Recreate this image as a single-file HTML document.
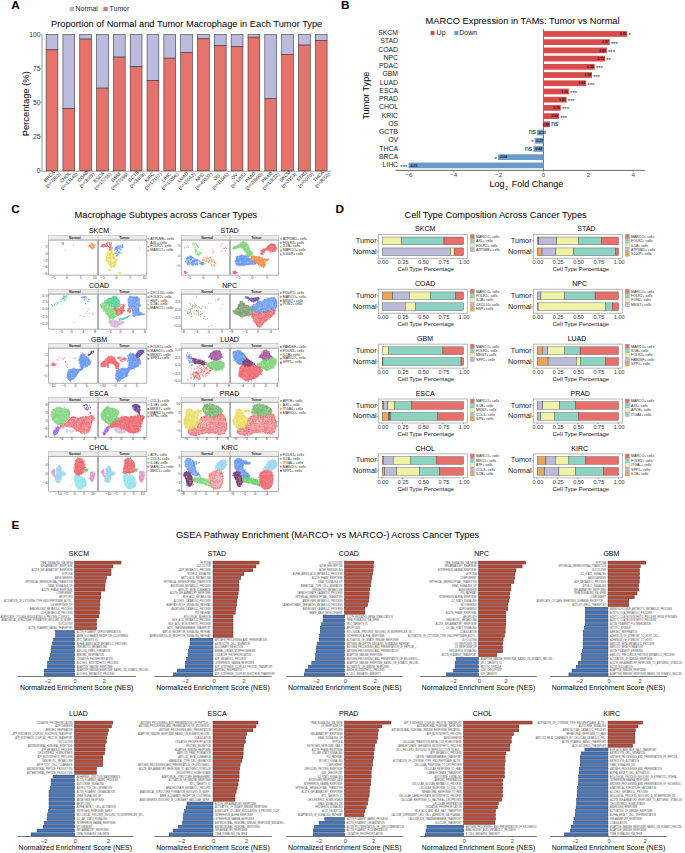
<!DOCTYPE html>
<html><head><meta charset="utf-8"><title>Figure</title>
<style>html,body{margin:0;padding:0;background:#fff;}svg{display:block;}text{font-family:"Liberation Sans",sans-serif;}</style>
</head><body>
<svg width="685" height="853" viewBox="0 0 685 853" font-family="Liberation Sans, sans-serif">
<rect width="685" height="853" fill="#fff"/>
<text x="11.30" y="9.30" font-size="11.8" font-weight="bold">A</text>
<rect x="69.90" y="7.00" width="4.00" height="4.00" fill="#BBBBDD" stroke="#999" stroke-width="0.3"/>
<text x="75.60" y="11.00" font-size="6.9" fill="#222">Normal</text>
<rect x="103.60" y="7.00" width="4.00" height="4.00" fill="#E5736C" stroke="#999" stroke-width="0.3"/>
<text x="109.60" y="11.00" font-size="6.9" fill="#222">Tumor</text>
<text x="51.00" y="27.30" font-size="9.27">Proportion of Normal and Tumor Macrophage in Each Tumor Type</text>
<line x1="42.00" y1="34.60" x2="42.00" y2="171.30" stroke="#8a8a8a" stroke-width="0.9"/>
<line x1="41.60" y1="171.20" x2="330.90" y2="171.20" stroke="#a8a8a8" stroke-width="1.0"/>
<line x1="40.60" y1="170.80" x2="42.00" y2="170.80" stroke="#8a8a8a" stroke-width="0.6"/>
<text x="40.60" y="173.20" font-size="6.8" text-anchor="end" fill="#333">0</text>
<line x1="40.60" y1="136.75" x2="42.00" y2="136.75" stroke="#8a8a8a" stroke-width="0.6"/>
<text x="40.60" y="139.15" font-size="6.8" text-anchor="end" fill="#333">25</text>
<line x1="40.60" y1="102.70" x2="42.00" y2="102.70" stroke="#8a8a8a" stroke-width="0.6"/>
<text x="40.60" y="105.10" font-size="6.8" text-anchor="end" fill="#333">50</text>
<line x1="40.60" y1="68.65" x2="42.00" y2="68.65" stroke="#8a8a8a" stroke-width="0.6"/>
<text x="40.60" y="71.05" font-size="6.8" text-anchor="end" fill="#333">75</text>
<line x1="40.60" y1="34.60" x2="42.00" y2="34.60" stroke="#8a8a8a" stroke-width="0.6"/>
<text x="40.60" y="37.00" font-size="6.8" text-anchor="end" fill="#333">100</text>
<text x="0.00" y="0.00" font-size="9.4" text-anchor="middle" transform="translate(29.4 103.8) rotate(-90)">Percentage (%)</text>
<rect x="46.10" y="34.60" width="11.78" height="15.25" fill="#BBBBDD" stroke="#3a3a3a" stroke-width="0.6"/>
<rect x="46.10" y="49.85" width="11.78" height="120.95" fill="#E5736C" stroke="#3a3a3a" stroke-width="0.6"/>
<line x1="51.99" y1="170.80" x2="51.99" y2="171.80" stroke="#8a8a8a" stroke-width="0.5"/>
<text x="50.51" y="177.43" font-size="4.8" text-anchor="middle" fill="#222" transform="rotate(-45 50.51 177.43)">BRCA</text>
<text x="54.32" y="181.25" font-size="4.8" text-anchor="middle" fill="#222" transform="rotate(-45 54.32 181.25)">(n=7862)</text>
<rect x="62.92" y="34.60" width="11.78" height="73.96" fill="#BBBBDD" stroke="#3a3a3a" stroke-width="0.6"/>
<rect x="62.92" y="108.56" width="11.78" height="62.24" fill="#E5736C" stroke="#3a3a3a" stroke-width="0.6"/>
<line x1="68.81" y1="170.80" x2="68.81" y2="171.80" stroke="#8a8a8a" stroke-width="0.5"/>
<text x="66.38" y="178.38" font-size="4.8" text-anchor="middle" fill="#222" transform="rotate(-45 66.38 178.38)">CHOL</text>
<text x="70.20" y="182.20" font-size="4.8" text-anchor="middle" fill="#222" transform="rotate(-45 70.20 182.20)">(n=13140)</text>
<rect x="79.75" y="34.60" width="11.78" height="4.49" fill="#BBBBDD" stroke="#3a3a3a" stroke-width="0.6"/>
<rect x="79.75" y="39.09" width="11.78" height="131.71" fill="#E5736C" stroke="#3a3a3a" stroke-width="0.6"/>
<line x1="85.64" y1="170.80" x2="85.64" y2="171.80" stroke="#8a8a8a" stroke-width="0.5"/>
<text x="84.16" y="177.43" font-size="4.8" text-anchor="middle" fill="#222" transform="rotate(-45 84.16 177.43)">COAD</text>
<text x="87.97" y="181.25" font-size="4.8" text-anchor="middle" fill="#222" transform="rotate(-45 87.97 181.25)">(n=3669)</text>
<rect x="96.57" y="34.60" width="11.78" height="53.53" fill="#BBBBDD" stroke="#3a3a3a" stroke-width="0.6"/>
<rect x="96.57" y="88.13" width="11.78" height="82.67" fill="#E5736C" stroke="#3a3a3a" stroke-width="0.6"/>
<line x1="102.46" y1="170.80" x2="102.46" y2="171.80" stroke="#8a8a8a" stroke-width="0.5"/>
<text x="100.03" y="178.38" font-size="4.8" text-anchor="middle" fill="#222" transform="rotate(-45 100.03 178.38)">ESCA</text>
<text x="103.85" y="182.20" font-size="4.8" text-anchor="middle" fill="#222" transform="rotate(-45 103.85 182.20)">(n=15755)</text>
<rect x="113.40" y="34.60" width="11.78" height="22.47" fill="#BBBBDD" stroke="#3a3a3a" stroke-width="0.6"/>
<rect x="113.40" y="57.07" width="11.78" height="113.73" fill="#E5736C" stroke="#3a3a3a" stroke-width="0.6"/>
<line x1="119.29" y1="170.80" x2="119.29" y2="171.80" stroke="#8a8a8a" stroke-width="0.5"/>
<text x="116.86" y="178.38" font-size="4.8" text-anchor="middle" fill="#222" transform="rotate(-45 116.86 178.38)">GBM</text>
<text x="120.67" y="182.20" font-size="4.8" text-anchor="middle" fill="#222" transform="rotate(-45 120.67 182.20)">(n=27699)</text>
<rect x="130.22" y="34.60" width="11.78" height="32.14" fill="#BBBBDD" stroke="#3a3a3a" stroke-width="0.6"/>
<rect x="130.22" y="66.74" width="11.78" height="104.06" fill="#E5736C" stroke="#3a3a3a" stroke-width="0.6"/>
<line x1="136.11" y1="170.80" x2="136.11" y2="171.80" stroke="#8a8a8a" stroke-width="0.5"/>
<text x="134.63" y="177.43" font-size="4.8" text-anchor="middle" fill="#222" transform="rotate(-45 134.63 177.43)">GCTB</text>
<text x="138.45" y="181.25" font-size="4.8" text-anchor="middle" fill="#222" transform="rotate(-45 138.45 181.25)">(n=3469)</text>
<rect x="147.05" y="34.60" width="11.78" height="46.04" fill="#BBBBDD" stroke="#3a3a3a" stroke-width="0.6"/>
<rect x="147.05" y="80.64" width="11.78" height="90.16" fill="#E5736C" stroke="#3a3a3a" stroke-width="0.6"/>
<line x1="152.94" y1="170.80" x2="152.94" y2="171.80" stroke="#8a8a8a" stroke-width="0.5"/>
<text x="150.51" y="178.38" font-size="4.8" text-anchor="middle" fill="#222" transform="rotate(-45 150.51 178.38)">KIRC</text>
<text x="154.32" y="182.20" font-size="4.8" text-anchor="middle" fill="#222" transform="rotate(-45 154.32 182.20)">(n=12157)</text>
<rect x="163.88" y="34.60" width="11.78" height="23.56" fill="#BBBBDD" stroke="#3a3a3a" stroke-width="0.6"/>
<rect x="163.88" y="58.16" width="11.78" height="112.64" fill="#E5736C" stroke="#3a3a3a" stroke-width="0.6"/>
<line x1="169.76" y1="170.80" x2="169.76" y2="171.80" stroke="#8a8a8a" stroke-width="0.5"/>
<text x="167.33" y="178.38" font-size="4.8" text-anchor="middle" fill="#222" transform="rotate(-45 167.33 178.38)">LIHC</text>
<text x="171.15" y="182.20" font-size="4.8" text-anchor="middle" fill="#222" transform="rotate(-45 171.15 182.20)">(n=10396)</text>
<rect x="180.70" y="34.60" width="11.78" height="17.84" fill="#BBBBDD" stroke="#3a3a3a" stroke-width="0.6"/>
<rect x="180.70" y="52.44" width="11.78" height="118.36" fill="#E5736C" stroke="#3a3a3a" stroke-width="0.6"/>
<line x1="186.59" y1="170.80" x2="186.59" y2="171.80" stroke="#8a8a8a" stroke-width="0.5"/>
<text x="184.16" y="178.38" font-size="4.8" text-anchor="middle" fill="#222" transform="rotate(-45 184.16 178.38)">LUAD</text>
<text x="187.97" y="182.20" font-size="4.8" text-anchor="middle" fill="#222" transform="rotate(-45 187.97 182.20)">(n=15012)</text>
<rect x="197.52" y="34.60" width="11.78" height="4.22" fill="#BBBBDD" stroke="#3a3a3a" stroke-width="0.6"/>
<rect x="197.52" y="38.82" width="11.78" height="131.98" fill="#E5736C" stroke="#3a3a3a" stroke-width="0.6"/>
<line x1="203.41" y1="170.80" x2="203.41" y2="171.80" stroke="#8a8a8a" stroke-width="0.5"/>
<text x="200.98" y="178.38" font-size="4.8" text-anchor="middle" fill="#222" transform="rotate(-45 200.98 178.38)">NPC</text>
<text x="204.80" y="182.20" font-size="4.8" text-anchor="middle" fill="#222" transform="rotate(-45 204.80 182.20)">(n=49337)</text>
<rect x="214.35" y="34.60" width="11.78" height="10.90" fill="#BBBBDD" stroke="#3a3a3a" stroke-width="0.6"/>
<rect x="214.35" y="45.50" width="11.78" height="125.30" fill="#E5736C" stroke="#3a3a3a" stroke-width="0.6"/>
<line x1="220.24" y1="170.80" x2="220.24" y2="171.80" stroke="#8a8a8a" stroke-width="0.5"/>
<text x="217.81" y="178.38" font-size="4.8" text-anchor="middle" fill="#222" transform="rotate(-45 217.81 178.38)">OS</text>
<text x="221.62" y="182.20" font-size="4.8" text-anchor="middle" fill="#222" transform="rotate(-45 221.62 182.20)">(n=11045)</text>
<rect x="231.17" y="34.60" width="11.78" height="11.99" fill="#BBBBDD" stroke="#3a3a3a" stroke-width="0.6"/>
<rect x="231.17" y="46.59" width="11.78" height="124.21" fill="#E5736C" stroke="#3a3a3a" stroke-width="0.6"/>
<line x1="237.06" y1="170.80" x2="237.06" y2="171.80" stroke="#8a8a8a" stroke-width="0.5"/>
<text x="235.58" y="177.43" font-size="4.8" text-anchor="middle" fill="#222" transform="rotate(-45 235.58 177.43)">OV</text>
<text x="239.40" y="181.25" font-size="4.8" text-anchor="middle" fill="#222" transform="rotate(-45 239.40 181.25)">(n=1255)</text>
<rect x="248.00" y="34.60" width="11.78" height="2.59" fill="#BBBBDD" stroke="#3a3a3a" stroke-width="0.6"/>
<rect x="248.00" y="37.19" width="11.78" height="133.61" fill="#E5736C" stroke="#3a3a3a" stroke-width="0.6"/>
<line x1="253.89" y1="170.80" x2="253.89" y2="171.80" stroke="#8a8a8a" stroke-width="0.5"/>
<text x="251.46" y="178.38" font-size="4.8" text-anchor="middle" fill="#222" transform="rotate(-45 251.46 178.38)">PAAD</text>
<text x="255.27" y="182.20" font-size="4.8" text-anchor="middle" fill="#222" transform="rotate(-45 255.27 182.20)">(n=20990)</text>
<rect x="264.82" y="34.60" width="11.78" height="63.88" fill="#BBBBDD" stroke="#3a3a3a" stroke-width="0.6"/>
<rect x="264.82" y="98.48" width="11.78" height="72.32" fill="#E5736C" stroke="#3a3a3a" stroke-width="0.6"/>
<line x1="270.71" y1="170.80" x2="270.71" y2="171.80" stroke="#8a8a8a" stroke-width="0.5"/>
<text x="268.28" y="178.38" font-size="4.8" text-anchor="middle" fill="#222" transform="rotate(-45 268.28 178.38)">PRAD</text>
<text x="272.10" y="182.20" font-size="4.8" text-anchor="middle" fill="#222" transform="rotate(-45 272.10 182.20)">(n=10622)</text>
<rect x="281.65" y="34.60" width="11.78" height="19.75" fill="#BBBBDD" stroke="#3a3a3a" stroke-width="0.6"/>
<rect x="281.65" y="54.35" width="11.78" height="116.45" fill="#E5736C" stroke="#3a3a3a" stroke-width="0.6"/>
<line x1="287.54" y1="170.80" x2="287.54" y2="171.80" stroke="#8a8a8a" stroke-width="0.5"/>
<text x="286.06" y="177.43" font-size="4.8" text-anchor="middle" fill="#222" transform="rotate(-45 286.06 177.43)">SKCM</text>
<text x="289.87" y="181.25" font-size="4.8" text-anchor="middle" fill="#222" transform="rotate(-45 289.87 181.25)">(n=3153)</text>
<rect x="298.48" y="34.60" width="11.78" height="10.49" fill="#BBBBDD" stroke="#3a3a3a" stroke-width="0.6"/>
<rect x="298.48" y="45.09" width="11.78" height="125.71" fill="#E5736C" stroke="#3a3a3a" stroke-width="0.6"/>
<line x1="304.37" y1="170.80" x2="304.37" y2="171.80" stroke="#8a8a8a" stroke-width="0.5"/>
<text x="302.88" y="177.43" font-size="4.8" text-anchor="middle" fill="#222" transform="rotate(-45 302.88 177.43)">STAD</text>
<text x="306.70" y="181.25" font-size="4.8" text-anchor="middle" fill="#222" transform="rotate(-45 306.70 181.25)">(n=5070)</text>
<rect x="315.30" y="34.60" width="11.78" height="5.86" fill="#BBBBDD" stroke="#3a3a3a" stroke-width="0.6"/>
<rect x="315.30" y="40.46" width="11.78" height="130.34" fill="#E5736C" stroke="#3a3a3a" stroke-width="0.6"/>
<line x1="321.19" y1="170.80" x2="321.19" y2="171.80" stroke="#8a8a8a" stroke-width="0.5"/>
<text x="319.71" y="177.43" font-size="4.8" text-anchor="middle" fill="#222" transform="rotate(-45 319.71 177.43)">THCA</text>
<text x="323.52" y="181.25" font-size="4.8" text-anchor="middle" fill="#222" transform="rotate(-45 323.52 181.25)">(n=8650)</text>
<text x="341.00" y="9.30" font-size="11.8" font-weight="bold">B</text>
<text x="425.60" y="23.80" font-size="9.25">MARCO Expression in TAMs: Tumor vs Normal</text>
<rect x="430.60" y="31.00" width="4.00" height="4.00" fill="#D94B4B"/>
<text x="436.60" y="35.00" font-size="7.0" fill="#222">Up</text>
<rect x="454.30" y="31.00" width="4.00" height="4.00" fill="#6B9BC9"/>
<text x="459.30" y="35.00" font-size="7.0" fill="#222">Down</text>
<line x1="543.50" y1="29.00" x2="543.50" y2="170.40" stroke="#444" stroke-width="0.7"/>
<rect x="543.50" y="31.08" width="83.74" height="5.75" fill="#D94B4B"/>
<text x="398.10" y="35.00" font-size="6.9" text-anchor="end" fill="#222">SKCM</text>
<text x="626.24" y="35.15" font-size="3.4" text-anchor="end" font-weight="bold" fill="#111">3.75</text>
<text x="628.44" y="37.45" font-size="6.0" fill="#222">*</text>
<rect x="543.50" y="39.29" width="66.23" height="5.75" fill="#D94B4B"/>
<text x="398.10" y="43.26" font-size="6.9" text-anchor="end" fill="#222">STAD</text>
<text x="608.73" y="43.37" font-size="3.4" text-anchor="end" font-weight="bold" fill="#111">2.97</text>
<text x="610.93" y="45.67" font-size="6.0" fill="#222">***</text>
<rect x="543.50" y="47.51" width="63.31" height="5.75" fill="#D94B4B"/>
<text x="398.10" y="51.51" font-size="6.9" text-anchor="end" fill="#222">COAD</text>
<text x="605.81" y="51.58" font-size="3.4" text-anchor="end" font-weight="bold" fill="#111">2.83</text>
<text x="608.01" y="53.88" font-size="6.0" fill="#222">***</text>
<rect x="543.50" y="55.72" width="61.51" height="5.75" fill="#D94B4B"/>
<text x="398.10" y="59.77" font-size="6.9" text-anchor="end" fill="#222">NPC</text>
<text x="604.01" y="59.80" font-size="3.4" text-anchor="end" font-weight="bold" fill="#111">2.75</text>
<text x="606.21" y="62.10" font-size="6.0" fill="#222">**</text>
<rect x="543.50" y="63.94" width="51.19" height="5.75" fill="#D94B4B"/>
<text x="398.10" y="68.02" font-size="6.9" text-anchor="end" fill="#222">PDAC</text>
<text x="593.69" y="68.01" font-size="3.4" text-anchor="end" font-weight="bold" fill="#111">2.29</text>
<text x="595.89" y="70.31" font-size="6.0" fill="#222">***</text>
<rect x="543.50" y="72.16" width="48.49" height="5.75" fill="#D94B4B"/>
<text x="398.10" y="76.28" font-size="6.9" text-anchor="end" fill="#222">GBM</text>
<text x="590.99" y="76.23" font-size="3.4" text-anchor="end" font-weight="bold" fill="#111">2.18</text>
<text x="593.19" y="78.53" font-size="6.0" fill="#222">***</text>
<rect x="543.50" y="80.37" width="42.65" height="5.75" fill="#D94B4B"/>
<text x="398.10" y="84.54" font-size="6.9" text-anchor="end" fill="#222">LUAD</text>
<text x="585.15" y="84.45" font-size="3.4" text-anchor="end" font-weight="bold" fill="#111">1.92</text>
<text x="587.36" y="86.75" font-size="6.0" fill="#222">***</text>
<rect x="543.50" y="88.59" width="25.37" height="5.75" fill="#D94B4B"/>
<text x="398.10" y="92.79" font-size="6.9" text-anchor="end" fill="#222">ESCA</text>
<text x="567.87" y="92.66" font-size="3.4" text-anchor="end" font-weight="bold" fill="#111">1.16</text>
<text x="570.07" y="94.96" font-size="6.0" fill="#222">***</text>
<rect x="543.50" y="96.80" width="23.12" height="5.75" fill="#D94B4B"/>
<text x="398.10" y="101.05" font-size="6.9" text-anchor="end" fill="#222">PRAD</text>
<text x="565.62" y="100.88" font-size="3.4" text-anchor="end" font-weight="bold" fill="#111">1.05</text>
<text x="567.82" y="103.18" font-size="6.0" fill="#222">***</text>
<rect x="543.50" y="105.02" width="17.29" height="5.75" fill="#D94B4B"/>
<text x="398.10" y="109.30" font-size="6.9" text-anchor="end" fill="#222">CHOL</text>
<text x="559.79" y="109.09" font-size="3.4" text-anchor="end" font-weight="bold" fill="#111">0.76</text>
<text x="561.99" y="111.39" font-size="6.0" fill="#222">***</text>
<rect x="543.50" y="113.23" width="15.49" height="5.75" fill="#D94B4B"/>
<text x="398.10" y="117.56" font-size="6.9" text-anchor="end" fill="#222">KRIC</text>
<text x="557.99" y="117.31" font-size="3.4" text-anchor="end" font-weight="bold" fill="#111">0.69</text>
<text x="560.19" y="119.61" font-size="6.0" fill="#222">***</text>
<rect x="543.50" y="121.45" width="6.51" height="5.75" fill="#D94B4B"/>
<text x="398.10" y="125.82" font-size="6.9" text-anchor="end" fill="#222">OS</text>
<text x="549.01" y="125.53" font-size="3.4" text-anchor="end" font-weight="bold" fill="#111">0.28</text>
<text x="551.21" y="126.13" font-size="6.8" fill="#111">ns</text>
<rect x="537.21" y="129.67" width="6.29" height="5.75" fill="#6B9BC9"/>
<text x="398.10" y="134.07" font-size="6.9" text-anchor="end" fill="#222">GCTB</text>
<text x="538.21" y="133.74" font-size="3.4" font-weight="bold" fill="#111">-0.29</text>
<text x="536.01" y="134.34" font-size="6.8" text-anchor="end" fill="#111">ns</text>
<rect x="534.74" y="137.88" width="8.76" height="5.75" fill="#6B9BC9"/>
<text x="398.10" y="142.33" font-size="6.9" text-anchor="end" fill="#222">OV</text>
<text x="535.74" y="141.96" font-size="3.4" font-weight="bold" fill="#111">-0.37</text>
<text x="533.54" y="144.26" font-size="6.0" text-anchor="end" fill="#222">*</text>
<rect x="533.40" y="146.10" width="10.10" height="5.75" fill="#6B9BC9"/>
<text x="398.10" y="150.58" font-size="6.9" text-anchor="end" fill="#222">THCA</text>
<text x="534.40" y="150.17" font-size="3.4" font-weight="bold" fill="#111">-0.44</text>
<text x="532.20" y="150.77" font-size="6.8" text-anchor="end" fill="#111">ns</text>
<rect x="498.15" y="154.31" width="45.35" height="5.75" fill="#6B9BC9"/>
<text x="398.10" y="158.84" font-size="6.9" text-anchor="end" fill="#222">BRCA</text>
<text x="499.15" y="158.39" font-size="3.4" font-weight="bold" fill="#111">-2.04</text>
<text x="496.95" y="160.69" font-size="6.0" text-anchor="end" fill="#222">*</text>
<rect x="408.58" y="162.53" width="134.92" height="5.75" fill="#6B9BC9"/>
<text x="398.10" y="167.10" font-size="6.9" text-anchor="end" fill="#222">LIHC</text>
<text x="409.58" y="166.61" font-size="3.4" font-weight="bold" fill="#111">-6.03</text>
<text x="407.38" y="168.91" font-size="6.0" text-anchor="end" fill="#222">***</text>
<line x1="395.50" y1="170.40" x2="645.00" y2="170.40" stroke="#444" stroke-width="0.8"/>
<line x1="408.80" y1="170.40" x2="408.80" y2="171.60" stroke="#444" stroke-width="0.5"/>
<text x="408.80" y="177.00" font-size="6.2" text-anchor="middle" fill="#444">−6</text>
<line x1="453.70" y1="170.40" x2="453.70" y2="171.60" stroke="#444" stroke-width="0.5"/>
<text x="453.70" y="177.00" font-size="6.2" text-anchor="middle" fill="#444">−4</text>
<line x1="498.60" y1="170.40" x2="498.60" y2="171.60" stroke="#444" stroke-width="0.5"/>
<text x="498.60" y="177.00" font-size="6.2" text-anchor="middle" fill="#444">−2</text>
<line x1="543.50" y1="170.40" x2="543.50" y2="171.60" stroke="#444" stroke-width="0.5"/>
<text x="543.50" y="177.00" font-size="6.2" text-anchor="middle" fill="#444">0</text>
<line x1="588.40" y1="170.40" x2="588.40" y2="171.60" stroke="#444" stroke-width="0.5"/>
<text x="588.40" y="177.00" font-size="6.2" text-anchor="middle" fill="#444">2</text>
<line x1="633.30" y1="170.40" x2="633.30" y2="171.60" stroke="#444" stroke-width="0.5"/>
<text x="633.30" y="177.00" font-size="6.2" text-anchor="middle" fill="#444">4</text>
<text x="489.60" y="187.20" font-size="9.0">Log</text>
<text x="505.30" y="189.60" font-size="4.8">2</text>
<text x="563.40" y="187.20" font-size="9.0" text-anchor="end">Fold Change</text>
<text x="0.00" y="0.00" font-size="9.05" text-anchor="middle" transform="translate(368.7 95.7) rotate(-90)">Tumor Type</text>
<text x="11.30" y="212.50" font-size="11.8" font-weight="bold">C</text>
<text x="74.50" y="218.30" font-size="9.3">Macrophage Subtypes across Cancer Types</text>
<text x="99.00" y="232.80" font-size="7.0" text-anchor="middle">SKCM</text>
<rect x="48.70" y="235.30" width="48.60" height="4.80" fill="#ECECEC" stroke="#B0B0B0" stroke-width="0.5"/>
<text x="74.80" y="238.90" font-size="3.4" text-anchor="middle" font-weight="bold" fill="#222">Normal</text>
<rect x="48.70" y="240.10" width="48.60" height="35.00" fill="#fff" stroke="#8c8c8c" stroke-width="0.7"/>
<path d="M62.9 242.6h0M63.6 243.2h0M62.1 242.5h0M63.3 244.3h0M62.3 242.8h0M63.8 243.2h0M62.3 242.6h0M62.9 244.3h0M62.5 243.7h0" stroke="#EE5B62" stroke-width="0.8" stroke-linecap="round" fill="none"/>
<path d="M73.4 245.4h0M65.4 250.4h0" stroke="#5B8FF2" stroke-width="0.8" stroke-linecap="round" fill="none"/>
<path d="M92.4 245.4h0M91.8 243.7h0M92.7 245.7h0M90.1 246.6h0M91.1 245.0h0M93.6 247.2h0M89.6 246.5h0M91.6 248.2h0M93.1 245.0h0M90.8 247.5h0M88.9 246.1h0M93.4 246.5h0M94.2 245.1h0M92.9 246.6h0M92.0 245.9h0M91.2 247.0h0M92.5 248.8h0M93.8 244.9h0M90.6 247.0h0M87.9 245.9h0M88.4 245.8h0M91.8 248.2h0M93.8 248.1h0M89.8 245.7h0M89.5 246.0h0M92.1 244.8h0M90.5 246.5h0M91.5 246.8h0M92.7 243.7h0M94.3 247.6h0M94.2 247.7h0M90.6 245.6h0M92.3 244.2h0M89.6 245.3h0M91.2 246.0h0M90.3 244.8h0M93.8 244.3h0M91.6 244.2h0M91.7 243.5h0M94.1 247.2h0M89.7 245.4h0M91.7 247.6h0M94.0 247.8h0M93.8 247.4h0M89.4 246.2h0M94.8 245.8h0M94.8 245.4h0M92.3 248.3h0M93.9 246.0h0M92.5 247.8h0M93.3 246.0h0M94.9 245.5h0M93.1 244.3h0M90.3 246.4h0M91.6 248.5h0" stroke="#F0873F" stroke-width="0.8" stroke-linecap="round" fill="none"/>
<rect x="98.40" y="235.30" width="48.40" height="4.80" fill="#ECECEC" stroke="#B0B0B0" stroke-width="0.5"/>
<text x="124.40" y="238.90" font-size="3.4" text-anchor="middle" font-weight="bold" fill="#222">Tumor</text>
<rect x="98.40" y="240.10" width="48.40" height="35.00" fill="#fff" stroke="#8c8c8c" stroke-width="0.7"/>
<path d="M111.3 243.9h0M103.6 244.6h0M103.4 247.1h0M103.7 245.7h0M105.0 246.0h0M107.0 246.6h0M107.3 242.2h0M106.1 243.6h0M102.5 246.1h0M110.0 246.9h0M104.6 246.5h0M101.6 246.9h0M103.5 244.5h0M110.6 246.4h0M108.5 246.4h0M106.3 246.7h0M109.6 249.6h0M111.5 243.2h0M101.8 245.9h0M110.8 249.8h0M109.1 243.3h0M105.6 246.3h0M102.4 245.8h0M107.2 245.0h0M102.8 244.8h0M109.9 242.2h0M107.7 245.9h0M108.6 246.5h0M110.8 250.4h0M111.2 244.3h0M109.5 245.7h0M106.3 245.0h0M107.3 244.1h0M104.4 244.7h0M110.4 244.6h0M106.9 243.6h0M110.1 246.8h0M102.7 246.2h0M111.2 245.8h0M105.5 246.4h0M109.5 250.5h0M109.7 247.5h0M105.7 245.1h0M111.9 247.8h0M104.0 244.2h0M104.1 246.0h0M102.3 245.9h0M104.4 245.1h0M106.6 246.4h0M102.9 246.4h0M101.4 245.5h0M104.3 244.1h0M108.1 246.6h0M110.3 247.7h0M109.9 249.6h0M105.4 244.9h0M110.0 247.6h0M112.2 247.5h0M110.1 249.1h0M102.1 246.6h0M111.1 249.2h0M109.4 248.0h0M102.0 245.2h0M111.0 248.5h0M107.0 246.7h0M109.1 242.6h0M110.1 244.2h0M110.0 243.8h0M110.2 250.5h0M106.9 245.4h0M110.5 247.4h0M108.9 242.7h0M110.2 244.7h0M107.9 242.2h0M109.3 248.0h0M109.3 244.6h0M107.2 246.1h0M106.5 243.1h0M111.3 250.4h0M106.3 244.4h0M103.0 247.1h0M102.1 246.6h0M111.3 246.4h0M112.2 248.1h0M100.2 246.3h0M106.3 244.7h0M102.1 245.0h0M111.5 243.1h0M105.2 245.4h0M105.1 245.8h0M103.6 244.4h0M107.1 243.7h0M112.1 249.1h0M109.9 242.5h0M110.1 245.9h0" stroke="#EE5B62" stroke-width="0.8" stroke-linecap="round" fill="none"/>
<path d="M120.8 252.1h0M122.5 245.7h0M118.2 248.4h0M116.5 253.3h0M123.0 247.3h0M119.9 247.8h0M119.0 249.0h0M118.4 246.8h0M118.0 245.8h0M116.9 245.2h0M116.0 247.3h0M120.8 249.2h0M117.6 250.6h0M117.3 248.3h0M118.5 251.9h0M121.9 246.8h0M116.3 247.2h0M117.5 249.6h0M122.0 244.4h0M117.4 255.6h0M122.9 247.2h0M118.7 252.6h0M119.8 253.6h0M118.0 251.0h0M119.8 247.9h0M114.9 247.2h0M119.7 252.8h0M118.7 251.3h0M117.4 246.9h0M116.6 249.8h0M115.9 247.2h0M118.4 252.5h0M117.7 247.3h0M116.9 249.3h0M120.2 246.6h0M121.3 253.3h0M118.5 246.7h0M121.5 247.0h0M115.8 253.5h0M116.5 255.9h0M118.4 246.4h0M115.8 249.3h0M115.1 249.0h0M114.3 249.0h0M120.0 248.8h0M117.2 248.2h0M116.3 248.5h0M122.8 245.6h0M122.8 246.7h0M117.1 254.3h0M121.5 249.5h0M117.2 255.5h0M115.5 248.6h0M122.2 244.5h0M117.6 254.2h0M122.4 247.3h0M116.9 247.5h0M116.2 253.0h0M116.7 247.5h0M115.9 250.0h0M117.4 247.2h0M117.8 250.2h0M122.5 246.4h0M121.3 253.3h0M119.5 248.2h0M116.7 248.6h0M121.1 245.1h0M115.6 253.5h0M114.6 250.3h0M120.4 249.7h0M115.9 249.3h0M119.6 252.5h0M120.0 245.6h0M121.7 247.8h0M119.1 248.7h0M120.7 246.6h0M116.0 247.2h0M119.2 248.2h0M118.5 247.0h0M118.2 254.3h0M116.2 253.8h0M122.7 245.4h0M119.4 251.8h0M115.8 248.7h0M116.1 251.5h0M119.9 246.6h0M120.1 246.4h0M116.7 246.6h0M121.2 250.9h0M117.4 250.9h0M119.8 245.2h0M115.2 252.7h0M117.6 247.6h0M116.6 255.9h0M116.7 251.1h0" stroke="#5B8FF2" stroke-width="0.8" stroke-linecap="round" fill="none"/>
<path d="M110.0 257.4h0M110.0 253.5h0M114.4 253.6h0M110.8 264.6h0M110.6 265.7h0M111.2 252.9h0M105.8 259.8h0M113.4 266.2h0M106.7 261.1h0M110.1 259.0h0M107.4 255.0h0M111.9 266.5h0M107.0 258.7h0M108.0 252.2h0M111.5 250.9h0M116.6 261.0h0M115.1 253.9h0M110.5 265.1h0M108.3 257.1h0M111.9 256.8h0M107.1 254.4h0M114.4 266.0h0M106.2 260.0h0M112.9 259.8h0M113.2 255.4h0M110.7 260.4h0M110.8 261.7h0M111.0 257.8h0M111.6 254.2h0M114.9 263.9h0M111.2 253.2h0M111.4 251.9h0M107.2 257.6h0M106.8 257.9h0M111.8 250.7h0M113.3 251.4h0M114.5 263.9h0M111.8 250.9h0M111.7 256.7h0M114.5 264.5h0M111.6 267.1h0M115.2 266.6h0M106.5 256.2h0M114.8 252.8h0M111.7 266.4h0M108.2 254.6h0M111.8 255.7h0M113.9 266.0h0M107.1 259.4h0M113.3 256.4h0M116.2 259.9h0M112.7 265.7h0M113.2 257.0h0M115.3 254.7h0M117.6 260.3h0M110.0 263.6h0M111.0 253.1h0M115.5 254.5h0M113.4 267.5h0M112.7 261.8h0M113.1 257.7h0M111.8 266.0h0M107.3 254.0h0M106.9 256.3h0M108.4 260.4h0M112.8 253.6h0M113.2 258.4h0M108.6 252.6h0M106.8 261.4h0M116.2 263.9h0M110.5 254.7h0M112.4 256.2h0M113.4 257.9h0M106.2 259.5h0M110.6 254.2h0M105.8 259.8h0M108.1 260.8h0M111.8 261.4h0M109.4 255.3h0M115.1 262.7h0M114.6 258.3h0M114.6 258.0h0M108.4 251.8h0M108.5 250.6h0M109.7 263.4h0M114.0 265.1h0M114.2 254.7h0M112.3 257.7h0M115.2 259.3h0M108.9 261.4h0M108.8 254.2h0M114.6 266.8h0M114.7 255.8h0M113.3 262.3h0M113.7 267.5h0M111.3 265.0h0M114.1 265.3h0M110.9 262.9h0M112.5 255.5h0M108.2 261.1h0M109.8 252.5h0M114.0 261.3h0M114.1 263.1h0M106.5 260.5h0M110.0 264.6h0M115.5 265.9h0M107.0 253.6h0M115.9 264.5h0M113.3 264.7h0M113.3 255.1h0M114.8 253.6h0M109.5 257.5h0M109.1 262.7h0M110.1 255.7h0M115.9 261.0h0M106.0 257.3h0M110.9 263.8h0M109.8 262.6h0M112.1 253.8h0M111.6 264.2h0M107.9 258.8h0M109.8 264.8h0M109.1 253.8h0M114.1 258.9h0M107.0 261.3h0M114.1 264.0h0M113.2 256.3h0M110.5 257.0h0M108.1 254.7h0M116.5 258.9h0M110.2 265.8h0M108.5 258.2h0M112.1 263.4h0M114.7 261.5h0M109.9 255.8h0M113.6 263.2h0M107.7 257.8h0M115.0 260.3h0M107.2 258.2h0M108.0 255.3h0M114.1 265.0h0M107.5 252.7h0M108.6 255.8h0M112.0 252.8h0M109.6 253.3h0M106.9 256.8h0M114.5 257.7h0M108.0 261.4h0M107.0 253.6h0M110.3 250.6h0M110.5 264.1h0M114.0 258.9h0M113.3 258.2h0M107.4 260.7h0M110.5 263.2h0M112.6 263.3h0M110.7 254.0h0M114.4 265.7h0M115.0 262.5h0M115.9 262.1h0M113.4 258.1h0M109.4 261.2h0M106.8 257.5h0M115.1 262.7h0M113.2 254.4h0M110.8 258.1h0M113.2 257.3h0M113.8 266.6h0M107.9 261.7h0M115.0 256.9h0M111.6 267.4h0M106.1 259.7h0M117.0 259.2h0M106.9 260.2h0M112.2 262.8h0M111.8 261.4h0M115.6 259.3h0M110.6 266.9h0M108.2 262.2h0M110.4 263.6h0M109.9 251.0h0M109.0 257.1h0M110.7 262.4h0M109.9 254.7h0M108.4 263.2h0M117.0 259.4h0M108.3 264.3h0M110.4 253.7h0M115.4 261.3h0M111.3 260.0h0M109.9 261.4h0M115.5 264.5h0M111.3 255.2h0M112.3 252.2h0M115.7 256.3h0M110.2 254.5h0M110.8 253.3h0M109.1 254.3h0M109.3 258.5h0M110.8 261.3h0M113.6 256.4h0M116.6 264.0h0M113.6 254.4h0M106.9 252.5h0M108.5 263.8h0M109.8 252.7h0M113.0 263.9h0M113.7 265.9h0M115.2 264.9h0M108.0 262.3h0M112.1 263.2h0M110.9 265.7h0M112.3 254.7h0M108.5 252.4h0M111.6 251.0h0M111.3 252.5h0M111.6 258.9h0M112.2 265.4h0M111.3 260.0h0M113.7 265.0h0M110.2 257.4h0M113.3 261.3h0M113.9 266.6h0M111.8 258.6h0M114.3 261.1h0M109.7 265.4h0M110.1 258.4h0M112.0 263.7h0M108.2 257.7h0M110.8 259.9h0M110.0 269.5h0M110.0 269.8h0M109.1 269.5h0M109.5 270.5h0M108.7 269.6h0M108.6 270.1h0M109.5 270.5h0M110.1 270.0h0M118.2 272.5h0M118.1 272.2h0M120.6 273.1h0M119.9 273.5h0M120.5 273.1h0M119.7 273.1h0M120.0 273.1h0M119.9 272.3h0M119.9 272.8h0M119.8 272.6h0" stroke="#E6D63E" stroke-width="0.8" stroke-linecap="round" fill="none"/>
<path d="M139.6 247.0h0M139.6 249.6h0" stroke="#F0873F" stroke-width="0.8" stroke-linecap="round" fill="none"/>
<line x1="47.80" y1="246.70" x2="48.70" y2="246.70" stroke="#777" stroke-width="0.4"/>
<text x="47.50" y="248.05" font-size="3.8" text-anchor="end" fill="#444">2</text>
<line x1="47.80" y1="253.50" x2="48.70" y2="253.50" stroke="#777" stroke-width="0.4"/>
<text x="47.50" y="254.85" font-size="3.8" text-anchor="end" fill="#444">0</text>
<line x1="47.80" y1="260.20" x2="48.70" y2="260.20" stroke="#777" stroke-width="0.4"/>
<text x="47.50" y="261.55" font-size="3.8" text-anchor="end" fill="#444">−2</text>
<line x1="47.80" y1="267.00" x2="48.70" y2="267.00" stroke="#777" stroke-width="0.4"/>
<text x="47.50" y="268.35" font-size="3.8" text-anchor="end" fill="#444">−4</text>
<line x1="47.80" y1="273.60" x2="48.70" y2="273.60" stroke="#777" stroke-width="0.4"/>
<text x="47.50" y="274.95" font-size="3.8" text-anchor="end" fill="#444">−6</text>
<line x1="53.40" y1="275.10" x2="53.40" y2="276.00" stroke="#777" stroke-width="0.4"/>
<text x="53.40" y="279.05" font-size="3.8" text-anchor="middle" fill="#444">−5</text>
<line x1="67.10" y1="275.10" x2="67.10" y2="276.00" stroke="#777" stroke-width="0.4"/>
<text x="67.10" y="279.05" font-size="3.8" text-anchor="middle" fill="#444">0</text>
<line x1="80.80" y1="275.10" x2="80.80" y2="276.00" stroke="#777" stroke-width="0.4"/>
<text x="80.80" y="279.05" font-size="3.8" text-anchor="middle" fill="#444">5</text>
<line x1="94.80" y1="275.10" x2="94.80" y2="276.00" stroke="#777" stroke-width="0.4"/>
<text x="94.80" y="279.05" font-size="3.8" text-anchor="middle" fill="#444">10</text>
<line x1="102.60" y1="275.10" x2="102.60" y2="276.00" stroke="#777" stroke-width="0.4"/>
<text x="102.60" y="279.05" font-size="3.8" text-anchor="middle" fill="#444">−5</text>
<line x1="116.40" y1="275.10" x2="116.40" y2="276.00" stroke="#777" stroke-width="0.4"/>
<text x="116.40" y="279.05" font-size="3.8" text-anchor="middle" fill="#444">0</text>
<line x1="130.30" y1="275.10" x2="130.30" y2="276.00" stroke="#777" stroke-width="0.4"/>
<text x="130.30" y="279.05" font-size="3.8" text-anchor="middle" fill="#444">5</text>
<line x1="144.50" y1="275.10" x2="144.50" y2="276.00" stroke="#777" stroke-width="0.4"/>
<text x="144.50" y="279.05" font-size="3.8" text-anchor="middle" fill="#444">10</text>
<rect x="147.50" y="237.90" width="1.80" height="1.80" fill="#F0873F" fill-opacity="0.85"/>
<text x="150.30" y="239.60" font-size="3.5" fill="#222">ATP5ME+ cells</text>
<rect x="147.50" y="241.83" width="1.80" height="1.80" fill="#E6D63E" fill-opacity="0.85"/>
<text x="150.30" y="243.53" font-size="3.5" fill="#222">AXL+ cells</text>
<rect x="147.50" y="245.76" width="1.80" height="1.80" fill="#5B8FF2" fill-opacity="0.85"/>
<text x="150.30" y="247.46" font-size="3.5" fill="#222">FOLR2+ cells</text>
<rect x="147.50" y="249.69" width="1.80" height="1.80" fill="#EE5B62" fill-opacity="0.85"/>
<text x="150.30" y="251.39" font-size="3.5" fill="#222">MARCO+ cells</text>
<text x="229.60" y="232.80" font-size="7.0" text-anchor="middle">STAD</text>
<rect x="181.50" y="235.30" width="47.80" height="4.80" fill="#ECECEC" stroke="#B0B0B0" stroke-width="0.5"/>
<text x="207.20" y="238.90" font-size="3.4" text-anchor="middle" font-weight="bold" fill="#222">Normal</text>
<rect x="181.50" y="240.10" width="47.80" height="35.00" fill="#fff" stroke="#8c8c8c" stroke-width="0.7"/>
<path d="M200.1 252.9h0M197.6 245.8h0M195.0 248.0h0M195.2 248.1h0M198.4 254.9h0M192.4 243.9h0M200.0 250.1h0M197.9 254.9h0M196.1 243.7h0M199.1 253.8h0M198.2 251.9h0M195.1 252.1h0M195.7 250.0h0M196.4 251.4h0M195.6 251.0h0M198.2 247.9h0M195.8 252.9h0M201.4 252.9h0M197.6 246.2h0M199.0 253.5h0M195.3 250.5h0M201.7 253.5h0M198.0 246.5h0M196.3 254.3h0M195.8 251.5h0M198.0 254.4h0M196.2 250.2h0M200.1 254.3h0M200.0 254.0h0M197.7 246.0h0M200.4 253.2h0M198.8 254.6h0M195.5 243.4h0M197.5 253.1h0M198.0 251.4h0M196.6 245.1h0M197.8 254.4h0M196.7 250.2h0M193.9 244.9h0M195.6 249.9h0M196.0 249.3h0M193.5 242.9h0M197.9 246.9h0M197.6 245.8h0M201.4 252.6h0M194.0 244.7h0M192.9 243.0h0M197.5 254.0h0M197.9 247.7h0M194.6 249.9h0M198.4 255.2h0M198.6 247.6h0M196.5 244.4h0M194.6 247.0h0M199.8 251.9h0M192.6 244.2h0M199.5 255.0h0M197.9 252.5h0M193.1 246.7h0M194.6 244.0h0M186.6 246.6h0M187.7 246.3h0M187.9 246.7h0M184.2 248.0h0M184.8 247.1h0M184.5 248.0h0M188.6 247.4h0M186.5 246.9h0" stroke="#74D170" stroke-width="0.8" stroke-linecap="round" fill="none"/>
<path d="M189.9 256.3h0M199.8 261.0h0M188.4 264.1h0M190.8 259.7h0M188.6 258.4h0M188.8 260.4h0M191.9 264.4h0M195.1 258.5h0M190.6 257.7h0M192.8 265.2h0M187.4 258.5h0M189.2 259.9h0M189.1 263.1h0M197.7 260.5h0M191.0 257.7h0M197.8 262.5h0M189.5 256.4h0M202.4 264.0h0M189.2 263.7h0M192.8 257.3h0M192.9 261.4h0M185.6 260.7h0M194.4 260.7h0M187.9 262.6h0M201.9 264.0h0M191.9 262.5h0M193.1 262.9h0M195.8 260.8h0M189.1 256.8h0M190.5 263.5h0M185.8 261.5h0M197.0 260.8h0M202.9 262.6h0M195.4 260.5h0M191.1 256.9h0M197.4 264.0h0M188.4 261.2h0M202.1 264.7h0M193.3 259.8h0M193.4 264.7h0M190.3 259.0h0M194.2 265.1h0M201.6 264.4h0M201.8 263.8h0M186.5 260.7h0M190.5 259.8h0M194.2 260.6h0M201.7 264.2h0M196.4 264.6h0M195.9 259.9h0M191.6 261.9h0M187.9 261.4h0M190.9 260.2h0M188.0 257.0h0M191.4 259.6h0M191.3 258.1h0M187.2 261.0h0M196.9 262.0h0M189.5 262.5h0M194.7 261.0h0M197.8 260.2h0M191.7 258.1h0M189.9 260.7h0M193.2 261.3h0M196.6 260.5h0M191.4 263.1h0M186.7 259.5h0M194.3 262.8h0M187.7 257.9h0M188.6 259.0h0M192.5 262.2h0M197.8 263.9h0M200.3 262.8h0M201.2 262.5h0M200.8 261.3h0M195.5 264.9h0M197.0 259.8h0M201.2 264.1h0M194.6 260.1h0M193.3 261.1h0M193.2 258.8h0M201.3 263.8h0M195.5 260.0h0M189.2 258.7h0M188.4 261.2h0M202.4 263.7h0M194.0 264.4h0M196.8 260.5h0M203.9 263.1h0M195.9 260.7h0M192.7 261.4h0M192.5 264.8h0M199.1 260.8h0M187.5 259.3h0M193.5 261.1h0M197.0 264.1h0M194.3 261.7h0M196.1 263.5h0M188.9 258.8h0M205.1 263.6h0M203.4 262.3h0M188.6 258.5h0M195.7 260.6h0M189.3 257.5h0M198.1 261.5h0M192.6 265.2h0M193.7 263.3h0M191.6 262.3h0M195.5 261.0h0M190.8 261.9h0M197.0 259.7h0M187.9 257.3h0M187.5 257.4h0M196.0 263.6h0M197.8 263.4h0M188.9 258.3h0M187.5 264.4h0M194.5 259.4h0M197.2 264.9h0M194.3 261.7h0M190.5 256.2h0M204.2 263.9h0M191.8 264.3h0M197.6 264.9h0M195.4 264.8h0M190.4 259.5h0M191.7 264.1h0M195.2 263.3h0M190.4 257.4h0M192.7 257.6h0M196.2 259.4h0M187.9 263.6h0M192.5 258.1h0M189.3 258.5h0M190.2 256.1h0M188.6 262.5h0M187.3 258.3h0M194.4 263.7h0M192.6 262.6h0M193.0 264.9h0M189.7 264.8h0M192.9 258.1h0M195.8 260.9h0M190.9 263.1h0M193.2 262.0h0M189.0 263.9h0M191.9 262.1h0M187.7 261.1h0M192.7 260.5h0M191.4 256.4h0M191.7 257.9h0M188.0 262.6h0M191.1 259.6h0M203.7 263.1h0M203.2 264.0h0M188.1 258.4h0M186.1 262.2h0M193.8 262.0h0M187.8 264.4h0M200.2 262.6h0M188.7 257.7h0M191.6 259.4h0M194.2 262.3h0M202.2 263.2h0M191.2 256.2h0M187.7 263.3h0M189.7 264.5h0M200.5 263.7h0M191.1 256.6h0M200.3 263.7h0M198.1 260.1h0M186.6 262.4h0M194.1 260.6h0M199.6 263.4h0M190.7 261.0h0M186.7 259.2h0M193.7 257.7h0M191.7 257.1h0M199.7 262.1h0M190.2 258.1h0M195.8 260.0h0M191.5 264.2h0M188.3 261.1h0M192.2 263.5h0M196.5 263.0h0M188.9 262.1h0M197.5 260.2h0M200.9 263.7h0M187.8 258.5h0M192.7 257.7h0M186.7 258.5h0M189.4 262.4h0M192.0 260.2h0M192.8 257.4h0M187.2 262.6h0M187.7 260.4h0M198.1 264.7h0M190.4 257.1h0M186.0 263.1h0M189.2 261.8h0M202.5 264.6h0M188.9 263.2h0M202.1 262.8h0M192.0 257.5h0M192.9 261.0h0M192.9 263.7h0M190.3 256.2h0M196.9 261.7h0M201.9 262.5h0M203.6 264.8h0" stroke="#5B8FF2" stroke-width="0.8" stroke-linecap="round" fill="none"/>
<path d="M208.7 261.6h0M203.6 259.6h0M210.1 257.3h0M207.9 258.5h0M214.1 265.3h0M213.2 260.9h0M209.1 260.8h0M206.4 261.0h0M211.4 265.0h0M205.7 261.0h0M209.8 260.1h0M204.2 257.4h0M206.1 261.2h0M214.4 266.5h0M215.9 262.9h0M211.5 262.7h0M211.1 259.6h0M211.6 261.1h0M207.6 261.9h0M209.8 260.6h0M202.9 258.4h0M214.8 262.1h0M205.1 257.5h0M209.3 259.1h0M208.7 262.2h0M210.2 257.3h0M207.4 257.3h0M216.4 263.9h0M207.2 258.3h0M204.8 260.3h0M204.4 259.6h0M212.0 260.9h0M214.8 262.9h0M214.5 262.3h0M215.2 265.4h0M211.6 265.0h0M203.0 260.3h0M212.5 266.2h0M210.4 257.5h0M211.5 259.1h0M204.1 261.1h0M214.0 262.5h0M207.0 258.0h0M214.6 262.0h0M211.7 264.8h0M206.4 258.1h0M211.6 260.5h0M208.5 258.1h0M214.1 260.5h0M214.5 262.8h0M202.3 259.9h0M210.2 257.0h0M203.8 260.2h0M208.3 262.4h0M207.1 260.1h0M211.5 259.3h0M205.4 261.6h0M214.5 264.4h0M210.9 263.0h0M206.7 259.4h0M213.4 265.4h0M215.6 263.5h0M212.5 261.7h0M210.9 260.1h0M209.6 260.7h0" stroke="#F0873F" stroke-width="0.8" stroke-linecap="round" fill="none"/>
<path d="M212.1 249.2h0M213.2 251.0h0M212.5 252.5h0M213.9 252.1h0M220.5 246.3h0M221.6 244.1h0M222.3 243.4h0M223.8 248.5h0M224.5 248.1h0M225.6 247.4h0M226.7 248.5h0M225.3 250.7h0M222.3 250.3h0M220.9 251.4h0M226.0 251.4h0" stroke="#EE5B62" stroke-width="0.8" stroke-linecap="round" fill="none"/>
<path d="M185.4 272.1h0M184.4 271.7h0M184.8 271.5h0M185.3 272.3h0M185.8 271.9h0M184.6 271.9h0M186.5 272.5h0M187.3 272.6h0M185.8 273.6h0M184.8 273.1h0M185.2 273.3h0M184.4 271.2h0M185.0 271.6h0M185.9 273.3h0M184.8 271.5h0M184.1 272.5h0" stroke="#E8489A" stroke-width="0.8" stroke-linecap="round" fill="none"/>
<rect x="230.60" y="235.30" width="48.00" height="4.80" fill="#ECECEC" stroke="#B0B0B0" stroke-width="0.5"/>
<text x="256.40" y="238.90" font-size="3.4" text-anchor="middle" font-weight="bold" fill="#222">Tumor</text>
<rect x="230.60" y="240.10" width="48.00" height="35.00" fill="#fff" stroke="#8c8c8c" stroke-width="0.7"/>
<path d="M232.6 248.1 L234.5 246.3 L237.0 245.6 L239.9 244.1 L240.7 242.6 L243.6 242.1 L246.2 242.6 L248.0 244.8 L248.7 247.0 L249.8 249.9 L251.6 251.8 L252.7 254.0 L250.9 255.4 L249.1 256.9 L247.6 256.5 L246.5 253.6 L244.7 251.0 L242.9 248.5 L240.7 247.4 L238.5 247.8 L236.3 248.5 L234.1 249.2Z" fill="#74D170" fill-opacity="0.84" stroke="#74D170" stroke-opacity="0.5" stroke-width="0.6" stroke-linejoin="round"/>
<path d="M236.3 256.5 L238.9 256.2 L241.4 254.7 L243.6 255.8 L246.2 255.4 L248.0 257.2 L250.5 259.4 L253.1 261.6 L256.7 262.4 L255.3 264.2 L250.9 264.5 L247.2 264.9 L243.6 265.3 L238.5 265.6 L235.9 264.5 L235.2 261.6 L236.3 259.4Z" fill="#5B8FF2" fill-opacity="0.84" stroke="#5B8FF2" stroke-opacity="0.5" stroke-width="0.6" stroke-linejoin="round"/>
<path d="M250.9 256.5 L253.1 255.4 L256.0 256.5 L258.9 256.5 L261.1 258.0 L264.0 258.7 L267.7 259.1 L268.8 259.8 L265.5 260.9 L265.5 263.1 L265.1 266.0 L264.0 267.5 L261.8 267.1 L259.7 265.3 L256.7 263.1 L253.8 262.4 L251.6 260.9 L250.9 258.7Z" fill="#F0873F" fill-opacity="0.84" stroke="#F0873F" stroke-opacity="0.5" stroke-width="0.6" stroke-linejoin="round"/>
<path d="M261.1 250.7 L263.3 249.2 L266.2 248.1 L268.4 245.6 L270.6 243.7 L273.5 243.7 L275.7 245.9 L276.8 248.1 L275.7 251.0 L273.5 251.8 L271.3 252.1 L269.1 250.7 L267.0 249.9 L264.8 251.0 L263.3 253.6 L261.5 255.1 L260.8 253.6Z" fill="#EE5B62" fill-opacity="0.84" stroke="#EE5B62" stroke-opacity="0.5" stroke-width="0.6" stroke-linejoin="round"/>
<path d="M232.6 273.3 L233.4 271.5 L234.8 271.1 L237.0 272.2 L236.3 273.3 L234.1 273.9Z" fill="#E8489A" fill-opacity="0.84" stroke="#E8489A" stroke-opacity="0.5" stroke-width="0.6" stroke-linejoin="round"/>
<path d="M234.5 247.3h0M232.7 248.2h0M236.0 246.1h0M234.5 245.9h0M237.4 245.2h0M238.6 244.4h0M239.4 244.2h0M243.2 241.5h0M242.9 242.0h0M243.2 241.5h0M244.8 243.1h0M247.0 243.7h0M247.4 244.0h0M248.7 245.1h0M249.0 246.9h0M249.5 248.8h0M248.8 248.4h0M250.9 250.8h0M251.0 251.3h0M252.9 252.1h0M251.7 252.6h0M251.7 254.2h0M251.1 255.6h0M249.6 255.4h0M250.3 255.9h0M249.5 256.4h0M246.5 253.9h0M247.8 255.4h0M246.7 252.1h0M244.4 252.0h0M244.6 249.2h0M243.5 250.4h0M241.0 247.0h0M241.9 248.1h0M239.6 247.9h0M236.7 249.1h0M238.1 247.3h0M235.1 248.7h0M235.2 248.6h0M233.6 249.6h0M244.6 248.8h0M246.4 243.4h0M242.8 245.5h0M241.3 243.6h0M235.4 248.4h0M242.7 243.7h0M250.4 252.9h0M246.5 251.7h0M250.2 252.7h0M240.7 246.8h0M240.9 244.2h0M240.2 245.6h0M249.6 253.7h0M246.6 246.9h0M245.6 250.2h0M247.6 247.7h0M246.9 247.9h0M246.2 246.8h0M245.3 250.1h0M249.3 255.3h0M234.7 247.4h0" stroke="#74D170" stroke-width="0.8" stroke-linecap="round" fill="none"/>
<path d="M237.6 257.0h0M237.4 256.4h0M240.0 256.1h0M239.9 256.3h0M242.4 255.2h0M243.5 256.0h0M243.8 256.0h0M245.5 256.1h0M245.9 254.9h0M246.9 256.2h0M250.0 258.1h0M250.1 258.7h0M248.5 257.2h0M252.9 261.3h0M252.1 261.0h0M251.0 261.5h0M253.7 261.5h0M254.7 261.9h0M254.8 261.2h0M257.0 263.5h0M255.0 263.4h0M255.1 264.0h0M253.2 264.5h0M254.2 263.8h0M247.6 264.1h0M249.8 264.5h0M248.5 264.3h0M244.0 265.6h0M244.5 265.1h0M243.7 265.9h0M243.2 265.5h0M244.0 264.5h0M240.0 266.3h0M241.3 265.5h0M237.1 264.5h0M238.6 264.8h0M234.7 261.1h0M236.4 265.1h0M235.9 260.3h0M236.5 259.0h0M236.7 258.4h0M235.9 256.5h0M247.7 258.2h0M243.4 261.7h0M240.0 260.7h0M237.2 259.8h0M241.5 258.5h0M245.6 264.2h0M248.1 260.6h0M241.0 264.5h0M242.6 265.0h0M242.4 259.6h0M240.5 262.8h0M239.1 263.3h0M241.6 255.5h0M247.1 263.3h0M248.0 259.7h0M235.9 260.3h0M237.3 261.8h0M238.0 261.0h0M242.8 258.8h0M238.9 265.0h0M242.3 263.9h0M245.9 260.6h0M237.7 259.8h0M238.7 260.6h0M246.1 258.7h0M239.5 259.1h0M239.6 256.1h0M240.4 264.2h0M246.0 264.4h0" stroke="#5B8FF2" stroke-width="0.8" stroke-linecap="round" fill="none"/>
<path d="M251.1 257.0h0M252.8 255.1h0M256.3 257.1h0M255.9 256.8h0M257.6 257.1h0M259.0 256.2h0M261.1 258.7h0M260.0 257.2h0M262.5 257.7h0M261.6 257.6h0M266.6 259.2h0M266.4 259.5h0M267.3 259.8h0M268.4 258.9h0M267.2 260.2h0M267.4 261.0h0M268.7 258.9h0M266.1 261.0h0M265.2 264.6h0M265.2 264.3h0M264.1 266.2h0M263.8 267.3h0M261.0 265.2h0M259.5 266.4h0M258.7 265.7h0M258.1 265.2h0M258.6 263.8h0M256.1 262.7h0M253.3 263.0h0M253.5 261.2h0M254.2 262.0h0M250.6 258.9h0M251.6 261.3h0M250.7 258.4h0M257.4 263.4h0M262.2 260.0h0M260.2 263.6h0M263.1 262.1h0M258.9 264.5h0M256.7 257.1h0M262.4 258.8h0M264.5 258.9h0M260.6 260.5h0M265.3 263.6h0M263.6 263.7h0M255.9 257.4h0M261.2 265.4h0M265.1 259.6h0M253.4 261.6h0M256.2 260.0h0M254.2 259.1h0M256.6 260.7h0M252.8 258.6h0M257.9 260.1h0M262.3 264.8h0" stroke="#F0873F" stroke-width="0.8" stroke-linecap="round" fill="none"/>
<path d="M262.2 250.5h0M262.6 250.6h0M263.4 248.3h0M264.5 249.4h0M267.8 246.2h0M267.1 247.3h0M268.6 245.5h0M270.3 244.3h0M271.1 244.4h0M273.3 244.4h0M271.4 244.1h0M274.5 244.3h0M275.4 244.7h0M275.5 245.7h0M277.3 248.0h0M276.8 248.4h0M275.6 249.7h0M273.7 251.1h0M275.5 251.2h0M270.9 252.7h0M270.6 252.2h0M270.3 251.8h0M269.2 250.0h0M267.9 250.1h0M267.4 249.1h0M265.7 249.7h0M264.3 252.8h0M264.2 252.2h0M263.6 254.8h0M262.7 254.5h0M260.0 253.6h0M260.7 253.5h0M260.9 251.2h0M272.6 249.6h0M272.1 246.0h0M265.0 250.1h0M272.3 244.5h0M270.9 246.7h0M273.2 249.1h0M273.5 249.1h0M274.0 245.2h0M262.5 250.1h0M268.9 246.1h0M274.3 245.3h0M270.2 248.0h0M260.9 253.1h0M273.4 249.0h0M261.4 253.8h0M275.0 249.2h0" stroke="#EE5B62" stroke-width="0.8" stroke-linecap="round" fill="none"/>
<path d="M232.4 271.2h0M235.3 270.3h0M234.5 271.9h0M235.6 272.1h0M237.3 272.5h0M235.1 273.9h0M236.9 273.7h0M234.4 273.2h0M234.9 271.4h0" stroke="#E8489A" stroke-width="0.8" stroke-linecap="round" fill="none"/>
<path d="M248.8 249.8h0M241.7 243.4h0M246.6 248.7h0M246.3 247.5h0M243.1 245.6h0M240.1 247.1h0M247.1 246.1h0M239.2 245.6h0M236.7 248.3h0M248.6 251.2h0M241.5 247.5h0M247.0 246.4h0M247.8 247.7h0M245.7 263.4h0M247.5 262.2h0M240.1 262.9h0M238.5 257.6h0M246.4 257.9h0M247.7 257.3h0M248.0 263.3h0M240.5 261.3h0M248.5 262.3h0M240.5 262.7h0M242.6 256.2h0M239.5 257.1h0M245.5 260.1h0M251.4 261.7h0M239.5 261.5h0M253.4 263.3h0M237.2 262.5h0M256.5 257.3h0M264.4 261.1h0M260.9 263.5h0M260.4 258.9h0M262.2 258.6h0M255.6 258.4h0M264.4 263.6h0M252.9 259.1h0M262.4 267.1h0M262.2 263.8h0M264.8 260.2h0M257.0 260.2h0M265.3 259.6h0M271.0 246.1h0M270.2 245.2h0M270.2 250.9h0M272.1 248.7h0M261.8 251.9h0M272.2 246.5h0M271.2 251.6h0M275.3 250.5h0M274.0 250.9h0" stroke="#fff" stroke-opacity="0.55" stroke-width="0.7" stroke-linecap="round" fill="none"/>
<line x1="180.60" y1="245.50" x2="181.50" y2="245.50" stroke="#777" stroke-width="0.4"/>
<text x="180.30" y="246.85" font-size="3.8" text-anchor="end" fill="#444">5</text>
<line x1="180.60" y1="255.80" x2="181.50" y2="255.80" stroke="#777" stroke-width="0.4"/>
<text x="180.30" y="257.15" font-size="3.8" text-anchor="end" fill="#444">0</text>
<line x1="180.60" y1="265.50" x2="181.50" y2="265.50" stroke="#777" stroke-width="0.4"/>
<text x="180.30" y="266.85" font-size="3.8" text-anchor="end" fill="#444">−5</text>
<line x1="189.20" y1="275.10" x2="189.20" y2="276.00" stroke="#777" stroke-width="0.4"/>
<text x="189.20" y="278.95" font-size="3.8" text-anchor="middle" fill="#444">−5</text>
<line x1="203.20" y1="275.10" x2="203.20" y2="276.00" stroke="#777" stroke-width="0.4"/>
<text x="203.20" y="278.95" font-size="3.8" text-anchor="middle" fill="#444">0</text>
<line x1="217.80" y1="275.10" x2="217.80" y2="276.00" stroke="#777" stroke-width="0.4"/>
<text x="217.80" y="278.95" font-size="3.8" text-anchor="middle" fill="#444">5</text>
<line x1="238.40" y1="275.10" x2="238.40" y2="276.00" stroke="#777" stroke-width="0.4"/>
<text x="238.40" y="278.95" font-size="3.8" text-anchor="middle" fill="#444">−5</text>
<line x1="252.40" y1="275.10" x2="252.40" y2="276.00" stroke="#777" stroke-width="0.4"/>
<text x="252.40" y="278.95" font-size="3.8" text-anchor="middle" fill="#444">0</text>
<line x1="267.00" y1="275.10" x2="267.00" y2="276.00" stroke="#777" stroke-width="0.4"/>
<text x="267.00" y="278.95" font-size="3.8" text-anchor="middle" fill="#444">5</text>
<rect x="280.00" y="237.90" width="1.80" height="1.80" fill="#F0873F" fill-opacity="0.85"/>
<text x="282.80" y="239.60" font-size="3.5" fill="#222">ATP5MD+ cells</text>
<rect x="280.00" y="241.83" width="1.80" height="1.80" fill="#5B8FF2" fill-opacity="0.85"/>
<text x="282.80" y="243.53" font-size="3.5" fill="#222">FOLR2+ cells</text>
<rect x="280.00" y="245.76" width="1.80" height="1.80" fill="#74D170" fill-opacity="0.85"/>
<text x="282.80" y="247.46" font-size="3.5" fill="#222">IL1B+ cells</text>
<rect x="280.00" y="249.69" width="1.80" height="1.80" fill="#EE5B62" fill-opacity="0.85"/>
<text x="282.80" y="251.39" font-size="3.5" fill="#222">MARCO+ cells</text>
<rect x="280.00" y="253.62" width="1.80" height="1.80" fill="#E8489A" fill-opacity="0.85"/>
<text x="282.80" y="255.32" font-size="3.5" fill="#222">S100P+ cells</text>
<text x="99.00" y="287.70" font-size="7.0" text-anchor="middle">COAD</text>
<rect x="48.70" y="289.35" width="48.60" height="4.80" fill="#ECECEC" stroke="#B0B0B0" stroke-width="0.5"/>
<text x="74.80" y="292.95" font-size="3.4" text-anchor="middle" font-weight="bold" fill="#222">Normal</text>
<rect x="48.70" y="294.15" width="48.60" height="35.00" fill="#fff" stroke="#8c8c8c" stroke-width="0.7"/>
<path d="M61.1 302.1h0M64.1 296.8h0M51.3 304.4h0M64.2 300.7h0M52.7 305.9h0M59.9 299.6h0M55.9 303.7h0M60.8 301.3h0M64.9 300.4h0M65.3 297.9h0M62.5 298.6h0M54.7 305.0h0M66.0 299.4h0M64.5 299.2h0M61.2 299.8h0M61.6 301.5h0M66.8 297.0h0M65.8 296.2h0M55.2 303.3h0M67.2 297.8h0M58.1 303.0h0M63.3 298.6h0M62.3 298.2h0M62.3 299.1h0M62.2 298.8h0M63.6 297.9h0M57.6 303.0h0M58.2 303.4h0M52.5 305.5h0M56.5 304.4h0M51.4 304.4h0M54.6 304.7h0M54.0 305.2h0M52.5 306.0h0M57.2 302.6h0M64.9 297.4h0M66.7 299.7h0M62.8 297.5h0M63.9 298.6h0M64.0 298.9h0M64.7 296.6h0M64.1 296.1h0M64.1 296.3h0M64.7 296.5h0M65.1 296.7h0M63.5 296.5h0M66.4 296.1h0M63.4 296.3h0M63.8 296.3h0M65.9 296.0h0" stroke="#3FCB8E" stroke-width="0.8" stroke-linecap="round" fill="none"/>
<path d="M84.3 297.0h0M85.4 296.5h0M85.5 303.5h0M85.1 298.0h0M82.1 296.6h0M83.1 297.7h0M86.4 299.1h0M84.7 297.5h0M85.2 298.0h0M86.3 297.2h0M81.8 297.9h0M85.8 303.8h0M81.4 297.6h0M87.2 301.0h0M89.0 299.4h0M84.6 300.4h0M89.1 300.2h0M84.4 297.9h0M84.0 298.9h0M83.7 297.3h0M85.9 298.2h0M86.9 297.1h0M82.4 297.0h0M85.6 303.7h0M84.4 299.5h0M88.5 301.7h0M84.0 296.4h0M88.4 299.6h0M85.1 303.4h0M87.8 301.6h0M85.0 296.9h0M85.7 302.9h0M88.1 309.1h0M87.4 311.6h0M86.0 313.4h0M89.6 313.4h0M92.5 313.4h0M94.0 314.5h0M83.8 316.4h0M92.5 314.2h0" stroke="#5B8FF2" stroke-width="0.8" stroke-linecap="round" fill="none"/>
<path d="M79.8 315.3h0M80.5 315.5h0" stroke="#74D170" stroke-width="0.8" stroke-linecap="round" fill="none"/>
<path d="M74.3 322.6h0" stroke="#EE5B62" stroke-width="0.8" stroke-linecap="round" fill="none"/>
<rect x="98.40" y="289.35" width="48.40" height="4.80" fill="#ECECEC" stroke="#B0B0B0" stroke-width="0.5"/>
<text x="124.40" y="292.95" font-size="3.4" text-anchor="middle" font-weight="bold" fill="#222">Tumor</text>
<rect x="98.40" y="294.15" width="48.40" height="35.00" fill="#fff" stroke="#8c8c8c" stroke-width="0.7"/>
<path d="M105.3 301.0 L108.2 298.8 L111.9 297.4 L113.3 296.1 L116.2 296.3 L117.7 298.8 L119.5 301.0 L120.3 303.9 L119.9 306.5 L117.7 306.9 L114.8 307.6 L112.6 307.2 L110.4 305.4 L108.2 303.2 L106.0 302.5Z" fill="#3FCB8E" fill-opacity="0.80" stroke="#3FCB8E" stroke-opacity="0.5" stroke-width="0.6" stroke-linejoin="round"/>
<path d="M100.2 304.7 L102.4 302.9 L105.3 301.4 L108.2 303.2 L110.4 305.8 L112.6 308.3 L115.5 309.8 L117.0 312.0 L117.0 314.9 L115.2 317.8 L112.6 318.9 L109.7 318.9 L108.2 316.4 L106.0 312.7 L103.1 309.8 L100.9 306.9Z" fill="#74D170" fill-opacity="0.80" stroke="#74D170" stroke-opacity="0.5" stroke-width="0.6" stroke-linejoin="round"/>
<path d="M113.3 308.3 L115.5 307.6 L119.2 308.7 L121.4 307.6 L122.8 303.9 L124.3 304.7 L123.5 308.3 L124.3 310.5 L122.8 312.7 L120.6 314.2 L118.4 315.3 L117.0 314.9 L116.6 312.0 L115.5 309.8Z" fill="#EE5B62" fill-opacity="0.80" stroke="#EE5B62" stroke-opacity="0.5" stroke-width="0.6" stroke-linejoin="round"/>
<path d="M128.7 297.4 L130.8 296.1 L133.8 297.0 L136.7 296.6 L138.9 298.1 L139.6 301.0 L140.0 304.7 L138.9 309.1 L139.6 312.7 L141.8 313.4 L144.7 314.2 L143.3 314.9 L139.6 314.9 L136.0 315.6 L133.0 316.4 L132.3 314.9 L133.0 312.0 L132.3 309.8 L129.4 307.6 L128.3 303.9 L127.9 300.3Z" fill="#5B8FF2" fill-opacity="0.80" stroke="#5B8FF2" stroke-opacity="0.5" stroke-width="0.6" stroke-linejoin="round"/>
<path d="M108.9 320.0 L112.6 320.4 L117.0 321.1 L120.6 321.5 L124.3 322.2 L122.8 323.7 L119.9 325.1 L117.0 326.9 L114.1 327.3 L111.1 325.5 L109.3 322.9Z" fill="#D2A9D9" fill-opacity="0.80" stroke="#D2A9D9" stroke-opacity="0.5" stroke-width="0.6" stroke-linejoin="round"/>
<path d="M108.8 298.5h0M106.2 301.0h0M106.2 300.2h0M108.8 298.5h0M109.9 298.3h0M110.4 298.2h0M112.2 296.3h0M115.7 296.5h0M114.7 296.6h0M116.5 297.7h0M116.4 297.6h0M118.9 301.2h0M118.7 300.1h0M119.1 300.9h0M118.9 301.2h0M120.0 304.2h0M120.8 305.6h0M119.5 306.5h0M117.2 306.1h0M115.1 307.1h0M113.2 307.9h0M111.4 306.4h0M109.9 305.9h0M109.3 305.3h0M109.7 304.8h0M106.4 301.9h0M107.5 302.4h0M105.1 301.8h0M108.7 299.1h0M107.5 299.9h0M113.1 299.8h0M111.5 301.6h0M115.7 299.1h0M117.1 304.5h0M110.4 301.7h0M113.7 296.7h0M111.1 304.3h0M114.1 298.3h0M115.9 305.3h0M117.1 298.7h0M113.8 297.7h0M108.2 302.8h0M108.9 299.0h0M111.6 302.2h0M116.1 296.4h0M116.1 298.6h0M109.7 303.4h0M115.6 303.2h0M110.0 303.7h0M122.5 319.5h0M121.3 319.2h0M123.1 318.9h0M126.8 317.6h0M120.6 318.4h0M124.4 318.3h0M126.9 317.9h0M123.9 319.4h0M127.5 316.4h0M128.9 315.9h0M123.9 319.4h0M127.0 317.8h0M129.1 316.0h0M121.9 319.9h0M128.3 316.4h0M119.6 320.0h0M125.3 318.3h0M129.1 315.7h0M127.1 317.4h0M120.9 320.1h0M121.9 319.0h0M128.8 316.3h0M127.1 317.1h0M124.8 317.6h0M122.7 318.9h0M126.6 317.1h0M120.9 318.9h0M122.8 319.3h0M126.3 317.5h0M123.1 318.1h0M121.6 319.4h0M125.3 318.2h0M128.1 316.5h0M123.9 318.6h0M130.3 315.9h0M121.2 319.6h0M120.7 318.1h0M125.1 317.3h0M128.1 316.6h0M125.5 318.4h0M119.2 318.4h0M119.7 319.5h0M123.0 319.2h0M118.9 319.0h0M119.3 320.1h0" stroke="#3FCB8E" stroke-width="0.8" stroke-linecap="round" fill="none"/>
<path d="M101.1 305.3h0M100.4 304.7h0M102.5 302.9h0M104.5 301.0h0M105.7 302.9h0M105.1 302.0h0M105.0 300.9h0M108.6 304.2h0M108.0 304.1h0M108.9 303.6h0M111.8 305.7h0M111.4 307.1h0M112.3 308.9h0M114.0 309.1h0M115.1 308.7h0M116.6 309.5h0M116.4 311.1h0M116.9 313.6h0M117.6 312.1h0M117.1 315.1h0M116.5 316.0h0M115.5 316.5h0M113.4 319.4h0M112.4 319.5h0M109.8 318.7h0M111.2 318.7h0M109.0 319.4h0M109.3 318.6h0M106.1 314.4h0M107.3 313.8h0M107.1 313.2h0M103.9 311.4h0M105.7 312.0h0M103.4 310.9h0M101.9 306.7h0M101.5 307.4h0M100.9 308.5h0M100.4 305.4h0M100.9 305.8h0M103.8 307.4h0M104.4 303.2h0M105.7 301.8h0M107.9 308.4h0M113.7 318.1h0M115.2 309.6h0M115.3 314.2h0M110.1 315.9h0M108.9 309.9h0M106.3 307.8h0M116.3 313.6h0M107.4 314.0h0M107.4 303.0h0M109.0 315.8h0M107.5 308.1h0M112.1 317.7h0M103.6 306.7h0M108.6 313.1h0M115.5 311.1h0M112.9 316.6h0M110.8 315.5h0M107.3 311.9h0M104.5 306.2h0M107.2 310.4h0M112.2 314.5h0M104.2 305.9h0M108.9 304.5h0M110.3 317.2h0M112.3 314.5h0M112.1 313.8h0M113.6 313.3h0" stroke="#74D170" stroke-width="0.8" stroke-linecap="round" fill="none"/>
<path d="M114.8 307.8h0M115.3 308.2h0M117.0 307.9h0M118.3 307.8h0M116.7 307.8h0M121.2 307.3h0M120.5 307.7h0M121.5 304.5h0M122.0 306.7h0M120.9 306.3h0M124.3 305.2h0M123.7 308.9h0M125.0 304.9h0M124.6 306.0h0M123.1 309.8h0M124.3 310.8h0M123.4 309.9h0M124.6 310.8h0M122.0 312.3h0M121.8 314.4h0M120.7 314.4h0M119.3 314.1h0M117.9 315.3h0M116.3 313.8h0M117.3 313.1h0M116.4 310.0h0M116.7 311.2h0M115.2 309.3h0M114.6 310.1h0M115.2 308.3h0M122.1 312.8h0M122.1 308.6h0M120.7 310.4h0M121.3 308.6h0M123.5 310.9h0M116.8 308.2h0M122.0 312.9h0M122.7 309.5h0M121.7 310.4h0M123.3 310.6h0M127.7 311.0h0M128.7 309.1h0M129.1 308.4h0M130.6 312.2h0M129.1 311.4h0M130.1 309.6h0M127.7 311.8h0M127.7 308.8h0M129.2 309.6h0M129.1 311.7h0M129.7 312.6h0M130.3 311.0h0M129.3 312.0h0M129.0 308.4h0M130.9 311.8h0M129.9 311.5h0M128.1 310.2h0M129.9 310.6h0M128.8 308.8h0M127.7 310.2h0M129.2 309.2h0M128.7 310.6h0M130.3 310.8h0M129.5 312.6h0M128.7 310.6h0M128.0 308.6h0M128.3 311.0h0M129.5 312.5h0M129.9 309.7h0M131.0 311.0h0" stroke="#EE5B62" stroke-width="0.8" stroke-linecap="round" fill="none"/>
<path d="M130.5 297.0h0M129.6 296.5h0M133.2 297.8h0M130.2 296.2h0M134.4 296.3h0M136.5 297.0h0M139.6 298.3h0M137.4 296.9h0M140.0 299.0h0M138.4 299.6h0M140.1 304.9h0M139.1 300.5h0M139.2 304.8h0M140.4 305.9h0M140.5 305.9h0M138.4 308.3h0M138.2 309.4h0M138.4 309.8h0M140.2 312.4h0M139.8 313.0h0M140.4 312.9h0M141.1 312.5h0M141.6 312.9h0M144.1 313.3h0M144.1 314.6h0M141.8 314.0h0M142.9 314.4h0M140.0 315.5h0M138.0 315.0h0M137.9 315.7h0M139.1 315.7h0M134.6 316.7h0M133.6 315.3h0M132.7 315.5h0M132.6 312.7h0M133.5 312.9h0M132.6 311.3h0M132.7 309.9h0M131.0 308.7h0M130.1 307.3h0M129.7 308.4h0M128.3 306.8h0M128.6 304.4h0M128.5 305.4h0M129.0 302.7h0M128.0 302.6h0M128.6 304.5h0M127.8 299.6h0M127.9 300.0h0M135.2 299.2h0M129.6 306.3h0M136.1 300.0h0M139.2 306.1h0M135.9 298.9h0M136.0 298.6h0M133.3 297.2h0M137.7 310.7h0M133.8 310.2h0M134.1 310.5h0M134.3 309.7h0M133.9 313.8h0M131.2 306.6h0M136.0 302.9h0M134.2 306.4h0M137.8 300.6h0M132.6 306.3h0M136.4 304.6h0M139.1 299.8h0M136.9 301.7h0M136.5 303.7h0M132.8 304.2h0M136.0 310.9h0M131.5 305.2h0M133.9 302.3h0M134.0 311.4h0M138.9 309.8h0M138.6 310.1h0M132.5 297.3h0M133.6 298.3h0M136.1 303.6h0M132.5 306.0h0M139.9 314.2h0M142.2 313.7h0M135.3 304.6h0M133.2 315.8h0" stroke="#5B8FF2" stroke-width="0.8" stroke-linecap="round" fill="none"/>
<path d="M110.7 320.1h0M112.3 320.2h0M109.4 320.8h0M114.7 320.8h0M114.8 320.3h0M115.7 320.0h0M119.0 322.1h0M117.3 321.3h0M120.0 320.7h0M122.1 322.1h0M121.6 321.9h0M122.2 321.8h0M124.0 322.4h0M122.7 323.5h0M120.2 324.9h0M116.8 327.0h0M120.5 324.4h0M117.5 325.9h0M115.8 326.9h0M116.7 326.6h0M111.0 325.4h0M114.2 326.6h0M112.8 325.9h0M109.4 322.8h0M111.0 326.0h0M109.1 322.8h0M108.6 322.2h0M115.5 326.9h0M117.5 323.0h0M123.0 322.2h0M117.9 325.2h0M110.6 322.2h0M114.7 320.9h0M111.3 321.6h0M110.2 320.7h0M111.9 323.8h0M115.3 321.8h0M112.6 326.1h0M115.2 324.4h0M118.0 325.3h0" stroke="#D2A9D9" stroke-width="0.8" stroke-linecap="round" fill="none"/>
<path d="M117.7 304.3h0M119.6 305.2h0M109.9 299.7h0M116.1 296.7h0M114.4 297.1h0M106.0 302.0h0M118.4 301.4h0M112.9 302.1h0M110.7 304.3h0M113.2 305.0h0M111.1 301.6h0M109.1 303.8h0M108.6 299.7h0M112.4 304.3h0M116.8 300.4h0M119.3 303.2h0M106.9 301.3h0M114.8 299.3h0M110.9 318.9h0M104.3 304.9h0M102.9 308.6h0M110.6 306.7h0M102.9 305.2h0M101.6 304.8h0M105.5 310.2h0M103.3 309.8h0M108.1 304.9h0M103.0 302.7h0M112.0 318.3h0M107.0 307.6h0M107.3 307.6h0M111.8 308.3h0M114.5 314.2h0M106.1 312.4h0M107.5 306.6h0M109.5 313.0h0M112.5 318.0h0M102.6 307.8h0M114.5 315.3h0M110.1 313.3h0M109.4 308.4h0M103.3 303.4h0M115.3 315.4h0M108.2 310.1h0M118.0 314.5h0M118.2 312.2h0M118.7 312.1h0M116.4 308.1h0M119.6 313.1h0M121.6 309.1h0M122.8 308.5h0M123.7 309.3h0M119.3 312.3h0M131.0 299.3h0M132.6 314.8h0M142.2 314.1h0M135.1 300.0h0M135.3 304.1h0M137.9 301.2h0M134.2 311.5h0M133.5 309.9h0M138.4 299.9h0M138.2 302.0h0M137.8 307.7h0M133.4 309.1h0M138.0 306.4h0M130.0 300.4h0M133.2 304.5h0M134.0 314.4h0M132.0 308.0h0M128.8 303.8h0M131.8 308.7h0M137.1 303.9h0M129.5 305.4h0M129.5 297.9h0M134.1 304.8h0M136.5 301.9h0M136.5 306.1h0M134.2 313.5h0M133.9 302.9h0M138.2 307.5h0M132.7 297.8h0M136.9 302.7h0M113.2 323.6h0M111.8 323.2h0M113.3 324.3h0M113.5 322.0h0M121.2 323.6h0M112.5 320.8h0M116.7 323.7h0M120.0 322.7h0M115.3 326.5h0M112.9 324.5h0M111.9 323.4h0" stroke="#fff" stroke-opacity="0.55" stroke-width="0.7" stroke-linecap="round" fill="none"/>
<line x1="47.80" y1="295.20" x2="48.70" y2="295.20" stroke="#777" stroke-width="0.4"/>
<text x="47.50" y="296.55" font-size="3.8" text-anchor="end" fill="#444">5.0</text>
<line x1="47.80" y1="301.80" x2="48.70" y2="301.80" stroke="#777" stroke-width="0.4"/>
<text x="47.50" y="303.15" font-size="3.8" text-anchor="end" fill="#444">2.5</text>
<line x1="47.80" y1="309.00" x2="48.70" y2="309.00" stroke="#777" stroke-width="0.4"/>
<text x="47.50" y="310.35" font-size="3.8" text-anchor="end" fill="#444">0.0</text>
<line x1="47.80" y1="316.40" x2="48.70" y2="316.40" stroke="#777" stroke-width="0.4"/>
<text x="47.50" y="317.75" font-size="3.8" text-anchor="end" fill="#444">−2.5</text>
<line x1="47.80" y1="323.40" x2="48.70" y2="323.40" stroke="#777" stroke-width="0.4"/>
<text x="47.50" y="324.75" font-size="3.8" text-anchor="end" fill="#444">−5.0</text>
<line x1="60.70" y1="329.15" x2="60.70" y2="330.05" stroke="#777" stroke-width="0.4"/>
<text x="60.70" y="332.75" font-size="3.8" text-anchor="middle" fill="#444">−4</text>
<line x1="71.60" y1="329.15" x2="71.60" y2="330.05" stroke="#777" stroke-width="0.4"/>
<text x="71.60" y="332.75" font-size="3.8" text-anchor="middle" fill="#444">0</text>
<line x1="83.30" y1="329.15" x2="83.30" y2="330.05" stroke="#777" stroke-width="0.4"/>
<text x="83.30" y="332.75" font-size="3.8" text-anchor="middle" fill="#444">4</text>
<line x1="95.00" y1="329.15" x2="95.00" y2="330.05" stroke="#777" stroke-width="0.4"/>
<text x="95.00" y="332.75" font-size="3.8" text-anchor="middle" fill="#444">8</text>
<line x1="109.40" y1="329.15" x2="109.40" y2="330.05" stroke="#777" stroke-width="0.4"/>
<text x="109.40" y="332.75" font-size="3.8" text-anchor="middle" fill="#444">−4</text>
<line x1="120.60" y1="329.15" x2="120.60" y2="330.05" stroke="#777" stroke-width="0.4"/>
<text x="120.60" y="332.75" font-size="3.8" text-anchor="middle" fill="#444">0</text>
<line x1="133.10" y1="329.15" x2="133.10" y2="330.05" stroke="#777" stroke-width="0.4"/>
<text x="133.10" y="332.75" font-size="3.8" text-anchor="middle" fill="#444">4</text>
<line x1="144.70" y1="329.15" x2="144.70" y2="330.05" stroke="#777" stroke-width="0.4"/>
<text x="144.70" y="332.75" font-size="3.8" text-anchor="middle" fill="#444">8</text>
<rect x="147.50" y="291.95" width="1.80" height="1.80" fill="#3FCB8E" fill-opacity="0.85"/>
<text x="150.30" y="293.65" font-size="3.5" fill="#222">CXCL10+ cells</text>
<rect x="147.50" y="295.88" width="1.80" height="1.80" fill="#5B8FF2" fill-opacity="0.85"/>
<text x="150.30" y="297.58" font-size="3.5" fill="#222">FOLR2+ cells</text>
<rect x="147.50" y="299.81" width="1.80" height="1.80" fill="#D2A9D9" fill-opacity="0.85"/>
<text x="150.30" y="301.51" font-size="3.5" fill="#222">HSP+ cells</text>
<rect x="147.50" y="303.74" width="1.80" height="1.80" fill="#74D170" fill-opacity="0.85"/>
<text x="150.30" y="305.44" font-size="3.5" fill="#222">IL1B+ cells</text>
<rect x="147.50" y="307.67" width="1.80" height="1.80" fill="#EE5B62" fill-opacity="0.85"/>
<text x="150.30" y="309.37" font-size="3.5" fill="#222">MARCO+ cells</text>
<text x="229.60" y="287.70" font-size="7.0" text-anchor="middle">NPC</text>
<rect x="181.50" y="289.35" width="47.80" height="4.80" fill="#ECECEC" stroke="#B0B0B0" stroke-width="0.5"/>
<text x="207.20" y="292.95" font-size="3.4" text-anchor="middle" font-weight="bold" fill="#222">Normal</text>
<rect x="181.50" y="294.15" width="47.80" height="35.00" fill="#fff" stroke="#8c8c8c" stroke-width="0.7"/>
<path d="M191.9 311.8h0M190.3 308.5h0M190.0 312.5h0M197.0 311.9h0M190.6 310.6h0M192.7 304.9h0M200.9 316.6h0M191.8 314.7h0M187.5 313.2h0M198.7 315.3h0M188.0 313.9h0M191.9 306.8h0M189.9 314.1h0M198.9 314.8h0M195.6 304.7h0M185.9 310.6h0M196.5 305.5h0M199.0 307.0h0M199.0 306.7h0M188.0 308.0h0M199.3 307.7h0M196.4 310.8h0M192.5 305.8h0M196.1 310.4h0M193.2 306.1h0M190.5 305.0h0M196.4 310.7h0M197.7 311.5h0M198.3 310.6h0M190.0 303.7h0M189.2 312.7h0M200.6 311.8h0M197.7 308.8h0M191.7 313.5h0M194.7 314.2h0M187.6 312.4h0M201.8 308.8h0M198.0 311.6h0M192.0 308.3h0M201.0 308.3h0M199.0 313.8h0M194.0 305.7h0M188.7 309.5h0M190.4 311.8h0M192.5 307.0h0M198.8 312.6h0M201.3 314.6h0M194.0 310.8h0M187.9 311.4h0M190.0 309.5h0M190.6 303.7h0M196.8 314.1h0M194.3 303.9h0M201.6 313.5h0M195.5 306.3h0M200.4 314.5h0M193.9 307.8h0M188.5 313.5h0M194.6 307.1h0M193.4 313.0h0M217.6 299.2h0M219.4 298.5h0M222.7 304.3h0M220.9 308.3h0M190.9 316.4h0M192.0 316.7h0" stroke="#6A8F5C" stroke-width="0.8" stroke-linecap="round" fill="none"/>
<path d="M202.6 306.5h0M205.2 306.5h0M205.5 307.6h0M207.7 308.3h0M208.5 303.2h0M210.3 303.6h0M215.4 300.3h0M218.0 300.3h0M218.7 299.2h0" stroke="#5B8FF2" stroke-width="0.8" stroke-linecap="round" fill="none"/>
<path d="M202.3 313.4h0M204.5 316.4h0M203.4 318.2h0M205.5 319.3h0M207.7 318.5h0M208.5 326.6h0M211.4 325.5h0" stroke="#EE5B62" stroke-width="0.8" stroke-linecap="round" fill="none"/>
<path d="M196.4 296.3h0" stroke="#6B3FA0" stroke-width="0.8" stroke-linecap="round" fill="none"/>
<rect x="230.60" y="289.35" width="48.00" height="4.80" fill="#ECECEC" stroke="#B0B0B0" stroke-width="0.5"/>
<text x="256.40" y="292.95" font-size="3.4" text-anchor="middle" font-weight="bold" fill="#222">Tumor</text>
<rect x="230.60" y="294.15" width="48.00" height="35.00" fill="#fff" stroke="#8c8c8c" stroke-width="0.7"/>
<path d="M245.1 296.3 L248.0 297.0 L250.9 298.5 L254.5 297.7 L257.8 297.4 L259.3 298.1 L258.2 300.3 L256.0 301.0 L253.8 302.1 L251.6 301.4 L250.2 299.9 L247.2 298.8 L245.4 297.7Z" fill="#6B3FA0" fill-opacity="0.84" stroke="#6B3FA0" stroke-opacity="0.5" stroke-width="0.6" stroke-linejoin="round"/>
<path d="M233.0 311.2 L235.6 309.8 L237.8 307.6 L238.9 303.9 L240.7 301.4 L242.9 301.8 L245.1 304.7 L248.0 305.8 L250.9 306.5 L252.4 307.6 L253.1 310.5 L251.6 314.2 L250.2 315.6 L247.2 315.6 L244.3 316.4 L241.4 317.1 L239.2 315.6 L236.3 314.2 L233.7 313.1Z" fill="#6A8F5C" fill-opacity="0.78" stroke="#6A8F5C" stroke-opacity="0.5" stroke-width="0.6" stroke-linejoin="round"/>
<path d="M252.4 305.8 L255.3 303.9 L258.2 301.8 L261.8 301.0 L265.5 299.6 L268.4 298.1 L272.1 297.4 L275.0 298.1 L276.8 301.0 L277.2 305.4 L276.1 308.3 L272.8 309.4 L269.1 310.5 L265.5 312.0 L261.8 312.7 L258.2 312.7 L254.5 311.6 L253.1 310.5 L252.0 308.3Z" fill="#5B8FF2" fill-opacity="0.78" stroke="#5B8FF2" stroke-opacity="0.5" stroke-width="0.6" stroke-linejoin="round"/>
<path d="M252.4 312.0 L254.5 311.6 L258.2 313.1 L261.8 312.7 L265.5 311.6 L269.9 310.2 L274.3 309.1 L275.7 310.5 L274.3 313.4 L272.1 316.4 L268.4 319.3 L265.5 321.5 L263.3 323.7 L261.1 326.6 L258.9 327.3 L256.7 325.1 L254.5 322.2 L253.1 319.3 L252.0 316.4Z" fill="#EE5B62" fill-opacity="0.78" stroke="#EE5B62" stroke-opacity="0.5" stroke-width="0.6" stroke-linejoin="round"/>
<path d="M248.1 297.0h0M247.0 297.1h0M249.9 298.1h0M249.7 298.8h0M251.3 299.0h0M251.6 297.8h0M253.5 298.2h0M255.8 298.4h0M257.9 297.0h0M258.4 297.5h0M257.8 300.0h0M259.2 298.9h0M257.6 301.3h0M258.5 300.2h0M255.6 300.8h0M254.7 300.7h0M253.5 302.0h0M254.1 302.0h0M252.0 301.8h0M250.3 300.3h0M248.6 300.3h0M245.0 298.4h0M245.4 297.2h0M259.1 298.2h0M254.8 301.2h0M257.7 297.7h0M255.0 300.2h0M256.0 298.1h0M246.5 297.9h0M256.0 299.0h0" stroke="#6B3FA0" stroke-width="0.8" stroke-linecap="round" fill="none"/>
<path d="M232.8 310.7h0M235.4 310.6h0M237.1 308.0h0M236.0 308.6h0M238.1 304.6h0M238.7 306.8h0M238.1 306.6h0M240.5 301.7h0M240.0 301.3h0M240.9 301.9h0M243.1 303.1h0M243.7 303.8h0M244.6 303.7h0M247.3 306.1h0M246.6 305.4h0M248.7 305.9h0M251.4 307.2h0M252.4 306.4h0M253.3 311.0h0M253.5 308.0h0M252.4 313.4h0M251.4 314.0h0M252.2 311.7h0M250.9 314.6h0M246.8 315.4h0M249.1 316.3h0M244.7 316.1h0M246.2 315.7h0M242.5 317.7h0M242.9 316.5h0M241.8 317.0h0M240.1 315.8h0M238.3 315.1h0M236.5 313.7h0M235.5 313.8h0M235.0 312.8h0M233.1 311.7h0M234.3 311.9h0M246.8 307.4h0M251.5 314.3h0M244.1 311.7h0M242.8 301.9h0M247.8 311.2h0M238.6 308.4h0M236.7 314.2h0M242.1 312.6h0M240.0 314.1h0M245.0 311.7h0M240.9 310.2h0M246.5 309.8h0M239.7 305.0h0M241.9 315.0h0M248.7 312.7h0M239.1 305.0h0M247.2 306.1h0M247.5 306.9h0M248.3 310.4h0M240.8 313.5h0M239.3 304.7h0M248.8 310.0h0M248.2 309.1h0M237.4 308.8h0M246.4 313.4h0M245.8 308.3h0M247.7 311.9h0M237.1 309.8h0M245.0 312.8h0M239.9 302.9h0M240.0 312.8h0M244.6 304.1h0M243.4 305.6h0M238.7 313.2h0M247.0 310.2h0M239.6 306.4h0" stroke="#6A8F5C" stroke-width="0.8" stroke-linecap="round" fill="none"/>
<path d="M253.2 304.9h0M254.0 305.0h0M253.2 304.5h0M256.9 303.1h0M257.9 302.0h0M257.7 300.9h0M259.1 300.8h0M258.9 302.2h0M260.6 301.8h0M265.0 299.6h0M264.0 300.1h0M264.5 299.6h0M267.1 299.6h0M267.7 297.6h0M269.2 298.5h0M271.3 297.7h0M271.2 298.0h0M274.1 297.8h0M274.4 297.3h0M275.6 299.2h0M275.8 299.6h0M275.5 300.2h0M276.0 301.8h0M276.9 302.9h0M276.5 301.8h0M277.0 307.6h0M276.3 306.0h0M273.8 308.8h0M275.6 309.1h0M274.3 308.4h0M270.5 310.9h0M272.5 310.4h0M270.1 309.6h0M269.3 309.8h0M266.5 311.7h0M266.7 312.0h0M265.3 311.9h0M265.4 312.6h0M264.6 311.8h0M259.4 312.6h0M258.3 313.1h0M261.4 313.5h0M257.2 311.6h0M256.9 312.5h0M256.1 311.7h0M253.1 310.7h0M253.1 309.2h0M253.0 309.6h0M251.7 305.9h0M252.9 306.6h0M257.4 302.5h0M261.9 309.0h0M262.2 304.7h0M262.0 309.2h0M274.7 303.9h0M275.2 301.2h0M276.6 305.4h0M269.2 303.2h0M274.3 302.9h0M269.6 304.4h0M265.3 300.6h0M269.2 305.7h0M252.1 308.3h0M272.7 305.8h0M259.3 301.7h0M260.7 309.5h0M271.8 308.1h0M274.3 307.4h0M265.3 310.0h0M266.7 304.0h0M258.1 312.4h0M271.0 302.6h0M258.4 310.4h0M254.9 307.4h0M261.0 311.0h0M257.0 309.7h0M269.2 301.7h0M267.4 302.7h0M256.7 304.1h0M275.4 301.2h0M256.1 307.0h0M268.5 305.2h0M256.5 310.8h0M258.1 305.3h0M264.0 305.9h0M272.9 297.7h0M267.2 309.4h0M273.4 307.9h0M254.7 307.9h0M272.0 303.6h0M255.9 307.5h0M256.1 303.5h0M265.9 305.8h0M262.2 309.6h0M265.5 309.5h0M266.4 299.2h0M274.0 302.3h0M262.3 305.6h0M254.5 308.2h0M272.0 309.6h0M274.2 302.2h0M255.7 309.1h0" stroke="#5B8FF2" stroke-width="0.8" stroke-linecap="round" fill="none"/>
<path d="M254.0 311.3h0M256.0 312.0h0M256.8 312.9h0M258.1 313.5h0M258.3 313.9h0M261.0 312.4h0M259.1 312.6h0M263.6 312.2h0M266.1 312.4h0M263.4 311.6h0M268.1 310.6h0M267.3 310.6h0M268.9 309.9h0M268.8 310.6h0M270.8 309.0h0M274.8 309.0h0M274.2 310.1h0M271.8 309.6h0M276.1 310.8h0M274.3 313.1h0M273.9 313.6h0M274.3 313.6h0M274.7 313.8h0M273.7 314.1h0M269.6 316.9h0M268.8 318.0h0M269.8 319.4h0M270.5 317.3h0M266.4 319.7h0M266.7 320.4h0M265.0 320.7h0M263.3 322.5h0M265.4 322.1h0M262.6 324.0h0M262.8 324.5h0M261.0 325.3h0M259.7 327.8h0M261.3 327.0h0M257.4 326.7h0M257.2 325.6h0M255.4 323.0h0M256.3 324.7h0M255.7 322.6h0M253.6 321.5h0M253.0 320.4h0M251.8 317.1h0M252.9 318.7h0M251.8 316.3h0M251.7 316.0h0M252.5 313.9h0M264.5 320.6h0M256.8 324.7h0M260.5 320.4h0M264.8 313.9h0M257.9 314.9h0M252.9 314.5h0M261.3 318.6h0M262.0 317.1h0M268.6 311.6h0M259.4 313.9h0M252.5 315.3h0M257.6 324.7h0M254.8 315.0h0M261.8 323.1h0M257.4 315.0h0M253.4 317.0h0M263.8 321.9h0M260.0 316.6h0M273.1 314.7h0M265.6 316.5h0M254.3 314.7h0M266.6 312.8h0M266.7 313.2h0M265.4 316.3h0M274.1 312.2h0M258.3 318.4h0M253.4 314.6h0M264.8 317.9h0M267.1 319.7h0M270.6 315.7h0M270.8 311.4h0M254.6 313.1h0M267.6 311.4h0M261.1 312.8h0M257.8 315.0h0M261.8 315.6h0M257.5 325.5h0M262.8 312.8h0M254.9 318.2h0M259.6 320.3h0M266.7 316.0h0M273.5 310.4h0M270.2 312.2h0M271.7 316.0h0M265.6 321.3h0" stroke="#EE5B62" stroke-width="0.8" stroke-linecap="round" fill="none"/>
<path d="M246.6 298.3h0M246.2 297.7h0M254.5 301.4h0M250.9 298.9h0M249.8 306.2h0M238.0 310.5h0M242.0 306.2h0M243.6 313.5h0M247.5 306.8h0M251.4 313.8h0M244.3 308.9h0M239.6 303.5h0M250.8 310.9h0M243.8 314.5h0M240.1 309.2h0M245.6 308.1h0M236.0 309.7h0M236.5 313.9h0M234.9 311.2h0M237.4 313.4h0M242.5 316.0h0M239.8 307.6h0M237.0 310.0h0M250.1 313.5h0M248.1 310.8h0M247.5 306.4h0M246.8 307.8h0M251.8 307.4h0M249.1 308.8h0M249.3 306.1h0M242.8 302.6h0M250.3 312.0h0M241.5 316.7h0M234.7 312.4h0M247.6 310.9h0M241.8 310.7h0M246.4 310.5h0M241.4 302.3h0M247.0 309.1h0M269.4 303.1h0M272.9 304.4h0M272.4 302.6h0M260.1 305.2h0M260.9 308.0h0M262.2 310.6h0M271.1 305.9h0M261.1 301.6h0M256.9 312.2h0M253.0 309.8h0M265.3 305.9h0M265.6 303.7h0M275.2 299.0h0M255.5 307.7h0M268.1 309.7h0M258.0 309.3h0M255.8 305.5h0M271.4 299.8h0M265.3 311.2h0M270.8 303.5h0M264.1 301.6h0M269.1 302.0h0M270.4 304.8h0M272.1 303.0h0M274.2 307.9h0M263.3 306.0h0M272.3 305.5h0M274.6 308.3h0M264.3 310.4h0M270.0 310.0h0M261.4 312.6h0M266.3 302.3h0M258.6 304.2h0M273.1 305.9h0M263.2 302.1h0M267.2 302.7h0M270.3 310.0h0M262.6 312.5h0M253.4 305.5h0M259.6 307.7h0M266.1 306.5h0M259.5 308.6h0M269.3 308.3h0M263.9 304.5h0M263.7 306.8h0M256.7 310.6h0M272.5 304.9h0M260.9 302.7h0M267.0 299.1h0M273.2 302.6h0M257.5 316.0h0M258.6 320.7h0M267.1 318.6h0M257.0 318.8h0M256.0 313.5h0M260.3 325.2h0M257.2 319.9h0M254.2 319.4h0M270.3 313.4h0M266.0 318.7h0M260.1 326.3h0M261.4 316.8h0M264.8 322.1h0M257.1 319.4h0M262.4 313.3h0M270.5 313.1h0M268.8 318.0h0M262.1 322.0h0M258.3 321.3h0M262.6 315.6h0M252.6 317.6h0M264.6 314.7h0M254.5 317.9h0M253.7 312.2h0M262.5 315.4h0M263.9 318.7h0M260.3 314.9h0M269.6 318.1h0M255.1 312.8h0M260.7 316.3h0M262.4 319.6h0M269.7 315.9h0M267.2 314.2h0M258.5 325.4h0M257.3 314.0h0M254.7 312.9h0M270.9 310.4h0M261.8 323.3h0M260.5 323.9h0M263.3 313.8h0M255.6 318.1h0M253.2 312.1h0M272.5 311.8h0" stroke="#fff" stroke-opacity="0.55" stroke-width="0.7" stroke-linecap="round" fill="none"/>
<line x1="180.60" y1="301.70" x2="181.50" y2="301.70" stroke="#777" stroke-width="0.4"/>
<text x="180.30" y="303.05" font-size="3.8" text-anchor="end" fill="#444">2.5</text>
<line x1="180.60" y1="309.40" x2="181.50" y2="309.40" stroke="#777" stroke-width="0.4"/>
<text x="180.30" y="310.75" font-size="3.8" text-anchor="end" fill="#444">0.0</text>
<line x1="180.60" y1="317.80" x2="181.50" y2="317.80" stroke="#777" stroke-width="0.4"/>
<text x="180.30" y="319.15" font-size="3.8" text-anchor="end" fill="#444">−2.5</text>
<line x1="180.60" y1="326.00" x2="181.50" y2="326.00" stroke="#777" stroke-width="0.4"/>
<text x="180.30" y="327.35" font-size="3.8" text-anchor="end" fill="#444">−5.0</text>
<line x1="182.80" y1="329.15" x2="182.80" y2="330.05" stroke="#777" stroke-width="0.4"/>
<text x="182.80" y="332.65" font-size="3.8" text-anchor="middle" fill="#444">−8</text>
<line x1="196.30" y1="329.15" x2="196.30" y2="330.05" stroke="#777" stroke-width="0.4"/>
<text x="196.30" y="332.65" font-size="3.8" text-anchor="middle" fill="#444">−4</text>
<line x1="208.80" y1="329.15" x2="208.80" y2="330.05" stroke="#777" stroke-width="0.4"/>
<text x="208.80" y="332.65" font-size="3.8" text-anchor="middle" fill="#444">0</text>
<line x1="221.90" y1="329.15" x2="221.90" y2="330.05" stroke="#777" stroke-width="0.4"/>
<text x="221.90" y="332.65" font-size="3.8" text-anchor="middle" fill="#444">4</text>
<line x1="231.30" y1="329.15" x2="231.30" y2="330.05" stroke="#777" stroke-width="0.4"/>
<text x="231.30" y="332.65" font-size="3.8" text-anchor="middle" fill="#444">−8</text>
<line x1="245.40" y1="329.15" x2="245.40" y2="330.05" stroke="#777" stroke-width="0.4"/>
<text x="245.40" y="332.65" font-size="3.8" text-anchor="middle" fill="#444">−4</text>
<line x1="258.10" y1="329.15" x2="258.10" y2="330.05" stroke="#777" stroke-width="0.4"/>
<text x="258.10" y="332.65" font-size="3.8" text-anchor="middle" fill="#444">0</text>
<line x1="270.90" y1="329.15" x2="270.90" y2="330.05" stroke="#777" stroke-width="0.4"/>
<text x="270.90" y="332.65" font-size="3.8" text-anchor="middle" fill="#444">4</text>
<rect x="280.00" y="291.95" width="1.80" height="1.80" fill="#5B8FF2" fill-opacity="0.85"/>
<text x="282.80" y="293.65" font-size="3.5" fill="#222">FOLR2+ cells</text>
<rect x="280.00" y="295.88" width="1.80" height="1.80" fill="#EE5B62" fill-opacity="0.85"/>
<text x="282.80" y="297.58" font-size="3.5" fill="#222">MARCO+ cells</text>
<rect x="280.00" y="299.81" width="1.80" height="1.80" fill="#6B3FA0" fill-opacity="0.85"/>
<text x="282.80" y="301.51" font-size="3.5" fill="#222">MKI67+ cells</text>
<rect x="280.00" y="303.74" width="1.80" height="1.80" fill="#6A8F5C" fill-opacity="0.85"/>
<text x="282.80" y="305.44" font-size="3.5" fill="#222">PON2+ cells</text>
<text x="99.00" y="341.70" font-size="7.0" text-anchor="middle">GBM</text>
<rect x="48.70" y="343.40" width="48.60" height="4.80" fill="#ECECEC" stroke="#B0B0B0" stroke-width="0.5"/>
<text x="74.80" y="347.00" font-size="3.4" text-anchor="middle" font-weight="bold" fill="#222">Normal</text>
<rect x="48.70" y="348.20" width="48.60" height="35.00" fill="#fff" stroke="#8c8c8c" stroke-width="0.7"/>
<path d="M51.6 363.8 L53.1 362.7 L54.9 363.4 L55.3 365.2 L53.8 366.0 L52.0 365.6Z" fill="#EE5B62" fill-opacity="0.84" stroke="#EE5B62" stroke-opacity="0.5" stroke-width="0.6" stroke-linejoin="round"/>
<path d="M79.4 358.7 L80.8 354.3 L83.0 353.6 L85.2 355.4 L87.4 357.2 L89.6 359.4 L91.1 362.3 L90.0 364.5 L87.4 366.0 L84.5 366.7 L83.0 368.2 L81.2 368.9 L80.5 366.7 L79.4 363.8Z" fill="#5B8FF2" fill-opacity="0.84" stroke="#5B8FF2" stroke-opacity="0.5" stroke-width="0.6" stroke-linejoin="round"/>
<path d="M67.7 371.8 L69.9 369.6 L73.5 368.9 L77.2 368.9 L80.1 369.6 L82.3 368.2 L83.0 368.9 L78.7 371.8 L77.2 374.7 L75.0 377.7 L72.1 379.8 L69.9 381.3 L67.7 379.1 L67.0 376.2 L67.3 373.3Z" fill="#5B8FF2" fill-opacity="0.84" stroke="#5B8FF2" stroke-opacity="0.5" stroke-width="0.6" stroke-linejoin="round"/>
<path d="M52.3 362.6h0M54.3 363.3h0M55.3 365.0h0M54.1 365.1h0M51.6 365.2h0M52.0 365.5h0M53.3 364.2h0M59.3 357.2h0M61.5 358.3h0M64.4 357.9h0M63.7 359.4h0M57.1 359.8h0M65.5 361.6h0M65.5 362.7h0M67.3 364.5h0M67.3 367.1h0M66.2 366.3h0M58.6 366.7h0M70.6 357.2h0M74.6 358.3h0M75.7 358.5h0M56.8 363.8h0M56.0 364.5h0M65.2 362.0h0M66.8 366.7h0M58.2 360.1h0M63.0 358.7h0" stroke="#EE5B62" stroke-width="0.8" stroke-linecap="round" fill="none"/>
<path d="M79.8 356.9h0M81.5 355.4h0M79.3 358.3h0M80.2 358.3h0M81.2 355.0h0M82.7 352.9h0M84.1 354.9h0M83.0 354.8h0M85.5 354.7h0M86.7 357.5h0M88.6 357.2h0M86.8 356.6h0M91.0 360.3h0M89.8 361.5h0M89.8 363.7h0M90.3 363.9h0M87.5 364.8h0M89.4 364.8h0M85.4 367.3h0M87.6 366.5h0M84.7 367.6h0M82.3 367.6h0M81.0 368.2h0M80.3 369.7h0M79.8 366.6h0M80.9 367.1h0M79.6 360.0h0M79.6 361.2h0M78.7 360.6h0M78.6 359.7h0M82.3 365.8h0M85.8 359.0h0M90.6 362.5h0M82.2 362.2h0M89.4 359.2h0M84.5 362.4h0M81.5 362.5h0M83.1 360.8h0M85.3 358.4h0M86.4 366.1h0M84.8 363.2h0M82.8 357.5h0M85.3 361.7h0M82.0 365.3h0M85.2 359.0h0M82.3 366.4h0M82.3 354.7h0M89.4 364.0h0M83.3 360.3h0M83.6 365.6h0M87.3 362.5h0M80.6 356.9h0M68.7 370.0h0M69.2 369.4h0M73.4 368.1h0M70.2 370.4h0M72.8 368.5h0M75.1 368.6h0M74.0 368.1h0M76.2 369.6h0M78.7 370.1h0M79.6 369.3h0M80.7 368.9h0M82.3 368.9h0M82.4 368.8h0M79.9 370.6h0M81.6 369.6h0M82.3 369.6h0M82.3 369.9h0M78.8 372.2h0M78.5 372.7h0M74.7 377.4h0M75.8 376.8h0M75.5 376.6h0M74.3 378.6h0M73.4 379.3h0M73.4 378.8h0M71.8 379.1h0M70.6 381.6h0M70.2 380.6h0M68.4 379.7h0M66.7 377.6h0M67.8 378.1h0M66.9 375.2h0M67.7 376.3h0M67.6 373.2h0M68.1 372.9h0M75.0 371.6h0M70.6 377.0h0M71.4 374.9h0M68.7 372.9h0M68.2 374.8h0M72.8 371.8h0M81.9 368.9h0M77.4 373.3h0M73.8 376.2h0M70.1 376.5h0M68.0 375.5h0M78.8 370.2h0M77.7 370.5h0M72.4 372.4h0M72.2 369.2h0M75.5 376.5h0M74.0 374.2h0M75.4 374.5h0M73.9 368.9h0" stroke="#5B8FF2" stroke-width="0.8" stroke-linecap="round" fill="none"/>
<path d="M92.1 353.3h0M89.0 354.8h0M89.4 355.7h0M92.2 353.3h0M90.2 354.6h0M88.4 355.5h0M90.2 353.8h0M88.6 354.9h0M90.6 353.3h0M88.7 354.1h0M93.5 352.5h0M91.6 352.4h0M93.2 351.9h0M91.0 353.9h0M93.2 351.9h0M93.1 352.1h0M91.9 350.8h0M88.3 355.0h0M91.0 351.3h0M90.4 354.1h0M90.5 353.8h0M91.6 352.8h0M90.3 354.4h0M91.4 351.9h0M88.0 355.2h0M88.8 354.2h0M88.9 354.7h0M90.9 352.0h0M91.6 352.0h0M92.4 351.7h0M89.7 354.9h0M91.7 352.3h0M90.8 353.1h0M93.3 351.2h0M93.6 352.0h0" stroke="#5A3C98" stroke-width="0.8" stroke-linecap="round" fill="none"/>
<path d="M52.2 365.1h0M82.4 354.1h0M86.9 362.3h0M90.2 362.1h0M90.1 360.8h0M85.4 357.9h0M83.5 356.6h0M86.7 361.4h0M79.7 364.3h0M86.4 363.6h0M84.7 366.4h0M80.8 367.4h0M85.8 356.1h0M89.5 363.5h0M77.4 370.1h0M71.2 373.7h0M73.7 373.5h0M75.3 371.9h0M69.1 375.4h0M72.6 377.6h0M67.6 377.1h0M71.8 373.9h0M72.1 375.2h0M71.5 377.0h0M73.6 377.5h0M71.7 374.2h0" stroke="#fff" stroke-opacity="0.55" stroke-width="0.7" stroke-linecap="round" fill="none"/>
<rect x="98.40" y="343.40" width="48.40" height="4.80" fill="#ECECEC" stroke="#B0B0B0" stroke-width="0.5"/>
<text x="124.40" y="347.00" font-size="3.4" text-anchor="middle" font-weight="bold" fill="#222">Tumor</text>
<rect x="98.40" y="348.20" width="48.40" height="35.00" fill="#fff" stroke="#8c8c8c" stroke-width="0.7"/>
<path d="M100.6 364.5 L101.6 362.3 L103.8 361.6 L106.0 358.7 L108.2 356.5 L112.6 356.5 L114.8 357.6 L115.9 360.9 L117.7 362.3 L119.2 363.8 L118.8 366.7 L118.1 368.9 L116.2 368.9 L115.5 366.7 L114.4 364.5 L112.6 363.4 L110.0 362.7 L108.2 364.5 L108.9 367.4 L107.9 367.8 L106.8 366.3 L103.8 366.7 L100.9 366.3Z" fill="#EE5B62" fill-opacity="0.84" stroke="#EE5B62" stroke-opacity="0.5" stroke-width="0.6" stroke-linejoin="round"/>
<path d="M117.7 357.2 L119.9 356.9 L121.0 357.9 L119.5 358.8 L117.9 358.3Z" fill="#EE5B62" fill-opacity="0.84" stroke="#EE5B62" stroke-opacity="0.5" stroke-width="0.6" stroke-linejoin="round"/>
<path d="M122.1 358.7 L124.3 357.9 L126.5 358.3 L126.1 359.6 L123.5 360.0 L122.2 359.6Z" fill="#EE5B62" fill-opacity="0.84" stroke="#EE5B62" stroke-opacity="0.5" stroke-width="0.6" stroke-linejoin="round"/>
<path d="M128.7 354.3 L130.8 353.2 L133.8 353.9 L136.0 355.8 L138.5 357.2 L140.0 359.4 L140.7 362.3 L138.9 365.2 L136.0 367.4 L133.0 368.9 L130.1 369.6 L128.3 368.2 L128.7 363.8 L127.9 358.7Z" fill="#5B8FF2" fill-opacity="0.84" stroke="#5B8FF2" stroke-opacity="0.5" stroke-width="0.6" stroke-linejoin="round"/>
<path d="M116.2 370.4 L119.9 368.9 L123.5 368.2 L127.2 368.5 L130.1 369.6 L128.7 372.5 L126.8 376.2 L123.5 378.4 L119.9 380.6 L117.7 381.3 L115.9 379.1 L115.5 374.7 L116.6 372.5Z" fill="#5B8FF2" fill-opacity="0.84" stroke="#5B8FF2" stroke-opacity="0.5" stroke-width="0.6" stroke-linejoin="round"/>
<path d="M135.2 355.4 L137.4 352.1 L138.9 350.3 L141.8 350.1 L144.4 350.6 L143.3 352.8 L141.1 355.0 L139.6 357.2 L137.8 357.2Z" fill="#5A3C98" fill-opacity="0.84" stroke="#5A3C98" stroke-opacity="0.5" stroke-width="0.6" stroke-linejoin="round"/>
<path d="M101.2 364.5h0M101.2 363.7h0M103.7 361.7h0M102.5 362.3h0M104.4 362.0h0M105.6 359.1h0M103.3 361.4h0M108.6 356.2h0M108.2 357.0h0M111.4 356.2h0M110.9 356.4h0M110.2 356.3h0M113.0 356.9h0M113.9 357.6h0M114.4 360.0h0M115.2 359.4h0M114.2 357.7h0M116.8 361.1h0M115.5 360.9h0M117.6 363.3h0M118.5 365.3h0M119.2 364.4h0M118.8 366.6h0M118.5 369.1h0M116.4 368.3h0M116.3 366.6h0M115.6 367.9h0M114.7 365.2h0M114.3 365.2h0M113.7 364.2h0M110.3 363.5h0M111.9 363.9h0M108.0 365.3h0M110.8 362.2h0M108.7 364.0h0M107.9 366.0h0M107.8 367.5h0M107.9 367.3h0M104.6 366.1h0M104.8 366.8h0M101.7 366.2h0M102.6 366.8h0M101.3 365.9h0M116.3 362.8h0M112.3 359.4h0M113.5 361.5h0M114.0 363.7h0M112.3 363.3h0M113.9 360.6h0M109.4 362.4h0M110.1 359.7h0M111.5 359.7h0M116.9 365.6h0M105.6 363.4h0M112.3 357.9h0M110.2 362.6h0M113.0 360.1h0M117.5 364.2h0M115.5 365.0h0M118.4 363.6h0M108.0 362.7h0M110.0 359.2h0M116.3 365.1h0M113.4 362.8h0M109.3 357.5h0M107.5 362.1h0M118.3 363.2h0M120.0 356.3h0M121.4 357.9h0M119.0 358.9h0M118.7 358.7h0M117.8 357.8h0M123.2 358.2h0M123.4 359.0h0M124.5 357.5h0M127.1 359.2h0M125.5 360.3h0M124.8 360.8h0M122.4 359.4h0M121.3 358.7h0M124.2 359.3h0M120.4 360.2h0M121.0 360.2h0M120.3 360.2h0M122.7 361.3h0M120.9 361.6h0M122.9 361.5h0M120.1 360.2h0M122.0 360.3h0M122.1 361.3h0M120.7 360.9h0" stroke="#EE5B62" stroke-width="0.8" stroke-linecap="round" fill="none"/>
<path d="M129.8 354.3h0M130.4 352.8h0M133.9 353.9h0M132.6 354.1h0M134.5 354.9h0M133.3 354.4h0M138.6 356.5h0M137.4 356.6h0M139.2 358.6h0M139.8 359.7h0M139.8 361.0h0M139.9 360.3h0M141.1 363.6h0M140.4 364.2h0M140.6 363.6h0M138.5 366.6h0M137.3 366.5h0M137.4 366.1h0M134.5 369.3h0M133.1 368.3h0M132.5 368.6h0M132.5 368.4h0M128.8 368.2h0M128.6 367.8h0M129.1 365.2h0M128.0 367.2h0M129.2 367.8h0M127.4 360.6h0M129.2 361.0h0M127.5 361.6h0M128.7 360.4h0M127.6 357.1h0M127.6 355.7h0M128.8 358.4h0M131.6 369.1h0M130.0 355.5h0M132.8 366.4h0M129.2 366.2h0M134.9 366.3h0M132.2 353.9h0M129.2 365.1h0M134.4 365.7h0M130.5 357.8h0M130.6 367.2h0M133.9 357.4h0M137.7 365.0h0M136.7 356.4h0M132.5 361.7h0M136.2 361.7h0M137.7 361.2h0M133.2 358.7h0M133.0 356.8h0M131.9 365.5h0M139.2 360.7h0M134.5 365.4h0M137.9 359.6h0M130.1 369.0h0M135.7 363.9h0M132.3 355.1h0M135.2 359.9h0M139.3 364.1h0M137.6 362.6h0M135.6 356.3h0M118.5 369.0h0M116.1 370.2h0M120.3 368.3h0M121.6 369.4h0M122.7 367.9h0M121.5 368.4h0M124.9 368.2h0M127.0 368.5h0M126.9 368.9h0M128.7 368.4h0M128.1 368.7h0M129.6 370.6h0M130.8 369.0h0M127.7 376.2h0M127.9 375.5h0M126.3 376.2h0M125.2 377.0h0M126.6 376.6h0M124.0 377.8h0M119.6 381.1h0M120.4 380.4h0M122.0 378.6h0M119.3 380.0h0M117.7 381.9h0M117.4 380.8h0M116.3 379.3h0M115.3 377.2h0M116.1 378.6h0M115.8 378.1h0M116.3 373.4h0M116.6 372.8h0M117.1 372.1h0M124.6 377.3h0M123.5 369.9h0M122.2 369.0h0M118.2 381.1h0M121.1 369.9h0M121.9 369.0h0M124.4 371.2h0M118.7 376.5h0M126.0 375.8h0M122.6 373.7h0M123.2 372.6h0M127.1 374.6h0M117.2 371.1h0M115.7 374.6h0M122.8 369.5h0M126.5 375.0h0M118.0 379.7h0M117.5 371.7h0M127.1 372.6h0M119.0 372.2h0M127.9 369.5h0M116.3 374.5h0M118.7 369.8h0M119.1 377.8h0M123.9 369.9h0" stroke="#5B8FF2" stroke-width="0.8" stroke-linecap="round" fill="none"/>
<path d="M137.0 353.9h0M136.1 353.8h0M136.5 354.9h0M138.2 351.1h0M137.8 352.6h0M140.7 350.6h0M140.3 350.8h0M142.9 350.0h0M142.3 350.3h0M143.4 351.0h0M144.1 352.4h0M143.0 352.8h0M142.1 353.2h0M139.8 356.2h0M140.2 355.9h0M137.2 357.5h0M136.6 356.9h0M136.9 356.4h0M143.6 350.9h0M142.7 352.4h0M138.8 353.8h0M142.4 350.5h0M140.1 354.1h0M141.8 352.5h0M140.8 355.3h0" stroke="#5A3C98" stroke-width="0.8" stroke-linecap="round" fill="none"/>
<path d="M113.2 357.9h0M113.2 358.9h0M113.8 360.4h0M110.4 357.4h0M116.1 366.3h0M106.9 358.1h0M106.6 365.7h0M111.0 358.2h0M105.0 362.4h0M108.9 358.2h0M106.4 363.2h0M119.0 364.1h0M106.3 361.7h0M106.4 364.6h0M129.1 364.8h0M137.2 364.2h0M131.2 361.2h0M137.7 363.7h0M135.9 362.0h0M128.9 360.1h0M128.9 361.6h0M132.3 356.6h0M129.8 356.8h0M133.3 364.8h0M139.9 362.4h0M140.1 360.2h0M129.6 366.5h0M129.4 358.1h0M134.6 361.8h0M136.6 359.9h0M129.1 361.1h0M119.7 369.0h0M119.2 370.7h0M124.7 376.0h0M123.1 378.3h0M123.2 372.3h0M116.2 374.6h0M117.6 378.0h0M121.8 379.2h0M124.0 376.0h0M120.5 369.5h0M124.2 371.1h0M116.7 377.9h0M122.1 369.8h0M123.7 371.6h0M119.3 379.7h0M138.7 354.9h0M140.0 353.5h0M142.9 352.0h0M137.8 352.9h0" stroke="#fff" stroke-opacity="0.55" stroke-width="0.7" stroke-linecap="round" fill="none"/>
<line x1="47.80" y1="355.10" x2="48.70" y2="355.10" stroke="#777" stroke-width="0.4"/>
<text x="47.50" y="356.45" font-size="3.8" text-anchor="end" fill="#444">5</text>
<line x1="47.80" y1="365.30" x2="48.70" y2="365.30" stroke="#777" stroke-width="0.4"/>
<text x="47.50" y="366.65" font-size="3.8" text-anchor="end" fill="#444">0</text>
<line x1="47.80" y1="375.20" x2="48.70" y2="375.20" stroke="#777" stroke-width="0.4"/>
<text x="47.50" y="376.55" font-size="3.8" text-anchor="end" fill="#444">−5</text>
<line x1="52.20" y1="383.20" x2="52.20" y2="384.10" stroke="#777" stroke-width="0.4"/>
<text x="52.20" y="386.75" font-size="3.8" text-anchor="middle" fill="#444">−10</text>
<line x1="63.90" y1="383.20" x2="63.90" y2="384.10" stroke="#777" stroke-width="0.4"/>
<text x="63.90" y="386.75" font-size="3.8" text-anchor="middle" fill="#444">−5</text>
<line x1="75.50" y1="383.20" x2="75.50" y2="384.10" stroke="#777" stroke-width="0.4"/>
<text x="75.50" y="386.75" font-size="3.8" text-anchor="middle" fill="#444">0</text>
<line x1="86.70" y1="383.20" x2="86.70" y2="384.10" stroke="#777" stroke-width="0.4"/>
<text x="86.70" y="386.75" font-size="3.8" text-anchor="middle" fill="#444">5</text>
<line x1="103.00" y1="383.20" x2="103.00" y2="384.10" stroke="#777" stroke-width="0.4"/>
<text x="103.00" y="386.75" font-size="3.8" text-anchor="middle" fill="#444">−10</text>
<line x1="114.70" y1="383.20" x2="114.70" y2="384.10" stroke="#777" stroke-width="0.4"/>
<text x="114.70" y="386.75" font-size="3.8" text-anchor="middle" fill="#444">−5</text>
<line x1="125.30" y1="383.20" x2="125.30" y2="384.10" stroke="#777" stroke-width="0.4"/>
<text x="125.30" y="386.75" font-size="3.8" text-anchor="middle" fill="#444">0</text>
<line x1="136.90" y1="383.20" x2="136.90" y2="384.10" stroke="#777" stroke-width="0.4"/>
<text x="136.90" y="386.75" font-size="3.8" text-anchor="middle" fill="#444">5</text>
<rect x="147.50" y="346.00" width="1.80" height="1.80" fill="#5B8FF2" fill-opacity="0.85"/>
<text x="150.30" y="347.70" font-size="3.5" fill="#222">FOLR2+ cells</text>
<rect x="147.50" y="349.93" width="1.80" height="1.80" fill="#EE5B62" fill-opacity="0.85"/>
<text x="150.30" y="351.63" font-size="3.5" fill="#222">MARCO+ cells</text>
<rect x="147.50" y="353.86" width="1.80" height="1.80" fill="#5A3C98" fill-opacity="0.85"/>
<text x="150.30" y="355.56" font-size="3.5" fill="#222">MKI67+ cells</text>
<rect x="147.50" y="357.79" width="1.80" height="1.80" fill="#6B3FA0" fill-opacity="0.85"/>
<text x="150.30" y="359.49" font-size="3.5" fill="#222">SPP1+ cells</text>
<text x="229.60" y="341.70" font-size="7.0" text-anchor="middle">LUAD</text>
<rect x="181.50" y="343.40" width="47.80" height="4.80" fill="#ECECEC" stroke="#B0B0B0" stroke-width="0.5"/>
<text x="207.20" y="347.00" font-size="3.4" text-anchor="middle" font-weight="bold" fill="#222">Normal</text>
<rect x="181.50" y="348.20" width="47.80" height="35.00" fill="#fff" stroke="#8c8c8c" stroke-width="0.7"/>
<path d="M192.4 357.9 L196.1 359.0 L199.7 360.1 L203.4 360.9 L205.5 362.3 L204.8 364.5 L202.6 365.2 L200.4 363.8 L197.5 363.8 L194.6 363.4 L192.8 361.6Z" fill="#7A2B62" fill-opacity="0.84" stroke="#7A2B62" stroke-opacity="0.5" stroke-width="0.6" stroke-linejoin="round"/>
<path d="M210.7 353.6 L212.8 351.4 L216.5 350.3 L219.8 351.4 L221.6 354.3 L222.0 357.2 L219.4 359.4 L216.5 360.9 L213.6 360.1 L210.7 358.7 L208.8 356.5Z" fill="#A3489E" fill-opacity="0.84" stroke="#A3489E" stroke-opacity="0.5" stroke-width="0.6" stroke-linejoin="round"/>
<path d="M205.5 364.2 L209.2 362.7 L212.8 361.6 L216.5 360.5 L220.9 360.9 L223.8 362.3 L224.5 366.0 L223.1 368.9 L220.1 370.0 L216.5 370.4 L212.8 369.6 L209.9 368.2 L207.0 366.3Z" fill="#74D170" fill-opacity="0.84" stroke="#74D170" stroke-opacity="0.5" stroke-width="0.6" stroke-linejoin="round"/>
<path d="M191.3 357.8h0M193.3 360.3h0M187.5 356.8h0M189.4 355.9h0M190.0 361.7h0M189.6 362.5h0M190.7 358.8h0M191.6 365.1h0M189.1 358.4h0M189.5 357.3h0M187.7 356.2h0M190.1 357.3h0M186.5 355.2h0M186.8 358.3h0M188.0 354.0h0M188.9 357.2h0M191.1 362.7h0M188.4 356.7h0M192.0 365.5h0M188.4 355.2h0M189.0 356.4h0M188.7 358.0h0M191.9 365.6h0M191.5 361.9h0M192.1 364.9h0M193.1 359.5h0M189.7 357.0h0M191.8 361.4h0M190.9 358.9h0M191.6 358.7h0M190.0 363.3h0M189.4 358.7h0M191.4 356.8h0M191.7 357.3h0M190.9 357.3h0M191.7 357.4h0M188.3 358.1h0M191.3 362.1h0M191.5 358.0h0M192.5 362.1h0M187.2 359.0h0M189.6 357.2h0M189.4 358.5h0M188.5 360.4h0M190.0 362.4h0M189.4 361.0h0M189.7 361.1h0M192.1 364.5h0M188.8 357.2h0M188.2 357.8h0M190.0 361.0h0M189.5 355.1h0M190.6 358.3h0M190.1 354.7h0M189.8 356.6h0M191.5 357.3h0M189.9 360.2h0M191.0 359.7h0M193.3 360.7h0M192.7 360.4h0M188.8 360.1h0M187.5 352.6h0M186.3 355.8h0M186.9 356.1h0M190.1 362.1h0M192.9 361.7h0M186.8 357.8h0M192.8 362.6h0M190.6 360.2h0M189.6 361.2h0" stroke="#5B8FF2" stroke-width="0.8" stroke-linecap="round" fill="none"/>
<path d="M194.0 359.1h0M193.3 358.6h0M195.6 358.9h0M197.0 359.2h0M198.4 359.9h0M197.2 359.8h0M200.1 359.7h0M202.4 360.1h0M200.2 360.0h0M206.0 362.7h0M204.1 360.9h0M206.0 362.6h0M204.7 363.8h0M204.1 363.9h0M203.3 365.6h0M201.5 363.8h0M202.3 364.1h0M198.1 363.8h0M198.6 363.9h0M194.6 362.8h0M195.5 364.1h0M194.7 363.3h0M194.1 363.0h0M193.2 360.3h0M192.0 358.6h0M192.7 358.7h0M203.1 361.2h0M199.7 363.4h0M202.1 362.5h0M192.8 358.9h0M194.7 361.9h0M198.4 361.3h0M193.2 359.1h0M202.1 364.3h0M200.9 363.5h0M204.3 364.5h0" stroke="#7A2B62" stroke-width="0.8" stroke-linecap="round" fill="none"/>
<path d="M212.6 352.3h0M210.4 353.7h0M213.6 351.5h0M214.5 350.9h0M216.5 351.1h0M219.3 351.6h0M219.2 350.2h0M219.2 350.5h0M219.2 351.7h0M220.6 351.5h0M222.0 354.2h0M221.5 355.0h0M222.6 356.5h0M222.2 357.6h0M220.9 359.2h0M221.0 357.9h0M217.0 360.1h0M219.2 359.3h0M213.4 360.2h0M215.8 360.1h0M211.4 359.0h0M211.5 359.2h0M208.8 357.0h0M208.8 357.5h0M209.3 356.1h0M210.8 353.9h0M210.7 355.7h0M216.8 351.1h0M210.4 357.3h0M211.4 358.3h0M217.9 352.0h0M219.4 355.3h0M218.0 351.2h0M213.7 357.7h0M213.6 352.0h0M214.8 351.8h0M215.1 351.3h0M218.4 352.5h0M217.1 357.1h0M211.4 356.9h0M216.0 356.8h0M211.3 355.3h0M219.8 356.8h0M212.0 353.8h0M215.1 355.7h0M214.8 353.4h0" stroke="#A3489E" stroke-width="0.8" stroke-linecap="round" fill="none"/>
<path d="M208.3 363.0h0M207.3 364.1h0M206.1 363.7h0M212.3 361.7h0M210.2 362.9h0M211.7 362.9h0M214.1 361.9h0M214.5 361.0h0M216.5 361.4h0M220.9 360.6h0M218.7 361.2h0M219.0 360.1h0M221.8 361.0h0M220.9 361.4h0M224.1 365.1h0M224.5 363.6h0M223.2 362.9h0M222.6 368.6h0M224.3 367.7h0M221.5 370.6h0M222.8 369.8h0M218.8 370.1h0M216.3 371.0h0M217.9 370.1h0M214.9 370.5h0M215.3 370.7h0M215.3 371.1h0M212.8 369.2h0M211.3 369.2h0M207.4 366.2h0M209.8 368.1h0M209.0 367.5h0M205.6 364.5h0M205.8 365.1h0M219.7 365.5h0M206.6 363.9h0M216.4 362.8h0M212.9 366.0h0M212.5 362.3h0M216.1 365.9h0M213.3 366.7h0M222.3 363.6h0M222.2 366.4h0M219.9 364.3h0M211.7 367.3h0M216.3 369.5h0M208.6 363.9h0M218.7 369.4h0M214.4 368.3h0M211.8 367.3h0M211.2 362.3h0M210.7 367.6h0M219.1 369.5h0M220.9 363.0h0M219.2 365.3h0M209.9 367.9h0M214.3 369.2h0M220.9 365.8h0M213.2 365.8h0M208.4 366.2h0" stroke="#74D170" stroke-width="0.8" stroke-linecap="round" fill="none"/>
<path d="M196.2 373.2h0M198.0 373.5h0M199.1 370.4h0M200.8 370.7h0M209.8 370.7h0M205.6 367.9h0M202.5 369.3h0M210.9 370.7h0M197.9 373.5h0M208.9 373.7h0M204.2 367.3h0M204.9 369.8h0M207.5 373.1h0M198.9 379.5h0M200.1 372.7h0M191.3 378.6h0M209.0 374.1h0M200.8 377.3h0M195.9 374.3h0M198.2 374.3h0M210.5 371.4h0M209.1 372.3h0M200.2 365.7h0M197.5 372.3h0M203.2 368.6h0M204.8 374.8h0M196.9 366.8h0M196.8 368.4h0M190.9 377.3h0M196.5 376.4h0M190.8 374.0h0M203.9 371.6h0M208.8 373.2h0M198.2 372.7h0M200.9 368.0h0M199.4 376.7h0M193.2 372.8h0M205.7 373.2h0M206.1 367.7h0M203.8 373.1h0M210.0 368.0h0M206.5 370.9h0M206.1 375.7h0M199.5 379.4h0M200.1 372.2h0M206.4 367.5h0M210.5 370.2h0M193.0 374.1h0M195.7 371.8h0M194.7 376.1h0M206.9 375.5h0M203.4 366.5h0M206.4 373.4h0M201.7 369.6h0M191.6 375.8h0M205.3 374.7h0M201.8 372.1h0M211.0 370.9h0M193.4 379.5h0M193.7 372.6h0M201.3 371.0h0M208.0 369.0h0M212.2 368.4h0M196.6 377.7h0M195.5 376.1h0M196.4 371.4h0M200.8 368.9h0M207.0 373.4h0M205.7 369.2h0M199.3 366.2h0M199.1 376.5h0M197.4 368.0h0M204.8 366.9h0M200.0 368.7h0M208.6 371.5h0M200.3 378.4h0M196.9 372.0h0M212.4 369.8h0M202.4 375.0h0M197.8 374.7h0M199.8 377.7h0M202.8 376.1h0M203.2 375.7h0M199.0 367.5h0M198.4 370.1h0M202.1 372.4h0M193.1 376.0h0M191.1 378.3h0M209.7 371.4h0M198.0 371.7h0M207.6 372.2h0M207.2 372.9h0M207.0 372.6h0M203.4 371.5h0M203.1 373.6h0M192.6 373.7h0M211.2 368.9h0M207.7 369.1h0M206.4 369.5h0M203.7 376.8h0M190.9 377.8h0M202.1 368.9h0M197.2 373.5h0M207.0 367.9h0M191.8 368.7h0M204.6 371.3h0M198.5 374.1h0M193.5 374.4h0M204.9 368.8h0M205.3 367.3h0M195.1 376.2h0M204.1 370.9h0M205.9 376.6h0M205.6 368.5h0M200.0 379.1h0M194.5 368.9h0M201.3 367.4h0M195.6 376.2h0M190.6 374.4h0M199.4 375.9h0M196.1 372.4h0M209.8 370.7h0M196.9 379.2h0M198.6 373.3h0M193.4 371.4h0M193.2 375.0h0M202.6 370.8h0M206.3 368.5h0M204.0 371.5h0M193.4 376.9h0M194.6 377.8h0M199.3 374.8h0M196.8 372.8h0M194.3 376.9h0M196.1 375.8h0M196.1 373.3h0M194.4 377.5h0M196.6 372.4h0M195.0 372.4h0M197.6 377.6h0M198.8 378.1h0M196.5 374.8h0M193.9 373.3h0M200.1 373.5h0M196.5 378.1h0M195.6 373.1h0M197.6 372.9h0M195.2 376.4h0M194.5 377.7h0M200.1 374.6h0M194.2 375.9h0M195.5 372.0h0M198.8 375.8h0M195.3 373.2h0M199.0 378.8h0M196.0 376.0h0M194.9 375.0h0M197.8 373.6h0M198.0 375.6h0M196.5 372.3h0M197.5 376.1h0M198.2 378.5h0M198.0 377.6h0M194.1 378.4h0M199.8 375.7h0M187.3 380.2h0M188.0 379.5h0" stroke="#EE5B62" stroke-width="0.8" stroke-linecap="round" fill="none"/>
<path d="M203.6 361.1h0M197.4 359.8h0M192.8 359.4h0M196.5 360.5h0M205.2 363.0h0M197.2 360.1h0M214.8 350.8h0M218.8 352.4h0M213.0 355.8h0M218.7 355.6h0M216.3 350.7h0M210.6 357.4h0M216.1 356.6h0M213.7 358.1h0M219.1 357.6h0M211.2 355.2h0M213.4 356.8h0M210.7 364.3h0M214.4 363.4h0M208.8 367.1h0M217.4 361.3h0M209.8 363.3h0M212.5 365.3h0M216.4 366.7h0M210.4 364.0h0M214.0 369.2h0M220.3 365.2h0M206.9 364.0h0M221.0 364.8h0M213.0 366.8h0M218.6 361.6h0M213.5 368.9h0" stroke="#fff" stroke-opacity="0.55" stroke-width="0.7" stroke-linecap="round" fill="none"/>
<rect x="230.60" y="343.40" width="48.00" height="4.80" fill="#ECECEC" stroke="#B0B0B0" stroke-width="0.5"/>
<text x="256.40" y="347.00" font-size="3.4" text-anchor="middle" font-weight="bold" fill="#222">Tumor</text>
<rect x="230.60" y="348.20" width="48.00" height="35.00" fill="#fff" stroke="#8c8c8c" stroke-width="0.7"/>
<path d="M232.6 351.7 L235.6 351.0 L238.5 350.3 L241.4 351.4 L244.3 354.3 L246.2 357.2 L244.3 359.4 L242.9 361.6 L241.4 364.5 L239.2 364.5 L236.3 362.3 L234.1 359.4 L233.4 355.8Z" fill="#5B8FF2" fill-opacity="0.84" stroke="#5B8FF2" stroke-opacity="0.5" stroke-width="0.6" stroke-linejoin="round"/>
<path d="M262.2 352.8 L264.0 350.6 L267.0 350.3 L269.1 352.1 L270.6 355.0 L272.1 357.2 L269.9 358.7 L267.0 359.4 L264.0 359.8 L261.1 357.9 L258.9 357.2 L260.4 355.0Z" fill="#A3489E" fill-opacity="0.84" stroke="#A3489E" stroke-opacity="0.5" stroke-width="0.6" stroke-linejoin="round"/>
<path d="M261.1 361.6 L264.0 359.8 L268.4 358.7 L272.8 357.2 L275.7 358.7 L276.8 361.6 L275.7 364.5 L272.8 368.2 L269.9 369.6 L266.2 370.4 L263.3 368.9 L261.1 367.4 L258.9 366.0 L256.7 365.2 L258.2 363.8Z" fill="#74D170" fill-opacity="0.84" stroke="#74D170" stroke-opacity="0.5" stroke-width="0.6" stroke-linejoin="round"/>
<path d="M239.9 367.4 L242.1 365.2 L245.8 365.6 L249.4 366.0 L253.8 365.2 L257.5 366.0 L260.4 367.4 L262.6 370.4 L261.1 373.3 L258.2 376.2 L255.3 378.4 L252.4 379.1 L248.7 380.6 L245.8 381.3 L243.6 379.1 L240.7 376.9 L238.5 376.2 L239.2 372.5Z" fill="#EE5B62" fill-opacity="0.84" stroke="#EE5B62" stroke-opacity="0.5" stroke-width="0.6" stroke-linejoin="round"/>
<path d="M242.5 361.6 L244.3 359.4 L246.5 357.9 L248.7 359.4 L250.9 361.6 L253.1 362.3 L253.8 364.5 L250.9 366.0 L248.0 366.3 L245.1 366.0 L242.1 364.9Z" fill="#7A2B62" fill-opacity="0.84" stroke="#7A2B62" stroke-opacity="0.5" stroke-width="0.6" stroke-linejoin="round"/>
<path d="M233.3 351.4h0M235.3 351.9h0M237.9 350.4h0M235.5 351.1h0M240.3 350.3h0M240.0 351.7h0M242.4 353.1h0M243.2 354.5h0M240.9 351.7h0M245.7 357.0h0M243.9 355.0h0M244.8 355.1h0M244.2 359.5h0M244.7 359.2h0M243.6 359.4h0M243.7 360.7h0M242.9 361.6h0M242.3 362.3h0M241.9 365.2h0M238.5 364.2h0M236.4 363.5h0M239.7 363.5h0M235.8 361.0h0M234.0 360.5h0M233.9 360.2h0M232.9 355.9h0M233.7 357.3h0M233.7 357.2h0M233.9 354.2h0M233.3 352.3h0M232.3 353.9h0M245.3 356.6h0M237.6 363.2h0M243.7 359.9h0M236.5 351.8h0M235.1 354.0h0M235.2 358.4h0M236.9 353.4h0M244.5 355.5h0M239.0 359.1h0M239.9 353.4h0M240.0 356.2h0M235.7 356.7h0M240.0 364.4h0M237.9 362.8h0M233.9 357.7h0M240.7 362.2h0M237.1 358.9h0M240.3 355.1h0M241.4 360.7h0M241.8 359.9h0M237.8 360.5h0M237.4 353.6h0M234.0 358.2h0M234.9 354.3h0M236.7 355.6h0" stroke="#5B8FF2" stroke-width="0.8" stroke-linecap="round" fill="none"/>
<path d="M264.0 352.2h0M262.0 351.6h0M263.6 350.9h0M265.9 349.9h0M269.1 351.7h0M266.3 349.9h0M269.3 353.9h0M269.4 354.1h0M271.4 356.4h0M271.5 356.2h0M270.6 358.9h0M271.1 358.3h0M268.5 359.3h0M269.0 358.8h0M266.4 360.2h0M265.0 359.0h0M262.7 358.9h0M263.3 359.4h0M264.0 360.0h0M260.2 357.0h0M260.4 357.4h0M260.0 355.1h0M259.0 357.9h0M261.6 353.1h0M260.9 355.2h0M264.1 351.1h0M262.6 357.0h0M269.1 354.1h0M270.6 357.0h0M264.1 354.9h0M265.9 352.8h0M271.2 357.1h0M263.0 355.8h0M264.4 352.3h0M267.7 353.1h0M265.1 358.6h0M260.8 356.3h0M264.0 355.1h0M263.2 353.6h0M265.4 356.6h0" stroke="#A3489E" stroke-width="0.8" stroke-linecap="round" fill="none"/>
<path d="M264.3 359.3h0M263.1 361.3h0M261.8 361.3h0M263.6 360.2h0M266.9 359.2h0M266.1 358.4h0M267.8 358.8h0M272.4 357.9h0M272.8 356.7h0M272.5 357.8h0M270.9 357.8h0M273.5 357.1h0M273.5 358.3h0M276.1 361.0h0M276.5 359.4h0M276.2 364.7h0M276.0 363.8h0M273.7 366.2h0M274.0 368.3h0M273.7 366.8h0M273.9 367.9h0M270.4 368.9h0M273.2 368.1h0M267.6 369.9h0M266.2 370.7h0M267.4 370.4h0M265.8 370.1h0M263.4 368.7h0M261.5 367.3h0M261.3 367.4h0M259.1 366.7h0M260.6 366.7h0M257.3 365.2h0M257.6 365.2h0M257.4 363.5h0M259.2 363.8h0M259.1 363.8h0M260.2 362.0h0M266.2 365.6h0M258.9 363.5h0M260.2 365.1h0M263.7 366.0h0M272.5 362.5h0M261.0 365.4h0M272.9 359.0h0M264.1 364.3h0M270.2 361.5h0M264.1 366.7h0M266.5 363.0h0M266.2 361.1h0M260.1 364.1h0M270.8 364.1h0M266.8 366.0h0M268.1 366.4h0M264.4 362.5h0M263.6 360.4h0M262.3 364.6h0M271.5 364.2h0M274.9 360.7h0M260.3 366.5h0M274.2 364.0h0M265.8 370.0h0M272.5 360.2h0M270.9 362.3h0M266.0 361.3h0M274.3 362.2h0M268.0 367.9h0M270.4 359.3h0M273.6 361.5h0" stroke="#74D170" stroke-width="0.8" stroke-linecap="round" fill="none"/>
<path d="M240.6 367.7h0M240.5 367.0h0M243.9 365.9h0M243.6 365.3h0M241.4 366.0h0M245.9 365.9h0M246.7 365.1h0M249.2 366.1h0M251.3 365.5h0M253.2 365.9h0M251.7 365.3h0M254.8 366.1h0M254.3 364.9h0M255.2 365.6h0M259.8 367.2h0M259.2 367.0h0M261.0 367.9h0M261.9 369.7h0M262.8 370.0h0M262.5 370.8h0M261.0 373.0h0M261.6 374.1h0M260.4 374.1h0M258.4 376.2h0M256.0 377.8h0M256.3 377.7h0M255.6 377.6h0M253.1 378.4h0M254.6 378.0h0M251.4 380.4h0M247.9 380.8h0M251.3 378.7h0M248.1 381.8h0M248.4 381.2h0M246.3 380.7h0M243.0 379.9h0M242.1 377.4h0M242.6 378.1h0M240.8 377.7h0M240.8 377.0h0M238.5 376.2h0M238.6 373.0h0M239.4 373.1h0M239.0 376.0h0M239.2 370.7h0M240.4 369.1h0M239.1 369.0h0M239.0 367.2h0M242.1 368.0h0M245.1 375.2h0M248.9 368.0h0M240.9 373.7h0M246.9 373.3h0M241.1 371.0h0M250.7 366.6h0M250.6 378.7h0M252.7 367.3h0M253.7 366.6h0M251.3 368.1h0M245.2 367.2h0M260.0 367.6h0M254.7 378.2h0M249.3 374.6h0M246.5 378.4h0M255.0 366.5h0M255.4 367.5h0M250.1 368.2h0M250.2 375.8h0M256.2 370.5h0M239.8 372.5h0M253.4 377.5h0M257.9 367.5h0M244.9 376.7h0M257.1 370.6h0M242.6 375.8h0M241.2 373.2h0M245.1 371.7h0M254.2 375.4h0M253.4 366.2h0M256.5 375.4h0M247.8 368.6h0M249.1 378.8h0M256.7 367.3h0M243.3 368.6h0M256.4 369.3h0M259.9 371.9h0M243.1 371.9h0M247.6 365.9h0M259.2 372.0h0M252.1 373.5h0M255.7 374.9h0M249.1 378.9h0M245.4 371.5h0M244.3 378.9h0M245.7 375.9h0M253.8 374.1h0M243.1 373.6h0M244.3 378.8h0M242.9 377.5h0M243.2 370.7h0M252.5 369.7h0M256.7 366.3h0M254.8 369.4h0" stroke="#EE5B62" stroke-width="0.8" stroke-linecap="round" fill="none"/>
<path d="M243.5 359.3h0M243.0 361.9h0M246.5 358.7h0M246.6 358.4h0M247.1 358.2h0M246.0 357.9h0M249.5 360.6h0M250.0 360.6h0M251.5 361.2h0M250.5 361.1h0M252.2 362.9h0M254.4 363.5h0M254.4 364.3h0M253.2 365.1h0M249.3 365.4h0M249.5 365.4h0M247.4 365.8h0M246.6 365.7h0M244.6 366.4h0M244.7 366.4h0M242.1 363.8h0M243.3 362.0h0M247.8 361.7h0M252.0 363.2h0M248.6 362.3h0M248.2 359.8h0M246.9 364.2h0M247.8 361.5h0M244.5 362.0h0M245.7 360.1h0M249.4 360.5h0M243.5 364.5h0M251.2 363.9h0M248.0 364.9h0" stroke="#7A2B62" stroke-width="0.8" stroke-linecap="round" fill="none"/>
<path d="M239.8 358.1h0M238.1 358.1h0M243.6 357.7h0M239.6 355.3h0M235.2 353.3h0M233.9 354.3h0M240.4 351.9h0M242.9 356.7h0M241.1 356.4h0M243.4 360.0h0M234.3 358.1h0M236.2 360.9h0M237.7 353.5h0M234.3 353.9h0M238.2 356.4h0M271.0 357.8h0M262.7 353.7h0M268.0 351.8h0M265.5 357.4h0M268.0 354.5h0M265.8 351.5h0M262.1 353.5h0M263.6 356.5h0M270.4 357.7h0M273.4 365.7h0M270.7 364.4h0M258.5 363.8h0M269.5 367.6h0M272.2 364.2h0M275.7 360.8h0M262.5 363.1h0M264.5 366.0h0M264.2 365.5h0M273.9 359.7h0M268.4 365.8h0M262.5 364.0h0M263.4 364.8h0M258.9 365.4h0M260.9 364.5h0M260.5 363.1h0M262.0 365.6h0M272.4 368.3h0M267.8 361.8h0M261.5 370.5h0M254.6 365.7h0M247.7 368.5h0M246.9 366.4h0M254.1 366.2h0M244.3 366.0h0M242.6 377.3h0M245.2 378.1h0M256.2 375.6h0M253.1 367.5h0M251.3 368.3h0M240.6 369.4h0M261.9 370.3h0M245.2 373.7h0M257.3 370.2h0M253.9 365.8h0M252.9 375.5h0M243.2 366.4h0M252.5 367.5h0M257.4 372.5h0M247.3 378.0h0M246.5 380.3h0M246.6 375.3h0M244.7 376.9h0M245.3 372.0h0M241.9 368.0h0M243.6 377.6h0M254.7 376.8h0M257.9 369.0h0M247.0 374.9h0M244.8 378.0h0M243.6 372.3h0M255.0 368.8h0M251.3 362.9h0M242.8 365.1h0M246.8 363.8h0M250.3 365.2h0M245.0 359.0h0M246.0 358.8h0M245.3 359.1h0" stroke="#fff" stroke-opacity="0.55" stroke-width="0.7" stroke-linecap="round" fill="none"/>
<line x1="180.60" y1="349.60" x2="181.50" y2="349.60" stroke="#777" stroke-width="0.4"/>
<text x="180.30" y="350.95" font-size="3.8" text-anchor="end" fill="#444">5.0</text>
<line x1="180.60" y1="357.20" x2="181.50" y2="357.20" stroke="#777" stroke-width="0.4"/>
<text x="180.30" y="358.55" font-size="3.8" text-anchor="end" fill="#444">2.5</text>
<line x1="180.60" y1="365.10" x2="181.50" y2="365.10" stroke="#777" stroke-width="0.4"/>
<text x="180.30" y="366.45" font-size="3.8" text-anchor="end" fill="#444">0.0</text>
<line x1="180.60" y1="373.30" x2="181.50" y2="373.30" stroke="#777" stroke-width="0.4"/>
<text x="180.30" y="374.65" font-size="3.8" text-anchor="end" fill="#444">−2.5</text>
<line x1="180.60" y1="381.00" x2="181.50" y2="381.00" stroke="#777" stroke-width="0.4"/>
<text x="180.30" y="382.35" font-size="3.8" text-anchor="end" fill="#444">−5.0</text>
<line x1="193.00" y1="383.20" x2="193.00" y2="384.10" stroke="#777" stroke-width="0.4"/>
<text x="193.00" y="386.95" font-size="3.8" text-anchor="middle" fill="#444">−4</text>
<line x1="204.50" y1="383.20" x2="204.50" y2="384.10" stroke="#777" stroke-width="0.4"/>
<text x="204.50" y="386.95" font-size="3.8" text-anchor="middle" fill="#444">0</text>
<line x1="216.80" y1="383.20" x2="216.80" y2="384.10" stroke="#777" stroke-width="0.4"/>
<text x="216.80" y="386.95" font-size="3.8" text-anchor="middle" fill="#444">4</text>
<line x1="228.80" y1="383.20" x2="228.80" y2="384.10" stroke="#777" stroke-width="0.4"/>
<text x="228.80" y="386.95" font-size="3.8" text-anchor="middle" fill="#444">8</text>
<line x1="242.30" y1="383.20" x2="242.30" y2="384.10" stroke="#777" stroke-width="0.4"/>
<text x="242.30" y="386.95" font-size="3.8" text-anchor="middle" fill="#444">−4</text>
<line x1="253.80" y1="383.20" x2="253.80" y2="384.10" stroke="#777" stroke-width="0.4"/>
<text x="253.80" y="386.95" font-size="3.8" text-anchor="middle" fill="#444">0</text>
<line x1="265.80" y1="383.20" x2="265.80" y2="384.10" stroke="#777" stroke-width="0.4"/>
<text x="265.80" y="386.95" font-size="3.8" text-anchor="middle" fill="#444">4</text>
<line x1="277.30" y1="383.20" x2="277.30" y2="384.10" stroke="#777" stroke-width="0.4"/>
<text x="277.30" y="386.95" font-size="3.8" text-anchor="middle" fill="#444">8</text>
<rect x="280.00" y="346.00" width="1.80" height="1.80" fill="#A3489E" fill-opacity="0.85"/>
<text x="282.80" y="347.70" font-size="3.5" fill="#222">FAM26F+ cells</text>
<rect x="280.00" y="349.93" width="1.80" height="1.80" fill="#5B8FF2" fill-opacity="0.85"/>
<text x="282.80" y="351.63" font-size="3.5" fill="#222">FOLR2+ cells</text>
<rect x="280.00" y="353.86" width="1.80" height="1.80" fill="#74D170" fill-opacity="0.85"/>
<text x="282.80" y="355.56" font-size="3.5" fill="#222">IL1B+ cells</text>
<rect x="280.00" y="357.79" width="1.80" height="1.80" fill="#EE5B62" fill-opacity="0.85"/>
<text x="282.80" y="359.49" font-size="3.5" fill="#222">MARCO+ cells</text>
<rect x="280.00" y="361.72" width="1.80" height="1.80" fill="#7A2B62" fill-opacity="0.85"/>
<text x="282.80" y="363.42" font-size="3.5" fill="#222">SPP1+ cells</text>
<text x="99.00" y="395.60" font-size="7.0" text-anchor="middle">ESCA</text>
<rect x="48.70" y="397.45" width="48.60" height="4.80" fill="#ECECEC" stroke="#B0B0B0" stroke-width="0.5"/>
<text x="74.80" y="401.05" font-size="3.4" text-anchor="middle" font-weight="bold" fill="#222">Normal</text>
<rect x="48.70" y="402.25" width="48.60" height="35.00" fill="#fff" stroke="#8c8c8c" stroke-width="0.7"/>
<path d="M51.3 414.1 L52.4 411.2 L54.6 408.3 L58.2 407.2 L61.9 407.9 L66.2 408.7 L69.2 410.5 L69.9 413.4 L69.2 417.8 L67.0 420.7 L64.1 422.9 L61.1 425.1 L58.2 425.1 L55.3 422.9 L52.4 419.2 L51.3 416.3Z" fill="#74D170" fill-opacity="0.80" stroke="#74D170" stroke-opacity="0.5" stroke-width="0.6" stroke-linejoin="round"/>
<path d="M60.4 425.8 L64.1 424.4 L67.0 421.4 L69.9 418.5 L72.8 416.7 L75.0 417.1 L77.2 418.5 L80.1 417.4 L84.5 417.1 L88.9 416.3 L91.8 415.6 L94.4 416.7 L94.0 419.2 L91.8 422.2 L91.1 425.8 L90.0 429.5 L88.1 432.4 L84.5 433.1 L80.8 432.4 L77.2 430.9 L75.0 429.5 L72.1 427.3 L68.4 426.5 L64.8 426.2 L62.6 427.3 L60.4 428.0Z" fill="#EE5B62" fill-opacity="0.74" stroke="#EE5B62" stroke-opacity="0.5" stroke-width="0.6" stroke-linejoin="round"/>
<path d="M53.1 433.1 L54.2 430.2 L56.0 428.0 L58.2 426.5 L59.7 427.3 L58.6 430.2 L57.5 432.4 L56.0 434.9 L54.2 435.7Z" fill="#9B5CF6" fill-opacity="0.84" stroke="#9B5CF6" stroke-opacity="0.5" stroke-width="0.6" stroke-linejoin="round"/>
<path d="M51.5 412.7h0M51.6 411.4h0M53.3 409.6h0M52.6 409.5h0M54.2 409.4h0M56.9 407.1h0M58.0 407.2h0M55.3 408.9h0M60.2 406.8h0M60.0 407.2h0M59.1 407.7h0M64.3 407.6h0M65.5 409.1h0M63.2 408.9h0M68.5 409.9h0M69.1 410.4h0M68.8 410.1h0M70.4 413.8h0M69.3 412.6h0M69.1 413.7h0M69.5 414.5h0M68.7 415.1h0M67.3 419.2h0M67.5 421.2h0M67.3 419.4h0M66.9 421.5h0M65.3 421.9h0M65.3 421.2h0M62.6 424.5h0M60.7 425.5h0M63.0 423.3h0M58.7 424.3h0M59.1 424.2h0M57.9 424.9h0M57.6 425.8h0M57.5 424.0h0M52.9 419.2h0M54.5 423.2h0M53.0 419.9h0M54.2 420.1h0M51.3 415.8h0M52.6 419.5h0M50.8 415.2h0M55.2 411.2h0M59.1 411.5h0M63.6 411.5h0M56.2 414.7h0M60.2 423.1h0M62.7 412.7h0M58.8 414.8h0M57.3 408.2h0M54.2 409.8h0M55.2 413.1h0M53.2 418.2h0M55.0 416.3h0M64.2 416.1h0M65.1 421.2h0M59.6 411.0h0M58.1 412.4h0M67.9 415.6h0M55.9 411.2h0M67.8 411.4h0M62.4 424.0h0M60.0 414.8h0M55.5 408.1h0M61.4 423.0h0M69.1 411.4h0M69.3 412.1h0M54.6 412.1h0M57.8 415.8h0M68.0 413.7h0M55.6 416.4h0M68.7 418.2h0M67.5 410.7h0M60.7 423.6h0M61.9 421.4h0M66.3 415.1h0M64.1 419.6h0M59.5 416.5h0M69.7 413.8h0M63.9 417.1h0M67.1 411.5h0M60.0 411.8h0M66.2 419.9h0M53.9 417.8h0M65.7 413.4h0M52.8 417.7h0M62.7 414.9h0M56.3 413.4h0M55.6 421.7h0M58.4 420.0h0M61.5 411.3h0" stroke="#74D170" stroke-width="0.8" stroke-linecap="round" fill="none"/>
<path d="M61.4 426.2h0M60.5 425.6h0M61.2 426.4h0M64.0 423.7h0M64.7 424.7h0M65.5 423.3h0M70.3 418.6h0M68.2 421.1h0M68.9 419.4h0M69.6 417.6h0M70.8 418.1h0M72.5 416.9h0M73.5 416.4h0M74.6 417.5h0M77.1 418.1h0M77.8 417.6h0M80.3 417.3h0M82.4 416.9h0M81.8 418.0h0M83.6 417.0h0M86.3 416.2h0M85.7 416.6h0M85.6 416.1h0M90.3 415.6h0M88.7 416.0h0M92.2 415.2h0M93.5 415.3h0M94.4 418.7h0M94.7 418.7h0M94.1 420.4h0M93.7 419.9h0M91.7 422.0h0M90.6 425.1h0M90.9 423.0h0M91.5 422.3h0M90.1 429.9h0M90.7 426.4h0M90.8 428.1h0M88.6 432.0h0M89.3 429.8h0M88.8 431.9h0M84.6 433.2h0M86.0 433.5h0M84.5 433.7h0M83.7 432.3h0M81.8 433.5h0M81.9 433.5h0M80.9 432.5h0M80.7 431.7h0M76.5 431.2h0M75.3 430.9h0M76.2 429.7h0M74.2 428.3h0M74.4 428.8h0M72.1 427.3h0M70.5 426.6h0M70.7 426.9h0M71.2 426.5h0M67.6 425.9h0M69.1 427.3h0M66.9 426.4h0M64.8 427.1h0M63.0 427.6h0M60.0 428.3h0M63.1 427.9h0M60.8 426.7h0M89.4 425.7h0M69.4 419.3h0M79.4 424.5h0M91.1 418.6h0M76.2 423.4h0M73.2 418.9h0M73.4 425.1h0M76.8 421.7h0M72.1 417.6h0M76.5 426.4h0M81.0 425.4h0M68.2 421.6h0M84.8 422.6h0M78.4 419.6h0M81.8 424.0h0M76.3 420.3h0M84.3 422.9h0M71.4 417.6h0M81.0 428.0h0M86.5 418.3h0M69.3 425.4h0M86.4 421.6h0M82.5 426.1h0M83.1 425.1h0M90.6 426.2h0M83.8 421.0h0M64.1 425.4h0M71.7 419.0h0M80.0 421.2h0M64.2 424.2h0M78.3 421.1h0M83.2 423.4h0M88.2 427.5h0M78.6 430.3h0M94.0 417.2h0M91.0 416.0h0M84.2 429.5h0M86.4 424.3h0M63.0 425.1h0M78.2 418.9h0M65.5 424.8h0M87.2 421.3h0M78.9 422.4h0M82.1 426.5h0M64.7 423.9h0M90.8 425.4h0M82.1 423.7h0M84.1 430.2h0M68.5 420.8h0M78.3 419.5h0M82.6 421.7h0M76.3 425.9h0M80.5 431.7h0M76.6 423.4h0M75.3 417.6h0M91.5 417.6h0M80.4 424.1h0M78.5 423.0h0M81.2 426.3h0M66.8 425.5h0M81.3 424.7h0M85.9 423.5h0M84.4 422.1h0M79.3 428.5h0M80.3 426.2h0M73.5 421.7h0M82.6 423.4h0M75.4 422.2h0" stroke="#EE5B62" stroke-width="0.8" stroke-linecap="round" fill="none"/>
<path d="M53.9 433.2h0M53.2 430.4h0M56.1 428.8h0M55.8 427.7h0M56.7 427.1h0M57.4 427.2h0M58.2 427.0h0M59.0 430.4h0M59.9 428.3h0M57.6 431.6h0M58.6 431.1h0M57.7 432.1h0M57.4 433.3h0M56.0 434.3h0M54.8 436.3h0M54.1 433.7h0M56.8 431.4h0M54.4 431.5h0M55.9 433.9h0M54.0 431.4h0M56.2 428.0h0M57.6 430.2h0" stroke="#9B5CF6" stroke-width="0.8" stroke-linecap="round" fill="none"/>
<path d="M70.3 429.1h0M68.1 431.0h0M71.8 431.4h0M72.6 430.1h0M72.8 431.1h0M67.9 429.0h0M71.5 432.4h0M73.3 431.2h0M67.8 429.8h0M70.1 431.0h0M67.4 432.1h0M67.1 432.2h0M71.1 432.5h0M72.8 431.8h0M68.3 430.6h0M70.5 431.0h0M73.6 430.9h0M66.5 430.8h0M67.3 430.4h0M72.3 431.9h0M67.1 429.7h0M67.3 431.3h0M71.8 428.9h0M66.8 431.6h0M69.4 429.9h0M67.3 432.2h0M66.5 431.4h0M66.9 431.5h0M66.7 429.3h0M69.8 431.5h0" stroke="#C9C0E0" stroke-width="0.8" stroke-linecap="round" fill="none"/>
<path d="M88.5 407.9h0M86.1 409.4h0M87.4 410.0h0M89.3 405.8h0M86.1 408.0h0M86.1 404.7h0M84.2 405.2h0M84.2 407.8h0M87.8 406.1h0M88.4 409.3h0M84.7 405.7h0M86.3 408.0h0M90.2 408.0h0M85.2 408.8h0M84.2 405.0h0M87.7 407.2h0M87.5 405.5h0M84.7 407.9h0M86.3 407.4h0M90.4 407.2h0M87.0 404.6h0M84.6 405.5h0M86.1 405.3h0M85.5 404.7h0M86.0 409.1h0M87.4 409.8h0M88.0 408.3h0M86.5 409.5h0M86.6 405.1h0M83.5 405.4h0M90.6 413.2h0M90.4 413.1h0M90.3 412.9h0M89.8 412.4h0M91.0 412.9h0" stroke="#5A3C98" stroke-width="0.8" stroke-linecap="round" fill="none"/>
<path d="M56.5 419.2h0M54.2 411.8h0M53.1 410.6h0M58.5 420.0h0M68.3 417.8h0M54.0 413.9h0M54.0 412.2h0M62.0 416.2h0M54.5 412.1h0M68.0 418.5h0M62.5 413.0h0M56.9 420.8h0M65.9 410.5h0M59.1 418.9h0M63.8 412.4h0M60.0 414.3h0M64.0 422.8h0M55.9 419.2h0M55.2 409.3h0M57.6 424.1h0M56.8 412.7h0M65.4 413.5h0M57.5 411.5h0M67.3 415.2h0M67.1 415.9h0M58.2 413.3h0M52.2 415.3h0M59.5 422.1h0M55.1 408.7h0M65.1 419.9h0M64.4 421.4h0M54.6 408.6h0M63.5 410.3h0M59.4 409.9h0M53.0 415.9h0M61.4 422.4h0M52.6 417.1h0M54.4 413.1h0M63.7 418.0h0M55.0 419.4h0M66.9 413.4h0M70.3 426.6h0M90.2 419.0h0M82.5 424.9h0M82.0 427.2h0M72.7 424.7h0M81.8 431.8h0M82.7 427.0h0M77.0 423.5h0M83.9 425.1h0M94.2 417.7h0M62.6 426.0h0M70.4 422.0h0M85.4 421.9h0M90.6 417.3h0M89.9 425.3h0M80.0 419.8h0M90.3 419.5h0M90.4 421.4h0M87.8 428.1h0M72.6 420.2h0M70.6 421.2h0M77.4 424.5h0M89.9 421.3h0M85.6 432.7h0M73.9 428.1h0M76.1 419.2h0M71.1 421.5h0M82.5 419.0h0M88.1 419.1h0M63.0 426.1h0M89.1 420.6h0M65.3 424.6h0M84.3 417.8h0M73.2 418.5h0M63.2 425.0h0M77.8 426.9h0M71.7 423.8h0M79.0 423.0h0M89.5 420.9h0M77.4 429.0h0M85.3 431.6h0M86.8 420.8h0M91.1 425.0h0M86.7 428.3h0M78.1 423.3h0M79.1 421.2h0M64.7 425.8h0M89.9 418.7h0M67.0 425.3h0M76.9 421.5h0M74.9 425.8h0M94.1 416.7h0M93.4 419.1h0M84.0 426.7h0M67.4 423.7h0M74.8 418.7h0M84.4 432.6h0M78.8 422.6h0M85.5 427.7h0M66.9 424.9h0M84.6 432.0h0M90.1 418.3h0M84.7 423.1h0M66.1 423.7h0M92.2 415.9h0M84.1 425.1h0M90.4 423.9h0M62.2 427.1h0M78.5 426.1h0M91.8 419.6h0M87.9 420.0h0M76.4 419.4h0M90.2 425.4h0M85.8 428.2h0M84.7 417.3h0M86.5 427.8h0M75.4 420.2h0M85.4 430.2h0M85.6 421.3h0M80.1 421.1h0M79.0 424.9h0M55.7 430.0h0M57.4 431.3h0M55.9 433.4h0" stroke="#fff" stroke-opacity="0.55" stroke-width="0.7" stroke-linecap="round" fill="none"/>
<rect x="98.40" y="397.45" width="48.40" height="4.80" fill="#ECECEC" stroke="#B0B0B0" stroke-width="0.5"/>
<text x="124.40" y="401.05" font-size="3.4" text-anchor="middle" font-weight="bold" fill="#222">Tumor</text>
<rect x="98.40" y="402.25" width="48.40" height="35.00" fill="#fff" stroke="#8c8c8c" stroke-width="0.7"/>
<path d="M100.9 414.1 L103.1 410.5 L106.0 407.6 L107.5 406.1 L109.7 407.6 L112.6 408.3 L116.2 409.0 L118.8 411.2 L118.4 414.1 L117.0 416.3 L118.4 418.5 L115.5 420.0 L114.1 422.2 L111.1 424.4 L108.9 424.4 L106.0 422.9 L103.1 420.0 L101.3 417.1Z" fill="#74D170" fill-opacity="0.84" stroke="#74D170" stroke-opacity="0.5" stroke-width="0.6" stroke-linejoin="round"/>
<path d="M109.7 425.1 L112.6 423.6 L115.5 420.7 L118.4 418.5 L121.4 417.1 L125.0 416.3 L128.7 417.4 L132.3 416.3 L136.0 415.6 L140.3 414.9 L143.3 415.6 L144.4 417.8 L142.5 421.4 L141.1 425.1 L140.3 428.7 L138.9 431.7 L135.2 433.1 L131.6 433.1 L127.9 431.7 L125.0 430.2 L121.4 428.7 L117.7 427.3 L114.1 427.3 L110.4 428.0 L109.3 426.5Z" fill="#EE5B62" fill-opacity="0.84" stroke="#EE5B62" stroke-opacity="0.5" stroke-width="0.6" stroke-linejoin="round"/>
<path d="M132.3 405.4 L135.2 404.1 L138.1 404.6 L140.0 406.1 L140.0 409.0 L139.6 411.9 L140.3 414.1 L138.9 414.1 L137.4 411.9 L135.2 411.2 L133.8 409.8 L132.7 407.6Z" fill="#5A3C98" fill-opacity="0.84" stroke="#5A3C98" stroke-opacity="0.5" stroke-width="0.6" stroke-linejoin="round"/>
<path d="M103.1 433.1 L104.6 430.2 L106.4 428.0 L107.9 426.2 L108.9 427.3 L108.6 430.2 L106.8 432.4 L104.9 434.9 L103.5 434.9Z" fill="#9B5CF6" fill-opacity="0.84" stroke="#9B5CF6" stroke-opacity="0.5" stroke-width="0.6" stroke-linejoin="round"/>
<path d="M114.1 429.5 L117.0 428.0 L119.9 428.4 L122.8 429.5 L125.7 431.7 L123.5 433.1 L119.9 433.5 L117.0 432.4 L114.8 430.9Z" fill="#C9C0E0" fill-opacity="0.84" stroke="#C9C0E0" stroke-opacity="0.5" stroke-width="0.6" stroke-linejoin="round"/>
<path d="M101.9 413.8h0M101.8 413.0h0M102.3 411.3h0M103.7 410.2h0M104.9 409.4h0M105.0 407.8h0M106.7 408.2h0M108.5 407.7h0M108.0 406.0h0M112.9 408.3h0M112.4 408.4h0M113.3 409.0h0M114.2 408.9h0M112.8 408.8h0M118.1 411.5h0M116.7 409.5h0M117.4 409.0h0M118.9 412.8h0M119.0 413.6h0M117.8 415.5h0M117.4 415.0h0M118.6 418.1h0M118.8 417.3h0M117.3 419.6h0M118.5 419.1h0M115.0 421.3h0M114.9 421.1h0M111.5 424.7h0M111.8 423.9h0M112.4 422.8h0M110.7 425.0h0M105.6 422.3h0M107.8 423.2h0M103.1 420.6h0M105.5 421.4h0M105.2 420.6h0M102.0 420.0h0M101.4 418.7h0M102.8 419.9h0M100.3 414.5h0M102.0 417.2h0M112.3 409.7h0M114.9 420.3h0M107.7 419.3h0M108.9 424.1h0M115.0 414.4h0M113.6 416.8h0M104.9 410.8h0M112.2 419.9h0M112.3 408.8h0M105.5 416.7h0M114.4 413.8h0M113.3 412.2h0M106.6 409.2h0M108.3 416.7h0M107.1 423.2h0M113.3 413.0h0M115.6 418.3h0M108.8 418.2h0M113.1 412.1h0M104.4 418.0h0M103.8 414.0h0M102.5 415.7h0M108.0 411.5h0M114.3 419.6h0M102.1 417.0h0M104.9 412.1h0M105.1 409.0h0M105.5 415.3h0M112.3 411.0h0M103.3 410.7h0M106.4 420.6h0M105.1 408.7h0M106.6 407.0h0M106.2 421.7h0M105.2 415.4h0M113.9 416.0h0M112.3 410.0h0M113.7 409.4h0M101.5 416.6h0M106.4 412.4h0M116.4 416.4h0M103.0 418.9h0M113.8 416.5h0M118.0 414.8h0" stroke="#74D170" stroke-width="0.8" stroke-linecap="round" fill="none"/>
<path d="M110.3 423.8h0M111.8 423.6h0M113.2 422.4h0M112.8 422.1h0M113.8 421.4h0M117.3 418.6h0M115.6 419.7h0M117.1 419.3h0M120.3 418.2h0M119.2 418.4h0M124.3 417.0h0M122.7 415.9h0M121.8 416.3h0M128.8 416.9h0M127.6 417.4h0M126.5 416.6h0M131.3 416.8h0M130.8 416.8h0M130.4 416.2h0M134.0 416.3h0M131.8 416.5h0M135.1 416.7h0M136.8 416.4h0M140.0 414.8h0M139.0 415.7h0M143.0 415.1h0M142.8 416.3h0M143.8 417.0h0M144.4 416.6h0M143.7 418.6h0M144.6 417.2h0M143.6 418.6h0M142.3 423.6h0M143.0 421.9h0M141.6 424.1h0M140.3 426.3h0M141.5 426.8h0M141.8 426.6h0M140.4 430.7h0M139.0 431.1h0M135.8 432.7h0M137.9 432.3h0M138.1 432.0h0M132.2 432.4h0M132.4 432.6h0M133.5 433.8h0M128.9 432.0h0M128.7 431.9h0M130.2 432.4h0M128.2 431.9h0M127.0 430.5h0M121.7 429.7h0M122.9 429.3h0M123.3 430.0h0M121.3 429.2h0M120.7 428.6h0M120.3 428.7h0M116.4 426.8h0M115.0 426.6h0M115.5 426.4h0M113.4 426.6h0M110.2 427.7h0M109.9 427.3h0M109.6 427.0h0M110.3 425.5h0M139.2 422.8h0M117.3 421.3h0M120.5 427.1h0M140.0 429.3h0M112.0 427.2h0M138.9 423.4h0M134.7 432.1h0M140.6 426.7h0M130.9 421.4h0M133.3 417.4h0M112.5 427.1h0M124.2 418.7h0M142.6 420.2h0M128.2 423.8h0M135.9 431.1h0M125.6 421.3h0M134.6 432.4h0M119.7 422.2h0M135.3 420.4h0M117.1 423.5h0M114.4 425.0h0M134.8 433.0h0M137.7 429.9h0M122.7 427.0h0M115.4 423.9h0M123.5 426.2h0M130.1 419.6h0M140.1 423.1h0M136.5 428.0h0M129.9 429.0h0M137.8 427.5h0M135.6 429.5h0M131.7 432.1h0M128.8 430.7h0M128.7 427.1h0M140.4 416.2h0M140.5 419.1h0M134.0 425.7h0M117.6 420.9h0M117.8 424.6h0M119.1 424.8h0M133.7 419.6h0M140.9 421.6h0M135.0 420.9h0M128.3 426.3h0M119.3 422.4h0M123.6 421.5h0M116.0 424.8h0M140.2 419.6h0M126.0 418.8h0M132.9 422.3h0M129.7 422.3h0M124.2 417.0h0M129.4 420.0h0M137.6 427.1h0M129.7 418.4h0M135.8 425.7h0M115.0 421.9h0M117.1 422.8h0M141.6 419.2h0M133.7 417.4h0M128.5 427.7h0M113.7 426.6h0M121.7 421.0h0M137.7 428.8h0M120.5 424.4h0M125.3 416.4h0M114.7 424.4h0M129.4 418.8h0M115.6 424.4h0M124.9 423.7h0M132.8 417.4h0M137.2 427.7h0M123.8 427.9h0M117.2 426.6h0M138.1 427.0h0M140.2 416.5h0M123.3 417.5h0" stroke="#EE5B62" stroke-width="0.8" stroke-linecap="round" fill="none"/>
<path d="M134.0 404.5h0M135.3 404.7h0M135.8 404.6h0M134.7 404.5h0M139.8 406.6h0M137.9 405.4h0M139.5 408.6h0M140.4 407.2h0M140.3 410.3h0M140.2 409.7h0M139.4 412.8h0M139.2 412.5h0M139.5 414.2h0M138.2 411.8h0M137.9 414.5h0M136.2 412.1h0M135.9 410.9h0M135.1 409.9h0M132.5 408.3h0M133.4 409.3h0M132.1 406.1h0M136.6 408.7h0M139.6 409.0h0M133.0 405.5h0M138.3 406.4h0M135.1 408.5h0M135.8 406.9h0M139.4 413.9h0M137.8 406.1h0M136.5 406.4h0M136.2 409.5h0" stroke="#5A3C98" stroke-width="0.8" stroke-linecap="round" fill="none"/>
<path d="M104.2 430.8h0M103.6 433.3h0M106.1 427.9h0M104.8 428.9h0M108.4 425.8h0M106.7 427.8h0M108.2 426.6h0M109.3 427.8h0M109.2 428.2h0M107.5 431.1h0M107.7 431.6h0M105.2 434.1h0M104.3 435.2h0M104.3 434.5h0M102.8 432.9h0M103.5 434.0h0M108.0 426.6h0M104.7 431.5h0M108.1 430.4h0" stroke="#9B5CF6" stroke-width="0.8" stroke-linecap="round" fill="none"/>
<path d="M115.2 428.7h0M114.8 428.5h0M117.5 428.2h0M117.8 427.2h0M121.9 430.1h0M120.2 429.0h0M124.1 430.0h0M123.8 429.6h0M122.8 429.6h0M124.6 431.8h0M124.9 432.4h0M121.3 433.3h0M119.8 433.0h0M124.2 433.8h0M119.3 433.1h0M117.9 432.2h0M116.2 432.8h0M115.7 430.8h0M115.3 430.2h0M123.3 432.9h0M125.0 432.0h0M119.9 429.6h0M121.6 431.8h0M115.6 429.8h0M119.4 429.4h0M123.3 430.3h0M117.3 429.4h0" stroke="#C9C0E0" stroke-width="0.8" stroke-linecap="round" fill="none"/>
<path d="M106.3 411.6h0M108.6 415.4h0M103.0 418.7h0M106.8 420.9h0M114.0 413.0h0M103.9 419.8h0M108.4 416.1h0M113.3 409.8h0M115.6 417.2h0M113.1 418.3h0M106.2 411.1h0M107.6 420.9h0M111.6 411.2h0M117.1 415.5h0M114.1 412.4h0M113.0 413.5h0M110.3 409.3h0M107.5 413.7h0M114.2 409.0h0M104.5 417.9h0M109.4 422.2h0M101.3 414.2h0M107.2 415.5h0M116.5 409.6h0M106.0 416.3h0M113.4 417.9h0M130.8 424.1h0M125.6 426.3h0M123.5 423.5h0M131.5 427.6h0M134.1 422.4h0M116.0 425.7h0M127.3 425.4h0M133.4 416.2h0M134.8 419.8h0M122.8 417.1h0M138.8 426.1h0M137.8 424.3h0M143.5 419.4h0M141.6 421.9h0M132.8 429.4h0M122.4 427.5h0M123.7 421.8h0M136.3 430.7h0M122.8 423.1h0M135.6 420.1h0M117.2 420.0h0M123.2 426.8h0M136.5 432.2h0M125.3 428.0h0M138.4 423.3h0M122.5 429.0h0M131.7 433.0h0M126.4 430.7h0M131.8 425.2h0M139.3 416.3h0M119.1 423.8h0M138.0 418.3h0M136.6 416.5h0M121.6 423.3h0M134.4 424.4h0M139.1 427.5h0M122.8 424.4h0M120.0 418.2h0M117.9 419.4h0M137.7 427.4h0M117.9 422.5h0M110.4 427.4h0M129.4 417.7h0M139.7 418.9h0M121.4 426.1h0M119.9 418.8h0M139.8 416.9h0M133.9 408.6h0M139.8 408.6h0M137.9 408.5h0M133.8 408.7h0M133.5 408.2h0M136.4 410.3h0M106.0 432.3h0M104.3 431.4h0M117.8 431.3h0M122.4 430.4h0M122.4 431.1h0M123.5 432.0h0" stroke="#fff" stroke-opacity="0.55" stroke-width="0.7" stroke-linecap="round" fill="none"/>
<line x1="47.80" y1="404.80" x2="48.70" y2="404.80" stroke="#777" stroke-width="0.4"/>
<text x="47.50" y="406.15" font-size="3.8" text-anchor="end" fill="#444">6</text>
<line x1="47.80" y1="412.90" x2="48.70" y2="412.90" stroke="#777" stroke-width="0.4"/>
<text x="47.50" y="414.25" font-size="3.8" text-anchor="end" fill="#444">3</text>
<line x1="47.80" y1="420.70" x2="48.70" y2="420.70" stroke="#777" stroke-width="0.4"/>
<text x="47.50" y="422.05" font-size="3.8" text-anchor="end" fill="#444">0</text>
<line x1="47.80" y1="428.70" x2="48.70" y2="428.70" stroke="#777" stroke-width="0.4"/>
<text x="47.50" y="430.05" font-size="3.8" text-anchor="end" fill="#444">−3</text>
<line x1="47.80" y1="436.60" x2="48.70" y2="436.60" stroke="#777" stroke-width="0.4"/>
<text x="47.50" y="437.95" font-size="3.8" text-anchor="end" fill="#444">−6</text>
<line x1="61.30" y1="437.25" x2="61.30" y2="438.15" stroke="#777" stroke-width="0.4"/>
<text x="61.30" y="440.45" font-size="3.8" text-anchor="middle" fill="#444">−4</text>
<line x1="71.90" y1="437.25" x2="71.90" y2="438.15" stroke="#777" stroke-width="0.4"/>
<text x="71.90" y="440.45" font-size="3.8" text-anchor="middle" fill="#444">0</text>
<line x1="84.00" y1="437.25" x2="84.00" y2="438.15" stroke="#777" stroke-width="0.4"/>
<text x="84.00" y="440.45" font-size="3.8" text-anchor="middle" fill="#444">4</text>
<line x1="95.20" y1="437.25" x2="95.20" y2="438.15" stroke="#777" stroke-width="0.4"/>
<text x="95.20" y="440.45" font-size="3.8" text-anchor="middle" fill="#444">8</text>
<line x1="110.00" y1="437.25" x2="110.00" y2="438.15" stroke="#777" stroke-width="0.4"/>
<text x="110.00" y="440.45" font-size="3.8" text-anchor="middle" fill="#444">−4</text>
<line x1="121.40" y1="437.25" x2="121.40" y2="438.15" stroke="#777" stroke-width="0.4"/>
<text x="121.40" y="440.45" font-size="3.8" text-anchor="middle" fill="#444">0</text>
<line x1="132.70" y1="437.25" x2="132.70" y2="438.15" stroke="#777" stroke-width="0.4"/>
<text x="132.70" y="440.45" font-size="3.8" text-anchor="middle" fill="#444">4</text>
<line x1="144.30" y1="437.25" x2="144.30" y2="438.15" stroke="#777" stroke-width="0.4"/>
<text x="144.30" y="440.45" font-size="3.8" text-anchor="middle" fill="#444">8</text>
<rect x="147.50" y="400.05" width="1.80" height="1.80" fill="#C9C0E0" fill-opacity="0.85"/>
<text x="150.30" y="401.75" font-size="3.5" fill="#222">CCL3+ cells</text>
<rect x="147.50" y="403.98" width="1.80" height="1.80" fill="#74D170" fill-opacity="0.85"/>
<text x="150.30" y="405.68" font-size="3.5" fill="#222">IL1B+ cells</text>
<rect x="147.50" y="407.91" width="1.80" height="1.80" fill="#5A3C98" fill-opacity="0.85"/>
<text x="150.30" y="409.61" font-size="3.5" fill="#222">MKI67+ cells</text>
<rect x="147.50" y="411.84" width="1.80" height="1.80" fill="#EE5B62" fill-opacity="0.85"/>
<text x="150.30" y="413.54" font-size="3.5" fill="#222">MARCO+ cells</text>
<rect x="147.50" y="415.77" width="1.80" height="1.80" fill="#9B5CF6" fill-opacity="0.85"/>
<text x="150.30" y="417.47" font-size="3.5" fill="#222">SPN+ cells</text>
<text x="229.60" y="395.60" font-size="7.0" text-anchor="middle">PRAD</text>
<rect x="181.50" y="397.45" width="47.80" height="4.80" fill="#ECECEC" stroke="#B0B0B0" stroke-width="0.5"/>
<text x="207.20" y="401.05" font-size="3.4" text-anchor="middle" font-weight="bold" fill="#222">Normal</text>
<rect x="181.50" y="402.25" width="47.80" height="35.00" fill="#fff" stroke="#8c8c8c" stroke-width="0.7"/>
<path d="M188.0 430.2 L191.7 428.7 L196.8 428.0 L198.2 423.6 L199.0 420.0 L201.9 417.1 L205.5 415.6 L209.2 416.3 L214.3 417.8 L219.4 414.1 L223.1 414.1 L225.3 417.8 L226.7 422.9 L226.7 428.7 L224.5 433.1 L220.9 434.6 L216.5 433.8 L212.8 432.4 L209.2 433.1 L204.8 433.1 L200.4 434.6 L195.3 435.7 L190.9 435.3 L188.4 433.1Z" fill="#EE5B62" fill-opacity="0.66" stroke="#EE5B62" stroke-opacity="0.5" stroke-width="0.6" stroke-linejoin="round"/>
<path d="M183.6 419.2 L185.8 415.6 L186.9 409.8 L189.5 408.7 L191.7 409.8 L193.9 411.9 L196.1 410.5 L200.4 410.1 L201.9 411.2 L198.2 413.4 L197.5 417.1 L198.2 421.4 L197.5 425.8 L195.3 428.0 L192.4 428.7 L188.8 429.5 L186.2 428.0 L184.4 424.4Z" fill="#E6D63E" fill-opacity="0.72" stroke="#E6D63E" stroke-opacity="0.5" stroke-width="0.6" stroke-linejoin="round"/>
<path d="M203.4 406.8 L204.8 404.6 L209.2 403.9 L213.6 404.6 L218.0 406.5 L221.6 409.0 L222.3 411.9 L220.1 414.1 L217.2 415.6 L215.0 417.8 L212.1 417.1 L209.2 415.6 L206.3 414.9 L204.1 412.7 L202.6 409.8Z" fill="#5FAA55" fill-opacity="0.74" stroke="#5FAA55" stroke-opacity="0.5" stroke-width="0.6" stroke-linejoin="round"/>
<path d="M190.0 428.8h0M189.0 429.4h0M191.1 428.2h0M194.7 428.0h0M194.2 428.4h0M195.6 429.1h0M194.7 428.3h0M197.9 426.6h0M198.4 425.3h0M198.0 424.5h0M198.1 424.7h0M197.8 423.2h0M199.5 421.8h0M197.8 423.4h0M199.1 419.3h0M201.2 417.1h0M201.6 417.4h0M205.3 416.2h0M201.9 417.4h0M204.8 416.4h0M206.3 414.8h0M206.1 415.8h0M205.8 415.0h0M210.6 416.1h0M212.5 417.0h0M213.6 418.4h0M210.8 416.8h0M217.3 416.1h0M218.4 414.6h0M219.4 413.8h0M217.8 415.6h0M216.8 415.7h0M220.6 414.8h0M222.1 414.7h0M221.7 413.7h0M225.0 417.9h0M223.5 415.6h0M224.1 415.7h0M225.9 418.3h0M225.4 419.7h0M226.0 421.4h0M225.9 422.6h0M227.0 426.6h0M226.7 424.5h0M226.5 423.1h0M226.7 426.1h0M227.1 423.2h0M226.5 428.4h0M225.1 430.6h0M227.3 428.8h0M225.9 431.0h0M224.7 433.1h0M224.1 433.5h0M223.6 433.3h0M218.1 434.6h0M220.5 434.6h0M218.6 434.5h0M215.5 433.5h0M212.6 433.2h0M214.3 433.6h0M211.1 432.8h0M210.6 432.1h0M208.6 433.3h0M209.3 433.0h0M209.2 432.7h0M205.0 433.2h0M203.3 433.5h0M202.1 433.6h0M203.9 432.9h0M201.2 433.5h0M195.7 434.9h0M196.5 435.7h0M195.6 435.0h0M199.6 434.5h0M193.5 434.7h0M194.3 435.4h0M191.7 434.5h0M188.9 433.5h0M189.7 434.2h0M190.1 435.0h0M188.6 431.1h0M188.5 432.7h0M224.6 427.0h0M209.1 429.2h0M221.5 430.5h0M188.7 430.7h0M224.7 430.2h0M218.1 420.5h0M210.4 432.8h0M212.6 431.8h0M224.1 419.4h0M195.2 435.5h0M223.5 421.1h0M223.9 416.0h0M196.8 432.7h0M192.1 432.7h0M196.7 430.7h0M210.3 426.2h0M221.4 414.9h0M215.4 432.5h0M208.2 419.2h0M218.9 423.4h0M198.1 430.8h0M217.6 431.9h0M193.2 430.9h0M206.4 425.3h0M220.9 420.2h0M225.6 420.5h0M202.2 427.0h0M190.6 433.6h0M218.1 430.2h0M214.6 432.6h0M195.8 434.1h0M206.3 432.0h0M197.8 427.1h0M216.9 421.5h0M212.3 423.0h0M211.0 417.5h0M226.3 429.4h0M196.2 432.3h0M224.3 421.2h0M218.9 427.7h0M214.0 428.1h0M224.3 424.0h0M216.0 424.3h0M199.5 423.6h0M195.6 428.9h0M217.4 432.1h0M209.2 430.4h0M218.8 429.8h0M200.3 426.5h0M219.9 419.4h0M205.3 418.2h0M192.5 433.3h0M216.6 426.8h0M206.8 428.1h0M219.4 418.2h0M208.9 419.9h0M204.8 417.9h0M202.4 433.2h0M208.4 424.7h0M212.3 418.0h0M202.4 423.6h0M210.1 427.1h0M210.1 417.5h0M200.3 430.7h0M221.0 427.7h0M202.5 423.6h0M210.2 418.1h0M203.6 416.7h0M220.6 419.0h0M207.7 426.6h0M219.1 419.3h0M212.4 429.7h0M209.7 421.8h0M207.8 428.5h0M204.9 430.0h0M217.0 430.3h0M204.8 417.3h0M208.7 418.5h0M219.9 415.5h0M201.8 430.2h0M220.3 422.6h0M224.5 433.1h0M209.8 421.2h0M195.5 429.0h0M211.9 422.5h0M218.6 422.5h0M218.2 427.4h0M211.2 419.4h0M200.6 428.3h0M213.2 429.1h0M220.3 416.5h0M204.6 417.0h0M215.2 428.0h0M201.4 431.5h0M220.5 431.2h0M210.7 423.1h0M209.6 424.9h0M210.0 421.0h0M219.6 425.3h0M218.1 424.9h0M200.6 425.9h0M214.7 418.1h0M222.3 423.0h0M204.2 425.3h0M217.4 417.8h0M202.2 433.4h0M211.7 420.2h0M212.7 425.1h0M215.2 431.5h0" stroke="#EE5B62" stroke-width="0.8" stroke-linecap="round" fill="none"/>
<path d="M185.4 417.6h0M184.9 418.2h0M184.1 416.8h0M185.5 412.4h0M186.0 410.9h0M186.1 414.0h0M186.1 413.6h0M186.8 409.4h0M188.2 409.4h0M189.7 408.9h0M191.7 410.0h0M191.5 409.8h0M192.3 411.2h0M193.5 412.6h0M196.0 410.5h0M194.1 411.9h0M197.6 409.7h0M199.0 409.6h0M197.6 410.1h0M201.4 410.4h0M200.0 411.4h0M199.6 412.2h0M200.4 413.1h0M198.3 417.6h0M199.0 414.8h0M198.5 415.3h0M197.1 418.9h0M198.6 421.3h0M197.2 418.3h0M198.0 422.8h0M198.1 423.1h0M197.9 424.2h0M195.7 428.2h0M196.2 426.1h0M195.4 428.9h0M192.9 427.8h0M189.7 428.7h0M189.2 430.3h0M189.3 430.2h0M185.7 427.8h0M187.6 428.1h0M186.2 427.9h0M186.1 426.9h0M184.0 424.5h0M184.5 421.6h0M184.6 422.9h0M183.3 422.8h0M184.6 423.5h0M201.7 411.1h0M185.1 419.1h0M192.8 426.2h0M188.1 417.7h0M188.0 416.7h0M197.7 420.2h0M185.6 416.2h0M187.9 414.9h0M189.8 426.7h0M186.1 417.6h0M191.6 428.0h0M196.9 414.3h0M186.0 420.1h0M197.6 416.2h0M186.8 425.4h0M194.4 416.7h0M193.1 427.5h0M192.4 420.4h0M197.5 410.8h0M194.0 414.0h0M196.1 421.7h0M197.3 425.7h0M201.7 411.1h0M187.8 418.7h0M187.4 419.6h0M189.4 410.3h0M199.0 410.8h0M189.8 411.1h0M191.7 416.7h0M196.5 413.6h0M193.0 418.5h0M189.9 409.9h0M189.5 409.4h0M189.9 414.5h0M189.6 426.1h0M189.3 410.1h0M197.6 423.8h0M198.5 410.7h0M196.8 423.1h0M194.0 421.5h0M192.1 417.6h0M192.3 421.3h0M193.8 416.8h0M186.8 423.3h0M197.2 417.7h0M189.1 418.8h0M190.2 428.4h0" stroke="#E6D63E" stroke-width="0.8" stroke-linecap="round" fill="none"/>
<path d="M205.0 404.6h0M204.9 406.3h0M205.5 404.8h0M206.8 404.2h0M206.7 404.2h0M210.3 404.6h0M209.8 403.6h0M212.4 404.3h0M218.2 405.9h0M216.8 405.3h0M213.2 404.5h0M216.2 406.1h0M220.3 408.1h0M220.7 408.8h0M218.3 406.6h0M219.1 407.7h0M221.3 409.3h0M222.7 411.2h0M220.1 414.1h0M221.4 412.7h0M218.6 415.4h0M217.3 416.1h0M216.1 416.2h0M217.1 415.7h0M212.8 416.8h0M215.0 416.8h0M210.5 416.4h0M209.8 415.7h0M207.6 415.6h0M207.6 415.8h0M206.3 413.7h0M206.3 413.8h0M203.7 410.7h0M203.8 411.1h0M203.5 407.9h0M202.5 409.0h0M209.2 408.4h0M212.3 412.4h0M217.9 411.6h0M210.2 415.7h0M211.2 409.7h0M212.4 405.1h0M205.0 406.9h0M215.7 411.5h0M210.6 409.6h0M207.1 409.6h0M207.3 404.3h0M207.3 406.7h0M209.6 412.1h0M218.8 411.7h0M217.6 412.7h0M205.2 413.4h0M209.8 409.9h0M208.1 405.9h0M210.0 408.3h0M206.4 413.6h0M213.4 414.5h0M218.2 413.6h0M205.0 407.6h0M215.3 408.8h0M213.8 410.9h0M207.8 411.4h0M211.2 412.1h0M216.1 414.6h0M209.1 414.3h0M209.7 414.7h0M212.6 411.9h0M212.5 408.7h0M206.5 406.2h0M216.5 408.5h0M212.3 408.9h0M212.3 404.5h0M208.9 413.6h0" stroke="#5FAA55" stroke-width="0.8" stroke-linecap="round" fill="none"/>
<path d="M207.0 424.5h0M210.0 419.5h0M204.0 423.9h0M208.4 424.2h0M202.6 425.1h0M208.1 422.1h0M203.4 423.5h0M204.3 423.9h0M206.1 419.5h0M203.2 421.1h0M201.2 418.4h0M206.7 417.7h0M209.8 421.4h0M203.2 417.5h0M202.7 419.9h0M201.2 419.0h0M206.7 420.1h0M201.6 422.7h0M210.4 420.4h0M207.6 425.0h0M209.2 421.7h0M209.3 419.5h0M208.7 420.4h0M202.1 424.7h0M208.4 422.6h0M204.9 418.5h0M208.9 422.9h0M207.0 424.6h0M209.1 417.1h0M202.6 421.4h0M209.9 417.7h0M205.1 416.3h0M204.5 424.3h0M208.6 423.6h0M207.0 424.7h0M205.1 423.1h0M204.7 422.0h0M202.8 417.8h0M209.2 421.7h0M203.2 418.8h0M203.4 421.3h0M201.4 420.5h0M203.5 419.8h0M209.4 418.9h0M203.9 419.4h0" stroke="#E8805E" stroke-width="0.8" stroke-linecap="round" fill="none"/>
<path d="M207.9 422.3h0M205.2 431.8h0M204.9 425.8h0M217.4 432.9h0M210.6 425.5h0M195.4 430.8h0M220.8 422.2h0M202.2 425.6h0M221.0 433.4h0M224.6 421.9h0M198.1 427.1h0M203.5 418.6h0M219.9 431.5h0M205.6 422.8h0M193.4 431.3h0M217.3 418.8h0M201.9 419.1h0M216.8 427.6h0M200.6 429.3h0M217.8 421.6h0M192.9 428.7h0M214.5 427.2h0M223.1 422.1h0M207.8 423.9h0M221.1 421.2h0M219.9 430.1h0M195.3 431.7h0M226.2 421.4h0M218.6 429.1h0M211.9 419.1h0M200.9 431.9h0M221.1 432.6h0M216.4 429.8h0M223.6 433.1h0M200.5 434.0h0M221.6 425.9h0M224.9 421.3h0M222.2 431.5h0M204.6 428.2h0M206.8 424.4h0M206.9 429.6h0M195.2 431.3h0M200.6 422.7h0M222.7 430.1h0M216.2 431.2h0M204.4 421.6h0M208.2 432.4h0M194.8 429.2h0M204.0 424.1h0M212.2 426.4h0M216.5 430.3h0M225.6 425.5h0M211.8 425.5h0M206.5 421.5h0M200.0 421.3h0M207.7 423.7h0M209.2 428.5h0M226.2 426.7h0M211.6 426.7h0M205.5 424.0h0M190.9 431.5h0M206.6 421.6h0M199.9 434.5h0M201.0 426.6h0M204.1 428.4h0M209.6 425.6h0M208.1 420.2h0M216.7 421.1h0M200.8 428.0h0M215.3 432.1h0M225.0 426.1h0M201.7 427.2h0M197.5 428.7h0M224.7 422.1h0M207.5 427.8h0M217.6 421.8h0M198.4 428.2h0M200.0 424.8h0M212.4 426.1h0M225.7 421.6h0M222.8 432.6h0M197.2 430.9h0M214.8 417.7h0M218.6 432.8h0M219.6 421.6h0M219.7 419.7h0M224.1 417.2h0M203.3 420.7h0M219.8 430.6h0M208.6 425.7h0M199.3 426.8h0M189.9 429.7h0M225.0 424.0h0M206.0 426.7h0M214.8 430.2h0M219.9 414.6h0M222.1 431.7h0M218.2 428.6h0M214.1 429.2h0M224.6 422.4h0M202.1 432.7h0M204.0 431.3h0M217.1 429.6h0M223.4 415.3h0M219.7 426.3h0M212.1 418.9h0M218.5 430.5h0M197.7 434.2h0M204.1 432.7h0M208.0 424.5h0M192.1 433.9h0M212.6 425.3h0M198.6 423.1h0M223.3 423.3h0M203.5 432.5h0M190.7 429.4h0M191.3 433.1h0M222.6 431.2h0M207.3 416.5h0M215.6 427.6h0M214.3 430.6h0M209.6 420.0h0M205.3 415.9h0M203.0 420.2h0M218.9 419.3h0M212.8 428.7h0M208.7 416.5h0M197.3 434.1h0M194.8 434.8h0M189.2 432.2h0M222.7 420.0h0M201.4 421.5h0M212.5 420.7h0M206.1 428.2h0M213.3 428.2h0M220.8 426.9h0M193.8 433.5h0M213.5 421.5h0M215.5 420.0h0M207.5 427.6h0M218.1 419.4h0M217.2 425.8h0M212.4 431.2h0M202.9 423.5h0M212.2 426.2h0M214.6 421.7h0M196.7 429.3h0M201.2 421.5h0M198.0 432.1h0M205.7 426.0h0M201.1 419.9h0M226.1 422.5h0M217.1 433.5h0M205.0 422.2h0M212.1 420.7h0M197.6 433.8h0M212.9 424.9h0M205.8 431.3h0M216.6 420.2h0M200.1 423.0h0M200.9 421.2h0M196.9 433.2h0M205.6 425.9h0M211.2 417.8h0M223.2 430.8h0M218.4 426.6h0M210.4 417.4h0M223.5 421.2h0M222.0 433.2h0M199.7 429.6h0M216.6 423.4h0M222.1 415.1h0M220.0 430.0h0M196.9 428.3h0M207.8 426.4h0M204.1 426.3h0M209.7 421.0h0M202.2 417.7h0M212.4 431.8h0M203.1 418.0h0M216.8 417.0h0M198.9 425.1h0M206.4 418.9h0M188.1 410.6h0M197.0 425.4h0M196.1 413.0h0M188.5 428.3h0M193.7 423.4h0M190.3 416.9h0M200.8 411.8h0M191.2 427.8h0M196.7 410.9h0M191.5 412.7h0M191.1 422.6h0M196.0 427.0h0M189.7 417.4h0M188.3 426.2h0M195.5 414.8h0M188.7 424.5h0M193.0 411.3h0M193.6 413.5h0M195.5 421.7h0M187.2 413.1h0M194.9 420.0h0M191.4 419.0h0M187.4 417.3h0M194.5 424.3h0M196.5 410.8h0M187.5 418.7h0M197.7 414.4h0M197.1 413.4h0M189.2 426.4h0M187.2 426.2h0M192.2 419.9h0M185.9 416.4h0M192.5 418.5h0M197.3 411.9h0M194.3 424.2h0M197.2 411.9h0M199.2 412.1h0M187.7 427.7h0M191.5 413.5h0M195.3 426.3h0M197.1 423.5h0M184.8 418.3h0M189.0 419.8h0M195.8 421.1h0M188.9 417.4h0M188.9 412.7h0M187.7 418.9h0M187.2 421.8h0M190.2 412.1h0M188.7 422.1h0M194.2 417.8h0M196.9 420.9h0M197.0 410.9h0M190.6 428.0h0M195.2 419.3h0M184.4 418.7h0M190.6 417.7h0M189.9 426.3h0M190.4 410.7h0M188.2 426.1h0M193.1 416.0h0M191.3 411.6h0M189.5 411.0h0M214.8 410.4h0M214.9 413.6h0M214.0 414.8h0M208.5 407.1h0M211.7 414.8h0M211.8 416.3h0M205.9 411.9h0M208.2 411.4h0M217.7 408.5h0M206.0 410.1h0M208.6 406.9h0M211.9 414.8h0M213.7 412.1h0M207.0 411.3h0M217.4 408.5h0M214.7 408.6h0M217.7 411.9h0M211.0 405.2h0M211.9 410.4h0M206.6 411.2h0M218.8 408.1h0M207.2 410.5h0M222.0 411.9h0M217.4 413.3h0M204.3 410.3h0M212.1 406.2h0M205.2 408.2h0M203.0 410.4h0M205.6 404.8h0M208.4 413.6h0M214.6 407.9h0M217.0 413.7h0M219.7 413.5h0M215.6 405.7h0M219.7 410.8h0M204.3 410.3h0M219.5 412.4h0M203.2 409.1h0M214.1 407.6h0M206.9 413.5h0M216.5 415.4h0M210.2 405.5h0M212.6 415.9h0M207.9 410.4h0M206.9 426.0h0M205.2 423.5h0M200.2 420.5h0M204.3 423.5h0M203.4 424.3h0M208.8 420.0h0M205.1 418.7h0M202.7 422.9h0M208.7 419.5h0M208.3 423.6h0M208.6 418.4h0M205.0 419.1h0M208.0 423.7h0M201.7 426.5h0M209.4 421.2h0M201.5 424.6h0M202.9 425.3h0M202.2 425.3h0M203.1 422.9h0M202.7 423.2h0M199.7 421.0h0M203.1 423.0h0M208.3 422.1h0M210.1 419.1h0M207.5 421.3h0M201.5 420.7h0M203.3 422.1h0M204.7 424.7h0M208.2 421.3h0M208.0 423.0h0M199.4 425.0h0M209.3 423.4h0M204.9 425.7h0M210.4 422.9h0M199.6 422.3h0M201.3 421.9h0M206.0 419.7h0M199.7 422.1h0M206.9 422.4h0M208.5 426.5h0M210.3 420.7h0M204.2 422.9h0M201.5 426.0h0M207.9 426.2h0M203.5 422.2h0M205.1 418.7h0M202.0 423.5h0M209.8 418.3h0M202.9 422.3h0M203.8 420.1h0M201.0 420.5h0M199.6 420.3h0M199.7 425.5h0M206.5 422.1h0M202.7 423.7h0M203.0 425.1h0M208.9 419.8h0M205.0 421.0h0M210.5 419.9h0M199.4 419.7h0" stroke="#fff" stroke-opacity="0.55" stroke-width="0.7" stroke-linecap="round" fill="none"/>
<rect x="230.60" y="397.45" width="48.00" height="4.80" fill="#ECECEC" stroke="#B0B0B0" stroke-width="0.5"/>
<text x="256.40" y="401.05" font-size="3.4" text-anchor="middle" font-weight="bold" fill="#222">Tumor</text>
<rect x="230.60" y="402.25" width="48.00" height="35.00" fill="#fff" stroke="#8c8c8c" stroke-width="0.7"/>
<path d="M237.0 430.2 L239.9 428.7 L245.8 427.3 L247.2 422.9 L248.0 419.2 L250.9 416.3 L255.3 415.2 L258.9 415.6 L264.0 417.1 L268.4 414.1 L272.1 413.4 L274.3 415.6 L275.7 420.0 L276.8 424.4 L275.7 428.7 L274.3 432.4 L270.6 433.8 L266.2 433.1 L261.8 431.7 L258.2 432.4 L253.8 433.1 L249.4 434.6 L244.3 435.3 L239.9 434.6 L237.4 433.1Z" fill="#EE5B62" fill-opacity="0.66" stroke="#EE5B62" stroke-opacity="0.5" stroke-width="0.6" stroke-linejoin="round"/>
<path d="M233.4 418.5 L235.6 415.6 L236.3 410.5 L238.5 409.0 L241.4 409.8 L242.9 412.7 L244.3 415.6 L246.5 417.8 L247.2 421.4 L246.5 425.1 L245.1 428.0 L242.1 428.7 L239.2 428.7 L236.3 427.3 L234.1 424.4 L233.0 421.4Z" fill="#E6D63E" fill-opacity="0.72" stroke="#E6D63E" stroke-opacity="0.5" stroke-width="0.6" stroke-linejoin="round"/>
<path d="M244.0 410.5 L246.5 410.1 L249.4 410.5 L248.7 411.9 L245.8 412.3 L244.3 411.9Z" fill="#E6D63E" fill-opacity="0.72" stroke="#E6D63E" stroke-opacity="0.5" stroke-width="0.6" stroke-linejoin="round"/>
<path d="M253.1 407.6 L254.5 405.0 L258.2 404.3 L262.6 404.6 L267.0 406.1 L270.6 408.3 L272.1 411.9 L269.9 414.1 L267.0 415.6 L264.0 417.1 L261.8 416.7 L258.9 414.9 L256.0 414.1 L253.1 414.1 L251.6 411.9Z" fill="#5FAA55" fill-opacity="0.74" stroke="#5FAA55" stroke-opacity="0.5" stroke-width="0.6" stroke-linejoin="round"/>
<path d="M240.0 429.2h0M238.8 429.4h0M243.3 428.5h0M245.7 427.9h0M240.4 429.2h0M240.3 428.2h0M242.8 428.7h0M246.5 427.6h0M246.9 425.7h0M246.2 425.6h0M245.5 425.3h0M247.9 420.3h0M247.2 421.2h0M248.4 420.7h0M248.1 418.7h0M248.4 418.3h0M250.6 416.4h0M252.6 415.0h0M252.0 416.5h0M253.4 415.2h0M251.7 416.5h0M256.0 415.3h0M258.0 415.1h0M258.7 415.0h0M261.7 415.7h0M259.1 416.0h0M261.0 415.7h0M263.2 416.7h0M267.9 414.2h0M263.9 417.5h0M267.3 414.7h0M265.9 415.3h0M270.8 412.8h0M270.4 413.6h0M270.7 414.7h0M273.6 415.2h0M273.4 414.2h0M274.3 418.6h0M275.2 419.5h0M274.9 415.2h0M275.2 416.7h0M275.7 422.7h0M276.5 421.7h0M277.0 421.5h0M275.5 420.3h0M277.1 426.7h0M276.1 426.4h0M275.6 427.5h0M277.1 425.5h0M275.0 431.7h0M274.1 431.0h0M276.0 429.8h0M272.1 434.0h0M272.0 434.2h0M273.8 432.5h0M267.4 433.4h0M269.6 433.1h0M270.8 434.5h0M264.6 432.7h0M262.4 433.0h0M265.4 433.5h0M265.0 432.7h0M260.1 432.6h0M260.8 432.1h0M257.9 431.9h0M257.2 432.5h0M255.6 432.1h0M258.0 432.6h0M252.1 433.6h0M250.9 434.7h0M251.7 434.7h0M252.6 432.8h0M248.0 434.5h0M245.4 435.6h0M247.7 435.6h0M249.1 435.5h0M240.8 434.5h0M243.5 434.5h0M244.5 435.3h0M239.4 433.7h0M237.1 432.7h0M238.1 433.2h0M238.1 431.7h0M264.8 423.5h0M266.7 422.6h0M247.3 433.7h0M268.7 421.2h0M239.5 431.3h0M274.2 418.7h0M262.9 418.7h0M240.0 431.8h0M275.2 422.6h0M249.5 430.0h0M268.0 428.0h0M250.2 419.3h0M257.8 421.1h0M253.0 420.3h0M263.5 419.6h0M272.6 432.5h0M255.3 419.9h0M269.5 418.0h0M274.5 419.5h0M252.7 430.2h0M248.6 429.2h0M238.1 431.4h0M248.4 431.2h0M267.1 415.8h0M249.0 430.8h0M264.2 422.6h0M250.9 424.2h0M264.5 425.6h0M258.0 426.8h0M258.7 422.8h0M271.5 418.5h0M250.9 418.9h0M263.0 431.0h0M264.1 429.6h0M267.6 417.0h0M265.7 423.3h0M272.3 417.7h0M270.4 433.5h0M261.2 417.1h0M250.8 421.5h0M272.1 417.2h0M253.5 421.5h0M258.2 429.4h0M262.8 430.6h0M265.9 417.0h0M262.7 422.0h0M264.1 423.3h0M249.5 420.3h0M254.1 415.8h0M265.4 417.1h0M269.4 431.3h0M244.4 431.0h0M248.0 428.3h0M256.9 419.7h0M273.1 420.0h0M244.1 431.5h0M266.0 430.7h0M272.0 423.3h0M254.1 430.8h0M256.7 418.7h0M261.5 423.0h0M267.4 432.5h0M268.6 414.9h0M259.0 423.2h0M271.5 419.3h0M264.3 427.9h0M245.6 431.4h0M252.5 420.0h0M265.3 430.3h0M275.5 420.3h0M271.2 423.5h0M275.0 425.3h0M259.5 426.0h0M257.1 430.6h0M259.3 421.0h0M276.0 423.6h0M253.0 431.4h0M246.2 430.9h0M274.4 426.6h0M269.1 419.2h0M274.0 422.8h0M241.0 429.4h0M266.4 428.1h0M251.0 427.1h0M255.0 420.4h0M256.3 425.3h0M251.2 419.4h0M251.6 428.4h0M246.3 434.3h0M265.9 427.7h0M249.2 419.6h0M265.5 421.6h0M269.1 433.3h0M243.1 428.2h0M246.3 425.8h0M272.7 427.3h0M271.9 420.8h0M248.4 425.3h0M251.3 424.9h0M264.5 416.9h0M247.9 432.2h0M257.8 423.6h0M250.1 424.7h0M267.9 421.3h0M264.9 423.9h0M274.0 418.2h0M265.4 421.9h0M248.3 429.1h0M249.8 418.3h0M254.9 422.7h0M252.9 421.4h0" stroke="#EE5B62" stroke-width="0.8" stroke-linecap="round" fill="none"/>
<path d="M234.9 415.7h0M235.8 416.3h0M234.7 416.8h0M235.1 413.6h0M235.9 411.9h0M236.4 411.3h0M236.1 414.0h0M235.6 409.9h0M237.4 409.4h0M239.7 409.1h0M239.3 409.9h0M242.7 412.7h0M243.1 412.7h0M243.3 415.1h0M243.2 412.7h0M245.0 416.8h0M247.3 418.0h0M246.9 420.1h0M247.1 419.0h0M246.1 418.5h0M246.5 424.9h0M247.0 425.0h0M247.4 423.1h0M247.0 425.6h0M247.2 425.3h0M243.0 427.7h0M243.1 428.7h0M240.3 429.3h0M238.5 428.3h0M237.3 428.1h0M238.7 428.5h0M236.4 426.6h0M235.7 425.1h0M234.7 424.3h0M234.3 424.0h0M233.0 421.7h0M232.5 420.3h0M233.1 420.3h0M243.3 425.9h0M242.7 414.6h0M238.7 428.3h0M234.7 421.2h0M238.6 414.1h0M238.7 425.3h0M240.0 425.4h0M237.4 413.6h0M239.6 417.1h0M237.7 412.5h0M244.9 422.1h0M241.0 410.5h0M237.5 427.8h0M238.1 421.8h0M236.6 421.7h0M240.6 420.6h0M237.0 419.2h0M237.4 416.4h0M240.1 420.1h0M238.1 415.8h0M241.2 421.4h0M243.6 421.4h0M242.1 423.1h0M245.9 423.4h0M241.5 421.1h0M236.8 420.4h0M238.2 415.6h0M240.3 410.4h0M240.3 422.6h0M241.5 426.9h0M243.5 418.5h0M238.6 416.8h0M239.5 425.3h0M244.4 416.0h0M244.0 425.9h0M237.7 420.2h0M244.0 427.6h0M241.2 426.6h0M235.9 418.0h0M247.2 409.5h0M246.6 410.5h0M248.9 411.2h0M249.1 410.3h0M249.7 411.0h0M248.9 411.2h0M246.7 413.2h0M245.5 411.5h0M243.4 410.2h0M245.1 410.5h0" stroke="#E6D63E" stroke-width="0.8" stroke-linecap="round" fill="none"/>
<path d="M252.6 406.3h0M253.6 406.1h0M256.6 404.3h0M254.7 405.6h0M257.6 404.1h0M259.4 403.6h0M260.0 403.9h0M258.1 404.4h0M265.3 405.6h0M266.3 405.7h0M263.5 404.8h0M264.6 405.0h0M270.2 408.6h0M269.1 407.5h0M270.0 408.8h0M271.8 410.7h0M271.2 409.3h0M270.6 409.7h0M270.7 413.0h0M271.2 412.3h0M268.3 415.0h0M268.6 415.7h0M265.8 415.5h0M265.8 416.2h0M261.3 416.2h0M261.0 417.2h0M261.4 416.6h0M261.0 416.7h0M257.5 414.7h0M257.3 413.8h0M254.6 414.5h0M254.1 413.3h0M251.7 412.8h0M252.1 413.2h0M253.3 409.0h0M252.3 411.5h0M251.7 409.5h0M253.3 408.8h0M259.8 415.1h0M266.4 410.5h0M260.9 409.3h0M259.1 408.8h0M261.3 411.8h0M254.8 406.4h0M264.5 411.6h0M261.6 410.9h0M257.7 411.1h0M257.7 412.0h0M257.9 409.7h0M260.9 412.2h0M258.2 407.4h0M261.0 415.9h0M270.7 410.7h0M264.3 406.0h0M266.4 407.7h0M263.0 407.2h0M262.1 409.3h0M269.6 411.0h0M267.3 407.6h0M261.9 411.0h0M258.0 409.6h0M258.4 413.0h0M263.5 413.4h0M253.5 407.1h0M255.2 411.4h0M261.0 415.4h0M269.1 411.7h0M260.8 410.0h0M261.5 414.0h0M266.9 406.5h0M265.8 414.3h0M262.4 405.2h0M252.4 412.5h0M267.2 408.7h0" stroke="#5FAA55" stroke-width="0.8" stroke-linecap="round" fill="none"/>
<path d="M252.9 416.6h0M253.4 416.5h0M251.2 425.1h0M256.9 419.5h0M256.2 423.1h0M251.7 421.7h0M256.6 420.4h0M252.2 424.2h0M255.7 423.0h0M258.6 417.6h0M253.6 416.4h0M256.8 423.8h0M255.3 418.3h0M258.3 419.8h0M251.6 423.3h0M252.3 424.9h0M251.8 425.4h0M258.9 421.5h0M258.1 417.1h0M256.7 416.6h0M252.2 418.8h0M250.4 422.6h0M259.0 418.5h0M250.1 418.7h0M257.7 419.2h0M252.5 425.1h0M255.4 419.9h0M258.2 417.2h0M250.9 422.4h0M254.1 423.1h0M257.6 423.1h0M250.6 423.5h0M252.0 419.8h0M254.2 416.9h0M255.6 419.8h0M257.8 424.4h0M255.3 422.9h0M252.2 417.5h0M251.5 416.7h0M255.1 425.2h0M252.4 424.7h0M258.2 421.9h0M258.2 418.4h0M255.4 422.7h0M251.6 421.3h0" stroke="#E8805E" stroke-width="0.8" stroke-linecap="round" fill="none"/>
<path d="M258.8 427.6h0M270.9 419.1h0M269.0 429.8h0M245.1 432.5h0M262.0 422.8h0M248.4 419.4h0M257.0 422.3h0M268.6 417.6h0M271.5 426.3h0M250.9 430.3h0M276.1 423.1h0M267.8 431.7h0M248.9 423.3h0M273.6 430.5h0M249.2 430.4h0M259.8 420.1h0M261.5 427.9h0M256.9 421.6h0M257.6 422.7h0M244.8 433.3h0M250.9 419.9h0M269.1 425.5h0M260.6 429.0h0M257.8 431.4h0M259.2 429.6h0M273.0 424.1h0M264.6 425.0h0M246.8 426.7h0M265.3 419.0h0M269.9 423.3h0M256.8 421.4h0M248.5 421.1h0M240.7 432.5h0M252.9 427.6h0M245.7 430.2h0M258.5 427.9h0M266.1 425.9h0M264.1 417.6h0M270.5 418.3h0M268.0 431.5h0M266.3 415.8h0M242.2 431.1h0M260.2 428.7h0M269.8 429.0h0M260.8 421.3h0M273.9 419.3h0M255.0 415.8h0M259.9 428.4h0M257.6 421.6h0M238.7 430.0h0M263.3 430.1h0M248.2 434.0h0M260.3 425.4h0M252.3 431.9h0M262.2 425.5h0M261.4 430.6h0M275.3 419.6h0M254.3 429.5h0M269.4 420.9h0M249.3 425.0h0M256.1 422.2h0M274.1 421.1h0M273.4 427.1h0M251.9 417.7h0M241.2 430.2h0M256.6 416.7h0M257.5 428.3h0M270.3 422.9h0M260.5 425.0h0M264.7 418.5h0M270.6 426.0h0M248.0 421.3h0M270.1 430.2h0M249.6 420.9h0M274.0 419.2h0M249.1 430.6h0M264.7 421.0h0M255.2 432.2h0M261.6 418.6h0M255.0 418.2h0M262.3 427.7h0M239.0 430.7h0M274.3 420.0h0M268.3 420.2h0M265.1 422.4h0M250.8 417.5h0M260.7 431.7h0M262.9 422.4h0M256.4 418.7h0M273.7 426.8h0M265.1 420.5h0M266.4 418.7h0M274.5 430.2h0M242.6 430.5h0M245.5 429.0h0M239.0 430.9h0M250.9 428.5h0M252.4 416.6h0M250.6 431.0h0M269.4 426.2h0M254.7 431.1h0M256.2 420.5h0M274.9 429.7h0M244.0 432.9h0M273.6 428.7h0M274.0 421.5h0M241.2 433.2h0M261.0 421.5h0M265.3 419.2h0M238.2 432.9h0M258.4 420.5h0M268.3 415.7h0M249.1 424.2h0M271.1 426.2h0M255.4 427.1h0M274.1 421.6h0M263.2 423.3h0M262.3 425.6h0M262.8 427.8h0M273.9 418.5h0M256.7 425.9h0M249.9 426.3h0M255.4 422.3h0M272.0 432.4h0M267.1 419.1h0M261.5 416.7h0M258.5 424.9h0M273.9 426.3h0M265.9 431.3h0M250.0 433.0h0M261.1 419.9h0M268.8 415.7h0M265.8 422.2h0M272.1 427.1h0M265.6 425.1h0M240.2 434.1h0M270.7 429.5h0M273.0 427.4h0M259.0 425.2h0M249.0 418.8h0M245.2 434.9h0M252.6 425.6h0M268.9 418.2h0M261.3 431.5h0M274.1 422.4h0M262.5 430.2h0M273.9 424.0h0M259.1 416.5h0M258.4 423.0h0M248.4 425.3h0M267.8 427.9h0M252.7 427.4h0M251.3 419.0h0M257.2 424.4h0M270.5 417.3h0M261.6 425.2h0M245.5 432.2h0M242.5 430.5h0M240.0 432.9h0M247.9 428.7h0M263.5 428.2h0M267.7 419.3h0M254.6 426.4h0M265.4 422.4h0M251.1 427.1h0M253.0 428.4h0M264.7 420.4h0M274.8 424.4h0M259.2 422.9h0M257.2 426.1h0M257.3 421.9h0M271.5 425.0h0M269.7 418.5h0M260.7 421.1h0M249.2 421.4h0M261.7 421.3h0M250.4 421.3h0M267.3 430.1h0M252.2 429.4h0M257.4 428.9h0M252.4 429.4h0M242.4 430.4h0M275.8 424.2h0M271.0 433.5h0M260.4 423.0h0M264.1 424.3h0M265.5 425.1h0M241.8 421.1h0M234.5 420.4h0M246.1 419.7h0M246.0 417.3h0M241.2 412.3h0M240.0 418.6h0M242.5 414.5h0M235.7 418.2h0M235.6 420.1h0M238.6 425.8h0M235.6 419.5h0M237.0 411.7h0M234.9 420.1h0M240.4 421.2h0M236.7 412.4h0M242.1 415.1h0M240.0 411.5h0M234.8 423.1h0M237.2 413.9h0M236.6 420.8h0M244.6 427.9h0M242.2 411.6h0M237.1 411.6h0M246.3 421.0h0M243.2 424.2h0M243.7 428.1h0M235.6 416.2h0M239.7 421.1h0M240.1 414.0h0M237.5 422.3h0M234.3 417.4h0M240.4 413.1h0M234.6 421.1h0M245.8 417.1h0M242.7 426.2h0M235.5 423.4h0M237.0 416.8h0M237.1 416.9h0M245.1 417.1h0M241.2 420.6h0M244.2 417.9h0M244.6 419.2h0M234.3 424.2h0M238.9 414.5h0M245.1 420.8h0M236.0 420.4h0M240.5 420.8h0M238.4 420.1h0M237.5 417.6h0M239.7 414.1h0M238.8 414.6h0M247.8 411.7h0M246.3 410.6h0M267.2 409.1h0M261.0 413.1h0M265.7 412.6h0M254.5 413.1h0M267.6 413.9h0M264.5 411.9h0M265.1 413.9h0M261.3 408.0h0M258.8 406.3h0M268.0 410.9h0M262.9 405.6h0M253.0 410.6h0M254.1 412.4h0M269.2 413.0h0M256.0 409.1h0M265.4 415.7h0M259.8 414.6h0M264.3 414.8h0M253.2 413.4h0M269.1 408.7h0M269.0 408.8h0M268.7 408.5h0M263.0 412.2h0M258.8 409.8h0M264.7 416.6h0M269.9 413.3h0M262.3 411.7h0M264.4 405.6h0M261.4 415.9h0M253.1 411.1h0M255.3 405.2h0M252.9 409.7h0M260.6 408.2h0M259.1 407.1h0M267.9 410.2h0M265.8 411.3h0M267.1 414.8h0M252.7 412.1h0M262.6 414.7h0M265.3 409.2h0M256.3 407.5h0M268.4 413.9h0M271.6 411.9h0M257.2 422.0h0M249.4 426.5h0M258.1 422.1h0M251.6 426.4h0M256.8 419.1h0M255.6 418.5h0M253.7 426.1h0M248.3 422.2h0M259.3 418.6h0M253.2 424.8h0M257.8 422.5h0M254.7 422.5h0M255.8 426.4h0M255.7 419.8h0M250.7 422.1h0M255.8 424.7h0M251.2 419.5h0M249.0 424.5h0M253.1 424.9h0M259.4 420.1h0M252.1 418.7h0M249.5 419.5h0M257.2 424.0h0M256.1 424.6h0M250.3 426.3h0M254.2 420.1h0M257.4 420.0h0M248.2 424.4h0M249.5 426.5h0M257.8 420.7h0M259.3 423.0h0M254.3 420.3h0M258.5 423.2h0M251.4 420.5h0M251.5 420.7h0M258.9 422.8h0M255.3 424.3h0M248.7 423.1h0M257.1 418.5h0M258.9 422.1h0M248.2 426.3h0M252.7 425.0h0M259.4 418.1h0M251.2 422.1h0M251.5 424.0h0M252.2 422.0h0M252.8 424.6h0M254.3 421.2h0M258.2 421.6h0M259.6 418.9h0" stroke="#fff" stroke-opacity="0.55" stroke-width="0.7" stroke-linecap="round" fill="none"/>
<line x1="180.60" y1="403.20" x2="181.50" y2="403.20" stroke="#777" stroke-width="0.4"/>
<text x="180.30" y="404.55" font-size="3.8" text-anchor="end" fill="#444">10</text>
<line x1="180.60" y1="412.40" x2="181.50" y2="412.40" stroke="#777" stroke-width="0.4"/>
<text x="180.30" y="413.75" font-size="3.8" text-anchor="end" fill="#444">5</text>
<line x1="180.60" y1="421.40" x2="181.50" y2="421.40" stroke="#777" stroke-width="0.4"/>
<text x="180.30" y="422.75" font-size="3.8" text-anchor="end" fill="#444">0</text>
<line x1="180.60" y1="430.30" x2="181.50" y2="430.30" stroke="#777" stroke-width="0.4"/>
<text x="180.30" y="431.65" font-size="3.8" text-anchor="end" fill="#444">−5</text>
<line x1="186.10" y1="437.25" x2="186.10" y2="438.15" stroke="#777" stroke-width="0.4"/>
<text x="186.10" y="440.45" font-size="3.8" text-anchor="middle" fill="#444">−6</text>
<line x1="196.40" y1="437.25" x2="196.40" y2="438.15" stroke="#777" stroke-width="0.4"/>
<text x="196.40" y="440.45" font-size="3.8" text-anchor="middle" fill="#444">−3</text>
<line x1="206.80" y1="437.25" x2="206.80" y2="438.15" stroke="#777" stroke-width="0.4"/>
<text x="206.80" y="440.45" font-size="3.8" text-anchor="middle" fill="#444">0</text>
<line x1="217.30" y1="437.25" x2="217.30" y2="438.15" stroke="#777" stroke-width="0.4"/>
<text x="217.30" y="440.45" font-size="3.8" text-anchor="middle" fill="#444">3</text>
<line x1="228.00" y1="437.25" x2="228.00" y2="438.15" stroke="#777" stroke-width="0.4"/>
<text x="228.00" y="440.45" font-size="3.8" text-anchor="middle" fill="#444">6</text>
<line x1="235.30" y1="437.25" x2="235.30" y2="438.15" stroke="#777" stroke-width="0.4"/>
<text x="235.30" y="440.45" font-size="3.8" text-anchor="middle" fill="#444">−6</text>
<line x1="245.60" y1="437.25" x2="245.60" y2="438.15" stroke="#777" stroke-width="0.4"/>
<text x="245.60" y="440.45" font-size="3.8" text-anchor="middle" fill="#444">−3</text>
<line x1="256.00" y1="437.25" x2="256.00" y2="438.15" stroke="#777" stroke-width="0.4"/>
<text x="256.00" y="440.45" font-size="3.8" text-anchor="middle" fill="#444">0</text>
<line x1="266.50" y1="437.25" x2="266.50" y2="438.15" stroke="#777" stroke-width="0.4"/>
<text x="266.50" y="440.45" font-size="3.8" text-anchor="middle" fill="#444">3</text>
<line x1="277.20" y1="437.25" x2="277.20" y2="438.15" stroke="#777" stroke-width="0.4"/>
<text x="277.20" y="440.45" font-size="3.8" text-anchor="middle" fill="#444">6</text>
<rect x="280.00" y="400.05" width="1.80" height="1.80" fill="#5FAA55" fill-opacity="0.85"/>
<text x="282.80" y="401.75" font-size="3.5" fill="#222">APOE+ cells</text>
<rect x="280.00" y="403.98" width="1.80" height="1.80" fill="#E6D63E" fill-opacity="0.85"/>
<text x="282.80" y="405.68" font-size="3.5" fill="#222">AXL+ cells</text>
<rect x="280.00" y="407.91" width="1.80" height="1.80" fill="#E8805E" fill-opacity="0.85"/>
<text x="282.80" y="409.61" font-size="3.5" fill="#222">ITGA4+ cells</text>
<rect x="280.00" y="411.84" width="1.80" height="1.80" fill="#EE5B62" fill-opacity="0.85"/>
<text x="282.80" y="413.54" font-size="3.5" fill="#222">MARCO+ cells</text>
<text x="99.00" y="449.80" font-size="7.0" text-anchor="middle">CHOL</text>
<rect x="48.70" y="451.50" width="48.60" height="4.80" fill="#ECECEC" stroke="#B0B0B0" stroke-width="0.5"/>
<text x="74.80" y="455.10" font-size="3.4" text-anchor="middle" font-weight="bold" fill="#222">Normal</text>
<rect x="48.70" y="456.30" width="48.60" height="35.00" fill="#fff" stroke="#8c8c8c" stroke-width="0.7"/>
<path d="M56.8 468.9 L57.9 465.9 L59.7 465.2 L61.1 467.4 L61.5 471.1 L64.1 472.2 L65.9 473.6 L65.2 475.1 L62.6 475.1 L61.1 476.9 L60.8 480.5 L59.3 482.7 L57.1 482.7 L55.3 480.5 L54.9 477.6 L56.0 474.7 L56.4 471.8Z" fill="#96D1EE" fill-opacity="0.84" stroke="#96D1EE" stroke-opacity="0.5" stroke-width="0.6" stroke-linejoin="round"/>
<path d="M51.3 472.2 L52.7 470.3 L54.6 469.2 L54.9 471.8 L54.6 474.7 L55.3 476.9 L53.8 476.2 L52.4 474.0Z" fill="#E48BC0" fill-opacity="0.84" stroke="#E48BC0" stroke-opacity="0.5" stroke-width="0.6" stroke-linejoin="round"/>
<path d="M74.3 469.6 L75.0 464.5 L75.7 460.1 L77.9 458.3 L80.8 458.3 L83.0 460.8 L84.5 463.8 L85.2 468.1 L84.9 471.1 L83.0 472.9 L80.8 474.0 L79.4 476.2 L77.9 475.4 L75.7 474.0 L74.3 472.5Z" fill="#EE5B62" fill-opacity="0.84" stroke="#EE5B62" stroke-opacity="0.5" stroke-width="0.6" stroke-linejoin="round"/>
<path d="M84.9 469.6 L86.7 468.5 L88.5 469.2 L87.8 471.1 L86.0 471.8 L84.9 471.1Z" fill="#63CF5D" fill-opacity="0.84" stroke="#63CF5D" stroke-opacity="0.5" stroke-width="0.6" stroke-linejoin="round"/>
<path d="M74.3 476.2 L76.5 474.7 L79.4 476.2 L82.3 476.9 L84.5 478.4 L86.0 480.5 L86.0 485.7 L83.8 487.8 L80.8 489.3 L78.7 489.3 L76.5 487.1 L75.4 484.2 L74.3 480.5Z" fill="#8AE2E8" fill-opacity="0.84" stroke="#8AE2E8" stroke-opacity="0.5" stroke-width="0.6" stroke-linejoin="round"/>
<path d="M90.3 472.5 L92.5 471.4 L94.4 472.2 L94.7 474.7 L94.0 478.4 L92.9 481.3 L91.1 481.6 L90.0 479.1 L90.3 475.4Z" fill="#E48BC0" fill-opacity="0.84" stroke="#E48BC0" stroke-opacity="0.5" stroke-width="0.6" stroke-linejoin="round"/>
<path d="M57.2 469.3h0M56.5 469.1h0M59.3 465.8h0M61.1 466.9h0M59.7 466.2h0M61.2 470.1h0M60.7 470.8h0M61.6 468.1h0M62.4 471.3h0M63.1 471.0h0M64.4 472.5h0M63.9 473.2h0M66.1 474.4h0M62.9 475.9h0M64.6 475.7h0M61.7 476.3h0M62.2 476.4h0M61.0 478.3h0M61.5 479.6h0M61.5 478.3h0M58.8 482.2h0M59.3 481.8h0M59.6 481.9h0M56.4 481.4h0M56.7 481.0h0M55.5 479.8h0M54.7 478.6h0M55.9 474.5h0M54.8 476.4h0M56.6 471.1h0M55.8 471.4h0M56.6 470.1h0M56.6 468.0h0M59.1 465.8h0M58.0 476.3h0M60.2 479.2h0M57.6 482.0h0M61.1 476.6h0M60.3 468.7h0M58.9 477.9h0M59.1 482.5h0M60.6 473.1h0M55.7 478.4h0M58.7 466.5h0M60.1 477.4h0M60.9 472.1h0M62.6 472.6h0M57.4 480.8h0M59.8 471.2h0M59.2 477.2h0M59.0 482.4h0M58.0 477.1h0" stroke="#96D1EE" stroke-width="0.8" stroke-linecap="round" fill="none"/>
<path d="M52.7 470.5h0M51.9 471.5h0M54.4 469.7h0M54.6 470.8h0M54.0 470.6h0M54.0 474.4h0M54.6 473.5h0M55.1 475.9h0M54.5 475.5h0M54.4 476.1h0M52.6 475.0h0M54.2 476.6h0M51.7 473.6h0M52.6 473.7h0M53.6 470.5h0M54.1 469.9h0M91.8 471.2h0M91.2 473.0h0M94.6 472.0h0M93.9 474.4h0M94.7 474.9h0M93.8 478.4h0M95.2 473.9h0M93.8 474.6h0M93.2 480.1h0M92.7 480.2h0M92.1 482.4h0M90.2 478.6h0M90.9 479.0h0M89.2 478.3h0M89.8 478.0h0M90.1 475.6h0M90.3 472.9h0M90.0 473.6h0M92.3 480.5h0M92.0 480.3h0M92.4 474.5h0M91.5 480.6h0M94.4 473.9h0M90.1 478.4h0M92.8 474.8h0" stroke="#E48BC0" stroke-width="0.8" stroke-linecap="round" fill="none"/>
<path d="M75.5 466.3h0M73.7 468.3h0M75.1 465.4h0M74.1 467.3h0M74.6 464.7h0M75.8 460.4h0M76.0 462.4h0M76.8 459.5h0M77.5 457.6h0M79.5 458.9h0M79.8 458.2h0M82.4 459.0h0M81.2 458.3h0M82.3 459.4h0M84.5 461.6h0M84.2 460.7h0M84.7 466.3h0M85.6 467.6h0M85.0 465.1h0M84.3 468.7h0M84.7 470.2h0M83.5 472.0h0M85.0 472.2h0M81.9 473.3h0M81.8 473.2h0M80.9 474.4h0M81.3 474.5h0M78.7 475.2h0M77.1 475.1h0M75.6 473.9h0M76.3 474.7h0M74.4 470.7h0M74.1 470.7h0M76.8 466.8h0M78.0 469.3h0M75.9 465.2h0M85.0 467.3h0M83.2 461.5h0M83.2 461.3h0M83.7 472.0h0M81.8 472.2h0M77.9 472.8h0M84.4 469.7h0M81.8 462.5h0M78.7 471.0h0M80.7 468.1h0M79.5 473.0h0M83.1 468.5h0M81.3 459.5h0M74.9 469.3h0M84.7 469.7h0M80.6 470.9h0M82.9 463.5h0M75.5 463.8h0M81.2 462.2h0M78.1 466.6h0M78.0 469.9h0M84.6 467.9h0M83.0 462.4h0M78.9 462.7h0M83.3 467.0h0" stroke="#EE5B62" stroke-width="0.8" stroke-linecap="round" fill="none"/>
<path d="M85.2 470.2h0M88.1 468.0h0M87.6 470.5h0M87.4 470.7h0M85.7 471.1h0M84.9 470.3h0M87.2 469.3h0" stroke="#63CF5D" stroke-width="0.8" stroke-linecap="round" fill="none"/>
<path d="M74.0 475.2h0M75.5 474.1h0M76.4 475.6h0M78.8 476.7h0M82.2 476.2h0M80.7 477.5h0M84.3 477.4h0M84.6 478.9h0M84.9 480.0h0M85.4 479.7h0M86.1 482.2h0M85.5 485.3h0M85.4 482.0h0M86.4 483.8h0M85.5 485.3h0M83.8 486.6h0M83.6 488.7h0M81.1 488.2h0M78.6 489.5h0M77.9 489.9h0M77.5 487.6h0M75.8 485.4h0M76.2 486.5h0M75.2 484.2h0M75.2 482.3h0M74.3 482.3h0M74.2 479.8h0M73.8 478.9h0M74.9 480.6h0M76.6 477.3h0M80.2 481.9h0M80.3 480.9h0M78.6 481.8h0M78.2 485.0h0M79.2 479.1h0M81.9 486.8h0M83.4 487.8h0M85.1 482.7h0M79.3 476.5h0M80.1 477.0h0M77.7 477.3h0M83.9 483.3h0M79.2 480.2h0M77.8 477.5h0M83.8 479.4h0M79.0 487.3h0M80.1 478.3h0M83.4 483.0h0M79.6 485.8h0M84.8 480.8h0M81.9 480.4h0M75.4 476.6h0M78.9 476.9h0M80.4 489.2h0M71.4 485.7h0M71.0 486.8h0" stroke="#8AE2E8" stroke-width="0.8" stroke-linecap="round" fill="none"/>
<path d="M62.9 473.6h0M56.3 479.5h0M61.4 475.7h0M56.0 475.0h0M58.2 469.3h0M57.1 480.3h0M56.8 481.0h0M59.5 480.7h0M61.6 471.2h0M58.8 467.2h0M58.4 472.0h0M54.7 471.7h0M81.3 467.2h0M84.5 466.3h0M84.9 470.3h0M78.9 460.4h0M78.9 464.1h0M82.3 465.2h0M74.6 468.8h0M84.5 470.2h0M84.8 468.4h0M80.4 468.5h0M79.4 467.9h0M84.1 470.9h0M80.9 459.6h0M80.0 463.6h0M78.7 469.2h0M83.5 471.2h0M84.7 468.5h0M83.2 487.5h0M79.6 477.4h0M79.0 484.6h0M77.9 478.8h0M81.7 488.0h0M79.5 485.9h0M83.3 481.1h0M75.8 482.4h0M81.6 481.7h0M75.1 480.1h0M74.3 476.7h0M79.9 479.1h0M79.8 484.6h0M81.6 482.7h0M78.7 478.3h0M91.1 478.9h0M93.6 472.9h0M91.5 474.7h0M91.3 479.2h0" stroke="#fff" stroke-opacity="0.55" stroke-width="0.7" stroke-linecap="round" fill="none"/>
<rect x="98.40" y="451.50" width="48.40" height="4.80" fill="#ECECEC" stroke="#B0B0B0" stroke-width="0.5"/>
<text x="124.40" y="455.10" font-size="3.4" text-anchor="middle" font-weight="bold" fill="#222">Tumor</text>
<rect x="98.40" y="456.30" width="48.40" height="35.00" fill="#fff" stroke="#8c8c8c" stroke-width="0.7"/>
<path d="M106.0 468.9 L107.5 466.3 L109.7 465.9 L110.8 468.1 L111.1 471.1 L113.3 471.8 L115.2 473.2 L114.4 474.7 L112.2 475.1 L110.8 476.2 L110.4 479.8 L108.9 482.4 L106.8 482.7 L104.9 480.5 L104.6 476.9 L105.7 474.0 L106.0 471.8Z" fill="#96D1EE" fill-opacity="0.84" stroke="#96D1EE" stroke-opacity="0.5" stroke-width="0.6" stroke-linejoin="round"/>
<path d="M100.9 472.2 L102.4 470.3 L103.8 469.2 L104.2 471.8 L103.8 474.7 L104.6 476.9 L103.5 476.2 L102.0 473.6Z" fill="#E48BC0" fill-opacity="0.84" stroke="#E48BC0" stroke-opacity="0.5" stroke-width="0.6" stroke-linejoin="round"/>
<path d="M123.5 468.9 L124.3 465.2 L125.0 460.1 L127.2 458.3 L130.1 458.6 L133.0 460.8 L134.5 463.0 L134.9 467.4 L134.5 471.1 L133.0 472.5 L130.1 473.2 L127.2 472.9 L124.3 474.0 L123.2 471.8Z" fill="#EE5B62" fill-opacity="0.84" stroke="#EE5B62" stroke-opacity="0.5" stroke-width="0.6" stroke-linejoin="round"/>
<path d="M123.5 475.4 L125.7 474.3 L128.7 474.7 L131.6 474.7 L133.8 476.9 L135.2 479.8 L136.0 482.7 L135.2 486.4 L132.3 488.6 L128.7 488.9 L126.5 487.1 L125.0 484.2 L123.9 480.5Z" fill="#8AE2E8" fill-opacity="0.84" stroke="#8AE2E8" stroke-opacity="0.5" stroke-width="0.6" stroke-linejoin="round"/>
<path d="M134.1 469.6 L136.0 468.5 L137.8 469.2 L137.1 470.7 L135.6 471.4 L134.5 471.1Z" fill="#63CF5D" fill-opacity="0.84" stroke="#63CF5D" stroke-opacity="0.5" stroke-width="0.6" stroke-linejoin="round"/>
<path d="M139.6 471.8 L141.8 471.1 L144.0 472.5 L144.7 474.7 L144.0 477.6 L143.3 480.5 L141.8 482.0 L140.3 481.6 L139.2 479.1 L139.2 475.4Z" fill="#E48BC0" fill-opacity="0.84" stroke="#E48BC0" stroke-opacity="0.5" stroke-width="0.6" stroke-linejoin="round"/>
<path d="M105.8 469.4h0M106.0 469.5h0M110.0 466.5h0M110.2 466.5h0M109.3 466.3h0M111.7 469.5h0M110.3 469.8h0M114.0 470.9h0M111.6 471.2h0M115.4 473.3h0M114.0 472.0h0M113.8 474.0h0M113.5 474.8h0M111.1 475.4h0M110.7 477.1h0M110.7 478.6h0M111.0 477.9h0M109.5 480.9h0M108.9 482.6h0M108.5 482.5h0M105.5 481.5h0M104.6 481.4h0M105.0 479.4h0M104.6 480.5h0M104.1 477.8h0M105.8 474.6h0M105.0 473.2h0M106.5 471.8h0M106.4 469.1h0M106.5 469.8h0M110.3 469.3h0M109.5 467.8h0M107.0 481.6h0M110.5 476.2h0M108.2 475.5h0M106.9 477.7h0M112.1 474.2h0M112.5 474.9h0M106.7 471.1h0M107.9 472.1h0M106.2 481.1h0M108.2 469.2h0M105.8 473.9h0M106.1 473.9h0M109.9 479.7h0M107.8 475.4h0M110.3 468.3h0M109.8 469.8h0" stroke="#96D1EE" stroke-width="0.8" stroke-linecap="round" fill="none"/>
<path d="M101.5 471.5h0M102.1 470.4h0M102.5 470.4h0M103.6 470.5h0M103.5 471.1h0M103.3 471.7h0M104.7 473.7h0M104.9 475.7h0M105.2 476.0h0M104.7 476.5h0M102.4 476.5h0M102.0 474.2h0M102.2 472.3h0M102.7 473.9h0M104.3 476.3h0M140.9 471.8h0M140.5 470.8h0M143.3 471.4h0M143.5 471.5h0M144.4 472.4h0M145.0 472.5h0M144.3 474.6h0M144.7 475.0h0M144.4 477.8h0M143.1 479.7h0M142.5 481.8h0M141.5 482.5h0M140.1 480.9h0M139.4 481.0h0M139.3 477.1h0M139.4 477.7h0M139.3 477.1h0M140.0 471.9h0M139.5 471.6h0M138.9 472.9h0M139.5 478.4h0M143.5 479.0h0M142.2 479.6h0M140.4 476.3h0M142.3 474.1h0M141.0 479.0h0M142.1 478.9h0M142.3 479.8h0M142.0 479.2h0" stroke="#E48BC0" stroke-width="0.8" stroke-linecap="round" fill="none"/>
<path d="M124.7 468.1h0M123.9 465.3h0M123.7 467.9h0M125.1 462.7h0M125.5 460.2h0M125.6 460.7h0M124.7 461.1h0M125.0 460.2h0M126.7 458.9h0M129.7 459.3h0M127.7 457.9h0M132.1 460.5h0M130.4 457.9h0M130.5 458.2h0M133.7 461.5h0M134.4 462.1h0M134.1 466.0h0M134.4 466.1h0M134.8 465.9h0M134.3 470.8h0M133.8 469.4h0M134.0 470.0h0M134.6 471.5h0M133.5 472.2h0M130.5 472.9h0M129.2 473.7h0M129.3 472.5h0M125.3 473.1h0M126.1 473.1h0M123.6 473.0h0M123.3 472.9h0M123.5 469.9h0M122.6 472.5h0M124.5 467.4h0M125.2 460.4h0M128.7 472.0h0M132.4 466.5h0M127.0 463.2h0M133.1 464.0h0M131.1 462.9h0M128.3 460.2h0M125.9 463.8h0M123.6 471.7h0M129.0 463.8h0M130.5 465.4h0M126.9 464.3h0M128.4 463.1h0M127.5 465.6h0M133.2 471.0h0M133.3 465.6h0M133.1 468.8h0M123.5 471.5h0M127.0 467.8h0M123.8 468.5h0M130.9 463.8h0M127.1 470.7h0M126.7 466.5h0M126.9 463.4h0M129.8 471.6h0M132.6 464.4h0M124.9 461.2h0" stroke="#EE5B62" stroke-width="0.8" stroke-linecap="round" fill="none"/>
<path d="M125.1 474.2h0M125.0 475.0h0M129.3 474.4h0M127.4 474.3h0M129.3 474.2h0M131.3 475.3h0M132.5 476.7h0M133.2 477.0h0M133.5 477.9h0M133.6 477.9h0M136.3 482.1h0M135.4 479.5h0M135.9 484.8h0M135.8 483.7h0M134.6 485.7h0M132.8 487.1h0M134.2 486.6h0M133.9 486.5h0M131.3 489.2h0M129.7 488.4h0M130.7 488.9h0M128.5 488.9h0M127.3 487.9h0M124.8 486.1h0M125.7 485.0h0M124.2 484.6h0M124.3 483.2h0M124.2 482.2h0M123.9 478.4h0M124.4 480.7h0M123.3 475.2h0M123.2 476.2h0M135.0 485.0h0M127.1 481.8h0M130.6 478.3h0M130.7 488.7h0M130.8 483.1h0M129.1 478.1h0M129.4 483.3h0M135.3 483.8h0M124.1 479.0h0M131.7 487.3h0M124.1 480.7h0M127.8 483.3h0M126.3 474.9h0M130.6 483.8h0M124.1 476.2h0M129.3 483.5h0M130.4 483.4h0M131.5 479.8h0M130.9 480.1h0M132.7 481.8h0M124.2 479.8h0M124.5 480.8h0M132.6 480.4h0M123.8 477.3h0M128.7 478.0h0M133.8 477.5h0M135.3 484.3h0M120.3 486.4h0M121.4 484.9h0" stroke="#8AE2E8" stroke-width="0.8" stroke-linecap="round" fill="none"/>
<path d="M134.2 468.9h0M136.5 469.2h0M138.3 468.8h0M137.0 471.5h0M135.8 471.2h0M133.7 469.8h0M135.8 470.0h0" stroke="#63CF5D" stroke-width="0.8" stroke-linecap="round" fill="none"/>
<path d="M105.7 476.9h0M106.1 476.3h0M107.2 467.6h0M109.6 479.1h0M108.0 475.1h0M110.3 467.2h0M110.4 468.3h0M105.6 474.6h0M109.8 473.4h0M109.0 480.7h0M106.8 474.8h0M103.8 473.3h0M132.7 461.4h0M126.1 470.5h0M126.1 465.0h0M134.1 468.6h0M129.3 460.2h0M126.9 461.1h0M126.5 460.7h0M131.0 470.5h0M123.4 471.1h0M132.6 466.3h0M124.9 470.3h0M130.5 460.2h0M132.8 469.5h0M129.9 462.5h0M130.3 459.2h0M128.3 467.1h0M126.4 480.5h0M130.8 476.7h0M132.0 481.8h0M125.3 482.6h0M126.7 478.0h0M127.5 485.5h0M130.2 476.5h0M131.5 476.7h0M128.4 481.5h0M126.5 476.5h0M130.1 486.1h0M127.9 484.0h0M126.9 483.8h0M131.9 481.0h0M131.2 486.1h0M134.6 481.5h0M143.8 473.8h0M141.7 471.9h0M139.5 474.7h0M143.1 473.5h0M140.3 474.5h0" stroke="#fff" stroke-opacity="0.55" stroke-width="0.7" stroke-linecap="round" fill="none"/>
<line x1="47.80" y1="464.50" x2="48.70" y2="464.50" stroke="#777" stroke-width="0.4"/>
<text x="47.50" y="465.85" font-size="3.8" text-anchor="end" fill="#444">4</text>
<line x1="47.80" y1="474.00" x2="48.70" y2="474.00" stroke="#777" stroke-width="0.4"/>
<text x="47.50" y="475.35" font-size="3.8" text-anchor="end" fill="#444">0</text>
<line x1="47.80" y1="483.10" x2="48.70" y2="483.10" stroke="#777" stroke-width="0.4"/>
<text x="47.50" y="484.45" font-size="3.8" text-anchor="end" fill="#444">−4</text>
<line x1="58.60" y1="491.30" x2="58.60" y2="492.20" stroke="#777" stroke-width="0.4"/>
<text x="58.60" y="494.65" font-size="3.8" text-anchor="middle" fill="#444">−10</text>
<line x1="66.00" y1="491.30" x2="66.00" y2="492.20" stroke="#777" stroke-width="0.4"/>
<text x="66.00" y="494.65" font-size="3.8" text-anchor="middle" fill="#444">−5</text>
<line x1="74.90" y1="491.30" x2="74.90" y2="492.20" stroke="#777" stroke-width="0.4"/>
<text x="74.90" y="494.65" font-size="3.8" text-anchor="middle" fill="#444">0</text>
<line x1="84.00" y1="491.30" x2="84.00" y2="492.20" stroke="#777" stroke-width="0.4"/>
<text x="84.00" y="494.65" font-size="3.8" text-anchor="middle" fill="#444">5</text>
<line x1="93.10" y1="491.30" x2="93.10" y2="492.20" stroke="#777" stroke-width="0.4"/>
<text x="93.10" y="494.65" font-size="3.8" text-anchor="middle" fill="#444">10</text>
<line x1="108.20" y1="491.30" x2="108.20" y2="492.20" stroke="#777" stroke-width="0.4"/>
<text x="108.20" y="494.65" font-size="3.8" text-anchor="middle" fill="#444">−10</text>
<line x1="115.60" y1="491.30" x2="115.60" y2="492.20" stroke="#777" stroke-width="0.4"/>
<text x="115.60" y="494.65" font-size="3.8" text-anchor="middle" fill="#444">−5</text>
<line x1="124.50" y1="491.30" x2="124.50" y2="492.20" stroke="#777" stroke-width="0.4"/>
<text x="124.50" y="494.65" font-size="3.8" text-anchor="middle" fill="#444">0</text>
<line x1="133.60" y1="491.30" x2="133.60" y2="492.20" stroke="#777" stroke-width="0.4"/>
<text x="133.60" y="494.65" font-size="3.8" text-anchor="middle" fill="#444">5</text>
<line x1="142.70" y1="491.30" x2="142.70" y2="492.20" stroke="#777" stroke-width="0.4"/>
<text x="142.70" y="494.65" font-size="3.8" text-anchor="middle" fill="#444">10</text>
<rect x="147.50" y="454.10" width="1.80" height="1.80" fill="#96D1EE" fill-opacity="0.85"/>
<text x="150.30" y="455.80" font-size="3.5" fill="#222">ATF+ cells</text>
<rect x="147.50" y="458.03" width="1.80" height="1.80" fill="#E48BC0" fill-opacity="0.85"/>
<text x="150.30" y="459.73" font-size="3.5" fill="#222">CCL3+ cells</text>
<rect x="147.50" y="461.96" width="1.80" height="1.80" fill="#63CF5D" fill-opacity="0.85"/>
<text x="150.30" y="463.66" font-size="3.5" fill="#222">IL1B+ cells</text>
<rect x="147.50" y="465.89" width="1.80" height="1.80" fill="#EE5B62" fill-opacity="0.85"/>
<text x="150.30" y="467.59" font-size="3.5" fill="#222">MARCO+ cells</text>
<rect x="147.50" y="469.82" width="1.80" height="1.80" fill="#8AE2E8" fill-opacity="0.85"/>
<text x="150.30" y="471.52" font-size="3.5" fill="#222">MRC1+ cells</text>
<text x="229.60" y="449.80" font-size="7.0" text-anchor="middle">KIRC</text>
<rect x="181.50" y="451.50" width="47.80" height="4.80" fill="#ECECEC" stroke="#B0B0B0" stroke-width="0.5"/>
<text x="207.20" y="455.10" font-size="3.4" text-anchor="middle" font-weight="bold" fill="#222">Normal</text>
<rect x="181.50" y="456.30" width="47.80" height="35.00" fill="#fff" stroke="#8c8c8c" stroke-width="0.7"/>
<path d="M185.1 460.8 L186.9 458.3 L190.2 458.3 L192.4 460.1 L194.2 462.3 L194.6 465.9 L195.7 469.6 L197.5 472.5 L199.0 474.7 L196.8 475.4 L194.6 475.4 L192.4 474.7 L190.2 472.5 L187.3 469.6 L185.5 465.9Z" fill="#5B8FF2" fill-opacity="0.74" stroke="#5B8FF2" stroke-opacity="0.5" stroke-width="0.6" stroke-linejoin="round"/>
<path d="M183.3 474.0 L184.4 472.2 L187.3 471.4 L189.5 472.2 L191.3 474.7 L192.4 478.4 L193.1 482.0 L192.0 484.9 L189.5 486.4 L187.3 485.7 L186.6 482.0 L185.8 478.4 L184.0 476.2Z" fill="#6E2E62" fill-opacity="0.84" stroke="#6E2E62" stroke-opacity="0.5" stroke-width="0.6" stroke-linejoin="round"/>
<path d="M192.8 478.4 L194.6 477.6 L199.0 478.0 L204.1 478.4 L207.7 480.2 L210.7 483.1 L211.4 485.7 L209.9 486.4 L207.0 484.9 L203.4 483.8 L199.0 482.7 L195.3 482.0 L193.1 480.5Z" fill="#63CF5D" fill-opacity="0.72" stroke="#63CF5D" stroke-opacity="0.5" stroke-width="0.6" stroke-linejoin="round"/>
<path d="M209.9 474.0 L212.1 472.5 L215.0 471.1 L218.0 469.6 L220.9 471.1 L222.7 474.0 L223.1 479.1 L222.3 483.5 L220.9 487.1 L218.0 489.3 L214.3 489.3 L212.1 487.8 L210.7 484.9 L209.9 480.5 L209.2 476.2Z" fill="#EE5B62" fill-opacity="0.60" stroke="#EE5B62" stroke-opacity="0.5" stroke-width="0.6" stroke-linejoin="round"/>
<path d="M215.0 467.4 L217.2 463.8 L219.4 461.2 L222.3 460.1 L225.3 460.1 L226.7 462.3 L226.4 465.9 L224.5 468.1 L222.3 469.6 L220.9 471.8 L219.4 470.3 L216.5 469.2Z" fill="#96D1EE" fill-opacity="0.84" stroke="#96D1EE" stroke-opacity="0.5" stroke-width="0.6" stroke-linejoin="round"/>
<path d="M185.8 459.4h0M186.4 459.3h0M187.1 458.3h0M189.0 459.1h0M190.6 458.5h0M190.8 459.8h0M193.3 462.5h0M193.9 461.6h0M194.0 464.6h0M194.3 462.6h0M194.4 464.6h0M194.5 465.8h0M195.5 467.2h0M194.5 467.0h0M196.8 470.5h0M196.7 471.7h0M195.6 469.6h0M198.6 472.6h0M199.5 474.4h0M197.7 475.5h0M197.9 474.4h0M195.6 476.1h0M192.9 475.1h0M193.5 474.6h0M190.7 472.9h0M191.5 472.4h0M187.1 469.5h0M189.0 471.2h0M188.0 470.3h0M187.4 468.8h0M185.3 466.5h0M187.8 468.8h0M185.1 466.0h0M184.9 462.8h0M184.9 465.2h0M184.6 461.3h0M195.8 472.0h0M186.6 461.8h0M190.7 470.2h0M189.9 462.7h0M190.3 459.8h0M189.0 471.2h0M189.1 469.5h0M188.5 466.5h0M194.1 474.3h0M187.0 466.9h0M187.0 462.0h0M188.1 465.9h0M196.1 474.8h0M192.3 460.4h0M192.1 474.2h0M191.8 465.9h0M189.7 469.0h0M189.9 470.2h0M192.6 468.7h0M190.7 459.9h0M186.0 464.6h0M193.4 463.4h0M187.2 464.0h0M194.3 466.9h0M195.5 471.2h0M190.4 459.1h0M197.7 473.3h0M195.7 462.4h0M196.6 463.4h0M196.7 476.0h0M196.1 463.7h0M198.0 474.2h0M194.9 464.0h0M195.1 461.8h0M192.9 460.6h0M195.3 469.1h0M199.2 462.6h0M196.7 461.9h0M196.2 471.4h0M193.4 463.3h0M198.3 463.3h0M194.3 465.9h0M198.7 474.7h0M196.7 472.8h0M193.4 464.2h0M194.6 469.6h0M193.3 465.2h0M195.3 467.4h0M200.4 477.4h0M200.2 475.5h0M196.7 462.9h0M198.8 474.4h0M194.6 463.0h0M196.9 474.9h0M196.8 475.7h0M196.4 464.1h0M198.1 473.9h0M195.0 473.9h0M193.3 463.5h0M199.2 462.5h0M195.8 462.3h0M193.8 465.8h0M199.5 476.3h0M193.4 466.2h0M194.2 462.9h0M195.6 469.1h0M195.0 469.2h0M196.1 472.0h0M200.3 476.0h0M195.7 465.1h0M193.8 465.4h0" stroke="#5B8FF2" stroke-width="0.8" stroke-linecap="round" fill="none"/>
<path d="M184.5 473.1h0M186.0 472.3h0M186.4 471.3h0M188.2 471.7h0M189.3 471.6h0M189.8 473.6h0M190.3 472.6h0M191.9 477.1h0M191.4 476.6h0M191.7 476.0h0M192.0 477.9h0M193.4 479.7h0M192.8 481.4h0M193.3 484.6h0M192.2 485.7h0M190.2 486.2h0M190.6 485.3h0M188.0 487.0h0M189.9 486.2h0M186.9 484.0h0M186.6 482.7h0M187.0 485.6h0M187.0 481.1h0M186.1 480.8h0M186.5 481.3h0M184.1 476.6h0M185.6 478.7h0M183.1 474.9h0M183.6 475.7h0M188.9 484.6h0M185.6 475.1h0M190.3 476.2h0M190.3 479.1h0M187.3 480.1h0M187.4 483.1h0M190.6 482.0h0M186.6 480.6h0M191.0 483.6h0M188.1 481.9h0M190.7 481.4h0M189.1 476.8h0M188.5 484.0h0M186.1 479.0h0M190.7 479.4h0M188.8 480.6h0M187.6 483.6h0M186.8 474.1h0" stroke="#6E2E62" stroke-width="0.8" stroke-linecap="round" fill="none"/>
<path d="M193.9 478.6h0M198.7 478.1h0M196.9 478.8h0M197.3 478.2h0M202.6 478.2h0M200.0 477.7h0M200.6 478.2h0M201.8 478.2h0M207.5 479.1h0M204.7 479.0h0M206.5 478.9h0M209.4 480.7h0M209.4 482.8h0M208.0 479.8h0M211.2 484.8h0M211.3 485.9h0M210.1 486.3h0M208.0 484.9h0M208.4 484.8h0M206.1 485.3h0M206.0 484.6h0M204.7 483.7h0M200.8 483.9h0M201.8 482.5h0M202.0 482.8h0M201.7 483.7h0M198.1 482.4h0M196.6 483.1h0M197.6 482.6h0M194.9 481.3h0M195.2 482.1h0M193.6 479.7h0M208.1 480.7h0M208.5 484.5h0M201.6 483.0h0M200.7 478.4h0M203.8 483.0h0M197.4 481.1h0M204.2 480.0h0M206.1 484.6h0M200.1 480.8h0M204.3 482.7h0M199.0 482.1h0M198.5 480.2h0M203.3 478.4h0M206.2 481.6h0M194.3 480.9h0M210.1 483.8h0" stroke="#63CF5D" stroke-width="0.8" stroke-linecap="round" fill="none"/>
<path d="M210.9 472.5h0M209.7 473.7h0M213.2 471.7h0M215.4 471.9h0M217.4 469.8h0M216.1 470.8h0M218.7 470.1h0M219.4 469.8h0M221.4 472.8h0M221.9 473.7h0M223.3 472.8h0M223.3 476.2h0M222.3 477.7h0M222.9 478.3h0M222.3 476.8h0M223.3 483.3h0M222.4 482.4h0M222.5 481.1h0M220.8 485.6h0M221.2 486.1h0M221.2 486.2h0M219.8 487.9h0M220.5 487.6h0M219.3 488.0h0M217.3 488.6h0M217.8 488.6h0M215.2 488.5h0M213.4 487.7h0M213.7 489.7h0M211.3 487.9h0M211.5 485.8h0M210.4 484.4h0M210.9 483.5h0M210.4 481.5h0M209.0 478.7h0M209.8 479.3h0M208.7 476.6h0M209.5 475.2h0M209.8 474.9h0M211.9 478.8h0M217.6 487.4h0M213.1 479.8h0M216.0 486.1h0M214.9 482.1h0M222.5 478.3h0M212.9 482.4h0M222.1 476.5h0M213.1 479.7h0M212.8 481.1h0M212.3 484.9h0M222.4 474.4h0M214.0 477.9h0M210.2 479.8h0M211.5 474.2h0M211.9 483.7h0M216.3 475.7h0M217.1 480.9h0M221.4 472.0h0M216.8 474.6h0M220.1 474.2h0M220.4 473.2h0M211.6 474.8h0M219.3 475.2h0M221.5 482.4h0M214.9 486.7h0M212.7 486.8h0M214.7 478.6h0M221.9 483.4h0M210.4 477.5h0M215.4 474.7h0M214.7 478.8h0M217.5 486.2h0M219.5 481.1h0M220.3 484.4h0M221.9 483.9h0M212.1 480.4h0M215.1 475.9h0M210.9 484.0h0M214.6 476.0h0M221.3 473.6h0" stroke="#EE5B62" stroke-width="0.8" stroke-linecap="round" fill="none"/>
<path d="M216.9 463.5h0M215.7 465.5h0M216.1 466.3h0M219.5 461.8h0M218.2 464.0h0M218.0 462.3h0M220.0 461.7h0M221.0 461.2h0M223.5 460.0h0M225.2 460.9h0M227.1 461.5h0M225.0 460.0h0M226.3 464.3h0M226.2 463.2h0M227.4 464.4h0M225.1 468.2h0M224.8 467.2h0M222.9 468.4h0M224.4 468.2h0M222.9 469.8h0M222.1 469.6h0M220.3 470.5h0M218.4 470.8h0M218.2 469.8h0M215.6 467.9h0M215.2 469.1h0M220.5 462.7h0M225.5 466.4h0M222.7 466.4h0M221.9 463.0h0M218.0 465.7h0M217.0 469.0h0M223.6 468.2h0M221.4 465.4h0M222.5 465.0h0M223.3 462.4h0M224.0 461.6h0M221.8 467.7h0M224.5 464.4h0M219.5 466.1h0M218.7 464.5h0M216.8 468.7h0" stroke="#96D1EE" stroke-width="0.8" stroke-linecap="round" fill="none"/>
<path d="M187.4 463.5h0M190.9 461.0h0M195.9 470.9h0M193.8 473.7h0M196.1 474.6h0M188.9 458.9h0M196.5 473.6h0M187.8 462.8h0M192.5 463.6h0M190.4 466.7h0M187.2 467.5h0M193.4 467.3h0M196.8 472.1h0M191.6 462.0h0M187.0 465.9h0M194.1 469.4h0M189.4 468.4h0M186.3 461.7h0M194.4 474.4h0M190.6 466.7h0M191.6 460.0h0M189.6 471.2h0M195.4 473.1h0M191.9 460.3h0M190.6 458.6h0M193.0 467.4h0M189.3 464.8h0M192.7 473.3h0M192.8 464.1h0M187.0 467.1h0M190.1 469.8h0M190.8 481.7h0M190.5 482.6h0M186.6 476.4h0M189.9 480.4h0M186.9 477.2h0M187.4 485.1h0M190.6 480.5h0M183.7 473.8h0M186.7 476.7h0M187.5 471.6h0M195.0 478.1h0M210.6 484.3h0M207.0 479.9h0M205.8 483.1h0M198.5 481.9h0M197.9 481.4h0M208.6 484.8h0M204.6 482.3h0M205.1 480.1h0M210.1 484.3h0M206.6 481.7h0M203.9 481.6h0M202.2 481.2h0M198.4 479.0h0M207.5 483.9h0M202.4 478.7h0M207.1 483.9h0M193.3 478.9h0M195.4 481.2h0M203.0 482.8h0M202.9 483.7h0M210.6 485.7h0M216.0 475.0h0M220.7 479.0h0M214.5 479.3h0M222.6 478.6h0M217.5 485.5h0M218.2 470.0h0M218.7 476.4h0M216.4 485.0h0M217.2 480.6h0M218.9 473.6h0M209.9 479.6h0M216.6 486.2h0M216.7 488.0h0M212.5 483.9h0M211.5 479.5h0M217.9 471.3h0M214.3 486.8h0M223.0 479.3h0M219.4 477.7h0M217.8 489.2h0M213.1 480.1h0M216.8 474.2h0M211.8 485.1h0M216.2 488.0h0M213.8 476.9h0M219.1 485.1h0M217.5 489.0h0M218.8 478.8h0M214.0 488.3h0M216.6 483.2h0M216.1 486.8h0M212.7 481.5h0M218.5 484.9h0M218.9 479.4h0M212.0 473.8h0M218.0 485.7h0M212.2 482.4h0M218.6 488.1h0M218.7 487.0h0M211.5 477.3h0M222.5 477.2h0M211.5 483.3h0M219.6 484.9h0M222.2 483.3h0M213.8 479.1h0M210.3 477.7h0M214.1 476.5h0M220.5 471.0h0M214.9 476.6h0M213.8 483.1h0M217.2 487.0h0M219.8 484.8h0M217.4 474.4h0M212.4 482.0h0M218.0 473.6h0M218.0 475.1h0M217.6 480.6h0M220.6 476.9h0M214.9 486.3h0M221.3 480.3h0M215.2 477.4h0M210.5 477.9h0M217.0 477.0h0M217.5 486.9h0M221.7 476.9h0M217.1 488.6h0M213.0 472.8h0M222.5 479.9h0M212.4 486.7h0M221.5 475.2h0M217.2 476.9h0M221.8 474.7h0M216.8 484.5h0M216.3 486.8h0M214.2 479.7h0M215.8 486.0h0M217.2 478.7h0M214.3 488.5h0M219.4 476.6h0M218.3 471.9h0M211.3 476.3h0M212.5 479.5h0M219.0 481.2h0M215.1 486.3h0M214.1 472.8h0M224.6 464.5h0M219.0 469.7h0M223.6 465.3h0M220.3 467.2h0M221.9 467.1h0M223.7 461.0h0M224.2 460.8h0M217.1 467.8h0M217.6 466.3h0M217.1 467.9h0M213.6 486.0h0M220.0 484.2h0M221.6 477.7h0M221.3 481.6h0M220.5 483.2h0M217.2 474.5h0M221.2 482.3h0M213.0 480.5h0M215.2 486.4h0M214.3 474.3h0M222.3 485.3h0M212.6 482.7h0M211.9 485.1h0M215.4 477.0h0M217.8 485.0h0M218.0 475.2h0M218.2 478.8h0M221.1 485.9h0M220.2 482.1h0M220.1 478.5h0M218.1 486.7h0M212.2 484.2h0M217.5 474.7h0M219.8 483.5h0M213.2 487.0h0M218.9 484.2h0M216.5 476.0h0M213.9 484.5h0M221.0 478.1h0M220.3 475.6h0M214.5 484.2h0M218.9 476.2h0M222.0 482.7h0M220.1 486.9h0M220.4 481.8h0M214.3 479.1h0M220.6 486.9h0M221.9 482.1h0M214.4 480.4h0M219.0 476.1h0M218.0 474.6h0M214.4 480.8h0M221.4 485.0h0M216.9 476.7h0M216.3 477.4h0M222.2 474.1h0M215.8 477.6h0M217.1 481.8h0M216.0 474.1h0M221.9 478.1h0M215.8 479.9h0M213.9 477.6h0M212.0 486.1h0M219.4 479.2h0M221.0 474.6h0M218.6 484.2h0M221.0 483.1h0M212.1 482.8h0M215.7 479.4h0M219.3 482.8h0M216.1 476.5h0M221.1 480.9h0M214.0 479.7h0M218.4 477.7h0M216.0 483.5h0M218.3 480.9h0M218.4 478.4h0M222.0 487.0h0M220.4 483.0h0M211.4 478.6h0" stroke="#fff" stroke-opacity="0.55" stroke-width="0.7" stroke-linecap="round" fill="none"/>
<rect x="230.60" y="451.50" width="48.00" height="4.80" fill="#ECECEC" stroke="#B0B0B0" stroke-width="0.5"/>
<text x="256.40" y="455.10" font-size="3.4" text-anchor="middle" font-weight="bold" fill="#222">Tumor</text>
<rect x="230.60" y="456.30" width="48.00" height="35.00" fill="#fff" stroke="#8c8c8c" stroke-width="0.7"/>
<path d="M234.5 460.8 L236.3 458.6 L239.2 458.3 L241.4 459.4 L244.3 460.8 L247.2 461.6 L250.2 462.7 L249.4 464.5 L246.5 464.1 L243.6 463.8 L242.9 466.7 L243.6 469.6 L245.8 471.8 L248.7 474.0 L250.2 476.2 L248.0 477.6 L244.3 477.6 L242.1 476.2 L239.9 474.7 L237.8 471.8 L235.6 469.6 L234.5 465.9Z" fill="#5B8FF2" fill-opacity="0.84" stroke="#5B8FF2" stroke-opacity="0.5" stroke-width="0.6" stroke-linejoin="round"/>
<path d="M233.0 474.0 L234.1 472.2 L237.0 471.4 L239.2 472.5 L241.0 475.4 L242.1 478.4 L242.9 482.0 L241.4 484.9 L239.2 486.8 L237.4 485.7 L236.3 482.0 L235.6 478.4 L233.7 476.2Z" fill="#6E2E62" fill-opacity="0.84" stroke="#6E2E62" stroke-opacity="0.5" stroke-width="0.6" stroke-linejoin="round"/>
<path d="M242.1 478.4 L244.3 476.9 L248.0 477.6 L252.4 478.4 L256.0 479.1 L258.9 481.3 L260.4 484.2 L259.7 485.7 L256.0 484.9 L252.4 483.8 L248.0 482.7 L244.3 482.0 L242.5 480.5Z" fill="#63CF5D" fill-opacity="0.84" stroke="#63CF5D" stroke-opacity="0.5" stroke-width="0.6" stroke-linejoin="round"/>
<path d="M259.7 474.0 L261.8 471.8 L264.8 470.0 L268.4 470.3 L271.3 471.8 L272.8 474.7 L273.2 479.1 L272.8 483.5 L271.3 486.4 L268.4 488.9 L264.8 489.3 L261.8 487.8 L260.0 484.9 L259.7 480.5 L259.3 476.9Z" fill="#EE5B62" fill-opacity="0.84" stroke="#EE5B62" stroke-opacity="0.5" stroke-width="0.6" stroke-linejoin="round"/>
<path d="M264.0 468.1 L266.2 464.5 L268.4 461.6 L271.3 460.1 L274.3 459.7 L276.4 461.6 L276.8 465.2 L275.7 468.1 L272.8 469.6 L271.3 471.8 L269.1 470.3 L265.5 469.2Z" fill="#96D1EE" fill-opacity="0.84" stroke="#96D1EE" stroke-opacity="0.5" stroke-width="0.6" stroke-linejoin="round"/>
<path d="M235.8 460.5h0M235.9 460.3h0M237.3 459.3h0M237.3 458.7h0M241.8 460.2h0M241.2 458.5h0M241.6 459.3h0M242.2 460.4h0M246.4 461.0h0M245.7 460.5h0M249.7 462.1h0M250.5 463.0h0M250.0 463.7h0M246.8 463.7h0M247.1 464.1h0M244.7 463.7h0M245.6 464.6h0M243.2 465.6h0M242.1 466.9h0M243.1 467.6h0M244.0 469.7h0M245.1 470.0h0M245.0 470.2h0M247.0 472.4h0M246.1 471.1h0M248.1 473.8h0M249.8 475.4h0M249.3 476.2h0M248.7 476.6h0M249.3 477.3h0M247.1 476.9h0M247.3 477.4h0M247.5 476.8h0M243.4 476.7h0M243.2 477.6h0M240.7 475.7h0M240.1 474.2h0M237.4 471.9h0M238.7 472.5h0M238.3 473.5h0M236.2 471.2h0M236.8 470.9h0M235.0 468.0h0M235.0 468.0h0M236.3 469.2h0M234.9 462.7h0M235.1 461.9h0M233.9 463.3h0M234.3 461.3h0M238.3 470.2h0M234.9 466.8h0M245.7 463.0h0M239.1 473.3h0M240.8 460.5h0M243.0 464.1h0M244.5 461.6h0M248.4 462.8h0M247.7 473.4h0M236.7 469.0h0M236.7 468.8h0M242.7 465.8h0M244.4 471.3h0M239.3 467.6h0M246.4 463.4h0M239.1 471.9h0M245.0 462.4h0M241.4 473.7h0M247.0 475.7h0M236.4 465.5h0M238.7 465.6h0M243.0 465.2h0M244.4 474.1h0M240.4 464.3h0M239.5 462.5h0M242.2 466.2h0M238.0 462.1h0M235.3 464.3h0M237.4 469.4h0M236.5 459.9h0M235.3 468.3h0M244.2 471.0h0M243.2 461.2h0M235.4 464.7h0" stroke="#5B8FF2" stroke-width="0.8" stroke-linecap="round" fill="none"/>
<path d="M233.1 473.1h0M234.5 472.4h0M236.2 471.4h0M238.7 471.2h0M237.1 471.6h0M240.5 473.3h0M239.4 472.8h0M241.6 475.9h0M242.3 477.8h0M241.1 476.8h0M243.2 482.8h0M243.0 480.2h0M242.9 481.7h0M242.3 481.9h0M242.2 484.9h0M240.7 486.6h0M239.2 486.5h0M238.4 486.2h0M237.3 483.0h0M237.4 482.8h0M237.4 484.4h0M237.1 481.2h0M235.7 478.1h0M235.6 479.4h0M235.5 477.6h0M235.7 477.7h0M232.8 475.3h0M233.1 475.6h0M241.0 483.8h0M238.2 481.2h0M240.0 484.7h0M234.6 476.8h0M237.1 475.2h0M235.1 475.1h0M236.8 482.9h0M242.0 478.2h0M240.8 476.4h0M236.1 472.4h0M237.2 484.6h0M238.5 474.7h0M240.9 480.4h0M236.7 477.8h0M235.7 478.9h0M241.5 481.4h0M238.3 473.1h0" stroke="#6E2E62" stroke-width="0.8" stroke-linecap="round" fill="none"/>
<path d="M243.6 477.6h0M242.7 478.8h0M247.8 478.0h0M247.8 477.8h0M246.4 478.3h0M251.9 477.6h0M249.7 477.4h0M251.3 478.3h0M255.4 479.8h0M254.3 479.7h0M253.6 478.0h0M258.6 479.6h0M256.6 479.4h0M257.6 481.0h0M259.1 483.2h0M260.5 484.5h0M259.9 486.2h0M260.1 485.5h0M258.6 486.2h0M257.7 485.5h0M255.3 484.7h0M254.9 484.1h0M253.8 484.6h0M252.3 484.4h0M248.4 483.3h0M250.6 482.8h0M248.8 482.4h0M246.4 482.5h0M245.8 482.1h0M248.0 483.2h0M244.5 482.1h0M242.6 481.9h0M242.3 478.9h0M247.2 482.1h0M255.4 481.2h0M255.9 480.1h0M247.9 479.5h0M259.0 482.2h0M244.6 481.1h0M247.0 481.2h0M248.9 482.2h0M244.1 478.9h0M247.5 481.3h0M251.3 480.2h0M254.5 484.1h0M248.2 477.7h0M248.1 480.4h0M246.1 478.4h0M257.2 483.9h0M247.0 480.8h0" stroke="#63CF5D" stroke-width="0.8" stroke-linecap="round" fill="none"/>
<path d="M261.2 473.3h0M260.4 472.3h0M263.6 469.5h0M262.5 471.2h0M265.1 470.4h0M266.5 470.2h0M268.4 470.0h0M264.8 469.9h0M270.7 471.0h0M269.3 471.3h0M272.1 472.4h0M272.1 472.3h0M273.5 475.7h0M273.0 479.0h0M272.3 475.1h0M272.5 480.2h0M272.2 482.6h0M272.9 483.8h0M270.8 485.3h0M271.3 486.6h0M268.9 487.3h0M270.9 487.3h0M269.0 488.3h0M269.1 489.2h0M266.7 488.7h0M267.0 490.0h0M264.6 489.6h0M263.6 488.6h0M259.6 485.1h0M261.3 485.2h0M260.7 485.6h0M259.9 482.0h0M259.9 482.2h0M259.1 484.0h0M259.4 476.4h0M258.6 477.4h0M259.1 480.9h0M259.8 475.0h0M259.6 476.3h0M271.7 484.3h0M264.4 474.1h0M266.9 477.8h0M270.7 481.0h0M264.1 488.8h0M272.1 475.0h0M263.6 485.5h0M261.9 473.4h0M262.8 475.8h0M263.8 486.3h0M270.7 473.1h0M270.2 474.8h0M272.6 482.4h0M267.8 475.3h0M270.8 480.8h0M265.0 477.8h0M259.6 479.5h0M265.9 477.2h0M262.1 481.2h0M265.6 474.1h0M262.5 473.3h0M261.8 483.1h0M264.5 472.0h0M262.3 483.9h0M263.8 480.8h0M265.6 485.5h0M262.5 483.2h0M271.7 482.2h0M270.2 483.1h0M267.9 471.0h0M263.5 476.4h0M262.5 485.5h0M261.1 475.0h0M261.7 473.3h0M263.4 475.6h0M261.6 481.7h0M260.8 478.2h0M265.4 472.6h0M265.4 483.6h0M267.2 488.7h0M265.2 487.1h0M262.9 477.4h0M267.6 486.4h0" stroke="#EE5B62" stroke-width="0.8" stroke-linecap="round" fill="none"/>
<path d="M264.6 466.5h0M264.4 467.6h0M265.9 466.4h0M268.8 461.2h0M267.6 463.0h0M266.4 463.8h0M267.9 461.0h0M268.9 461.7h0M272.9 459.7h0M272.4 460.6h0M275.6 460.6h0M275.4 461.1h0M276.9 462.9h0M276.2 463.6h0M277.1 465.2h0M276.6 465.7h0M276.8 465.2h0M275.9 467.9h0M275.0 469.3h0M271.2 471.5h0M272.8 470.1h0M269.8 470.9h0M270.2 470.8h0M267.2 469.7h0M268.0 470.0h0M266.5 469.8h0M263.8 468.6h0M271.7 466.6h0M274.7 461.7h0M273.2 468.4h0M270.8 465.2h0M268.9 464.3h0M269.2 462.2h0M274.4 466.8h0M276.4 465.9h0M265.3 466.1h0M269.4 468.9h0M267.3 464.0h0M269.2 466.9h0M268.0 465.2h0M269.2 466.5h0M271.1 471.3h0M274.6 467.1h0M272.0 468.3h0M270.1 468.7h0M269.3 470.0h0" stroke="#96D1EE" stroke-width="0.8" stroke-linecap="round" fill="none"/>
<path d="M241.6 474.0h0M244.0 473.6h0M240.4 474.1h0M238.5 464.4h0M240.2 467.4h0M235.3 464.4h0M236.2 468.2h0M241.3 468.3h0M239.8 470.3h0M242.7 473.3h0M237.0 464.8h0M240.2 470.8h0M236.7 459.3h0M241.9 469.7h0M237.6 466.1h0M236.1 462.5h0M241.1 474.5h0M238.2 470.8h0M241.0 470.5h0M242.0 462.4h0M233.5 474.7h0M238.5 477.4h0M239.6 478.7h0M240.8 482.8h0M238.3 483.0h0M239.6 480.2h0M238.9 482.9h0M236.1 480.5h0M241.2 482.0h0M240.9 477.0h0M253.2 478.8h0M250.4 481.8h0M244.2 480.7h0M259.0 483.7h0M252.8 479.3h0M249.3 480.2h0M256.8 484.4h0M258.0 482.6h0M258.6 481.1h0M244.6 480.2h0M259.6 477.0h0M272.3 477.1h0M262.5 474.7h0M271.0 480.9h0M264.6 473.6h0M263.0 474.8h0M266.1 471.0h0M266.7 481.5h0M269.7 480.5h0M269.8 473.2h0M270.8 474.1h0M264.1 481.6h0M260.8 485.8h0M270.5 483.8h0M263.9 473.5h0M262.0 474.3h0M268.0 474.5h0M267.1 484.8h0M271.6 484.4h0M263.8 484.0h0M272.5 482.6h0M260.4 480.3h0M265.9 470.3h0M263.3 486.5h0M265.8 487.8h0M271.1 479.1h0M271.9 469.7h0M267.6 468.1h0M270.6 469.4h0M275.2 465.3h0M267.0 463.8h0M268.8 464.9h0M273.8 462.9h0M272.8 460.3h0M268.5 463.6h0M265.9 466.1h0M268.5 463.2h0" stroke="#fff" stroke-opacity="0.55" stroke-width="0.7" stroke-linecap="round" fill="none"/>
<line x1="180.60" y1="457.70" x2="181.50" y2="457.70" stroke="#777" stroke-width="0.4"/>
<text x="180.30" y="459.05" font-size="3.8" text-anchor="end" fill="#444">6</text>
<line x1="180.60" y1="465.90" x2="181.50" y2="465.90" stroke="#777" stroke-width="0.4"/>
<text x="180.30" y="467.25" font-size="3.8" text-anchor="end" fill="#444">3</text>
<line x1="180.60" y1="474.00" x2="181.50" y2="474.00" stroke="#777" stroke-width="0.4"/>
<text x="180.30" y="475.35" font-size="3.8" text-anchor="end" fill="#444">0</text>
<line x1="180.60" y1="482.20" x2="181.50" y2="482.20" stroke="#777" stroke-width="0.4"/>
<text x="180.30" y="483.55" font-size="3.8" text-anchor="end" fill="#444">−3</text>
<line x1="180.60" y1="490.40" x2="181.50" y2="490.40" stroke="#777" stroke-width="0.4"/>
<text x="180.30" y="491.75" font-size="3.8" text-anchor="end" fill="#444">−6</text>
<line x1="182.80" y1="491.30" x2="182.80" y2="492.20" stroke="#777" stroke-width="0.4"/>
<text x="182.80" y="494.85" font-size="3.8" text-anchor="middle" fill="#444">−8</text>
<line x1="194.50" y1="491.30" x2="194.50" y2="492.20" stroke="#777" stroke-width="0.4"/>
<text x="194.50" y="494.85" font-size="3.8" text-anchor="middle" fill="#444">−4</text>
<line x1="206.00" y1="491.30" x2="206.00" y2="492.20" stroke="#777" stroke-width="0.4"/>
<text x="206.00" y="494.85" font-size="3.8" text-anchor="middle" fill="#444">0</text>
<line x1="217.80" y1="491.30" x2="217.80" y2="492.20" stroke="#777" stroke-width="0.4"/>
<text x="217.80" y="494.85" font-size="3.8" text-anchor="middle" fill="#444">4</text>
<line x1="232.00" y1="491.30" x2="232.00" y2="492.20" stroke="#777" stroke-width="0.4"/>
<text x="232.00" y="494.85" font-size="3.8" text-anchor="middle" fill="#444">−8</text>
<line x1="243.70" y1="491.30" x2="243.70" y2="492.20" stroke="#777" stroke-width="0.4"/>
<text x="243.70" y="494.85" font-size="3.8" text-anchor="middle" fill="#444">−4</text>
<line x1="255.20" y1="491.30" x2="255.20" y2="492.20" stroke="#777" stroke-width="0.4"/>
<text x="255.20" y="494.85" font-size="3.8" text-anchor="middle" fill="#444">0</text>
<line x1="267.00" y1="491.30" x2="267.00" y2="492.20" stroke="#777" stroke-width="0.4"/>
<text x="267.00" y="494.85" font-size="3.8" text-anchor="middle" fill="#444">4</text>
<rect x="280.00" y="454.10" width="1.80" height="1.80" fill="#5B8FF2" fill-opacity="0.85"/>
<text x="282.80" y="455.80" font-size="3.5" fill="#222">FOLR2+ cells</text>
<rect x="280.00" y="458.03" width="1.80" height="1.80" fill="#63CF5D" fill-opacity="0.85"/>
<text x="282.80" y="459.73" font-size="3.5" fill="#222">IL1B+ cells</text>
<rect x="280.00" y="461.96" width="1.80" height="1.80" fill="#96D1EE" fill-opacity="0.85"/>
<text x="282.80" y="463.66" font-size="3.5" fill="#222">ITGAL+ cells</text>
<rect x="280.00" y="465.89" width="1.80" height="1.80" fill="#EE5B62" fill-opacity="0.85"/>
<text x="282.80" y="467.59" font-size="3.5" fill="#222">MARCO+ cells</text>
<rect x="280.00" y="469.82" width="1.80" height="1.80" fill="#6E2E62" fill-opacity="0.85"/>
<text x="282.80" y="471.52" font-size="3.5" fill="#222">SPP1+ cells</text>
<text x="335.60" y="212.50" font-size="11.8" font-weight="bold">D</text>
<text x="404.50" y="218.30" font-size="9.26">Cell Type Composition Across Cancer Types</text>
<text x="425.20" y="231.30" font-size="7.0" text-anchor="middle">SKCM</text>
<rect x="378.30" y="234.30" width="89.00" height="24.00" fill="#fff" stroke="#9a9a9a" stroke-width="0.7"/>
<rect x="382.20" y="237.05" width="19.51" height="7.65" fill="#EEF3A8" stroke="#333" stroke-width="0.35"/>
<rect x="401.71" y="237.05" width="42.28" height="7.65" fill="#8DD3C2" stroke="#333" stroke-width="0.35"/>
<rect x="443.99" y="237.05" width="19.51" height="7.65" fill="#E8706A" stroke="#333" stroke-width="0.35"/>
<rect x="382.20" y="247.95" width="68.29" height="7.65" fill="#BBBAD9" stroke="#333" stroke-width="0.35"/>
<rect x="450.49" y="247.95" width="3.66" height="7.65" fill="#EEF3A8" stroke="#333" stroke-width="0.35"/>
<rect x="454.15" y="247.95" width="9.35" height="7.65" fill="#E8706A" stroke="#333" stroke-width="0.35"/>
<text x="376.60" y="242.85" font-size="7.3" text-anchor="end" fill="#222">Tumor</text>
<text x="376.60" y="253.75" font-size="7.3" text-anchor="end" fill="#222">Normal</text>
<line x1="376.90" y1="240.85" x2="378.30" y2="240.85" stroke="#555" stroke-width="0.5"/>
<line x1="376.90" y1="251.75" x2="378.30" y2="251.75" stroke="#555" stroke-width="0.5"/>
<line x1="382.20" y1="258.30" x2="382.20" y2="259.50" stroke="#555" stroke-width="0.5"/>
<text x="382.90" y="263.90" font-size="5.5" text-anchor="middle" fill="#333">0.00</text>
<line x1="402.52" y1="258.30" x2="402.52" y2="259.50" stroke="#555" stroke-width="0.5"/>
<text x="403.22" y="263.90" font-size="5.5" text-anchor="middle" fill="#333">0.25</text>
<line x1="422.85" y1="258.30" x2="422.85" y2="259.50" stroke="#555" stroke-width="0.5"/>
<text x="423.55" y="263.90" font-size="5.5" text-anchor="middle" fill="#333">0.50</text>
<line x1="443.18" y1="258.30" x2="443.18" y2="259.50" stroke="#555" stroke-width="0.5"/>
<text x="443.88" y="263.90" font-size="5.5" text-anchor="middle" fill="#333">0.75</text>
<line x1="463.50" y1="258.30" x2="463.50" y2="259.50" stroke="#555" stroke-width="0.5"/>
<text x="464.20" y="263.90" font-size="5.5" text-anchor="middle" fill="#333">1.00</text>
<text x="425.85" y="270.90" font-size="5.95" text-anchor="middle" fill="#222">Cell Type Percentage</text>
<rect x="470.20" y="234.30" width="4.20" height="4.40" fill="#E8706A" stroke="#999" stroke-width="0.3"/>
<text x="476.10" y="237.70" font-size="3.5" fill="#222">MARCO+ cells</text>
<rect x="470.20" y="238.70" width="4.20" height="4.40" fill="#8DD3C2" stroke="#999" stroke-width="0.3"/>
<text x="476.10" y="242.10" font-size="3.5" fill="#222">AXL+ cells</text>
<rect x="470.20" y="243.10" width="4.20" height="4.40" fill="#EEF3A8" stroke="#999" stroke-width="0.3"/>
<text x="476.10" y="246.50" font-size="3.5" fill="#222">FOLR2+ cells</text>
<rect x="470.20" y="247.50" width="4.20" height="4.40" fill="#BBBAD9" stroke="#999" stroke-width="0.3"/>
<text x="476.10" y="250.90" font-size="3.5" fill="#222">ATP5ME+ cells</text>
<text x="586.30" y="231.30" font-size="7.0" text-anchor="middle">STAD</text>
<rect x="533.30" y="234.30" width="89.00" height="24.00" fill="#fff" stroke="#9a9a9a" stroke-width="0.7"/>
<rect x="537.20" y="237.05" width="1.63" height="7.65" fill="#E9A45E" stroke="#333" stroke-width="0.35"/>
<rect x="538.83" y="237.05" width="17.89" height="7.65" fill="#BBBAD9" stroke="#333" stroke-width="0.35"/>
<rect x="556.71" y="237.05" width="21.95" height="7.65" fill="#EEF3A8" stroke="#333" stroke-width="0.35"/>
<rect x="578.66" y="237.05" width="22.76" height="7.65" fill="#8DD3C2" stroke="#333" stroke-width="0.35"/>
<rect x="601.43" y="237.05" width="17.07" height="7.65" fill="#E8706A" stroke="#333" stroke-width="0.35"/>
<rect x="537.20" y="247.95" width="4.88" height="7.65" fill="#E9A45E" stroke="#333" stroke-width="0.35"/>
<rect x="542.08" y="247.95" width="13.82" height="7.65" fill="#BBBAD9" stroke="#333" stroke-width="0.35"/>
<rect x="555.90" y="247.95" width="17.89" height="7.65" fill="#EEF3A8" stroke="#333" stroke-width="0.35"/>
<rect x="573.78" y="247.95" width="41.46" height="7.65" fill="#8DD3C2" stroke="#333" stroke-width="0.35"/>
<rect x="615.25" y="247.95" width="3.25" height="7.65" fill="#E8706A" stroke="#333" stroke-width="0.35"/>
<text x="531.60" y="242.85" font-size="7.3" text-anchor="end" fill="#222">Tumor</text>
<text x="531.60" y="253.75" font-size="7.3" text-anchor="end" fill="#222">Normal</text>
<line x1="531.90" y1="240.85" x2="533.30" y2="240.85" stroke="#555" stroke-width="0.5"/>
<line x1="531.90" y1="251.75" x2="533.30" y2="251.75" stroke="#555" stroke-width="0.5"/>
<line x1="537.20" y1="258.30" x2="537.20" y2="259.50" stroke="#555" stroke-width="0.5"/>
<text x="537.90" y="263.90" font-size="5.5" text-anchor="middle" fill="#333">0.00</text>
<line x1="557.52" y1="258.30" x2="557.52" y2="259.50" stroke="#555" stroke-width="0.5"/>
<text x="558.23" y="263.90" font-size="5.5" text-anchor="middle" fill="#333">0.25</text>
<line x1="577.85" y1="258.30" x2="577.85" y2="259.50" stroke="#555" stroke-width="0.5"/>
<text x="578.55" y="263.90" font-size="5.5" text-anchor="middle" fill="#333">0.50</text>
<line x1="598.17" y1="258.30" x2="598.17" y2="259.50" stroke="#555" stroke-width="0.5"/>
<text x="598.88" y="263.90" font-size="5.5" text-anchor="middle" fill="#333">0.75</text>
<line x1="618.50" y1="258.30" x2="618.50" y2="259.50" stroke="#555" stroke-width="0.5"/>
<text x="619.20" y="263.90" font-size="5.5" text-anchor="middle" fill="#333">1.00</text>
<text x="580.85" y="270.90" font-size="5.95" text-anchor="middle" fill="#222">Cell Type Percentage</text>
<rect x="625.20" y="234.30" width="4.20" height="4.40" fill="#E8706A" stroke="#999" stroke-width="0.3"/>
<text x="631.10" y="237.70" font-size="3.5" fill="#222">MARCO+ cells</text>
<rect x="625.20" y="238.70" width="4.20" height="4.40" fill="#8DD3C2" stroke="#999" stroke-width="0.3"/>
<text x="631.10" y="242.10" font-size="3.5" fill="#222">FOLR2+ cells</text>
<rect x="625.20" y="243.10" width="4.20" height="4.40" fill="#EEF3A8" stroke="#999" stroke-width="0.3"/>
<text x="631.10" y="246.50" font-size="3.5" fill="#222">IL1B+ cells</text>
<rect x="625.20" y="247.50" width="4.20" height="4.40" fill="#BBBAD9" stroke="#999" stroke-width="0.3"/>
<text x="631.10" y="250.90" font-size="3.5" fill="#222">ATP5MD+ cells</text>
<rect x="625.20" y="251.90" width="4.20" height="4.40" fill="#E9A45E" stroke="#999" stroke-width="0.3"/>
<text x="631.10" y="255.30" font-size="3.5" fill="#222">S100P+ cells</text>
<text x="425.10" y="286.20" font-size="7.0" text-anchor="middle">COAD</text>
<rect x="378.30" y="289.20" width="89.00" height="24.00" fill="#fff" stroke="#9a9a9a" stroke-width="0.7"/>
<rect x="382.20" y="291.95" width="10.57" height="7.65" fill="#E9A45E" stroke="#333" stroke-width="0.35"/>
<rect x="392.77" y="291.95" width="16.67" height="7.65" fill="#BBBAD9" stroke="#333" stroke-width="0.35"/>
<rect x="409.44" y="291.95" width="21.14" height="7.65" fill="#EEF3A8" stroke="#333" stroke-width="0.35"/>
<rect x="430.57" y="291.95" width="24.80" height="7.65" fill="#8DD3C2" stroke="#333" stroke-width="0.35"/>
<rect x="455.37" y="291.95" width="8.13" height="7.65" fill="#E8706A" stroke="#333" stroke-width="0.35"/>
<rect x="382.20" y="302.85" width="23.17" height="7.65" fill="#BBBAD9" stroke="#333" stroke-width="0.35"/>
<rect x="405.37" y="302.85" width="9.92" height="7.65" fill="#EEF3A8" stroke="#333" stroke-width="0.35"/>
<rect x="415.29" y="302.85" width="48.21" height="7.65" fill="#8DD3C2" stroke="#333" stroke-width="0.35"/>
<text x="376.60" y="297.75" font-size="7.3" text-anchor="end" fill="#222">Tumor</text>
<text x="376.60" y="308.65" font-size="7.3" text-anchor="end" fill="#222">Normal</text>
<line x1="376.90" y1="295.75" x2="378.30" y2="295.75" stroke="#555" stroke-width="0.5"/>
<line x1="376.90" y1="306.65" x2="378.30" y2="306.65" stroke="#555" stroke-width="0.5"/>
<line x1="382.20" y1="313.20" x2="382.20" y2="314.40" stroke="#555" stroke-width="0.5"/>
<text x="382.90" y="318.80" font-size="5.5" text-anchor="middle" fill="#333">0.00</text>
<line x1="402.52" y1="313.20" x2="402.52" y2="314.40" stroke="#555" stroke-width="0.5"/>
<text x="403.22" y="318.80" font-size="5.5" text-anchor="middle" fill="#333">0.25</text>
<line x1="422.85" y1="313.20" x2="422.85" y2="314.40" stroke="#555" stroke-width="0.5"/>
<text x="423.55" y="318.80" font-size="5.5" text-anchor="middle" fill="#333">0.50</text>
<line x1="443.18" y1="313.20" x2="443.18" y2="314.40" stroke="#555" stroke-width="0.5"/>
<text x="443.88" y="318.80" font-size="5.5" text-anchor="middle" fill="#333">0.75</text>
<line x1="463.50" y1="313.20" x2="463.50" y2="314.40" stroke="#555" stroke-width="0.5"/>
<text x="464.20" y="318.80" font-size="5.5" text-anchor="middle" fill="#333">1.00</text>
<text x="425.85" y="325.80" font-size="5.95" text-anchor="middle" fill="#222">Cell Type Percentage</text>
<rect x="470.20" y="289.20" width="4.20" height="4.40" fill="#E8706A" stroke="#999" stroke-width="0.3"/>
<text x="476.10" y="292.60" font-size="3.5" fill="#222">MARCO+ cells</text>
<rect x="470.20" y="293.60" width="4.20" height="4.40" fill="#8DD3C2" stroke="#999" stroke-width="0.3"/>
<text x="476.10" y="297.00" font-size="3.5" fill="#222">FOLR2+ cells</text>
<rect x="470.20" y="298.00" width="4.20" height="4.40" fill="#EEF3A8" stroke="#999" stroke-width="0.3"/>
<text x="476.10" y="301.40" font-size="3.5" fill="#222">IL1B+ cells</text>
<rect x="470.20" y="302.40" width="4.20" height="4.40" fill="#BBBAD9" stroke="#999" stroke-width="0.3"/>
<text x="476.10" y="305.80" font-size="3.5" fill="#222">CXCL10+ cells</text>
<rect x="470.20" y="306.80" width="4.20" height="4.40" fill="#E9A45E" stroke="#999" stroke-width="0.3"/>
<text x="476.10" y="310.20" font-size="3.5" fill="#222">HSP+ cells</text>
<text x="579.70" y="286.20" font-size="7.0" text-anchor="middle">NPC</text>
<rect x="533.30" y="289.20" width="89.00" height="24.00" fill="#fff" stroke="#9a9a9a" stroke-width="0.7"/>
<rect x="537.20" y="291.95" width="3.74" height="7.65" fill="#BBBAD9" stroke="#333" stroke-width="0.35"/>
<rect x="540.94" y="291.95" width="23.74" height="7.65" fill="#EEF3A8" stroke="#333" stroke-width="0.35"/>
<rect x="564.68" y="291.95" width="30.41" height="7.65" fill="#8DD3C2" stroke="#333" stroke-width="0.35"/>
<rect x="595.09" y="291.95" width="23.41" height="7.65" fill="#E8706A" stroke="#333" stroke-width="0.35"/>
<rect x="537.20" y="302.85" width="0.98" height="7.65" fill="#BBBAD9" stroke="#333" stroke-width="0.35"/>
<rect x="538.18" y="302.85" width="67.07" height="7.65" fill="#EEF3A8" stroke="#333" stroke-width="0.35"/>
<rect x="605.25" y="302.85" width="6.99" height="7.65" fill="#8DD3C2" stroke="#333" stroke-width="0.35"/>
<rect x="612.24" y="302.85" width="6.26" height="7.65" fill="#E8706A" stroke="#333" stroke-width="0.35"/>
<text x="531.60" y="297.75" font-size="7.3" text-anchor="end" fill="#222">Tumor</text>
<text x="531.60" y="308.65" font-size="7.3" text-anchor="end" fill="#222">Normal</text>
<line x1="531.90" y1="295.75" x2="533.30" y2="295.75" stroke="#555" stroke-width="0.5"/>
<line x1="531.90" y1="306.65" x2="533.30" y2="306.65" stroke="#555" stroke-width="0.5"/>
<line x1="537.20" y1="313.20" x2="537.20" y2="314.40" stroke="#555" stroke-width="0.5"/>
<text x="537.90" y="318.80" font-size="5.5" text-anchor="middle" fill="#333">0.00</text>
<line x1="557.52" y1="313.20" x2="557.52" y2="314.40" stroke="#555" stroke-width="0.5"/>
<text x="558.23" y="318.80" font-size="5.5" text-anchor="middle" fill="#333">0.25</text>
<line x1="577.85" y1="313.20" x2="577.85" y2="314.40" stroke="#555" stroke-width="0.5"/>
<text x="578.55" y="318.80" font-size="5.5" text-anchor="middle" fill="#333">0.50</text>
<line x1="598.17" y1="313.20" x2="598.17" y2="314.40" stroke="#555" stroke-width="0.5"/>
<text x="598.88" y="318.80" font-size="5.5" text-anchor="middle" fill="#333">0.75</text>
<line x1="618.50" y1="313.20" x2="618.50" y2="314.40" stroke="#555" stroke-width="0.5"/>
<text x="619.20" y="318.80" font-size="5.5" text-anchor="middle" fill="#333">1.00</text>
<text x="580.85" y="325.80" font-size="5.95" text-anchor="middle" fill="#222">Cell Type Percentage</text>
<rect x="625.20" y="289.20" width="4.20" height="4.40" fill="#E8706A" stroke="#999" stroke-width="0.3"/>
<text x="631.10" y="292.60" font-size="3.5" fill="#222">MARCO+ cells</text>
<rect x="625.20" y="293.60" width="4.20" height="4.40" fill="#8DD3C2" stroke="#999" stroke-width="0.3"/>
<text x="631.10" y="297.00" font-size="3.5" fill="#222">FOLR2+ cells</text>
<rect x="625.20" y="298.00" width="4.20" height="4.40" fill="#EEF3A8" stroke="#999" stroke-width="0.3"/>
<text x="631.10" y="301.40" font-size="3.5" fill="#222">PON2+ cells</text>
<rect x="625.20" y="302.40" width="4.20" height="4.40" fill="#BBBAD9" stroke="#999" stroke-width="0.3"/>
<text x="631.10" y="305.80" font-size="3.5" fill="#222">MKI67+ cells</text>
<text x="425.00" y="341.10" font-size="7.0" text-anchor="middle">GBM</text>
<rect x="378.30" y="344.10" width="89.00" height="24.00" fill="#fff" stroke="#9a9a9a" stroke-width="0.7"/>
<rect x="382.20" y="346.85" width="6.18" height="7.65" fill="#EEF3A8" stroke="#333" stroke-width="0.35"/>
<rect x="388.38" y="346.85" width="54.55" height="7.65" fill="#8DD3C2" stroke="#333" stroke-width="0.35"/>
<rect x="442.93" y="346.85" width="20.57" height="7.65" fill="#E8706A" stroke="#333" stroke-width="0.35"/>
<rect x="382.20" y="357.75" width="0.81" height="7.65" fill="#E9A45E" stroke="#333" stroke-width="0.35"/>
<rect x="383.01" y="357.75" width="78.05" height="7.65" fill="#8DD3C2" stroke="#333" stroke-width="0.35"/>
<rect x="461.06" y="357.75" width="2.44" height="7.65" fill="#E8706A" stroke="#333" stroke-width="0.35"/>
<text x="376.60" y="352.65" font-size="7.3" text-anchor="end" fill="#222">Tumor</text>
<text x="376.60" y="363.55" font-size="7.3" text-anchor="end" fill="#222">Normal</text>
<line x1="376.90" y1="350.65" x2="378.30" y2="350.65" stroke="#555" stroke-width="0.5"/>
<line x1="376.90" y1="361.55" x2="378.30" y2="361.55" stroke="#555" stroke-width="0.5"/>
<line x1="382.20" y1="368.10" x2="382.20" y2="369.30" stroke="#555" stroke-width="0.5"/>
<text x="382.90" y="373.70" font-size="5.5" text-anchor="middle" fill="#333">0.00</text>
<line x1="402.52" y1="368.10" x2="402.52" y2="369.30" stroke="#555" stroke-width="0.5"/>
<text x="403.22" y="373.70" font-size="5.5" text-anchor="middle" fill="#333">0.25</text>
<line x1="422.85" y1="368.10" x2="422.85" y2="369.30" stroke="#555" stroke-width="0.5"/>
<text x="423.55" y="373.70" font-size="5.5" text-anchor="middle" fill="#333">0.50</text>
<line x1="443.18" y1="368.10" x2="443.18" y2="369.30" stroke="#555" stroke-width="0.5"/>
<text x="443.88" y="373.70" font-size="5.5" text-anchor="middle" fill="#333">0.75</text>
<line x1="463.50" y1="368.10" x2="463.50" y2="369.30" stroke="#555" stroke-width="0.5"/>
<text x="464.20" y="373.70" font-size="5.5" text-anchor="middle" fill="#333">1.00</text>
<text x="425.85" y="380.70" font-size="5.95" text-anchor="middle" fill="#222">Cell Type Percentage</text>
<rect x="470.20" y="344.10" width="4.20" height="4.40" fill="#E8706A" stroke="#999" stroke-width="0.3"/>
<text x="476.10" y="347.50" font-size="3.5" fill="#222">MARCO+ cells</text>
<rect x="470.20" y="348.50" width="4.20" height="4.40" fill="#8DD3C2" stroke="#999" stroke-width="0.3"/>
<text x="476.10" y="351.90" font-size="3.5" fill="#222">FOLR2+ cells</text>
<rect x="470.20" y="352.90" width="4.20" height="4.40" fill="#EEF3A8" stroke="#999" stroke-width="0.3"/>
<text x="476.10" y="356.30" font-size="3.5" fill="#222">MKI67+ cells</text>
<rect x="470.20" y="357.30" width="4.20" height="4.40" fill="#BBBAD9" stroke="#999" stroke-width="0.3"/>
<text x="476.10" y="360.70" font-size="3.5" fill="#222">SPP1+ cells</text>
<text x="577.00" y="341.10" font-size="7.0" text-anchor="middle">LUAD</text>
<rect x="533.30" y="344.10" width="89.00" height="24.00" fill="#fff" stroke="#9a9a9a" stroke-width="0.7"/>
<rect x="537.20" y="346.85" width="5.45" height="7.65" fill="#E9A45E" stroke="#333" stroke-width="0.35"/>
<rect x="542.65" y="346.85" width="5.12" height="7.65" fill="#BBBAD9" stroke="#333" stroke-width="0.35"/>
<rect x="547.77" y="346.85" width="16.50" height="7.65" fill="#EEF3A8" stroke="#333" stroke-width="0.35"/>
<rect x="564.27" y="346.85" width="15.85" height="7.65" fill="#8DD3C2" stroke="#333" stroke-width="0.35"/>
<rect x="580.13" y="346.85" width="38.37" height="7.65" fill="#E8706A" stroke="#333" stroke-width="0.35"/>
<rect x="537.20" y="357.75" width="10.89" height="7.65" fill="#E9A45E" stroke="#333" stroke-width="0.35"/>
<rect x="548.09" y="357.75" width="28.37" height="7.65" fill="#BBBAD9" stroke="#333" stroke-width="0.35"/>
<rect x="576.47" y="357.75" width="3.98" height="7.65" fill="#EEF3A8" stroke="#333" stroke-width="0.35"/>
<rect x="580.45" y="357.75" width="25.04" height="7.65" fill="#8DD3C2" stroke="#333" stroke-width="0.35"/>
<rect x="605.49" y="357.75" width="13.01" height="7.65" fill="#E8706A" stroke="#333" stroke-width="0.35"/>
<text x="531.60" y="352.65" font-size="7.3" text-anchor="end" fill="#222">Tumor</text>
<text x="531.60" y="363.55" font-size="7.3" text-anchor="end" fill="#222">Normal</text>
<line x1="531.90" y1="350.65" x2="533.30" y2="350.65" stroke="#555" stroke-width="0.5"/>
<line x1="531.90" y1="361.55" x2="533.30" y2="361.55" stroke="#555" stroke-width="0.5"/>
<line x1="537.20" y1="368.10" x2="537.20" y2="369.30" stroke="#555" stroke-width="0.5"/>
<text x="537.90" y="373.70" font-size="5.5" text-anchor="middle" fill="#333">0.00</text>
<line x1="557.52" y1="368.10" x2="557.52" y2="369.30" stroke="#555" stroke-width="0.5"/>
<text x="558.23" y="373.70" font-size="5.5" text-anchor="middle" fill="#333">0.25</text>
<line x1="577.85" y1="368.10" x2="577.85" y2="369.30" stroke="#555" stroke-width="0.5"/>
<text x="578.55" y="373.70" font-size="5.5" text-anchor="middle" fill="#333">0.50</text>
<line x1="598.17" y1="368.10" x2="598.17" y2="369.30" stroke="#555" stroke-width="0.5"/>
<text x="598.88" y="373.70" font-size="5.5" text-anchor="middle" fill="#333">0.75</text>
<line x1="618.50" y1="368.10" x2="618.50" y2="369.30" stroke="#555" stroke-width="0.5"/>
<text x="619.20" y="373.70" font-size="5.5" text-anchor="middle" fill="#333">1.00</text>
<text x="580.85" y="380.70" font-size="5.95" text-anchor="middle" fill="#222">Cell Type Percentage</text>
<rect x="625.20" y="344.10" width="4.20" height="4.40" fill="#E8706A" stroke="#999" stroke-width="0.3"/>
<text x="631.10" y="347.50" font-size="3.5" fill="#222">MARCO+ cells</text>
<rect x="625.20" y="348.50" width="4.20" height="4.40" fill="#8DD3C2" stroke="#999" stroke-width="0.3"/>
<text x="631.10" y="351.90" font-size="3.5" fill="#222">IL1B+ cells</text>
<rect x="625.20" y="352.90" width="4.20" height="4.40" fill="#EEF3A8" stroke="#999" stroke-width="0.3"/>
<text x="631.10" y="356.30" font-size="3.5" fill="#222">FOLR2+ cells</text>
<rect x="625.20" y="357.30" width="4.20" height="4.40" fill="#BBBAD9" stroke="#999" stroke-width="0.3"/>
<text x="631.10" y="360.70" font-size="3.5" fill="#222">FAM26F+ cells</text>
<rect x="625.20" y="361.70" width="4.20" height="4.40" fill="#E9A45E" stroke="#999" stroke-width="0.3"/>
<text x="631.10" y="365.10" font-size="3.5" fill="#222">SPP1+ cells</text>
<text x="425.20" y="396.00" font-size="7.0" text-anchor="middle">ESCA</text>
<rect x="378.30" y="399.00" width="89.00" height="24.00" fill="#fff" stroke="#9a9a9a" stroke-width="0.7"/>
<rect x="382.20" y="401.75" width="1.30" height="7.65" fill="#E9A45E" stroke="#333" stroke-width="0.35"/>
<rect x="383.50" y="401.75" width="4.39" height="7.65" fill="#BBBAD9" stroke="#333" stroke-width="0.35"/>
<rect x="387.89" y="401.75" width="6.67" height="7.65" fill="#EEF3A8" stroke="#333" stroke-width="0.35"/>
<rect x="394.56" y="401.75" width="16.91" height="7.65" fill="#8DD3C2" stroke="#333" stroke-width="0.35"/>
<rect x="411.47" y="401.75" width="52.03" height="7.65" fill="#E8706A" stroke="#333" stroke-width="0.35"/>
<rect x="382.20" y="412.65" width="6.67" height="7.65" fill="#E9A45E" stroke="#333" stroke-width="0.35"/>
<rect x="388.87" y="412.65" width="1.63" height="7.65" fill="#6E6A6A" stroke="#333" stroke-width="0.35"/>
<rect x="390.49" y="412.65" width="46.99" height="7.65" fill="#8DD3C2" stroke="#333" stroke-width="0.35"/>
<rect x="437.48" y="412.65" width="26.02" height="7.65" fill="#E8706A" stroke="#333" stroke-width="0.35"/>
<text x="376.60" y="407.55" font-size="7.3" text-anchor="end" fill="#222">Tumor</text>
<text x="376.60" y="418.45" font-size="7.3" text-anchor="end" fill="#222">Normal</text>
<line x1="376.90" y1="405.55" x2="378.30" y2="405.55" stroke="#555" stroke-width="0.5"/>
<line x1="376.90" y1="416.45" x2="378.30" y2="416.45" stroke="#555" stroke-width="0.5"/>
<line x1="382.20" y1="423.00" x2="382.20" y2="424.20" stroke="#555" stroke-width="0.5"/>
<text x="382.90" y="428.60" font-size="5.5" text-anchor="middle" fill="#333">0.00</text>
<line x1="402.52" y1="423.00" x2="402.52" y2="424.20" stroke="#555" stroke-width="0.5"/>
<text x="403.22" y="428.60" font-size="5.5" text-anchor="middle" fill="#333">0.25</text>
<line x1="422.85" y1="423.00" x2="422.85" y2="424.20" stroke="#555" stroke-width="0.5"/>
<text x="423.55" y="428.60" font-size="5.5" text-anchor="middle" fill="#333">0.50</text>
<line x1="443.18" y1="423.00" x2="443.18" y2="424.20" stroke="#555" stroke-width="0.5"/>
<text x="443.88" y="428.60" font-size="5.5" text-anchor="middle" fill="#333">0.75</text>
<line x1="463.50" y1="423.00" x2="463.50" y2="424.20" stroke="#555" stroke-width="0.5"/>
<text x="464.20" y="428.60" font-size="5.5" text-anchor="middle" fill="#333">1.00</text>
<text x="425.85" y="435.60" font-size="5.95" text-anchor="middle" fill="#222">Cell Type Percentage</text>
<rect x="470.20" y="399.00" width="4.20" height="4.40" fill="#E8706A" stroke="#999" stroke-width="0.3"/>
<text x="476.10" y="402.40" font-size="3.5" fill="#222">MARCO+ cells</text>
<rect x="470.20" y="403.40" width="4.20" height="4.40" fill="#8DD3C2" stroke="#999" stroke-width="0.3"/>
<text x="476.10" y="406.80" font-size="3.5" fill="#222">IL1B+ cells</text>
<rect x="470.20" y="407.80" width="4.20" height="4.40" fill="#EEF3A8" stroke="#999" stroke-width="0.3"/>
<text x="476.10" y="411.20" font-size="3.5" fill="#222">MKI67+ cells</text>
<rect x="470.20" y="412.20" width="4.20" height="4.40" fill="#BBBAD9" stroke="#999" stroke-width="0.3"/>
<text x="476.10" y="415.60" font-size="3.5" fill="#222">CCL3+ cells</text>
<rect x="470.20" y="416.60" width="4.20" height="4.40" fill="#E9A45E" stroke="#999" stroke-width="0.3"/>
<text x="476.10" y="420.00" font-size="3.5" fill="#222">SPN+ cells</text>
<text x="580.20" y="396.00" font-size="7.0" text-anchor="middle">PRAD</text>
<rect x="533.30" y="399.00" width="89.00" height="24.00" fill="#fff" stroke="#9a9a9a" stroke-width="0.7"/>
<rect x="537.20" y="401.75" width="5.61" height="7.65" fill="#BBBAD9" stroke="#333" stroke-width="0.35"/>
<rect x="542.81" y="401.75" width="16.99" height="7.65" fill="#EEF3A8" stroke="#333" stroke-width="0.35"/>
<rect x="559.80" y="401.75" width="15.69" height="7.65" fill="#8DD3C2" stroke="#333" stroke-width="0.35"/>
<rect x="575.49" y="401.75" width="43.01" height="7.65" fill="#E8706A" stroke="#333" stroke-width="0.35"/>
<rect x="537.20" y="412.65" width="3.66" height="7.65" fill="#BBBAD9" stroke="#333" stroke-width="0.35"/>
<rect x="540.86" y="412.65" width="13.50" height="7.65" fill="#EEF3A8" stroke="#333" stroke-width="0.35"/>
<rect x="554.35" y="412.65" width="23.82" height="7.65" fill="#8DD3C2" stroke="#333" stroke-width="0.35"/>
<rect x="578.18" y="412.65" width="40.32" height="7.65" fill="#E8706A" stroke="#333" stroke-width="0.35"/>
<text x="531.60" y="407.55" font-size="7.3" text-anchor="end" fill="#222">Tumor</text>
<text x="531.60" y="418.45" font-size="7.3" text-anchor="end" fill="#222">Normal</text>
<line x1="531.90" y1="405.55" x2="533.30" y2="405.55" stroke="#555" stroke-width="0.5"/>
<line x1="531.90" y1="416.45" x2="533.30" y2="416.45" stroke="#555" stroke-width="0.5"/>
<line x1="537.20" y1="423.00" x2="537.20" y2="424.20" stroke="#555" stroke-width="0.5"/>
<text x="537.90" y="428.60" font-size="5.5" text-anchor="middle" fill="#333">0.00</text>
<line x1="557.52" y1="423.00" x2="557.52" y2="424.20" stroke="#555" stroke-width="0.5"/>
<text x="558.23" y="428.60" font-size="5.5" text-anchor="middle" fill="#333">0.25</text>
<line x1="577.85" y1="423.00" x2="577.85" y2="424.20" stroke="#555" stroke-width="0.5"/>
<text x="578.55" y="428.60" font-size="5.5" text-anchor="middle" fill="#333">0.50</text>
<line x1="598.17" y1="423.00" x2="598.17" y2="424.20" stroke="#555" stroke-width="0.5"/>
<text x="598.88" y="428.60" font-size="5.5" text-anchor="middle" fill="#333">0.75</text>
<line x1="618.50" y1="423.00" x2="618.50" y2="424.20" stroke="#555" stroke-width="0.5"/>
<text x="619.20" y="428.60" font-size="5.5" text-anchor="middle" fill="#333">1.00</text>
<text x="580.85" y="435.60" font-size="5.95" text-anchor="middle" fill="#222">Cell Type Percentage</text>
<rect x="625.20" y="399.00" width="4.20" height="4.40" fill="#E8706A" stroke="#999" stroke-width="0.3"/>
<text x="631.10" y="402.40" font-size="3.5" fill="#222">MARCO+ cells</text>
<rect x="625.20" y="403.40" width="4.20" height="4.40" fill="#8DD3C2" stroke="#999" stroke-width="0.3"/>
<text x="631.10" y="406.80" font-size="3.5" fill="#222">AXL+ cells</text>
<rect x="625.20" y="407.80" width="4.20" height="4.40" fill="#EEF3A8" stroke="#999" stroke-width="0.3"/>
<text x="631.10" y="411.20" font-size="3.5" fill="#222">APOE+ cells</text>
<rect x="625.20" y="412.20" width="4.20" height="4.40" fill="#BBBAD9" stroke="#999" stroke-width="0.3"/>
<text x="631.10" y="415.60" font-size="3.5" fill="#222">ITGA4+ cells</text>
<text x="425.20" y="450.90" font-size="7.0" text-anchor="middle">CHOL</text>
<rect x="378.30" y="453.90" width="89.00" height="24.00" fill="#fff" stroke="#9a9a9a" stroke-width="0.7"/>
<rect x="382.20" y="456.65" width="0.98" height="7.65" fill="#E9A45E" stroke="#333" stroke-width="0.35"/>
<rect x="383.18" y="456.65" width="10.08" height="7.65" fill="#BBBAD9" stroke="#333" stroke-width="0.35"/>
<rect x="393.26" y="456.65" width="16.91" height="7.65" fill="#EEF3A8" stroke="#333" stroke-width="0.35"/>
<rect x="410.17" y="456.65" width="26.10" height="7.65" fill="#8DD3C2" stroke="#333" stroke-width="0.35"/>
<rect x="436.26" y="456.65" width="27.24" height="7.65" fill="#E8706A" stroke="#333" stroke-width="0.35"/>
<rect x="382.20" y="467.55" width="2.44" height="7.65" fill="#E9A45E" stroke="#333" stroke-width="0.35"/>
<rect x="384.64" y="467.55" width="11.95" height="7.65" fill="#BBBAD9" stroke="#333" stroke-width="0.35"/>
<rect x="396.59" y="467.55" width="22.76" height="7.65" fill="#EEF3A8" stroke="#333" stroke-width="0.35"/>
<rect x="419.35" y="467.55" width="20.41" height="7.65" fill="#8DD3C2" stroke="#333" stroke-width="0.35"/>
<rect x="439.76" y="467.55" width="23.74" height="7.65" fill="#E8706A" stroke="#333" stroke-width="0.35"/>
<text x="376.60" y="462.45" font-size="7.3" text-anchor="end" fill="#222">Tumor</text>
<text x="376.60" y="473.35" font-size="7.3" text-anchor="end" fill="#222">Normal</text>
<line x1="376.90" y1="460.45" x2="378.30" y2="460.45" stroke="#555" stroke-width="0.5"/>
<line x1="376.90" y1="471.35" x2="378.30" y2="471.35" stroke="#555" stroke-width="0.5"/>
<line x1="382.20" y1="477.90" x2="382.20" y2="479.10" stroke="#555" stroke-width="0.5"/>
<text x="382.90" y="483.50" font-size="5.5" text-anchor="middle" fill="#333">0.00</text>
<line x1="402.52" y1="477.90" x2="402.52" y2="479.10" stroke="#555" stroke-width="0.5"/>
<text x="403.22" y="483.50" font-size="5.5" text-anchor="middle" fill="#333">0.25</text>
<line x1="422.85" y1="477.90" x2="422.85" y2="479.10" stroke="#555" stroke-width="0.5"/>
<text x="423.55" y="483.50" font-size="5.5" text-anchor="middle" fill="#333">0.50</text>
<line x1="443.18" y1="477.90" x2="443.18" y2="479.10" stroke="#555" stroke-width="0.5"/>
<text x="443.88" y="483.50" font-size="5.5" text-anchor="middle" fill="#333">0.75</text>
<line x1="463.50" y1="477.90" x2="463.50" y2="479.10" stroke="#555" stroke-width="0.5"/>
<text x="464.20" y="483.50" font-size="5.5" text-anchor="middle" fill="#333">1.00</text>
<text x="425.85" y="490.50" font-size="5.95" text-anchor="middle" fill="#222">Cell Type Percentage</text>
<rect x="470.20" y="453.90" width="4.20" height="4.40" fill="#E8706A" stroke="#999" stroke-width="0.3"/>
<text x="476.10" y="457.30" font-size="3.5" fill="#222">MARCO+ cells</text>
<rect x="470.20" y="458.30" width="4.20" height="4.40" fill="#8DD3C2" stroke="#999" stroke-width="0.3"/>
<text x="476.10" y="461.70" font-size="3.5" fill="#222">MRC1+ cells</text>
<rect x="470.20" y="462.70" width="4.20" height="4.40" fill="#EEF3A8" stroke="#999" stroke-width="0.3"/>
<text x="476.10" y="466.10" font-size="3.5" fill="#222">ATF+ cells</text>
<rect x="470.20" y="467.10" width="4.20" height="4.40" fill="#BBBAD9" stroke="#999" stroke-width="0.3"/>
<text x="476.10" y="470.50" font-size="3.5" fill="#222">CCL3+ cells</text>
<rect x="470.20" y="471.50" width="4.20" height="4.40" fill="#E9A45E" stroke="#999" stroke-width="0.3"/>
<text x="476.10" y="474.90" font-size="3.5" fill="#222">IL1B+ cells</text>
<text x="579.70" y="450.90" font-size="7.0" text-anchor="middle">KIRC</text>
<rect x="533.30" y="453.90" width="89.00" height="24.00" fill="#fff" stroke="#9a9a9a" stroke-width="0.7"/>
<rect x="537.20" y="456.65" width="8.70" height="7.65" fill="#E9A45E" stroke="#333" stroke-width="0.35"/>
<rect x="545.90" y="456.65" width="9.51" height="7.65" fill="#BBBAD9" stroke="#333" stroke-width="0.35"/>
<rect x="555.41" y="456.65" width="13.50" height="7.65" fill="#EEF3A8" stroke="#333" stroke-width="0.35"/>
<rect x="568.91" y="456.65" width="16.99" height="7.65" fill="#8DD3C2" stroke="#333" stroke-width="0.35"/>
<rect x="585.90" y="456.65" width="32.60" height="7.65" fill="#E8706A" stroke="#333" stroke-width="0.35"/>
<rect x="537.20" y="467.55" width="7.40" height="7.65" fill="#E9A45E" stroke="#333" stroke-width="0.35"/>
<rect x="544.60" y="467.55" width="14.31" height="7.65" fill="#BBBAD9" stroke="#333" stroke-width="0.35"/>
<rect x="558.91" y="467.55" width="16.67" height="7.65" fill="#EEF3A8" stroke="#333" stroke-width="0.35"/>
<rect x="575.57" y="467.55" width="27.72" height="7.65" fill="#8DD3C2" stroke="#333" stroke-width="0.35"/>
<rect x="603.30" y="467.55" width="15.20" height="7.65" fill="#E8706A" stroke="#333" stroke-width="0.35"/>
<text x="531.60" y="462.45" font-size="7.3" text-anchor="end" fill="#222">Tumor</text>
<text x="531.60" y="473.35" font-size="7.3" text-anchor="end" fill="#222">Normal</text>
<line x1="531.90" y1="460.45" x2="533.30" y2="460.45" stroke="#555" stroke-width="0.5"/>
<line x1="531.90" y1="471.35" x2="533.30" y2="471.35" stroke="#555" stroke-width="0.5"/>
<line x1="537.20" y1="477.90" x2="537.20" y2="479.10" stroke="#555" stroke-width="0.5"/>
<text x="537.90" y="483.50" font-size="5.5" text-anchor="middle" fill="#333">0.00</text>
<line x1="557.52" y1="477.90" x2="557.52" y2="479.10" stroke="#555" stroke-width="0.5"/>
<text x="558.23" y="483.50" font-size="5.5" text-anchor="middle" fill="#333">0.25</text>
<line x1="577.85" y1="477.90" x2="577.85" y2="479.10" stroke="#555" stroke-width="0.5"/>
<text x="578.55" y="483.50" font-size="5.5" text-anchor="middle" fill="#333">0.50</text>
<line x1="598.17" y1="477.90" x2="598.17" y2="479.10" stroke="#555" stroke-width="0.5"/>
<text x="598.88" y="483.50" font-size="5.5" text-anchor="middle" fill="#333">0.75</text>
<line x1="618.50" y1="477.90" x2="618.50" y2="479.10" stroke="#555" stroke-width="0.5"/>
<text x="619.20" y="483.50" font-size="5.5" text-anchor="middle" fill="#333">1.00</text>
<text x="580.85" y="490.50" font-size="5.95" text-anchor="middle" fill="#222">Cell Type Percentage</text>
<rect x="625.20" y="453.90" width="4.20" height="4.40" fill="#E8706A" stroke="#999" stroke-width="0.3"/>
<text x="631.10" y="457.30" font-size="3.5" fill="#222">MARCO+ cells</text>
<rect x="625.20" y="458.30" width="4.20" height="4.40" fill="#8DD3C2" stroke="#999" stroke-width="0.3"/>
<text x="631.10" y="461.70" font-size="3.5" fill="#222">FOLR2+ cells</text>
<rect x="625.20" y="462.70" width="4.20" height="4.40" fill="#EEF3A8" stroke="#999" stroke-width="0.3"/>
<text x="631.10" y="466.10" font-size="3.5" fill="#222">ITGAL+ cells</text>
<rect x="625.20" y="467.10" width="4.20" height="4.40" fill="#BBBAD9" stroke="#999" stroke-width="0.3"/>
<text x="631.10" y="470.50" font-size="3.5" fill="#222">SPP1+ cells</text>
<rect x="625.20" y="471.50" width="4.20" height="4.40" fill="#E9A45E" stroke="#999" stroke-width="0.3"/>
<text x="631.10" y="474.90" font-size="3.5" fill="#222">IL1B+ cells</text>
<text x="11.60" y="529.20" font-size="11.8" font-weight="bold">E</text>
<text x="175.90" y="537.90" font-size="9.28">GSEA Pathway Enrichment (MARCO+ vs MARCO-) Across Cancer Types</text>
<text x="78.90" y="556.00" font-size="7.0" text-anchor="middle">SKCM</text>
<rect x="74.60" y="561.10" width="46.40" height="2.95" fill="#B94A3A" stroke="#4a2019" stroke-width="0.45"/>
<text transform="translate(72.50 563.55) scale(1 1.15)" font-size="2.3" text-anchor="end" fill="#4a4a4a">TNFA_SIGNALING_VIA_NFKB</text>
<rect x="74.60" y="564.96" width="38.40" height="2.95" fill="#B94A3A" stroke="#4a2019" stroke-width="0.45"/>
<text transform="translate(72.50 567.41) scale(1 1.15)" font-size="2.3" text-anchor="end" fill="#4a4a4a">INFLAMMATORY_RESPONSE</text>
<rect x="74.60" y="568.81" width="36.40" height="2.95" fill="#B94A3A" stroke="#4a2019" stroke-width="0.45"/>
<text transform="translate(72.50 571.26) scale(1 1.15)" font-size="2.3" text-anchor="end" fill="#4a4a4a">ACUTE_INFLAMMATORY_RESPONSE</text>
<rect x="74.60" y="572.67" width="36.40" height="2.95" fill="#B94A3A" stroke="#4a2019" stroke-width="0.45"/>
<text transform="translate(72.50 575.12) scale(1 1.15)" font-size="2.3" text-anchor="end" fill="#4a4a4a">HYPOXIA</text>
<rect x="74.60" y="576.52" width="32.10" height="2.95" fill="#B94A3A" stroke="#4a2019" stroke-width="0.45"/>
<text transform="translate(72.50 578.97) scale(1 1.15)" font-size="2.3" text-anchor="end" fill="#4a4a4a">ANGIOGENESIS</text>
<rect x="74.60" y="580.38" width="31.10" height="2.95" fill="#B94A3A" stroke="#4a2019" stroke-width="0.45"/>
<text transform="translate(72.50 582.83) scale(1 1.15)" font-size="2.3" text-anchor="end" fill="#4a4a4a">EPITHELIAL_MESENCHYMAL_TRANSITION</text>
<rect x="74.60" y="584.23" width="30.40" height="2.95" fill="#B94A3A" stroke="#4a2019" stroke-width="0.45"/>
<text transform="translate(72.50 586.68) scale(1 1.15)" font-size="2.3" text-anchor="end" fill="#4a4a4a">KRAS_SIGNALING_UP</text>
<rect x="74.60" y="588.09" width="30.20" height="2.95" fill="#B94A3A" stroke="#4a2019" stroke-width="0.45"/>
<text transform="translate(72.50 590.54) scale(1 1.15)" font-size="2.3" text-anchor="end" fill="#4a4a4a">ACUTE_PHASE_RESPONSE</text>
<rect x="74.60" y="591.94" width="26.20" height="2.95" fill="#B94A3A" stroke="#4a2019" stroke-width="0.45"/>
<text transform="translate(72.50 594.39) scale(1 1.15)" font-size="2.3" text-anchor="end" fill="#4a4a4a">COMPLEMENT</text>
<rect x="74.60" y="595.80" width="26.20" height="2.95" fill="#B94A3A" stroke="#4a2019" stroke-width="0.45"/>
<text transform="translate(72.50 598.25) scale(1 1.15)" font-size="2.3" text-anchor="end" fill="#4a4a4a">APOPTOSIS</text>
<rect x="74.60" y="599.65" width="25.30" height="2.95" fill="#B94A3A" stroke="#4a2019" stroke-width="0.45"/>
<text transform="translate(72.50 602.10) scale(1 1.15)" font-size="2.3" text-anchor="end" fill="#4a4a4a">ACTIVATION_OF_CYTOKINE_TYPE_ENDOPEPTIDASE_ACTIV...</text>
<rect x="74.60" y="603.50" width="25.30" height="2.95" fill="#B94A3A" stroke="#4a2019" stroke-width="0.45"/>
<text transform="translate(72.50 605.96) scale(1 1.15)" font-size="2.3" text-anchor="end" fill="#4a4a4a">UV_RESPONSE_UP</text>
<rect x="74.60" y="607.36" width="24.90" height="2.95" fill="#B94A3A" stroke="#4a2019" stroke-width="0.45"/>
<text transform="translate(72.50 609.81) scale(1 1.15)" font-size="2.3" text-anchor="end" fill="#4a4a4a">ARACHIDONIC_METABOLIC_PROCESS</text>
<rect x="74.60" y="611.22" width="24.90" height="2.95" fill="#B94A3A" stroke="#4a2019" stroke-width="0.45"/>
<text transform="translate(72.50 613.67) scale(1 1.15)" font-size="2.3" text-anchor="end" fill="#4a4a4a">UDP_METABOLIC_PROCESS</text>
<rect x="74.60" y="615.07" width="24.10" height="2.95" fill="#B94A3A" stroke="#4a2019" stroke-width="0.45"/>
<text transform="translate(72.50 617.52) scale(1 1.15)" font-size="2.3" text-anchor="end" fill="#4a4a4a">ADENYLATE_CYCLASE_MODULATING_G_PROTEIN_COUPLED_...</text>
<rect x="74.60" y="618.93" width="22.10" height="2.95" fill="#B94A3A" stroke="#4a2019" stroke-width="0.45"/>
<text transform="translate(72.50 621.38) scale(1 1.15)" font-size="2.3" text-anchor="end" fill="#4a4a4a">ANATOMICAL_STRUCTURE_FORMATION_INVOLVED_IN_MORP...</text>
<rect x="74.60" y="622.78" width="22.10" height="2.95" fill="#B94A3A" stroke="#4a2019" stroke-width="0.45"/>
<text transform="translate(72.50 625.23) scale(1 1.15)" font-size="2.3" text-anchor="end" fill="#4a4a4a">GLYCOLYSIS</text>
<rect x="74.60" y="626.63" width="22.10" height="2.95" fill="#B94A3A" stroke="#4a2019" stroke-width="0.45"/>
<text transform="translate(72.50 629.09) scale(1 1.15)" font-size="2.3" text-anchor="end" fill="#4a4a4a">ACTIN_FILAMENT_BASED_TRANSPORT</text>
<rect x="55.60" y="630.49" width="19.00" height="2.95" fill="#4777BD" stroke="#1c2e4a" stroke-width="0.45"/>
<text transform="translate(76.70 632.94) scale(1 1.15)" font-size="2.3" fill="#4a4a4a">ACTIN_FILAMENT_DEPOLYMERIZATION</text>
<rect x="55.60" y="634.35" width="19.00" height="2.95" fill="#4777BD" stroke="#1c2e4a" stroke-width="0.45"/>
<text transform="translate(76.70 636.80) scale(1 1.15)" font-size="2.3" fill="#4a4a4a">AMPA_GLUTAMATE_RECEPTOR_CLUSTERING</text>
<rect x="53.50" y="638.20" width="21.10" height="2.95" fill="#4777BD" stroke="#1c2e4a" stroke-width="0.45"/>
<text transform="translate(76.70 640.65) scale(1 1.15)" font-size="2.3" fill="#4a4a4a">MYC_TARGETS_V1</text>
<rect x="52.50" y="642.06" width="22.10" height="2.95" fill="#4777BD" stroke="#1c2e4a" stroke-width="0.45"/>
<text transform="translate(76.70 644.51) scale(1 1.15)" font-size="2.3" fill="#4a4a4a">ALPHA_AMINO_ACID_METABOLIC_PROCESS</text>
<rect x="51.50" y="645.91" width="23.10" height="2.95" fill="#4777BD" stroke="#1c2e4a" stroke-width="0.45"/>
<text transform="translate(76.70 648.36) scale(1 1.15)" font-size="2.3" fill="#4a4a4a">XENOBIOTIC_METABOLISM</text>
<rect x="51.10" y="649.76" width="23.50" height="2.95" fill="#4777BD" stroke="#1c2e4a" stroke-width="0.45"/>
<text transform="translate(76.70 652.22) scale(1 1.15)" font-size="2.3" fill="#4a4a4a">AMYLOID_FIBRIL_FORMATION</text>
<rect x="50.10" y="653.62" width="24.50" height="2.95" fill="#4777BD" stroke="#1c2e4a" stroke-width="0.45"/>
<text transform="translate(76.70 656.07) scale(1 1.15)" font-size="2.3" fill="#4a4a4a">AEROBIC_RESPIRATION</text>
<rect x="49.50" y="657.48" width="25.10" height="2.95" fill="#4777BD" stroke="#1c2e4a" stroke-width="0.45"/>
<text transform="translate(76.70 659.93) scale(1 1.15)" font-size="2.3" fill="#4a4a4a">OXIDATIVE_PHOSPHORYLATION</text>
<rect x="47.60" y="661.33" width="27.00" height="2.95" fill="#4777BD" stroke="#1c2e4a" stroke-width="0.45"/>
<text transform="translate(76.70 663.78) scale(1 1.15)" font-size="2.3" fill="#4a4a4a">ALCOHOL_BIOSYNTHETIC_PROCESS</text>
<rect x="47.40" y="665.19" width="27.20" height="2.95" fill="#4777BD" stroke="#1c2e4a" stroke-width="0.45"/>
<text transform="translate(76.70 667.64) scale(1 1.15)" font-size="2.3" fill="#4a4a4a">ADAPTIVE_IMMUNE_RESPONSE</text>
<rect x="44.30" y="669.04" width="30.30" height="2.95" fill="#4777BD" stroke="#1c2e4a" stroke-width="0.45"/>
<text transform="translate(76.70 671.49) scale(1 1.15)" font-size="2.3" fill="#4a4a4a">ADAPTIVE_IMMUNE_RESPONSE_BASED_ON_SOMATIC_RECOM...</text>
<rect x="44.30" y="672.89" width="30.30" height="2.95" fill="#4777BD" stroke="#1c2e4a" stroke-width="0.45"/>
<text transform="translate(76.70 675.35) scale(1 1.15)" font-size="2.3" fill="#4a4a4a">ALCOHOL_METABOLIC_PROCESS</text>
<line x1="17.40" y1="676.50" x2="135.90" y2="676.50" stroke="#555" stroke-width="0.8"/>
<line x1="47.60" y1="676.50" x2="47.60" y2="677.50" stroke="#555" stroke-width="0.5"/>
<text x="47.60" y="682.80" font-size="5.8" text-anchor="middle" fill="#444">−2</text>
<line x1="75.20" y1="676.50" x2="75.20" y2="677.50" stroke="#555" stroke-width="0.5"/>
<text x="75.20" y="682.80" font-size="5.8" text-anchor="middle" fill="#444">0</text>
<line x1="104.20" y1="676.50" x2="104.20" y2="677.50" stroke="#555" stroke-width="0.5"/>
<text x="104.20" y="682.80" font-size="5.8" text-anchor="middle" fill="#444">2</text>
<text x="76.65" y="689.60" font-size="6.97" text-anchor="middle">Normalized Enrichment Score (NES)</text>
<text x="216.90" y="556.00" font-size="7.0" text-anchor="middle">STAD</text>
<rect x="213.00" y="561.10" width="46.10" height="2.95" fill="#B94A3A" stroke="#4a2019" stroke-width="0.45"/>
<text transform="translate(210.90 563.55) scale(1 1.15)" font-size="2.3" text-anchor="end" fill="#4a4a4a">HYPOXIA</text>
<rect x="213.00" y="564.96" width="42.90" height="2.95" fill="#B94A3A" stroke="#4a2019" stroke-width="0.45"/>
<text transform="translate(210.90 567.41) scale(1 1.15)" font-size="2.3" text-anchor="end" fill="#4a4a4a">GLYCOLYSIS</text>
<rect x="213.00" y="568.81" width="39.80" height="2.95" fill="#B94A3A" stroke="#4a2019" stroke-width="0.45"/>
<text transform="translate(210.90 571.26) scale(1 1.15)" font-size="2.3" text-anchor="end" fill="#4a4a4a">ADP_METABOLIC_PROCESS</text>
<rect x="213.00" y="572.67" width="30.80" height="2.95" fill="#B94A3A" stroke="#4a2019" stroke-width="0.45"/>
<text transform="translate(210.90 575.12) scale(1 1.15)" font-size="2.3" text-anchor="end" fill="#4a4a4a">MTORC1_SIGNALING</text>
<rect x="213.00" y="576.52" width="27.80" height="2.95" fill="#B94A3A" stroke="#4a2019" stroke-width="0.45"/>
<text transform="translate(210.90 578.97) scale(1 1.15)" font-size="2.3" text-anchor="end" fill="#4a4a4a">FATTY_ACID_METABOLISM</text>
<rect x="213.00" y="580.38" width="25.90" height="2.95" fill="#B94A3A" stroke="#4a2019" stroke-width="0.45"/>
<text transform="translate(210.90 582.83) scale(1 1.15)" font-size="2.3" text-anchor="end" fill="#4a4a4a">EPITHELIAL_MESENCHYMAL_TRANSITION</text>
<rect x="213.00" y="584.23" width="25.90" height="2.95" fill="#B94A3A" stroke="#4a2019" stroke-width="0.45"/>
<text transform="translate(210.90 586.68) scale(1 1.15)" font-size="2.3" text-anchor="end" fill="#4a4a4a">ANDROGEN_METABOLIC_PROCESS</text>
<rect x="213.00" y="588.09" width="25.90" height="2.95" fill="#B94A3A" stroke="#4a2019" stroke-width="0.45"/>
<text transform="translate(210.90 590.54) scale(1 1.15)" font-size="2.3" text-anchor="end" fill="#4a4a4a">AMYLOID_BETA_CLEARANCE</text>
<rect x="213.00" y="591.94" width="25.10" height="2.95" fill="#B94A3A" stroke="#4a2019" stroke-width="0.45"/>
<text transform="translate(210.90 594.39) scale(1 1.15)" font-size="2.3" text-anchor="end" fill="#4a4a4a">ACUTE_INFLAMMATORY_RESPONSE</text>
<rect x="213.00" y="595.80" width="24.70" height="2.95" fill="#B94A3A" stroke="#4a2019" stroke-width="0.45"/>
<text transform="translate(210.90 598.25) scale(1 1.15)" font-size="2.3" text-anchor="end" fill="#4a4a4a">BILE_ACID_METABOLISM</text>
<rect x="213.00" y="599.65" width="23.90" height="2.95" fill="#B94A3A" stroke="#4a2019" stroke-width="0.45"/>
<text transform="translate(210.90 602.10) scale(1 1.15)" font-size="2.3" text-anchor="end" fill="#4a4a4a">ALCOHOL_CATABOLIC_PROCESS</text>
<rect x="213.00" y="603.50" width="23.50" height="2.95" fill="#B94A3A" stroke="#4a2019" stroke-width="0.45"/>
<text transform="translate(210.90 605.96) scale(1 1.15)" font-size="2.3" text-anchor="end" fill="#4a4a4a">ADAPTATION_OF_SIGNALING_PATHWAY</text>
<rect x="213.00" y="607.36" width="22.90" height="2.95" fill="#B94A3A" stroke="#4a2019" stroke-width="0.45"/>
<text transform="translate(210.90 609.81) scale(1 1.15)" font-size="2.3" text-anchor="end" fill="#4a4a4a">ANDROGEN_CATABOLIC_PROCESS</text>
<rect x="213.00" y="611.22" width="22.20" height="2.95" fill="#B94A3A" stroke="#4a2019" stroke-width="0.45"/>
<text transform="translate(210.90 613.67) scale(1 1.15)" font-size="2.3" text-anchor="end" fill="#4a4a4a">P53_PATHWAY</text>
<rect x="213.00" y="615.07" width="20.00" height="2.95" fill="#B94A3A" stroke="#4a2019" stroke-width="0.45"/>
<text transform="translate(210.90 617.52) scale(1 1.15)" font-size="2.3" text-anchor="end" fill="#4a4a4a">BIOLOGICAL_ADHESION</text>
<rect x="213.00" y="618.93" width="20.00" height="2.95" fill="#B94A3A" stroke="#4a2019" stroke-width="0.45"/>
<text transform="translate(210.90 621.38) scale(1 1.15)" font-size="2.3" text-anchor="end" fill="#4a4a4a">BILE_ACID_METABOLIC_PROCESS</text>
<rect x="213.00" y="622.78" width="20.00" height="2.95" fill="#B94A3A" stroke="#4a2019" stroke-width="0.45"/>
<text transform="translate(210.90 625.23) scale(1 1.15)" font-size="2.3" text-anchor="end" fill="#4a4a4a">BILE_ACID_BIOSYNTHETIC_PROCESS</text>
<rect x="213.00" y="626.63" width="20.00" height="2.95" fill="#B94A3A" stroke="#4a2019" stroke-width="0.45"/>
<text transform="translate(210.90 629.09) scale(1 1.15)" font-size="2.3" text-anchor="end" fill="#4a4a4a">ACYL_TRANSMEMBRANE_TRANSPORT</text>
<rect x="213.00" y="630.49" width="20.00" height="2.95" fill="#B94A3A" stroke="#4a2019" stroke-width="0.45"/>
<text transform="translate(210.90 632.94) scale(1 1.15)" font-size="2.3" text-anchor="end" fill="#4a4a4a">AMYLIN_RECEPTOR_SIGNALING_PATHWAY</text>
<rect x="213.00" y="634.35" width="20.00" height="2.95" fill="#B94A3A" stroke="#4a2019" stroke-width="0.45"/>
<text transform="translate(210.90 636.80) scale(1 1.15)" font-size="2.3" text-anchor="end" fill="#4a4a4a">ADRENOMEDULLIN_RECEPTOR_SIGNALING_PATHWAY</text>
<rect x="190.10" y="638.20" width="22.90" height="2.95" fill="#4777BD" stroke="#1c2e4a" stroke-width="0.45"/>
<text transform="translate(215.10 640.65) scale(1 1.15)" font-size="2.3" fill="#4a4a4a">ANTIGEN_PROCESSING_AND_PRESENTATION</text>
<rect x="190.10" y="642.06" width="22.90" height="2.95" fill="#4777BD" stroke="#1c2e4a" stroke-width="0.45"/>
<text transform="translate(215.10 644.51) scale(1 1.15)" font-size="2.3" fill="#4a4a4a">ASTROCYTE_CELL_MIGRATION</text>
<rect x="189.50" y="645.91" width="23.50" height="2.95" fill="#4777BD" stroke="#1c2e4a" stroke-width="0.45"/>
<text transform="translate(215.10 648.36) scale(1 1.15)" font-size="2.3" fill="#4a4a4a">ALLOGRAFT_REJECTION</text>
<rect x="188.40" y="649.76" width="24.60" height="2.95" fill="#4777BD" stroke="#1c2e4a" stroke-width="0.45"/>
<text transform="translate(215.10 652.22) scale(1 1.15)" font-size="2.3" fill="#4a4a4a">ANIMAL_ORGAN_MORPHOGENESIS</text>
<rect x="188.00" y="653.62" width="25.00" height="2.95" fill="#4777BD" stroke="#1c2e4a" stroke-width="0.45"/>
<text transform="translate(215.10 656.07) scale(1 1.15)" font-size="2.3" fill="#4a4a4a">OXIDATIVE_PHOSPHORYLATION</text>
<rect x="186.60" y="657.48" width="26.40" height="2.95" fill="#4777BD" stroke="#1c2e4a" stroke-width="0.45"/>
<text transform="translate(215.10 659.93) scale(1 1.15)" font-size="2.3" fill="#4a4a4a">ATP_METABOLIC_PROCESS</text>
<rect x="185.40" y="661.33" width="27.60" height="2.95" fill="#4777BD" stroke="#1c2e4a" stroke-width="0.45"/>
<text transform="translate(215.10 663.78) scale(1 1.15)" font-size="2.3" fill="#4a4a4a">INTERFERON_GAMMA_RESPONSE</text>
<rect x="185.40" y="665.19" width="27.60" height="2.95" fill="#4777BD" stroke="#1c2e4a" stroke-width="0.45"/>
<text transform="translate(215.10 667.64) scale(1 1.15)" font-size="2.3" fill="#4a4a4a">ATP_SYNTHESIS_COUPLED_PROTON_TRANSPORT</text>
<rect x="177.40" y="669.04" width="35.60" height="2.95" fill="#4777BD" stroke="#1c2e4a" stroke-width="0.45"/>
<text transform="translate(215.10 671.49) scale(1 1.15)" font-size="2.3" fill="#4a4a4a">AEROBIC_RESPIRATION</text>
<rect x="173.70" y="672.89" width="39.30" height="2.95" fill="#4777BD" stroke="#1c2e4a" stroke-width="0.45"/>
<text transform="translate(215.10 675.35) scale(1 1.15)" font-size="2.3" fill="#4a4a4a">ATP_SYNTHESIS_COUPLED_ELECTRON_TRANSPORT</text>
<line x1="154.30" y1="676.50" x2="271.80" y2="676.50" stroke="#555" stroke-width="0.8"/>
<line x1="185.40" y1="676.50" x2="185.40" y2="677.50" stroke="#555" stroke-width="0.5"/>
<text x="185.40" y="682.80" font-size="5.8" text-anchor="middle" fill="#444">−2</text>
<line x1="214.00" y1="676.50" x2="214.00" y2="677.50" stroke="#555" stroke-width="0.5"/>
<text x="214.00" y="682.80" font-size="5.8" text-anchor="middle" fill="#444">0</text>
<line x1="243.80" y1="676.50" x2="243.80" y2="677.50" stroke="#555" stroke-width="0.5"/>
<text x="243.80" y="682.80" font-size="5.8" text-anchor="middle" fill="#444">2</text>
<text x="213.05" y="689.60" font-size="6.97" text-anchor="middle">Normalized Enrichment Score (NES)</text>
<text x="348.80" y="556.00" font-size="7.0" text-anchor="middle">COAD</text>
<rect x="344.60" y="561.10" width="29.20" height="2.95" fill="#B94A3A" stroke="#4a2019" stroke-width="0.45"/>
<text transform="translate(342.50 563.55) scale(1 1.15)" font-size="2.3" text-anchor="end" fill="#4a4a4a">GLYCOLYSIS</text>
<rect x="344.60" y="564.96" width="28.80" height="2.95" fill="#B94A3A" stroke="#4a2019" stroke-width="0.45"/>
<text transform="translate(342.50 567.41) scale(1 1.15)" font-size="2.3" text-anchor="end" fill="#4a4a4a">BONE_RESORPTION</text>
<rect x="344.60" y="568.81" width="28.50" height="2.95" fill="#B94A3A" stroke="#4a2019" stroke-width="0.45"/>
<text transform="translate(342.50 571.26) scale(1 1.15)" font-size="2.3" text-anchor="end" fill="#4a4a4a">BONE_REMODELING</text>
<rect x="344.60" y="572.67" width="27.90" height="2.95" fill="#B94A3A" stroke="#4a2019" stroke-width="0.45"/>
<text transform="translate(342.50 575.12) scale(1 1.15)" font-size="2.3" text-anchor="end" fill="#4a4a4a">ALPHA_AMINO_ACID_METABOLIC_PROCESS</text>
<rect x="344.60" y="576.52" width="27.30" height="2.95" fill="#B94A3A" stroke="#4a2019" stroke-width="0.45"/>
<text transform="translate(342.50 578.97) scale(1 1.15)" font-size="2.3" text-anchor="end" fill="#4a4a4a">ACUTE_PHASE_RESPONSE</text>
<rect x="344.60" y="580.38" width="26.40" height="2.95" fill="#B94A3A" stroke="#4a2019" stroke-width="0.45"/>
<text transform="translate(342.50 582.83) scale(1 1.15)" font-size="2.3" text-anchor="end" fill="#4a4a4a">KRAS_SIGNALING_UP</text>
<rect x="344.60" y="584.23" width="26.00" height="2.95" fill="#B94A3A" stroke="#4a2019" stroke-width="0.45"/>
<text transform="translate(342.50 586.68) scale(1 1.15)" font-size="2.3" text-anchor="end" fill="#4a4a4a">AMEBOIDAL_TYPE_CELL_MIGRATION</text>
<rect x="344.60" y="588.09" width="25.00" height="2.95" fill="#B94A3A" stroke="#4a2019" stroke-width="0.45"/>
<text transform="translate(342.50 590.54) scale(1 1.15)" font-size="2.3" text-anchor="end" fill="#4a4a4a">XENOBIOTIC_METABOLISM</text>
<rect x="344.60" y="591.94" width="24.50" height="2.95" fill="#B94A3A" stroke="#4a2019" stroke-width="0.45"/>
<text transform="translate(342.50 594.39) scale(1 1.15)" font-size="2.3" text-anchor="end" fill="#4a4a4a">CARBOHYDRATE_CATABOLIC_PROCESS</text>
<rect x="344.60" y="595.80" width="24.50" height="2.95" fill="#B94A3A" stroke="#4a2019" stroke-width="0.45"/>
<text transform="translate(342.50 598.25) scale(1 1.15)" font-size="2.3" text-anchor="end" fill="#4a4a4a">EPITHELIAL_MESENCHYMAL_TRANSITION</text>
<rect x="344.60" y="599.65" width="24.10" height="2.95" fill="#B94A3A" stroke="#4a2019" stroke-width="0.45"/>
<text transform="translate(342.50 602.10) scale(1 1.15)" font-size="2.3" text-anchor="end" fill="#4a4a4a">ANDROGEN_METABOLIC_PROCESS</text>
<rect x="344.60" y="603.50" width="23.10" height="2.95" fill="#B94A3A" stroke="#4a2019" stroke-width="0.45"/>
<text transform="translate(342.50 605.96) scale(1 1.15)" font-size="2.3" text-anchor="end" fill="#4a4a4a">CARBOHYDRATE_DERIVATIVE_METABOLIC_PROCESS</text>
<rect x="344.60" y="607.36" width="20.30" height="2.95" fill="#B94A3A" stroke="#4a2019" stroke-width="0.45"/>
<text transform="translate(342.50 609.81) scale(1 1.15)" font-size="2.3" text-anchor="end" fill="#4a4a4a">ANDROGEN_CATABOLIC_PROCESS</text>
<rect x="344.60" y="611.22" width="20.30" height="2.95" fill="#B94A3A" stroke="#4a2019" stroke-width="0.45"/>
<text transform="translate(342.50 613.67) scale(1 1.15)" font-size="2.3" text-anchor="end" fill="#4a4a4a">BRAIN_MALE_DEVELOPMENT</text>
<rect x="323.10" y="615.07" width="21.50" height="2.95" fill="#4777BD" stroke="#1c2e4a" stroke-width="0.45"/>
<text transform="translate(346.70 617.52) scale(1 1.15)" font-size="2.3" fill="#4a4a4a">3_UTR_MEDIATED_MRNA_STABILIZATION</text>
<rect x="323.10" y="618.93" width="21.50" height="2.95" fill="#4777BD" stroke="#1c2e4a" stroke-width="0.45"/>
<text transform="translate(346.70 621.38) scale(1 1.15)" font-size="2.3" fill="#4a4a4a">TNFA_SIGNALING_VIA_NFKB</text>
<rect x="321.60" y="622.78" width="23.00" height="2.95" fill="#4777BD" stroke="#1c2e4a" stroke-width="0.45"/>
<text transform="translate(346.70 625.23) scale(1 1.15)" font-size="2.3" fill="#4a4a4a">MYC_TARGETS_V1</text>
<rect x="320.30" y="626.63" width="24.30" height="2.95" fill="#4777BD" stroke="#1c2e4a" stroke-width="0.45"/>
<text transform="translate(346.70 629.09) scale(1 1.15)" font-size="2.3" fill="#4a4a4a">APOPTOSIS</text>
<rect x="320.30" y="630.49" width="24.30" height="2.95" fill="#4777BD" stroke="#1c2e4a" stroke-width="0.45"/>
<text transform="translate(346.70 632.94) scale(1 1.15)" font-size="2.3" fill="#4a4a4a">BIOLOGICAL_PROCESS_INVOLVED_IN_INTERSPECIES_INT...</text>
<rect x="319.70" y="634.35" width="24.90" height="2.95" fill="#4777BD" stroke="#1c2e4a" stroke-width="0.45"/>
<text transform="translate(346.70 636.80) scale(1 1.15)" font-size="2.3" fill="#4a4a4a">INTERFERON_ALPHA_RESPONSE</text>
<rect x="319.30" y="638.20" width="25.30" height="2.95" fill="#4777BD" stroke="#1c2e4a" stroke-width="0.45"/>
<text transform="translate(346.70 640.65) scale(1 1.15)" font-size="2.3" fill="#4a4a4a">ACTIVATION_OF_INNATE_IMMUNE_RESPONSE</text>
<rect x="317.40" y="642.06" width="27.20" height="2.95" fill="#4777BD" stroke="#1c2e4a" stroke-width="0.45"/>
<text transform="translate(346.70 644.51) scale(1 1.15)" font-size="2.3" fill="#4a4a4a">ANTIGEN_RECEPTOR_MEDIATED_SIGNALING_PATHWAY</text>
<rect x="316.50" y="645.91" width="28.10" height="2.95" fill="#4777BD" stroke="#1c2e4a" stroke-width="0.45"/>
<text transform="translate(346.70 648.36) scale(1 1.15)" font-size="2.3" fill="#4a4a4a">ANTIGEN_PROCESSING_AND_PRESENTATION_OF_PEPTIDE_...</text>
<rect x="316.10" y="649.76" width="28.50" height="2.95" fill="#4777BD" stroke="#1c2e4a" stroke-width="0.45"/>
<text transform="translate(346.70 652.22) scale(1 1.15)" font-size="2.3" fill="#4a4a4a">ANTIGEN_PROCESSING_AND_PRESENTATION</text>
<rect x="315.50" y="653.62" width="29.10" height="2.95" fill="#4777BD" stroke="#1c2e4a" stroke-width="0.45"/>
<text transform="translate(346.70 656.07) scale(1 1.15)" font-size="2.3" fill="#4a4a4a">ADAPTIVE_IMMUNE_RESPONSE</text>
<rect x="315.20" y="657.48" width="29.40" height="2.95" fill="#4777BD" stroke="#1c2e4a" stroke-width="0.45"/>
<text transform="translate(346.70 659.93) scale(1 1.15)" font-size="2.3" fill="#4a4a4a">ANTIGEN_PROCESSING_AND_PRESENTATION_OF_EXOGENOU...</text>
<rect x="311.80" y="661.33" width="32.80" height="2.95" fill="#4777BD" stroke="#1c2e4a" stroke-width="0.45"/>
<text transform="translate(346.70 663.78) scale(1 1.15)" font-size="2.3" fill="#4a4a4a">ADAPTIVE_IMMUNE_RESPONSE_BASED_ON_SOMATIC_RECOM...</text>
<rect x="308.50" y="665.19" width="36.10" height="2.95" fill="#4777BD" stroke="#1c2e4a" stroke-width="0.45"/>
<text transform="translate(346.70 667.64) scale(1 1.15)" font-size="2.3" fill="#4a4a4a">ACTIVATION_OF_IMMUNE_RESPONSE</text>
<rect x="305.10" y="669.04" width="39.50" height="2.95" fill="#4777BD" stroke="#1c2e4a" stroke-width="0.45"/>
<text transform="translate(346.70 671.49) scale(1 1.15)" font-size="2.3" fill="#4a4a4a">AMIDE_BIOSYNTHETIC_PROCESS</text>
<rect x="304.20" y="672.89" width="40.40" height="2.95" fill="#4777BD" stroke="#1c2e4a" stroke-width="0.45"/>
<text transform="translate(346.70 675.35) scale(1 1.15)" font-size="2.3" fill="#4a4a4a">B_CELL_MEDIATED_IMMUNITY</text>
<line x1="286.40" y1="676.50" x2="403.10" y2="676.50" stroke="#555" stroke-width="0.8"/>
<line x1="316.50" y1="676.50" x2="316.50" y2="677.50" stroke="#555" stroke-width="0.5"/>
<text x="316.50" y="682.80" font-size="5.8" text-anchor="middle" fill="#444">−2</text>
<line x1="345.30" y1="676.50" x2="345.30" y2="677.50" stroke="#555" stroke-width="0.5"/>
<text x="345.30" y="682.80" font-size="5.8" text-anchor="middle" fill="#444">0</text>
<line x1="375.30" y1="676.50" x2="375.30" y2="677.50" stroke="#555" stroke-width="0.5"/>
<text x="375.30" y="682.80" font-size="5.8" text-anchor="middle" fill="#444">2</text>
<text x="344.75" y="689.60" font-size="6.97" text-anchor="middle">Normalized Enrichment Score (NES)</text>
<text x="481.60" y="556.00" font-size="7.0" text-anchor="middle">NPC</text>
<rect x="478.60" y="561.10" width="47.00" height="2.95" fill="#B94A3A" stroke="#4a2019" stroke-width="0.45"/>
<text transform="translate(476.50 563.55) scale(1 1.15)" font-size="2.3" text-anchor="end" fill="#4a4a4a">TNFA_SIGNALING_VIA_NFKB</text>
<rect x="478.60" y="564.96" width="43.50" height="2.95" fill="#B94A3A" stroke="#4a2019" stroke-width="0.45"/>
<text transform="translate(476.50 567.41) scale(1 1.15)" font-size="2.3" text-anchor="end" fill="#4a4a4a">INFLAMMATORY_RESPONSE</text>
<rect x="478.60" y="568.81" width="37.40" height="2.95" fill="#B94A3A" stroke="#4a2019" stroke-width="0.45"/>
<text transform="translate(476.50 571.26) scale(1 1.15)" font-size="2.3" text-anchor="end" fill="#4a4a4a">INTERFERON_GAMMA_RESPONSE</text>
<rect x="478.60" y="572.67" width="36.40" height="2.95" fill="#B94A3A" stroke="#4a2019" stroke-width="0.45"/>
<text transform="translate(476.50 575.12) scale(1 1.15)" font-size="2.3" text-anchor="end" fill="#4a4a4a">HYPOXIA</text>
<rect x="478.60" y="576.52" width="36.10" height="2.95" fill="#B94A3A" stroke="#4a2019" stroke-width="0.45"/>
<text transform="translate(476.50 578.97) scale(1 1.15)" font-size="2.3" text-anchor="end" fill="#4a4a4a">COMPLEMENT</text>
<rect x="478.60" y="580.38" width="35.30" height="2.95" fill="#B94A3A" stroke="#4a2019" stroke-width="0.45"/>
<text transform="translate(476.50 582.83) scale(1 1.15)" font-size="2.3" text-anchor="end" fill="#4a4a4a">EPITHELIAL_MESENCHYMAL_TRANSITION</text>
<rect x="478.60" y="584.23" width="32.30" height="2.95" fill="#B94A3A" stroke="#4a2019" stroke-width="0.45"/>
<text transform="translate(476.50 586.68) scale(1 1.15)" font-size="2.3" text-anchor="end" fill="#4a4a4a">KRAS_SIGNALING_UP</text>
<rect x="478.60" y="588.09" width="32.30" height="2.95" fill="#B94A3A" stroke="#4a2019" stroke-width="0.45"/>
<text transform="translate(476.50 590.54) scale(1 1.15)" font-size="2.3" text-anchor="end" fill="#4a4a4a">ANGIOGENESIS</text>
<rect x="478.60" y="591.94" width="31.20" height="2.95" fill="#B94A3A" stroke="#4a2019" stroke-width="0.45"/>
<text transform="translate(476.50 594.39) scale(1 1.15)" font-size="2.3" text-anchor="end" fill="#4a4a4a">P53_PATHWAY</text>
<rect x="478.60" y="595.80" width="31.00" height="2.95" fill="#B94A3A" stroke="#4a2019" stroke-width="0.45"/>
<text transform="translate(476.50 598.25) scale(1 1.15)" font-size="2.3" text-anchor="end" fill="#4a4a4a">INTERFERON_ALPHA_RESPONSE</text>
<rect x="478.60" y="599.65" width="30.20" height="2.95" fill="#B94A3A" stroke="#4a2019" stroke-width="0.45"/>
<text transform="translate(476.50 602.10) scale(1 1.15)" font-size="2.3" text-anchor="end" fill="#4a4a4a">IL2_STAT5_SIGNALING</text>
<rect x="478.60" y="603.50" width="29.20" height="2.95" fill="#B94A3A" stroke="#4a2019" stroke-width="0.45"/>
<text transform="translate(476.50 605.96) scale(1 1.15)" font-size="2.3" text-anchor="end" fill="#4a4a4a">MYOGENESIS</text>
<rect x="478.60" y="607.36" width="29.20" height="2.95" fill="#B94A3A" stroke="#4a2019" stroke-width="0.45"/>
<text transform="translate(476.50 609.81) scale(1 1.15)" font-size="2.3" text-anchor="end" fill="#4a4a4a">ADIPOGENESIS</text>
<rect x="478.60" y="611.22" width="27.20" height="2.95" fill="#B94A3A" stroke="#4a2019" stroke-width="0.45"/>
<text transform="translate(476.50 613.67) scale(1 1.15)" font-size="2.3" text-anchor="end" fill="#4a4a4a">ACUTE_PHASE_RESPONSE</text>
<rect x="478.60" y="615.07" width="27.20" height="2.95" fill="#B94A3A" stroke="#4a2019" stroke-width="0.45"/>
<text transform="translate(476.50 617.52) scale(1 1.15)" font-size="2.3" text-anchor="end" fill="#4a4a4a">APOPTOSIS</text>
<rect x="478.60" y="618.93" width="27.20" height="2.95" fill="#B94A3A" stroke="#4a2019" stroke-width="0.45"/>
<text transform="translate(476.50 621.38) scale(1 1.15)" font-size="2.3" text-anchor="end" fill="#4a4a4a">XENOBIOTIC_METABOLISM</text>
<rect x="478.60" y="622.78" width="27.20" height="2.95" fill="#B94A3A" stroke="#4a2019" stroke-width="0.45"/>
<text transform="translate(476.50 625.23) scale(1 1.15)" font-size="2.3" text-anchor="end" fill="#4a4a4a">ACUTE_INFLAMMATORY_RESPONSE</text>
<rect x="478.60" y="626.63" width="26.70" height="2.95" fill="#B94A3A" stroke="#4a2019" stroke-width="0.45"/>
<text transform="translate(476.50 629.09) scale(1 1.15)" font-size="2.3" text-anchor="end" fill="#4a4a4a">IL6_JAK_STAT3_SIGNALING</text>
<rect x="478.60" y="630.49" width="26.70" height="2.95" fill="#B94A3A" stroke="#4a2019" stroke-width="0.45"/>
<text transform="translate(476.50 632.94) scale(1 1.15)" font-size="2.3" text-anchor="end" fill="#4a4a4a">COAGULATION</text>
<rect x="478.60" y="634.35" width="25.90" height="2.95" fill="#B94A3A" stroke="#4a2019" stroke-width="0.45"/>
<text transform="translate(476.50 636.80) scale(1 1.15)" font-size="2.3" text-anchor="end" fill="#4a4a4a">ACTIVATION_OF_CYTOKINE_TYPE_ENDOPEPTIDASE_ACTIV...</text>
<rect x="478.60" y="638.20" width="24.50" height="2.95" fill="#B94A3A" stroke="#4a2019" stroke-width="0.45"/>
<text transform="translate(476.50 640.65) scale(1 1.15)" font-size="2.3" text-anchor="end" fill="#4a4a4a">GLYCOLYSIS</text>
<rect x="478.60" y="642.06" width="24.10" height="2.95" fill="#B94A3A" stroke="#4a2019" stroke-width="0.45"/>
<text transform="translate(476.50 644.51) scale(1 1.15)" font-size="2.3" text-anchor="end" fill="#4a4a4a">UV_RESPONSE_DN</text>
<rect x="478.60" y="645.91" width="24.10" height="2.95" fill="#B94A3A" stroke="#4a2019" stroke-width="0.45"/>
<text transform="translate(476.50 648.36) scale(1 1.15)" font-size="2.3" text-anchor="end" fill="#4a4a4a">UV_RESPONSE_UP</text>
<rect x="478.60" y="649.76" width="24.10" height="2.95" fill="#B94A3A" stroke="#4a2019" stroke-width="0.45"/>
<text transform="translate(476.50 652.22) scale(1 1.15)" font-size="2.3" text-anchor="end" fill="#4a4a4a">HEDGEHOG_SIGNALING</text>
<rect x="478.60" y="653.62" width="18.20" height="2.95" fill="#B94A3A" stroke="#4a2019" stroke-width="0.45"/>
<text transform="translate(476.50 656.07) scale(1 1.15)" font-size="2.3" text-anchor="end" fill="#4a4a4a">ACTIN_FILAMENT_TRANSPORT</text>
<rect x="456.10" y="657.48" width="22.50" height="2.95" fill="#4777BD" stroke="#1c2e4a" stroke-width="0.45"/>
<text transform="translate(480.70 659.93) scale(1 1.15)" font-size="2.3" fill="#4a4a4a">ADAPTIVE_IMMUNE_RESPONSE_BASED_ON_SOMATIC_RECOM...</text>
<rect x="455.10" y="661.33" width="23.50" height="2.95" fill="#4777BD" stroke="#1c2e4a" stroke-width="0.45"/>
<text transform="translate(480.70 663.78) scale(1 1.15)" font-size="2.3" fill="#4a4a4a">MYC_TARGETS_V1</text>
<rect x="455.10" y="665.19" width="23.50" height="2.95" fill="#4777BD" stroke="#1c2e4a" stroke-width="0.45"/>
<text transform="translate(480.70 667.64) scale(1 1.15)" font-size="2.3" fill="#4a4a4a">MITOTIC_SPINDLE</text>
<rect x="453.40" y="669.04" width="25.20" height="2.95" fill="#4777BD" stroke="#1c2e4a" stroke-width="0.45"/>
<text transform="translate(480.70 671.49) scale(1 1.15)" font-size="2.3" fill="#4a4a4a">G2M_CHECKPOINT</text>
<rect x="446.30" y="672.89" width="32.30" height="2.95" fill="#4777BD" stroke="#1c2e4a" stroke-width="0.45"/>
<text transform="translate(480.70 675.35) scale(1 1.15)" font-size="2.3" fill="#4a4a4a">E2F_TARGETS</text>
<line x1="420.30" y1="676.50" x2="536.80" y2="676.50" stroke="#555" stroke-width="0.8"/>
<line x1="453.40" y1="676.50" x2="453.40" y2="677.50" stroke="#555" stroke-width="0.5"/>
<text x="453.40" y="682.80" font-size="5.8" text-anchor="middle" fill="#444">−2</text>
<line x1="479.40" y1="676.50" x2="479.40" y2="677.50" stroke="#555" stroke-width="0.5"/>
<text x="479.40" y="682.80" font-size="5.8" text-anchor="middle" fill="#444">0</text>
<line x1="506.20" y1="676.50" x2="506.20" y2="677.50" stroke="#555" stroke-width="0.5"/>
<text x="506.20" y="682.80" font-size="5.8" text-anchor="middle" fill="#444">2</text>
<text x="478.55" y="689.60" font-size="6.97" text-anchor="middle">Normalized Enrichment Score (NES)</text>
<text x="611.40" y="556.00" font-size="7.0" text-anchor="middle">GBM</text>
<rect x="608.00" y="561.10" width="37.80" height="2.95" fill="#B94A3A" stroke="#4a2019" stroke-width="0.45"/>
<text transform="translate(605.90 563.55) scale(1 1.15)" font-size="2.3" text-anchor="end" fill="#4a4a4a">HYPOXIA</text>
<rect x="608.00" y="564.96" width="32.20" height="2.95" fill="#B94A3A" stroke="#4a2019" stroke-width="0.45"/>
<text transform="translate(605.90 567.41) scale(1 1.15)" font-size="2.3" text-anchor="end" fill="#4a4a4a">EPITHELIAL_MESENCHYMAL_TRANSITION</text>
<rect x="608.00" y="568.81" width="31.60" height="2.95" fill="#B94A3A" stroke="#4a2019" stroke-width="0.45"/>
<text transform="translate(605.90 571.26) scale(1 1.15)" font-size="2.3" text-anchor="end" fill="#4a4a4a">GLYCOLYSIS</text>
<rect x="608.00" y="572.67" width="31.60" height="2.95" fill="#B94A3A" stroke="#4a2019" stroke-width="0.45"/>
<text transform="translate(605.90 575.12) scale(1 1.15)" font-size="2.3" text-anchor="end" fill="#4a4a4a">IL2_STAT5_SIGNALING</text>
<rect x="608.00" y="576.52" width="31.60" height="2.95" fill="#B94A3A" stroke="#4a2019" stroke-width="0.45"/>
<text transform="translate(605.90 578.97) scale(1 1.15)" font-size="2.3" text-anchor="end" fill="#4a4a4a">ANGIOGENESIS</text>
<rect x="608.00" y="580.38" width="31.20" height="2.95" fill="#B94A3A" stroke="#4a2019" stroke-width="0.45"/>
<text transform="translate(605.90 582.83) scale(1 1.15)" font-size="2.3" text-anchor="end" fill="#4a4a4a">ADP_METABOLIC_PROCESS</text>
<rect x="608.00" y="584.23" width="30.60" height="2.95" fill="#B94A3A" stroke="#4a2019" stroke-width="0.45"/>
<text transform="translate(605.90 586.68) scale(1 1.15)" font-size="2.3" text-anchor="end" fill="#4a4a4a">MTORC1_SIGNALING</text>
<rect x="608.00" y="588.09" width="30.60" height="2.95" fill="#B94A3A" stroke="#4a2019" stroke-width="0.45"/>
<text transform="translate(605.90 590.54) scale(1 1.15)" font-size="2.3" text-anchor="end" fill="#4a4a4a">INFLAMMATORY_RESPONSE</text>
<rect x="608.00" y="591.94" width="29.00" height="2.95" fill="#B94A3A" stroke="#4a2019" stroke-width="0.45"/>
<text transform="translate(605.90 594.39) scale(1 1.15)" font-size="2.3" text-anchor="end" fill="#4a4a4a">TNFA_SIGNALING_VIA_NFKB</text>
<rect x="608.00" y="595.80" width="26.30" height="2.95" fill="#B94A3A" stroke="#4a2019" stroke-width="0.45"/>
<text transform="translate(605.90 598.25) scale(1 1.15)" font-size="2.3" text-anchor="end" fill="#4a4a4a">COMPLEMENT</text>
<rect x="608.00" y="599.65" width="20.80" height="2.95" fill="#B94A3A" stroke="#4a2019" stroke-width="0.45"/>
<text transform="translate(605.90 602.10) scale(1 1.15)" font-size="2.3" text-anchor="end" fill="#4a4a4a">ADENYLATE_CYCLASE_INHIBITING_DOPAMINE_RECEPTOR_...</text>
<rect x="608.00" y="603.50" width="20.80" height="2.95" fill="#B94A3A" stroke="#4a2019" stroke-width="0.45"/>
<text transform="translate(605.90 605.96) scale(1 1.15)" font-size="2.3" text-anchor="end" fill="#4a4a4a">ACYLGLYCEROL_TRANSPORT</text>
<rect x="585.30" y="607.36" width="22.70" height="2.95" fill="#4777BD" stroke="#1c2e4a" stroke-width="0.45"/>
<text transform="translate(610.10 609.81) scale(1 1.15)" font-size="2.3" fill="#4a4a4a">AMINOGLYCOSIDE_ANTIBIOTIC_METABOLIC_PROCESS</text>
<rect x="585.30" y="611.22" width="22.70" height="2.95" fill="#4777BD" stroke="#1c2e4a" stroke-width="0.45"/>
<text transform="translate(610.10 613.67) scale(1 1.15)" font-size="2.3" fill="#4a4a4a">ACETYL_COA_METABOLIC_PROCESS</text>
<rect x="585.30" y="615.07" width="22.70" height="2.95" fill="#4777BD" stroke="#1c2e4a" stroke-width="0.45"/>
<text transform="translate(610.10 617.52) scale(1 1.15)" font-size="2.3" fill="#4a4a4a">ACETYL_COA_BIOSYNTHETIC_PROCESS_FROM_PYRUVATE</text>
<rect x="585.30" y="618.93" width="22.70" height="2.95" fill="#4777BD" stroke="#1c2e4a" stroke-width="0.45"/>
<text transform="translate(610.10 621.38) scale(1 1.15)" font-size="2.3" fill="#4a4a4a">ACETYL_COA_BIOSYNTHETIC_PROCESS</text>
<rect x="585.30" y="622.78" width="22.70" height="2.95" fill="#4777BD" stroke="#1c2e4a" stroke-width="0.45"/>
<text transform="translate(610.10 625.23) scale(1 1.15)" font-size="2.3" fill="#4a4a4a">ACTIN_FILAMENT_POLYMERIZATION</text>
<rect x="584.40" y="626.63" width="23.60" height="2.95" fill="#4777BD" stroke="#1c2e4a" stroke-width="0.45"/>
<text transform="translate(610.10 629.09) scale(1 1.15)" font-size="2.3" fill="#4a4a4a">MITOTIC_SPINDLE</text>
<rect x="583.20" y="630.49" width="24.80" height="2.95" fill="#4777BD" stroke="#1c2e4a" stroke-width="0.45"/>
<text transform="translate(610.10 632.94) scale(1 1.15)" font-size="2.3" fill="#4a4a4a">AEROBIC_RESPIRATION</text>
<rect x="583.20" y="634.35" width="24.80" height="2.95" fill="#4777BD" stroke="#1c2e4a" stroke-width="0.45"/>
<text transform="translate(610.10 636.80) scale(1 1.15)" font-size="2.3" fill="#4a4a4a">ADHESION_OF_SYMBIONT_TO_HOST_CELL</text>
<rect x="583.20" y="638.20" width="24.80" height="2.95" fill="#4777BD" stroke="#1c2e4a" stroke-width="0.45"/>
<text transform="translate(610.10 640.65) scale(1 1.15)" font-size="2.3" fill="#4a4a4a">ADHESION_OF_SYMBIONT_TO_HOST</text>
<rect x="583.20" y="642.06" width="24.80" height="2.95" fill="#4777BD" stroke="#1c2e4a" stroke-width="0.45"/>
<text transform="translate(610.10 644.51) scale(1 1.15)" font-size="2.3" fill="#4a4a4a">AMYLOID_BETA_METABOLIC_PROCESS</text>
<rect x="583.20" y="645.91" width="24.80" height="2.95" fill="#4777BD" stroke="#1c2e4a" stroke-width="0.45"/>
<text transform="translate(610.10 648.36) scale(1 1.15)" font-size="2.3" fill="#4a4a4a">AMYLOID_BETA_FORMATION</text>
<rect x="582.20" y="649.76" width="25.80" height="2.95" fill="#4777BD" stroke="#1c2e4a" stroke-width="0.45"/>
<text transform="translate(610.10 652.22) scale(1 1.15)" font-size="2.3" fill="#4a4a4a">ACTIN_FILAMENT_SEVERING</text>
<rect x="581.40" y="653.62" width="26.60" height="2.95" fill="#4777BD" stroke="#1c2e4a" stroke-width="0.45"/>
<text transform="translate(610.10 656.07) scale(1 1.15)" font-size="2.3" fill="#4a4a4a">AMYLOID_PRECURSOR_PROTEIN_METABOLIC_PROCESS</text>
<rect x="581.40" y="657.48" width="26.60" height="2.95" fill="#4777BD" stroke="#1c2e4a" stroke-width="0.45"/>
<text transform="translate(610.10 659.93) scale(1 1.15)" font-size="2.3" fill="#4a4a4a">ACTIVATION_OF_IMMUNE_RESPONSE</text>
<rect x="578.30" y="661.33" width="29.70" height="2.95" fill="#4777BD" stroke="#1c2e4a" stroke-width="0.45"/>
<text transform="translate(610.10 663.78) scale(1 1.15)" font-size="2.3" fill="#4a4a4a">ACUTE_INFLAMMATORY_RESPONSE_TO_ANTIGENIC_STIMULUS</text>
<rect x="576.30" y="665.19" width="31.70" height="2.95" fill="#4777BD" stroke="#1c2e4a" stroke-width="0.45"/>
<text transform="translate(610.10 667.64) scale(1 1.15)" font-size="2.3" fill="#4a4a4a">ACTIN_NUCLEATION</text>
<rect x="572.00" y="669.04" width="36.00" height="2.95" fill="#4777BD" stroke="#1c2e4a" stroke-width="0.45"/>
<text transform="translate(610.10 671.49) scale(1 1.15)" font-size="2.3" fill="#4a4a4a">ADAPTIVE_IMMUNE_RESPONSE</text>
<rect x="568.90" y="672.89" width="39.10" height="2.95" fill="#4777BD" stroke="#1c2e4a" stroke-width="0.45"/>
<text transform="translate(610.10 675.35) scale(1 1.15)" font-size="2.3" fill="#4a4a4a">ADAPTIVE_IMMUNE_RESPONSE_BASED_ON_SOMATIC_RECOM...</text>
<line x1="550.10" y1="676.50" x2="667.00" y2="676.50" stroke="#555" stroke-width="0.8"/>
<line x1="579.70" y1="676.50" x2="579.70" y2="677.50" stroke="#555" stroke-width="0.5"/>
<text x="579.70" y="682.80" font-size="5.8" text-anchor="middle" fill="#444">−2</text>
<line x1="609.00" y1="676.50" x2="609.00" y2="677.50" stroke="#555" stroke-width="0.5"/>
<text x="609.00" y="682.80" font-size="5.8" text-anchor="middle" fill="#444">0</text>
<line x1="640.00" y1="676.50" x2="640.00" y2="677.50" stroke="#555" stroke-width="0.5"/>
<text x="640.00" y="682.80" font-size="5.8" text-anchor="middle" fill="#444">2</text>
<text x="608.55" y="689.60" font-size="6.97" text-anchor="middle">Normalized Enrichment Score (NES)</text>
<text x="78.40" y="716.00" font-size="7.0" text-anchor="middle">LUAD</text>
<rect x="74.60" y="721.10" width="38.20" height="2.95" fill="#B94A3A" stroke="#4a2019" stroke-width="0.45"/>
<text transform="translate(72.50 723.55) scale(1 1.15)" font-size="2.3" text-anchor="end" fill="#4a4a4a">OXIDATIVE_PHOSPHORYLATION</text>
<rect x="74.60" y="724.96" width="37.00" height="2.95" fill="#B94A3A" stroke="#4a2019" stroke-width="0.45"/>
<text transform="translate(72.50 727.41) scale(1 1.15)" font-size="2.3" text-anchor="end" fill="#4a4a4a">ADIPOGENESIS</text>
<rect x="74.60" y="728.81" width="34.10" height="2.95" fill="#B94A3A" stroke="#4a2019" stroke-width="0.45"/>
<text transform="translate(72.50 731.26) scale(1 1.15)" font-size="2.3" text-anchor="end" fill="#4a4a4a">AEROBIC_RESPIRATION</text>
<rect x="74.60" y="732.67" width="33.10" height="2.95" fill="#B94A3A" stroke="#4a2019" stroke-width="0.45"/>
<text transform="translate(72.50 735.12) scale(1 1.15)" font-size="2.3" text-anchor="end" fill="#4a4a4a">ATP_SYNTHESIS_COUPLED_ELECTRON_TRANSPORT</text>
<rect x="74.60" y="736.52" width="32.10" height="2.95" fill="#B94A3A" stroke="#4a2019" stroke-width="0.45"/>
<text transform="translate(72.50 738.97) scale(1 1.15)" font-size="2.3" text-anchor="end" fill="#4a4a4a">ATP_SYNTHESIS_COUPLED_PROTON_TRANSPORT</text>
<rect x="74.60" y="740.38" width="31.70" height="2.95" fill="#B94A3A" stroke="#4a2019" stroke-width="0.45"/>
<text transform="translate(72.50 742.83) scale(1 1.15)" font-size="2.3" text-anchor="end" fill="#4a4a4a">GLYCOLYSIS</text>
<rect x="74.60" y="744.23" width="30.40" height="2.95" fill="#B94A3A" stroke="#4a2019" stroke-width="0.45"/>
<text transform="translate(72.50 746.68) scale(1 1.15)" font-size="2.3" text-anchor="end" fill="#4a4a4a">ANTIMICROBIAL_HUMORAL_RESPONSE</text>
<rect x="74.60" y="748.09" width="30.40" height="2.95" fill="#B94A3A" stroke="#4a2019" stroke-width="0.45"/>
<text transform="translate(72.50 750.54) scale(1 1.15)" font-size="2.3" text-anchor="end" fill="#4a4a4a">ATP_METABOLIC_PROCESS</text>
<rect x="74.60" y="751.94" width="30.00" height="2.95" fill="#B94A3A" stroke="#4a2019" stroke-width="0.45"/>
<text transform="translate(72.50 754.39) scale(1 1.15)" font-size="2.3" text-anchor="end" fill="#4a4a4a">CHOLESTEROL_HOMEOSTASIS</text>
<rect x="74.60" y="755.80" width="28.20" height="2.95" fill="#B94A3A" stroke="#4a2019" stroke-width="0.45"/>
<text transform="translate(72.50 758.25) scale(1 1.15)" font-size="2.3" text-anchor="end" fill="#4a4a4a">ATP_BIOSYNTHETIC_PROCESS</text>
<rect x="74.60" y="759.65" width="28.20" height="2.95" fill="#B94A3A" stroke="#4a2019" stroke-width="0.45"/>
<text transform="translate(72.50 762.10) scale(1 1.15)" font-size="2.3" text-anchor="end" fill="#4a4a4a">XENOBIOTIC_METABOLISM</text>
<rect x="74.60" y="763.50" width="28.20" height="2.95" fill="#B94A3A" stroke="#4a2019" stroke-width="0.45"/>
<text transform="translate(72.50 765.96) scale(1 1.15)" font-size="2.3" text-anchor="end" fill="#4a4a4a">APOPTOTIC_CELL_CLEARANCE</text>
<rect x="74.60" y="767.36" width="21.90" height="2.95" fill="#B94A3A" stroke="#4a2019" stroke-width="0.45"/>
<text transform="translate(72.50 769.81) scale(1 1.15)" font-size="2.3" text-anchor="end" fill="#4a4a4a">ANTIMICROBIAL_PEPTIDE_PRODUCTION</text>
<rect x="74.60" y="771.22" width="21.90" height="2.95" fill="#B94A3A" stroke="#4a2019" stroke-width="0.45"/>
<text transform="translate(72.50 773.67) scale(1 1.15)" font-size="2.3" text-anchor="end" fill="#4a4a4a">ANTIBACTERIAL_PEPTIDE_PRODUCTION</text>
<rect x="53.10" y="775.07" width="21.50" height="2.95" fill="#4777BD" stroke="#1c2e4a" stroke-width="0.45"/>
<text transform="translate(76.70 777.52) scale(1 1.15)" font-size="2.3" fill="#4a4a4a">ADHERENS_JUNCTION_MAINTENANCE</text>
<rect x="51.10" y="778.93" width="23.50" height="2.95" fill="#4777BD" stroke="#1c2e4a" stroke-width="0.45"/>
<text transform="translate(76.70 781.38) scale(1 1.15)" font-size="2.3" fill="#4a4a4a">ACTIN_FILAMENT_BASED_PROCESS</text>
<rect x="51.10" y="782.78" width="23.50" height="2.95" fill="#4777BD" stroke="#1c2e4a" stroke-width="0.45"/>
<text transform="translate(76.70 785.23) scale(1 1.15)" font-size="2.3" fill="#4a4a4a">AUTOCRINE_SIGNALING</text>
<rect x="50.10" y="786.63" width="24.50" height="2.95" fill="#4777BD" stroke="#1c2e4a" stroke-width="0.45"/>
<text transform="translate(76.70 789.09) scale(1 1.15)" font-size="2.3" fill="#4a4a4a">ASTROCYTE_CELL_MIGRATION</text>
<rect x="49.00" y="790.49" width="25.60" height="2.95" fill="#4777BD" stroke="#1c2e4a" stroke-width="0.45"/>
<text transform="translate(76.70 792.94) scale(1 1.15)" font-size="2.3" fill="#4a4a4a">ACTIN_FILAMENT_ORGANIZATION</text>
<rect x="49.00" y="794.35" width="25.60" height="2.95" fill="#4777BD" stroke="#1c2e4a" stroke-width="0.45"/>
<text transform="translate(76.70 796.80) scale(1 1.15)" font-size="2.3" fill="#4a4a4a">KRAS_SIGNALING_UP</text>
<rect x="49.00" y="798.20" width="25.60" height="2.95" fill="#4777BD" stroke="#1c2e4a" stroke-width="0.45"/>
<text transform="translate(76.70 800.65) scale(1 1.15)" font-size="2.3" fill="#4a4a4a">ANDROGEN_RESPONSE</text>
<rect x="49.00" y="802.06" width="25.60" height="2.95" fill="#4777BD" stroke="#1c2e4a" stroke-width="0.45"/>
<text transform="translate(76.70 804.51) scale(1 1.15)" font-size="2.3" fill="#4a4a4a">APOPTOSIS</text>
<rect x="49.00" y="805.91" width="25.60" height="2.95" fill="#4777BD" stroke="#1c2e4a" stroke-width="0.45"/>
<text transform="translate(76.70 808.36) scale(1 1.15)" font-size="2.3" fill="#4a4a4a">ALPHA_BETA_T_CELL_ACTIVATION</text>
<rect x="48.40" y="809.76" width="26.20" height="2.95" fill="#4777BD" stroke="#1c2e4a" stroke-width="0.45"/>
<text transform="translate(76.70 812.22) scale(1 1.15)" font-size="2.3" fill="#4a4a4a">ESTROGEN_RESPONSE_EARLY</text>
<rect x="47.60" y="813.62" width="27.00" height="2.95" fill="#4777BD" stroke="#1c2e4a" stroke-width="0.45"/>
<text transform="translate(76.70 816.07) scale(1 1.15)" font-size="2.3" fill="#4a4a4a">BIOLOGICAL_PROCESS_INVOLVED_IN_INTERSPECIES_INT...</text>
<rect x="47.00" y="817.48" width="27.60" height="2.95" fill="#4777BD" stroke="#1c2e4a" stroke-width="0.45"/>
<text transform="translate(76.70 819.93) scale(1 1.15)" font-size="2.3" fill="#4a4a4a">IL6_JAK_STAT3_SIGNALING</text>
<rect x="44.30" y="821.33" width="30.30" height="2.95" fill="#4777BD" stroke="#1c2e4a" stroke-width="0.45"/>
<text transform="translate(76.70 823.78) scale(1 1.15)" font-size="2.3" fill="#4a4a4a">INTERFERON_GAMMA_RESPONSE</text>
<rect x="43.30" y="825.19" width="31.30" height="2.95" fill="#4777BD" stroke="#1c2e4a" stroke-width="0.45"/>
<text transform="translate(76.70 827.64) scale(1 1.15)" font-size="2.3" fill="#4a4a4a">MYOGENESIS</text>
<rect x="37.20" y="829.04" width="37.40" height="2.95" fill="#4777BD" stroke="#1c2e4a" stroke-width="0.45"/>
<text transform="translate(76.70 831.49) scale(1 1.15)" font-size="2.3" fill="#4a4a4a">INFLAMMATORY_RESPONSE</text>
<rect x="31.10" y="832.89" width="43.50" height="2.95" fill="#4777BD" stroke="#1c2e4a" stroke-width="0.45"/>
<text transform="translate(76.70 835.35) scale(1 1.15)" font-size="2.3" fill="#4a4a4a">TNFA_SIGNALING_VIA_NFKB</text>
<line x1="17.40" y1="836.50" x2="133.30" y2="836.50" stroke="#555" stroke-width="0.8"/>
<line x1="44.30" y1="836.50" x2="44.30" y2="837.50" stroke="#555" stroke-width="0.5"/>
<text x="44.30" y="842.80" font-size="5.8" text-anchor="middle" fill="#444">−2</text>
<line x1="75.40" y1="836.50" x2="75.40" y2="837.50" stroke="#555" stroke-width="0.5"/>
<text x="75.40" y="842.80" font-size="5.8" text-anchor="middle" fill="#444">0</text>
<line x1="108.30" y1="836.50" x2="108.30" y2="837.50" stroke="#555" stroke-width="0.5"/>
<text x="108.30" y="842.80" font-size="5.8" text-anchor="middle" fill="#444">2</text>
<text x="75.35" y="849.60" font-size="6.97" text-anchor="middle">Normalized Enrichment Score (NES)</text>
<text x="217.10" y="716.00" font-size="7.0" text-anchor="middle">ESCA</text>
<rect x="213.00" y="721.10" width="44.90" height="2.95" fill="#B94A3A" stroke="#4a2019" stroke-width="0.45"/>
<text transform="translate(210.90 723.55) scale(1 1.15)" font-size="2.3" text-anchor="end" fill="#4a4a4a">ANTIGEN_PROCESSING_AND_PRESENTATION_OF_PEPTIDE_...</text>
<rect x="213.00" y="724.96" width="42.90" height="2.95" fill="#B94A3A" stroke="#4a2019" stroke-width="0.45"/>
<text transform="translate(210.90 727.41) scale(1 1.15)" font-size="2.3" text-anchor="end" fill="#4a4a4a">ANTIGEN_PROCESSING_AND_PRESENTATION_OF_EXOGENOU...</text>
<rect x="213.00" y="728.81" width="40.00" height="2.95" fill="#B94A3A" stroke="#4a2019" stroke-width="0.45"/>
<text transform="translate(210.90 731.26) scale(1 1.15)" font-size="2.3" text-anchor="end" fill="#4a4a4a">ANTIGEN_PROCESSING_AND_PRESENTATION</text>
<rect x="213.00" y="732.67" width="33.70" height="2.95" fill="#B94A3A" stroke="#4a2019" stroke-width="0.45"/>
<text transform="translate(210.90 735.12) scale(1 1.15)" font-size="2.3" text-anchor="end" fill="#4a4a4a">ADAPTIVE_IMMUNE_RESPONSE_BASED_ON_SOMATIC_RECOM...</text>
<rect x="213.00" y="736.52" width="32.70" height="2.95" fill="#B94A3A" stroke="#4a2019" stroke-width="0.45"/>
<text transform="translate(210.90 738.97) scale(1 1.15)" font-size="2.3" text-anchor="end" fill="#4a4a4a">COAGULATION</text>
<rect x="213.00" y="740.38" width="32.30" height="2.95" fill="#B94A3A" stroke="#4a2019" stroke-width="0.45"/>
<text transform="translate(210.90 742.83) scale(1 1.15)" font-size="2.3" text-anchor="end" fill="#4a4a4a">OXIDATIVE_PHOSPHORYLATION</text>
<rect x="213.00" y="744.23" width="30.80" height="2.95" fill="#B94A3A" stroke="#4a2019" stroke-width="0.45"/>
<text transform="translate(210.90 746.68) scale(1 1.15)" font-size="2.3" text-anchor="end" fill="#4a4a4a">PROTEIN_SECRETION</text>
<rect x="213.00" y="748.09" width="30.20" height="2.95" fill="#B94A3A" stroke="#4a2019" stroke-width="0.45"/>
<text transform="translate(210.90 750.54) scale(1 1.15)" font-size="2.3" text-anchor="end" fill="#4a4a4a">ADAPTIVE_IMMUNE_RESPONSE</text>
<rect x="213.00" y="751.94" width="30.20" height="2.95" fill="#B94A3A" stroke="#4a2019" stroke-width="0.45"/>
<text transform="translate(210.90 754.39) scale(1 1.15)" font-size="2.3" text-anchor="end" fill="#4a4a4a">AMYLOID_FIBRIL_FORMATION</text>
<rect x="213.00" y="755.80" width="29.80" height="2.95" fill="#B94A3A" stroke="#4a2019" stroke-width="0.45"/>
<text transform="translate(210.90 758.25) scale(1 1.15)" font-size="2.3" text-anchor="end" fill="#4a4a4a">AMYLOID_BETA_CLEARANCE</text>
<rect x="213.00" y="759.65" width="28.80" height="2.95" fill="#B94A3A" stroke="#4a2019" stroke-width="0.45"/>
<text transform="translate(210.90 762.10) scale(1 1.15)" font-size="2.3" text-anchor="end" fill="#4a4a4a">AMEBOIDAL_TYPE_CELL_MIGRATION</text>
<rect x="213.00" y="763.50" width="27.10" height="2.95" fill="#B94A3A" stroke="#4a2019" stroke-width="0.45"/>
<text transform="translate(210.90 765.96) scale(1 1.15)" font-size="2.3" text-anchor="end" fill="#4a4a4a">ANTIGEN_PROCESSING_AND_PRESENTATION_OF_ENDOGENO...</text>
<rect x="213.00" y="767.36" width="26.70" height="2.95" fill="#B94A3A" stroke="#4a2019" stroke-width="0.45"/>
<text transform="translate(210.90 769.81) scale(1 1.15)" font-size="2.3" text-anchor="end" fill="#4a4a4a">ACUTE_INFLAMMATORY_RESPONSE_TO_ANTIGENIC_STIMULUS</text>
<rect x="213.00" y="771.22" width="26.10" height="2.95" fill="#B94A3A" stroke="#4a2019" stroke-width="0.45"/>
<text transform="translate(210.90 773.67) scale(1 1.15)" font-size="2.3" text-anchor="end" fill="#4a4a4a">CHOLESTEROL_HOMEOSTASIS</text>
<rect x="213.00" y="775.07" width="26.10" height="2.95" fill="#B94A3A" stroke="#4a2019" stroke-width="0.45"/>
<text transform="translate(210.90 777.52) scale(1 1.15)" font-size="2.3" text-anchor="end" fill="#4a4a4a">ANATOMICAL_STRUCTURE_ARRANGEMENT</text>
<rect x="213.00" y="778.93" width="25.70" height="2.95" fill="#B94A3A" stroke="#4a2019" stroke-width="0.45"/>
<text transform="translate(210.90 781.38) scale(1 1.15)" font-size="2.3" text-anchor="end" fill="#4a4a4a">ACTIVATION_OF_IMMUNE_RESPONSE</text>
<rect x="213.00" y="782.78" width="25.10" height="2.95" fill="#B94A3A" stroke="#4a2019" stroke-width="0.45"/>
<text transform="translate(210.90 785.23) scale(1 1.15)" font-size="2.3" text-anchor="end" fill="#4a4a4a">MYC_TARGETS_V2</text>
<rect x="213.00" y="786.63" width="24.10" height="2.95" fill="#B94A3A" stroke="#4a2019" stroke-width="0.45"/>
<text transform="translate(210.90 789.09) scale(1 1.15)" font-size="2.3" text-anchor="end" fill="#4a4a4a">ARACHIDONATE_METABOLIC_PROCESS</text>
<rect x="213.00" y="790.49" width="23.10" height="2.95" fill="#B94A3A" stroke="#4a2019" stroke-width="0.45"/>
<text transform="translate(210.90 792.94) scale(1 1.15)" font-size="2.3" text-anchor="end" fill="#4a4a4a">ANATOMICAL_STRUCTURE_FORMATION_INVOLVED_IN_MORP...</text>
<rect x="213.00" y="794.35" width="22.00" height="2.95" fill="#B94A3A" stroke="#4a2019" stroke-width="0.45"/>
<text transform="translate(210.90 796.80) scale(1 1.15)" font-size="2.3" text-anchor="end" fill="#4a4a4a">AMPA_GLUTAMATE_RECEPTOR_CLUSTERING</text>
<rect x="213.00" y="798.20" width="22.00" height="2.95" fill="#B94A3A" stroke="#4a2019" stroke-width="0.45"/>
<text transform="translate(210.90 800.65) scale(1 1.15)" font-size="2.3" text-anchor="end" fill="#4a4a4a">ANGIOGENESIS_INVOLVED_IN_CORONARY_VASCULAR_MORP...</text>
<rect x="187.00" y="802.06" width="26.00" height="2.95" fill="#4777BD" stroke="#1c2e4a" stroke-width="0.45"/>
<text transform="translate(215.10 804.51) scale(1 1.15)" font-size="2.3" fill="#4a4a4a">ACUTE_INFLAMMATORY_RESPONSE</text>
<rect x="186.00" y="805.91" width="27.00" height="2.95" fill="#4777BD" stroke="#1c2e4a" stroke-width="0.45"/>
<text transform="translate(215.10 808.36) scale(1 1.15)" font-size="2.3" fill="#4a4a4a">ACTIVATION_OF_INNATE_IMMUNE_RESPONSE</text>
<rect x="184.60" y="809.76" width="28.40" height="2.95" fill="#4777BD" stroke="#1c2e4a" stroke-width="0.45"/>
<text transform="translate(215.10 812.22) scale(1 1.15)" font-size="2.3" fill="#4a4a4a">ADENYLATE_CYCLASE_MODULATING_G_PROTEIN_COUP...</text>
<rect x="183.50" y="813.62" width="29.50" height="2.95" fill="#4777BD" stroke="#1c2e4a" stroke-width="0.45"/>
<text transform="translate(215.10 816.07) scale(1 1.15)" font-size="2.3" fill="#4a4a4a">INTERFERON_ALPHA_RESPONSE</text>
<rect x="183.30" y="817.48" width="29.70" height="2.95" fill="#4777BD" stroke="#1c2e4a" stroke-width="0.45"/>
<text transform="translate(215.10 819.93) scale(1 1.15)" font-size="2.3" fill="#4a4a4a">INTERFERON_GAMMA_RESPONSE</text>
<rect x="182.30" y="821.33" width="30.70" height="2.95" fill="#4777BD" stroke="#1c2e4a" stroke-width="0.45"/>
<text transform="translate(215.10 823.78) scale(1 1.15)" font-size="2.3" fill="#4a4a4a">ANTIMICROBIAL_HUMORAL_IMMUNE_RESPONSE_MEDIATED...</text>
<rect x="178.40" y="825.19" width="34.60" height="2.95" fill="#4777BD" stroke="#1c2e4a" stroke-width="0.45"/>
<text transform="translate(215.10 827.64) scale(1 1.15)" font-size="2.3" fill="#4a4a4a">ANTIMICROBIAL_HUMORAL_RESPONSE</text>
<rect x="173.30" y="829.04" width="39.70" height="2.95" fill="#4777BD" stroke="#1c2e4a" stroke-width="0.45"/>
<text transform="translate(215.10 831.49) scale(1 1.15)" font-size="2.3" fill="#4a4a4a">INFLAMMATORY_RESPONSE</text>
<rect x="169.20" y="832.89" width="43.80" height="2.95" fill="#4777BD" stroke="#1c2e4a" stroke-width="0.45"/>
<text transform="translate(215.10 835.35) scale(1 1.15)" font-size="2.3" fill="#4a4a4a">TNFA_SIGNALING_VIA_NFKB</text>
<line x1="154.30" y1="836.50" x2="271.80" y2="836.50" stroke="#555" stroke-width="0.8"/>
<line x1="181.90" y1="836.50" x2="181.90" y2="837.50" stroke="#555" stroke-width="0.5"/>
<text x="181.90" y="842.80" font-size="5.8" text-anchor="middle" fill="#444">−2</text>
<line x1="213.60" y1="836.50" x2="213.60" y2="837.50" stroke="#555" stroke-width="0.5"/>
<text x="213.60" y="842.80" font-size="5.8" text-anchor="middle" fill="#444">0</text>
<line x1="246.70" y1="836.50" x2="246.70" y2="837.50" stroke="#555" stroke-width="0.5"/>
<text x="246.70" y="842.80" font-size="5.8" text-anchor="middle" fill="#444">2</text>
<text x="213.05" y="849.60" font-size="6.97" text-anchor="middle">Normalized Enrichment Score (NES)</text>
<text x="348.70" y="716.00" font-size="7.0" text-anchor="middle">PRAD</text>
<rect x="344.60" y="721.10" width="46.40" height="2.95" fill="#B94A3A" stroke="#4a2019" stroke-width="0.45"/>
<text transform="translate(342.50 723.55) scale(1 1.15)" font-size="2.3" text-anchor="end" fill="#4a4a4a">TNFA_SIGNALING_VIA_NFKB</text>
<rect x="344.60" y="724.96" width="37.20" height="2.95" fill="#B94A3A" stroke="#4a2019" stroke-width="0.45"/>
<text transform="translate(342.50 727.41) scale(1 1.15)" font-size="2.3" text-anchor="end" fill="#4a4a4a">UV_RESPONSE_UP</text>
<rect x="344.60" y="728.81" width="33.70" height="2.95" fill="#B94A3A" stroke="#4a2019" stroke-width="0.45"/>
<text transform="translate(342.50 731.26) scale(1 1.15)" font-size="2.3" text-anchor="end" fill="#4a4a4a">APOPTOSIS</text>
<rect x="344.60" y="732.67" width="33.30" height="2.95" fill="#B94A3A" stroke="#4a2019" stroke-width="0.45"/>
<text transform="translate(342.50 735.12) scale(1 1.15)" font-size="2.3" text-anchor="end" fill="#4a4a4a">INFLAMMATORY_RESPONSE</text>
<rect x="344.60" y="736.52" width="33.10" height="2.95" fill="#B94A3A" stroke="#4a2019" stroke-width="0.45"/>
<text transform="translate(342.50 738.97) scale(1 1.15)" font-size="2.3" text-anchor="end" fill="#4a4a4a">KRAS_SIGNALING_UP</text>
<rect x="344.60" y="740.38" width="32.10" height="2.95" fill="#B94A3A" stroke="#4a2019" stroke-width="0.45"/>
<text transform="translate(342.50 742.83) scale(1 1.15)" font-size="2.3" text-anchor="end" fill="#4a4a4a">HYPOXIA</text>
<rect x="344.60" y="744.23" width="30.20" height="2.95" fill="#B94A3A" stroke="#4a2019" stroke-width="0.45"/>
<text transform="translate(342.50 746.68) scale(1 1.15)" font-size="2.3" text-anchor="end" fill="#4a4a4a">ESTROGEN_RESPONSE_EARLY</text>
<rect x="344.60" y="748.09" width="29.60" height="2.95" fill="#B94A3A" stroke="#4a2019" stroke-width="0.45"/>
<text transform="translate(342.50 750.54) scale(1 1.15)" font-size="2.3" text-anchor="end" fill="#4a4a4a">ACUTE_PHASE_RESPONSE</text>
<rect x="344.60" y="751.94" width="29.20" height="2.95" fill="#B94A3A" stroke="#4a2019" stroke-width="0.45"/>
<text transform="translate(342.50 754.39) scale(1 1.15)" font-size="2.3" text-anchor="end" fill="#4a4a4a">IL6_JAK_STAT3_SIGNALING</text>
<rect x="344.60" y="755.80" width="29.00" height="2.95" fill="#B94A3A" stroke="#4a2019" stroke-width="0.45"/>
<text transform="translate(342.50 758.25) scale(1 1.15)" font-size="2.3" text-anchor="end" fill="#4a4a4a">P53_PATHWAY</text>
<rect x="344.60" y="759.65" width="28.20" height="2.95" fill="#B94A3A" stroke="#4a2019" stroke-width="0.45"/>
<text transform="translate(342.50 762.10) scale(1 1.15)" font-size="2.3" text-anchor="end" fill="#4a4a4a">MTORC1_SIGNALING</text>
<rect x="344.60" y="763.50" width="28.00" height="2.95" fill="#B94A3A" stroke="#4a2019" stroke-width="0.45"/>
<text transform="translate(342.50 765.96) scale(1 1.15)" font-size="2.3" text-anchor="end" fill="#4a4a4a">COMPLEMENT</text>
<rect x="344.60" y="767.36" width="27.00" height="2.95" fill="#B94A3A" stroke="#4a2019" stroke-width="0.45"/>
<text transform="translate(342.50 769.81) scale(1 1.15)" font-size="2.3" text-anchor="end" fill="#4a4a4a">UNFOLDED_PROTEIN_RESPONSE</text>
<rect x="344.60" y="771.22" width="26.60" height="2.95" fill="#B94A3A" stroke="#4a2019" stroke-width="0.45"/>
<text transform="translate(342.50 773.67) scale(1 1.15)" font-size="2.3" text-anchor="end" fill="#4a4a4a">G2M_CHECKPOINT</text>
<rect x="344.60" y="775.07" width="26.60" height="2.95" fill="#B94A3A" stroke="#4a2019" stroke-width="0.45"/>
<text transform="translate(342.50 777.52) scale(1 1.15)" font-size="2.3" text-anchor="end" fill="#4a4a4a">IL2_STAT5_SIGNALING</text>
<rect x="344.60" y="778.93" width="26.20" height="2.95" fill="#B94A3A" stroke="#4a2019" stroke-width="0.45"/>
<text transform="translate(342.50 781.38) scale(1 1.15)" font-size="2.3" text-anchor="end" fill="#4a4a4a">ESTROGEN_RESPONSE_LATE</text>
<rect x="344.60" y="782.78" width="26.20" height="2.95" fill="#B94A3A" stroke="#4a2019" stroke-width="0.45"/>
<text transform="translate(342.50 785.23) scale(1 1.15)" font-size="2.3" text-anchor="end" fill="#4a4a4a">INTERFERON_GAMMA_RESPONSE</text>
<rect x="344.60" y="786.63" width="24.90" height="2.95" fill="#B94A3A" stroke="#4a2019" stroke-width="0.45"/>
<text transform="translate(342.50 789.09) scale(1 1.15)" font-size="2.3" text-anchor="end" fill="#4a4a4a">EPITHELIAL_MESENCHYMAL_TRANSITION</text>
<rect x="344.60" y="790.49" width="24.90" height="2.95" fill="#B94A3A" stroke="#4a2019" stroke-width="0.45"/>
<text transform="translate(342.50 792.94) scale(1 1.15)" font-size="2.3" text-anchor="end" fill="#4a4a4a">ACUTE_INFLAMMATORY_RESPONSE</text>
<rect x="344.60" y="794.35" width="24.50" height="2.95" fill="#B94A3A" stroke="#4a2019" stroke-width="0.45"/>
<text transform="translate(342.50 796.80) scale(1 1.15)" font-size="2.3" text-anchor="end" fill="#4a4a4a">MYC_TARGETS_V1</text>
<rect x="344.60" y="798.20" width="23.50" height="2.95" fill="#B94A3A" stroke="#4a2019" stroke-width="0.45"/>
<text transform="translate(342.50 800.65) scale(1 1.15)" font-size="2.3" text-anchor="end" fill="#4a4a4a">CHOLESTEROL_HOMEOSTASIS</text>
<rect x="344.60" y="802.06" width="23.10" height="2.95" fill="#B94A3A" stroke="#4a2019" stroke-width="0.45"/>
<text transform="translate(342.50 804.51) scale(1 1.15)" font-size="2.3" text-anchor="end" fill="#4a4a4a">KRAS_SIGNALING_DN</text>
<rect x="344.60" y="805.91" width="21.50" height="2.95" fill="#B94A3A" stroke="#4a2019" stroke-width="0.45"/>
<text transform="translate(342.50 808.36) scale(1 1.15)" font-size="2.3" text-anchor="end" fill="#4a4a4a">HEDGEHOG_SIGNALING</text>
<rect x="344.60" y="809.76" width="20.40" height="2.95" fill="#B94A3A" stroke="#4a2019" stroke-width="0.45"/>
<text transform="translate(342.50 812.22) scale(1 1.15)" font-size="2.3" text-anchor="end" fill="#4a4a4a">ACID_SECRETION</text>
<rect x="344.60" y="813.62" width="19.40" height="2.95" fill="#B94A3A" stroke="#4a2019" stroke-width="0.45"/>
<text transform="translate(342.50 816.07) scale(1 1.15)" font-size="2.3" text-anchor="end" fill="#4a4a4a">ADAPTATION_OF_SIGNALING_PATHWAY</text>
<rect x="324.80" y="817.48" width="19.80" height="2.95" fill="#4777BD" stroke="#1c2e4a" stroke-width="0.45"/>
<text transform="translate(346.70 819.93) scale(1 1.15)" font-size="2.3" fill="#4a4a4a">ACTIN_FILAMENT_BASED_PROCESS</text>
<rect x="319.10" y="821.33" width="25.50" height="2.95" fill="#4777BD" stroke="#1c2e4a" stroke-width="0.45"/>
<text transform="translate(346.70 823.78) scale(1 1.15)" font-size="2.3" fill="#4a4a4a">ACTIN_FILAMENT_ORGANIZATION</text>
<rect x="314.60" y="825.19" width="30.00" height="2.95" fill="#4777BD" stroke="#1c2e4a" stroke-width="0.45"/>
<text transform="translate(346.70 827.64) scale(1 1.15)" font-size="2.3" fill="#4a4a4a">ACTIN_POLYMERIZATION_OR_DEPOLYMERIZATION</text>
<rect x="313.30" y="829.04" width="31.30" height="2.95" fill="#4777BD" stroke="#1c2e4a" stroke-width="0.45"/>
<text transform="translate(346.70 831.49) scale(1 1.15)" font-size="2.3" fill="#4a4a4a">ACTIN_FILAMENT_POLYMERIZATION</text>
<rect x="313.30" y="832.89" width="31.30" height="2.95" fill="#4777BD" stroke="#1c2e4a" stroke-width="0.45"/>
<text transform="translate(346.70 835.35) scale(1 1.15)" font-size="2.3" fill="#4a4a4a">OXIDATIVE_PHOSPHORYLATION</text>
<line x1="286.30" y1="836.50" x2="403.30" y2="836.50" stroke="#555" stroke-width="0.8"/>
<line x1="319.00" y1="836.50" x2="319.00" y2="837.50" stroke="#555" stroke-width="0.5"/>
<text x="319.00" y="842.80" font-size="5.8" text-anchor="middle" fill="#444">−2</text>
<line x1="345.40" y1="836.50" x2="345.40" y2="837.50" stroke="#555" stroke-width="0.5"/>
<text x="345.40" y="842.80" font-size="5.8" text-anchor="middle" fill="#444">0</text>
<line x1="373.60" y1="836.50" x2="373.60" y2="837.50" stroke="#555" stroke-width="0.5"/>
<text x="373.60" y="842.80" font-size="5.8" text-anchor="middle" fill="#444">2</text>
<text x="344.80" y="849.60" font-size="6.97" text-anchor="middle">Normalized Enrichment Score (NES)</text>
<text x="482.50" y="716.00" font-size="7.0" text-anchor="middle">CHOL</text>
<rect x="463.70" y="721.10" width="68.40" height="2.95" fill="#B94A3A" stroke="#4a2019" stroke-width="0.45"/>
<text transform="translate(461.60 723.55) scale(1 1.15)" font-size="2.3" text-anchor="end" fill="#4a4a4a">ATP_SYNTHESIS_COUPLED_PROTON_TRANSPORT</text>
<rect x="463.70" y="724.96" width="55.10" height="2.95" fill="#B94A3A" stroke="#4a2019" stroke-width="0.45"/>
<text transform="translate(461.60 727.41) scale(1 1.15)" font-size="2.3" text-anchor="end" fill="#4a4a4a">ANTIMICROBIAL_HUMORAL_RESPONSE</text>
<rect x="463.70" y="728.81" width="55.10" height="2.95" fill="#B94A3A" stroke="#4a2019" stroke-width="0.45"/>
<text transform="translate(461.60 731.26) scale(1 1.15)" font-size="2.3" text-anchor="end" fill="#4a4a4a">ANTIMICROBIAL_HUMORAL_IMMUNE_RESPONSE_MEDIATED...</text>
<rect x="463.70" y="732.67" width="50.00" height="2.95" fill="#B94A3A" stroke="#4a2019" stroke-width="0.45"/>
<text transform="translate(461.60 735.12) scale(1 1.15)" font-size="2.3" text-anchor="end" fill="#4a4a4a">ATP_BIOSYNTHETIC_PROCESS</text>
<rect x="463.70" y="736.52" width="47.60" height="2.95" fill="#B94A3A" stroke="#4a2019" stroke-width="0.45"/>
<text transform="translate(461.60 738.97) scale(1 1.15)" font-size="2.3" text-anchor="end" fill="#4a4a4a">ANGIOGENESIS</text>
<rect x="463.70" y="740.38" width="47.60" height="2.95" fill="#B94A3A" stroke="#4a2019" stroke-width="0.45"/>
<text transform="translate(461.60 742.83) scale(1 1.15)" font-size="2.3" text-anchor="end" fill="#4a4a4a">CELLULAR_TRANSITION_METAL_ION_HOMEOSTASIS</text>
<rect x="463.70" y="744.23" width="46.10" height="2.95" fill="#B94A3A" stroke="#4a2019" stroke-width="0.45"/>
<text transform="translate(461.60 746.68) scale(1 1.15)" font-size="2.3" text-anchor="end" fill="#4a4a4a">CARBOHYDRATE_DERIVATIVE_BIOSYNTHETIC_PROCESS</text>
<rect x="463.70" y="748.09" width="46.10" height="2.95" fill="#B94A3A" stroke="#4a2019" stroke-width="0.45"/>
<text transform="translate(461.60 750.54) scale(1 1.15)" font-size="2.3" text-anchor="end" fill="#4a4a4a">CELL_PROCESS_INVOLVED_IN_REPRODUCTION_IN_MUL...</text>
<rect x="463.70" y="751.94" width="42.10" height="2.95" fill="#B94A3A" stroke="#4a2019" stroke-width="0.45"/>
<text transform="translate(461.60 754.39) scale(1 1.15)" font-size="2.3" text-anchor="end" fill="#4a4a4a">ATP_METABOLIC_PROCESS</text>
<rect x="463.70" y="755.80" width="41.40" height="2.95" fill="#B94A3A" stroke="#4a2019" stroke-width="0.45"/>
<text transform="translate(461.60 758.25) scale(1 1.15)" font-size="2.3" text-anchor="end" fill="#4a4a4a">CATION_TRANSMEMBRANE_TRANSPORT</text>
<rect x="463.70" y="759.65" width="41.40" height="2.95" fill="#B94A3A" stroke="#4a2019" stroke-width="0.45"/>
<text transform="translate(461.60 762.10) scale(1 1.15)" font-size="2.3" text-anchor="end" fill="#4a4a4a">ACTIVATION_OF_CYSTEINE_TYPE_ENDOPEPTIDASE_ACTIV...</text>
<rect x="463.70" y="763.50" width="41.00" height="2.95" fill="#B94A3A" stroke="#4a2019" stroke-width="0.45"/>
<text transform="translate(461.60 765.96) scale(1 1.15)" font-size="2.3" text-anchor="end" fill="#4a4a4a">CELLULAR_RESPONSE_TO_LIPOPROTEIN</text>
<rect x="463.70" y="767.36" width="41.00" height="2.95" fill="#B94A3A" stroke="#4a2019" stroke-width="0.45"/>
<text transform="translate(461.60 769.81) scale(1 1.15)" font-size="2.3" text-anchor="end" fill="#4a4a4a">CELLULAR_RESPONSE_TO_HEAT</text>
<rect x="463.70" y="771.22" width="40.80" height="2.95" fill="#B94A3A" stroke="#4a2019" stroke-width="0.45"/>
<text transform="translate(461.60 773.67) scale(1 1.15)" font-size="2.3" text-anchor="end" fill="#4a4a4a">CARBOHYDRATE_TRANSPORT</text>
<rect x="463.70" y="775.07" width="40.80" height="2.95" fill="#B94A3A" stroke="#4a2019" stroke-width="0.45"/>
<text transform="translate(461.60 777.52) scale(1 1.15)" font-size="2.3" text-anchor="end" fill="#4a4a4a">AUTOCRINE_SIGNALING</text>
<rect x="463.70" y="778.93" width="39.00" height="2.95" fill="#B94A3A" stroke="#4a2019" stroke-width="0.45"/>
<text transform="translate(461.60 781.38) scale(1 1.15)" font-size="2.3" text-anchor="end" fill="#4a4a4a">AEROBIC_RESPIRATION</text>
<rect x="463.70" y="782.78" width="39.00" height="2.95" fill="#B94A3A" stroke="#4a2019" stroke-width="0.45"/>
<text transform="translate(461.60 785.23) scale(1 1.15)" font-size="2.3" text-anchor="end" fill="#4a4a4a">CELLULAR_GLUCAN_METABOLIC_PROCESS</text>
<rect x="463.70" y="786.63" width="39.00" height="2.95" fill="#B94A3A" stroke="#4a2019" stroke-width="0.45"/>
<text transform="translate(461.60 789.09) scale(1 1.15)" font-size="2.3" text-anchor="end" fill="#4a4a4a">CELLULAR_RESPONSE_TO_ZINC_ION</text>
<rect x="463.70" y="790.49" width="39.00" height="2.95" fill="#B94A3A" stroke="#4a2019" stroke-width="0.45"/>
<text transform="translate(461.60 792.94) scale(1 1.15)" font-size="2.3" text-anchor="end" fill="#4a4a4a">BEHAVIORAL_RESPONSE_TO_PAIN</text>
<rect x="463.70" y="794.35" width="38.80" height="2.95" fill="#B94A3A" stroke="#4a2019" stroke-width="0.45"/>
<text transform="translate(461.60 796.80) scale(1 1.15)" font-size="2.3" text-anchor="end" fill="#4a4a4a">CELLULAR_CARBOHYDRATE_BIOSYNTHETIC_PROCESS</text>
<rect x="463.70" y="798.20" width="38.00" height="2.95" fill="#B94A3A" stroke="#4a2019" stroke-width="0.45"/>
<text transform="translate(461.60 800.65) scale(1 1.15)" font-size="2.3" text-anchor="end" fill="#4a4a4a">CELLULAR_RESPONSE_TO_BACTERIAL_LIPOPROTEIN</text>
<rect x="463.70" y="802.06" width="34.70" height="2.95" fill="#B94A3A" stroke="#4a2019" stroke-width="0.45"/>
<text transform="translate(461.60 804.51) scale(1 1.15)" font-size="2.3" text-anchor="end" fill="#4a4a4a">CELLULAR_RESPIRATION</text>
<rect x="463.70" y="805.91" width="33.90" height="2.95" fill="#B94A3A" stroke="#4a2019" stroke-width="0.45"/>
<text transform="translate(461.60 808.36) scale(1 1.15)" font-size="2.3" text-anchor="end" fill="#4a4a4a">OXIDATIVE_PHOSPHORYLATION</text>
<rect x="463.70" y="809.76" width="31.80" height="2.95" fill="#B94A3A" stroke="#4a2019" stroke-width="0.45"/>
<text transform="translate(461.60 812.22) scale(1 1.15)" font-size="2.3" text-anchor="end" fill="#4a4a4a">BILE_ACID_AND_BILE_SALT_TRANSPORT</text>
<rect x="463.70" y="813.62" width="31.80" height="2.95" fill="#B94A3A" stroke="#4a2019" stroke-width="0.45"/>
<text transform="translate(461.60 816.07) scale(1 1.15)" font-size="2.3" text-anchor="end" fill="#4a4a4a">CALCIUM_DEPENDENT_CELL_CELL_ADHESION_VIA_PLASMA...</text>
<rect x="463.70" y="817.48" width="31.80" height="2.95" fill="#B94A3A" stroke="#4a2019" stroke-width="0.45"/>
<text transform="translate(461.60 819.93) scale(1 1.15)" font-size="2.3" text-anchor="end" fill="#4a4a4a">CALCIUM_ION_TRANSMEMBRANE_TRANSPORT</text>
<rect x="463.70" y="821.33" width="31.20" height="2.95" fill="#B94A3A" stroke="#4a2019" stroke-width="0.45"/>
<text transform="translate(461.60 823.78) scale(1 1.15)" font-size="2.3" text-anchor="end" fill="#4a4a4a">GLUCOSE_TRANSPORT</text>
<rect x="426.90" y="825.19" width="36.80" height="2.95" fill="#4777BD" stroke="#1c2e4a" stroke-width="0.45"/>
<text transform="translate(465.80 827.64) scale(1 1.15)" font-size="2.3" fill="#4a4a4a">ANTIGEN_PROCESSING_AND_PRESENTATION_OF_EXOGENOU...</text>
<rect x="426.00" y="829.04" width="37.70" height="2.95" fill="#4777BD" stroke="#1c2e4a" stroke-width="0.45"/>
<text transform="translate(465.80 831.49) scale(1 1.15)" font-size="2.3" fill="#4a4a4a">ARACHIDONIC_ACID_METABOLIC_PROCESS</text>
<rect x="425.40" y="832.89" width="38.30" height="2.95" fill="#4777BD" stroke="#1c2e4a" stroke-width="0.45"/>
<text transform="translate(465.80 835.35) scale(1 1.15)" font-size="2.3" fill="#4a4a4a">B_CELL_MEDIATED_IMMUNITY</text>
<line x1="420.30" y1="836.50" x2="536.80" y2="836.50" stroke="#555" stroke-width="0.8"/>
<line x1="464.30" y1="836.50" x2="464.30" y2="837.50" stroke="#555" stroke-width="0.5"/>
<text x="464.30" y="842.80" font-size="5.8" text-anchor="middle" fill="#444">0</text>
<line x1="512.30" y1="836.50" x2="512.30" y2="837.50" stroke="#555" stroke-width="0.5"/>
<text x="512.30" y="842.80" font-size="5.8" text-anchor="middle" fill="#444">2</text>
<text x="478.55" y="849.60" font-size="6.97" text-anchor="middle">Normalized Enrichment Score (NES)</text>
<text x="611.60" y="716.00" font-size="7.0" text-anchor="middle">KIRC</text>
<rect x="608.00" y="721.10" width="34.70" height="2.95" fill="#B94A3A" stroke="#4a2019" stroke-width="0.45"/>
<text transform="translate(605.90 723.55) scale(1 1.15)" font-size="2.3" text-anchor="end" fill="#4a4a4a">ACTIVATION_OF_CYSTEINE_TYPE_ENDOPEPTIDASE_ACTIV...</text>
<rect x="608.00" y="724.96" width="30.00" height="2.95" fill="#B94A3A" stroke="#4a2019" stroke-width="0.45"/>
<text transform="translate(605.90 727.41) scale(1 1.15)" font-size="2.3" text-anchor="end" fill="#4a4a4a">AUTOCRINE_SIGNALING</text>
<rect x="608.00" y="728.81" width="27.30" height="2.95" fill="#B94A3A" stroke="#4a2019" stroke-width="0.45"/>
<text transform="translate(605.90 731.26) scale(1 1.15)" font-size="2.3" text-anchor="end" fill="#4a4a4a">AMINOGLYCAN_CATABOLIC_PROCESS</text>
<rect x="608.00" y="732.67" width="26.90" height="2.95" fill="#B94A3A" stroke="#4a2019" stroke-width="0.45"/>
<text transform="translate(605.90 735.12) scale(1 1.15)" font-size="2.3" text-anchor="end" fill="#4a4a4a">BEHAVIORAL_RESPONSE_TO_PAIN</text>
<rect x="608.00" y="736.52" width="26.90" height="2.95" fill="#B94A3A" stroke="#4a2019" stroke-width="0.45"/>
<text transform="translate(605.90 738.97) scale(1 1.15)" font-size="2.3" text-anchor="end" fill="#4a4a4a">AMYLOID_BETA_CLEARANCE_BY_CELLULAR_CATABOLIC_PR...</text>
<rect x="608.00" y="740.38" width="26.90" height="2.95" fill="#B94A3A" stroke="#4a2019" stroke-width="0.45"/>
<text transform="translate(605.90 742.83) scale(1 1.15)" font-size="2.3" text-anchor="end" fill="#4a4a4a">ACTIN_FILAMENT_BASED_TRANSPORT</text>
<rect x="608.00" y="744.23" width="24.50" height="2.95" fill="#B94A3A" stroke="#4a2019" stroke-width="0.45"/>
<text transform="translate(605.90 746.68) scale(1 1.15)" font-size="2.3" text-anchor="end" fill="#4a4a4a">ACYLGLYCEROL_TRANSPORT</text>
<rect x="584.90" y="748.09" width="23.10" height="2.95" fill="#4777BD" stroke="#1c2e4a" stroke-width="0.45"/>
<text transform="translate(610.10 750.54) scale(1 1.15)" font-size="2.3" fill="#4a4a4a">BILE_ACID_AND_BILE_SALT_TRANSPORT</text>
<rect x="581.20" y="751.94" width="26.80" height="2.95" fill="#4777BD" stroke="#1c2e4a" stroke-width="0.45"/>
<text transform="translate(610.10 754.39) scale(1 1.15)" font-size="2.3" fill="#4a4a4a">ASTROCYTE_CELL_MIGRATION</text>
<rect x="580.40" y="755.80" width="27.60" height="2.95" fill="#4777BD" stroke="#1c2e4a" stroke-width="0.45"/>
<text transform="translate(610.10 758.25) scale(1 1.15)" font-size="2.3" fill="#4a4a4a">ANTIGEN_PROCESSING_AND_PRESENTATION_OF_PEPTIDE_...</text>
<rect x="580.20" y="759.65" width="27.80" height="2.95" fill="#4777BD" stroke="#1c2e4a" stroke-width="0.45"/>
<text transform="translate(610.10 762.10) scale(1 1.15)" font-size="2.3" fill="#4a4a4a">ASTROCYTE_ACTIVATION</text>
<rect x="580.20" y="763.50" width="27.80" height="2.95" fill="#4777BD" stroke="#1c2e4a" stroke-width="0.45"/>
<text transform="translate(610.10 765.96) scale(1 1.15)" font-size="2.3" fill="#4a4a4a">KRAS_SIGNALING_DN</text>
<rect x="579.30" y="767.36" width="28.70" height="2.95" fill="#4777BD" stroke="#1c2e4a" stroke-width="0.45"/>
<text transform="translate(610.10 769.81) scale(1 1.15)" font-size="2.3" fill="#4a4a4a">ANTIGEN_PROCESSING_AND_PRESENTATION</text>
<rect x="579.10" y="771.22" width="28.90" height="2.95" fill="#4777BD" stroke="#1c2e4a" stroke-width="0.45"/>
<text transform="translate(610.10 773.67) scale(1 1.15)" font-size="2.3" fill="#4a4a4a">ALPHA_BETA_T_CELL_ACTIVATION</text>
<rect x="578.70" y="775.07" width="29.30" height="2.95" fill="#4777BD" stroke="#1c2e4a" stroke-width="0.45"/>
<text transform="translate(610.10 777.52) scale(1 1.15)" font-size="2.3" fill="#4a4a4a">BIOLOGICAL_PROCESS_INVOLVED_IN_SYMBIOTIC_INTERA...</text>
<rect x="578.70" y="778.93" width="29.30" height="2.95" fill="#4777BD" stroke="#1c2e4a" stroke-width="0.45"/>
<text transform="translate(610.10 781.38) scale(1 1.15)" font-size="2.3" fill="#4a4a4a">INTERFERON_GAMMA_RESPONSE</text>
<rect x="578.30" y="782.78" width="29.70" height="2.95" fill="#4777BD" stroke="#1c2e4a" stroke-width="0.45"/>
<text transform="translate(610.10 785.23) scale(1 1.15)" font-size="2.3" fill="#4a4a4a">ANTIGEN_PROCESSING_AND_PRESENTATION_OF_EXOGENOU...</text>
<rect x="577.70" y="786.63" width="30.30" height="2.95" fill="#4777BD" stroke="#1c2e4a" stroke-width="0.45"/>
<text transform="translate(610.10 789.09) scale(1 1.15)" font-size="2.3" fill="#4a4a4a">ANATOMICAL_STRUCTURE_MATURATION</text>
<rect x="577.30" y="790.49" width="30.70" height="2.95" fill="#4777BD" stroke="#1c2e4a" stroke-width="0.45"/>
<text transform="translate(610.10 792.94) scale(1 1.15)" font-size="2.3" fill="#4a4a4a">ALCOHOL_METABOLIC_PROCESS</text>
<rect x="577.10" y="794.35" width="30.90" height="2.95" fill="#4777BD" stroke="#1c2e4a" stroke-width="0.45"/>
<text transform="translate(610.10 796.80) scale(1 1.15)" font-size="2.3" fill="#4a4a4a">BIOLOGICAL_PROCESS_INVOLVED_IN_INTERSPECIES_INT...</text>
<rect x="576.70" y="798.20" width="31.30" height="2.95" fill="#4777BD" stroke="#1c2e4a" stroke-width="0.45"/>
<text transform="translate(610.10 800.65) scale(1 1.15)" font-size="2.3" fill="#4a4a4a">ACUTE_INFLAMMATORY_RESPONSE_TO_ANTIGENIC_STIMULUS</text>
<rect x="576.70" y="802.06" width="31.30" height="2.95" fill="#4777BD" stroke="#1c2e4a" stroke-width="0.45"/>
<text transform="translate(610.10 804.51) scale(1 1.15)" font-size="2.3" fill="#4a4a4a">CHOLESTEROL_HOMEOSTASIS</text>
<rect x="576.10" y="805.91" width="31.90" height="2.95" fill="#4777BD" stroke="#1c2e4a" stroke-width="0.45"/>
<text transform="translate(610.10 808.36) scale(1 1.15)" font-size="2.3" fill="#4a4a4a">ANDROGEN_RESPONSE</text>
<rect x="575.70" y="809.76" width="32.30" height="2.95" fill="#4777BD" stroke="#1c2e4a" stroke-width="0.45"/>
<text transform="translate(610.10 812.22) scale(1 1.15)" font-size="2.3" fill="#4a4a4a">ACTIVATION_OF_IMMUNE_RESPONSE</text>
<rect x="575.20" y="813.62" width="32.80" height="2.95" fill="#4777BD" stroke="#1c2e4a" stroke-width="0.45"/>
<text transform="translate(610.10 816.07) scale(1 1.15)" font-size="2.3" fill="#4a4a4a">ALPHA_BETA_T_CELL_DIFFERENTIATION</text>
<rect x="574.00" y="817.48" width="34.00" height="2.95" fill="#4777BD" stroke="#1c2e4a" stroke-width="0.45"/>
<text transform="translate(610.10 819.93) scale(1 1.15)" font-size="2.3" fill="#4a4a4a">INFLAMMATORY_RESPONSE</text>
<rect x="573.60" y="821.33" width="34.40" height="2.95" fill="#4777BD" stroke="#1c2e4a" stroke-width="0.45"/>
<text transform="translate(610.10 823.78) scale(1 1.15)" font-size="2.3" fill="#4a4a4a">COAGULATION</text>
<rect x="571.20" y="825.19" width="36.80" height="2.95" fill="#4777BD" stroke="#1c2e4a" stroke-width="0.45"/>
<text transform="translate(610.10 827.64) scale(1 1.15)" font-size="2.3" fill="#4a4a4a">ADAPTIVE_IMMUNE_RESPONSE_BASED_ON_SOMATIC_RECOM...</text>
<rect x="570.50" y="829.04" width="37.50" height="2.95" fill="#4777BD" stroke="#1c2e4a" stroke-width="0.45"/>
<text transform="translate(610.10 831.49) scale(1 1.15)" font-size="2.3" fill="#4a4a4a">ADAPTIVE_IMMUNE_RESPONSE</text>
<rect x="564.40" y="832.89" width="43.60" height="2.95" fill="#4777BD" stroke="#1c2e4a" stroke-width="0.45"/>
<text transform="translate(610.10 835.35) scale(1 1.15)" font-size="2.3" fill="#4a4a4a">TNFA_SIGNALING_VIA_NFKB</text>
<line x1="550.10" y1="836.50" x2="667.00" y2="836.50" stroke="#555" stroke-width="0.8"/>
<line x1="575.20" y1="836.50" x2="575.20" y2="837.50" stroke="#555" stroke-width="0.5"/>
<text x="575.20" y="842.80" font-size="5.8" text-anchor="middle" fill="#444">−2</text>
<line x1="609.20" y1="836.50" x2="609.20" y2="837.50" stroke="#555" stroke-width="0.5"/>
<text x="609.20" y="842.80" font-size="5.8" text-anchor="middle" fill="#444">0</text>
<line x1="645.10" y1="836.50" x2="645.10" y2="837.50" stroke="#555" stroke-width="0.5"/>
<text x="645.10" y="842.80" font-size="5.8" text-anchor="middle" fill="#444">2</text>
<text x="608.55" y="849.60" font-size="6.97" text-anchor="middle">Normalized Enrichment Score (NES)</text>
</svg>
</body></html>
